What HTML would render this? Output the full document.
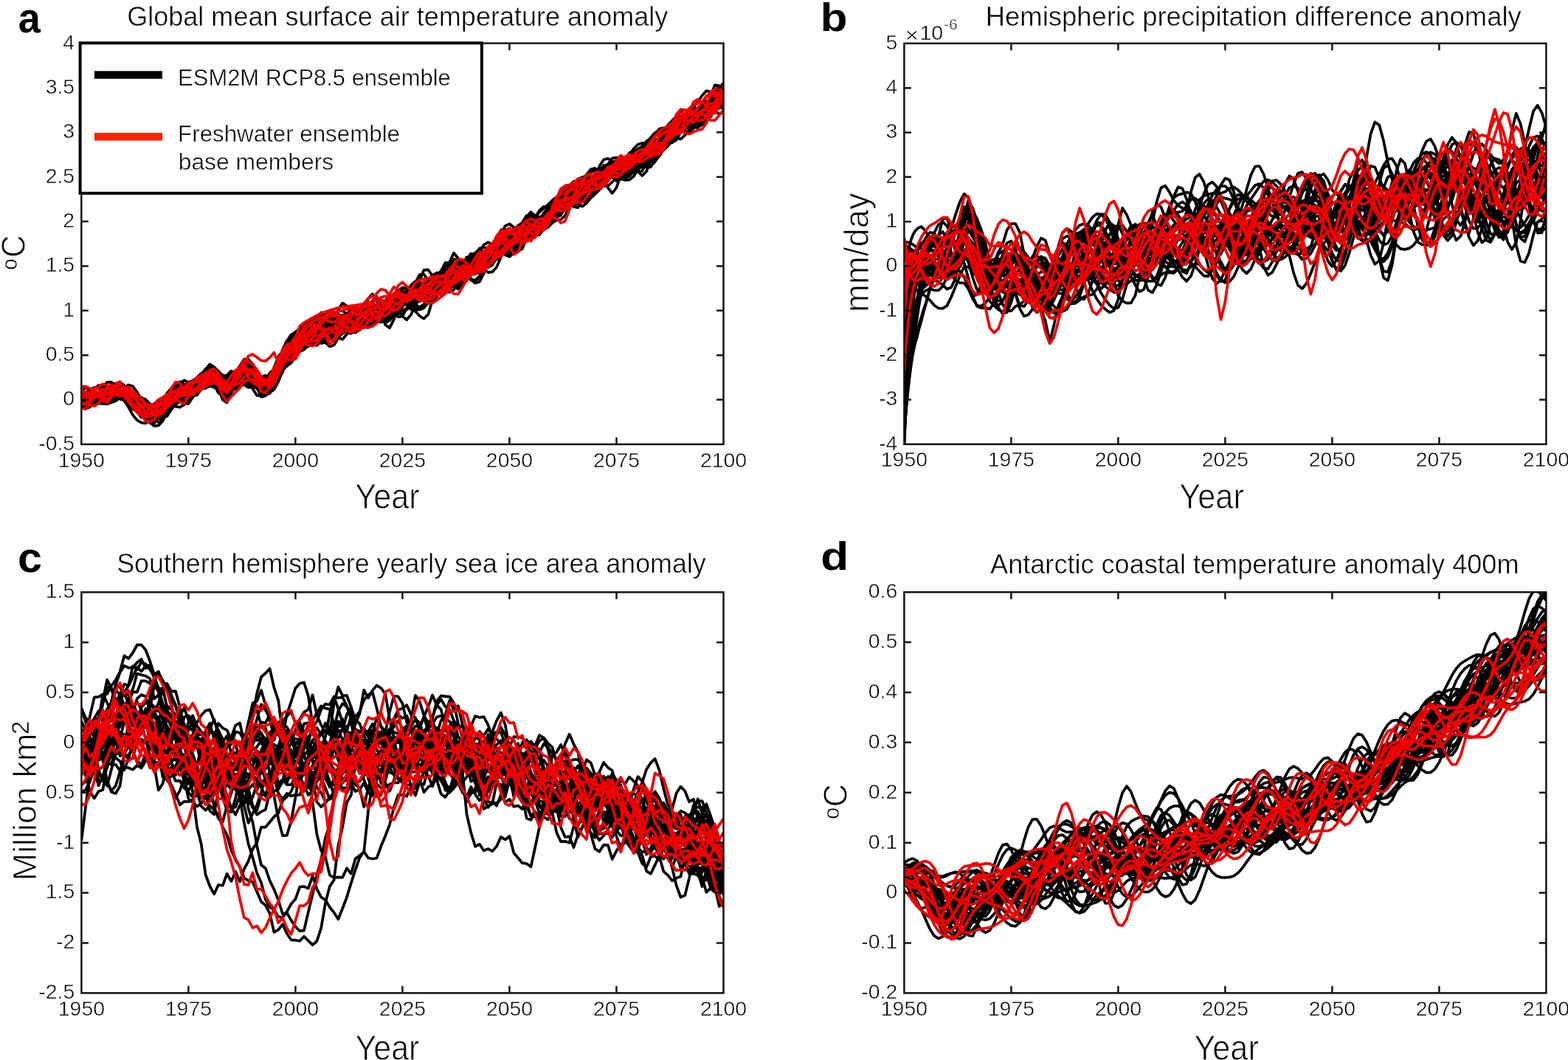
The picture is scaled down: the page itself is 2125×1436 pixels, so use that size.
<!DOCTYPE html>
<html><head><meta charset="utf-8"><title>Figure</title>
<style>html,body{margin:0;padding:0;background:#fff;} svg{display:block;} text{font-family:'Liberation Sans', Arial, Helvetica, sans-serif;fill:#000;stroke:#fff;stroke-width:0.5px;} text[font-weight=bold]{stroke:none;} .big{stroke-width:0.9px;}</style>
</head><body>
<svg width="2125" height="1436" viewBox="0 0 2125 1436">
<rect width="2125" height="1436" fill="#fff"/>
<defs>
<clipPath id="clipa"><rect x="110.3" y="58.6" width="870.20" height="543.30"/></clipPath>
<clipPath id="clipb"><rect x="1225.4" y="58.8" width="870.00" height="543.00"/></clipPath>
<clipPath id="clipc"><rect x="110.4" y="802.3" width="870.10" height="543.00"/></clipPath>
<clipPath id="clipd"><rect x="1225.4" y="802.2" width="870.00" height="543.10"/></clipPath>
</defs>
<g clip-path="url(#clipa)">
<polyline points="110.3,537.9 116.1,533.8 121.9,535.6 127.7,536.6 133.5,534.3 139.3,533.5 145.1,536.5 150.9,537.4 156.7,535.0 162.5,534.5 168.3,542.6 174.1,551.6 179.9,562.1 185.7,569.2 191.5,572.6 197.3,573.5 203.1,569.2 208.9,565.3 214.7,561.4 220.5,564.5 226.3,564.0 232.1,554.9 237.9,544.4 243.7,539.7 249.5,542.4 255.3,542.7 261.1,537.8 266.9,529.8 272.7,520.4 278.5,514.5 284.3,508.4 290.1,510.4 295.9,515.3 301.7,520.7 307.5,525.3 313.3,523.2 319.1,519.7 324.9,509.8 330.8,501.6 336.6,505.3 342.4,507.1 348.2,511.0 354.0,513.2 359.8,511.6 365.6,511.6 371.4,508.9 377.2,499.9 383.0,486.3 388.8,474.0 394.6,465.9 400.4,456.7 406.2,446.8 412.0,445.2 417.8,449.5 423.6,452.6 429.4,452.9 435.2,453.9 441.0,455.8 446.8,451.6 452.6,440.5 458.4,430.9 464.2,432.6 470.0,441.6 475.8,445.2 481.6,445.6 487.4,446.8 493.2,440.6 499.0,425.8 504.8,414.1 510.6,413.2 516.4,418.5 522.2,419.2 528.0,412.4 533.8,406.4 539.6,407.5 545.4,408.9 551.2,407.0 557.0,406.5 562.8,408.7 568.6,408.5 574.4,402.1 580.2,391.0 586.0,380.3 591.8,376.0 597.6,376.1 603.4,375.3 609.2,371.9 615.0,367.7 620.8,366.7 626.6,370.2 632.4,374.9 638.2,378.7 644.0,383.5 649.8,381.8 655.6,370.3 661.4,354.0 667.2,336.7 673.0,327.8 678.8,331.6 684.6,333.6 690.4,327.2 696.2,320.7 702.0,317.8 707.8,313.3 713.6,308.0 719.4,307.8 725.2,310.3 731.0,309.0 736.8,304.6 742.6,300.4 748.4,293.7 754.2,283.9 760.0,273.7 765.9,268.3 771.7,268.3 777.5,272.1 783.3,276.9 789.1,279.7 794.9,275.2 800.7,268.1 806.5,262.9 812.3,257.1 818.1,250.9 823.9,243.6 829.7,236.2 835.5,231.0 841.3,229.6 847.1,225.1 852.9,212.8 858.7,205.2 864.5,208.2 870.3,212.9 876.1,213.2 881.9,208.3 887.7,200.0 893.5,196.2 899.3,195.8 905.1,195.0 910.9,191.1 916.7,180.4 922.5,167.6 928.3,158.8 934.1,155.9 939.9,157.9 945.7,160.6 951.5,159.4 957.3,154.7 963.1,149.5 968.9,146.8 974.7,146.6 980.5,143.7" fill="none" stroke="#000" stroke-width="3.7" stroke-linejoin="round"/>
<polyline points="110.3,539.2 116.1,539.5 121.9,538.7 127.7,539.3 133.5,542.4 139.3,544.2 145.1,541.2 150.9,534.3 156.7,531.1 162.5,530.4 168.3,534.6 174.1,538.5 179.9,543.1 185.7,546.8 191.5,552.6 197.3,557.9 203.1,555.4 208.9,552.8 214.7,549.6 220.5,551.4 226.3,551.3 232.1,545.1 237.9,534.2 243.7,525.4 249.5,524.2 255.3,522.1 261.1,516.8 266.9,513.1 272.7,510.1 278.5,507.7 284.3,504.9 290.1,509.3 295.9,510.1 301.7,509.3 307.5,508.5 313.3,502.6 319.1,505.8 324.9,512.0 330.8,511.4 336.6,511.7 342.4,511.6 348.2,516.3 354.0,525.2 359.8,534.9 365.6,533.1 371.4,517.2 377.2,502.4 383.0,491.9 388.8,485.5 394.6,485.4 400.4,483.0 406.2,476.4 412.0,473.6 417.8,467.7 423.6,456.8 429.4,448.9 435.2,448.3 441.0,453.2 446.8,456.5 452.6,455.7 458.4,451.0 464.2,444.9 470.0,438.8 475.8,430.6 481.6,422.1 487.4,420.4 493.2,424.3 499.0,425.0 504.8,425.4 510.6,429.2 516.4,430.8 522.2,424.4 528.0,415.4 533.8,411.2 539.6,409.2 545.4,405.3 551.2,403.9 557.0,411.0 562.8,421.6 568.6,428.0 574.4,431.7 580.2,426.2 586.0,406.7 591.8,389.1 597.6,386.9 603.4,390.4 609.2,384.8 615.0,373.9 620.8,368.1 626.6,366.9 632.4,364.3 638.2,357.4 644.0,350.1 649.8,347.2 655.6,348.9 661.4,349.2 667.2,344.9 673.0,339.1 678.8,336.1 684.6,335.9 690.4,333.7 696.2,328.4 702.0,318.6 707.8,304.9 713.6,298.3 719.4,299.8 725.2,302.6 731.0,308.4 736.8,310.5 742.6,302.4 748.4,292.2 754.2,287.9 760.0,285.3 765.9,277.8 771.7,265.6 777.5,256.3 783.3,251.7 789.1,248.7 794.9,247.6 800.7,252.1 806.5,256.0 812.3,249.7 818.1,234.5 823.9,223.0 829.7,219.7 835.5,220.6 841.3,222.2 847.1,223.0 852.9,222.0 858.7,217.3 864.5,208.2 870.3,200.1 876.1,199.3 881.9,203.4 887.7,202.2 893.5,192.8 899.3,180.7 905.1,175.5 910.9,176.9 916.7,178.5 922.5,176.6 928.3,168.5 934.1,161.2 939.9,159.0 945.7,158.0 951.5,156.0 957.3,155.4 963.1,154.8 968.9,149.7 974.7,140.8 980.5,132.1" fill="none" stroke="#000" stroke-width="3.7" stroke-linejoin="round"/>
<polyline points="110.3,544.6 116.1,545.3 121.9,545.6 127.7,541.8 133.5,536.0 139.3,531.2 145.1,525.7 150.9,520.7 156.7,519.5 162.5,517.8 168.3,521.9 174.1,532.4 179.9,546.7 185.7,553.2 191.5,551.5 197.3,550.2 203.1,554.0 208.9,564.1 214.7,565.3 220.5,559.7 226.3,549.7 232.1,541.3 237.9,535.4 243.7,530.8 249.5,530.8 255.3,529.5 261.1,525.0 266.9,518.6 272.7,507.9 278.5,499.7 284.3,499.8 290.1,513.2 295.9,524.2 301.7,532.6 307.5,539.1 313.3,530.2 319.1,516.2 324.9,507.1 330.8,507.5 336.6,516.5 342.4,517.8 348.2,515.7 354.0,510.9 359.8,508.6 365.6,512.5 371.4,513.9 377.2,509.5 383.0,498.4 388.8,488.0 394.6,483.0 400.4,475.1 406.2,461.4 412.0,446.9 417.8,436.9 423.6,436.9 429.4,441.0 435.2,442.8 441.0,445.3 446.8,449.3 452.6,454.3 458.4,457.2 464.2,451.6 470.0,440.1 475.8,431.9 481.6,429.0 487.4,432.9 493.2,440.3 499.0,438.5 504.8,428.7 510.6,420.5 516.4,415.4 522.2,412.7 528.0,416.9 533.8,422.7 539.6,419.0 545.4,410.3 551.2,408.0 557.0,405.6 562.8,394.3 568.6,383.7 574.4,383.3 580.2,390.0 586.0,393.0 591.8,384.2 597.6,370.6 603.4,365.0 609.2,367.4 615.0,374.2 620.8,381.3 626.6,382.5 632.4,374.8 638.2,364.6 644.0,357.7 649.8,351.4 655.6,350.5 661.4,353.8 667.2,353.1 673.0,347.6 678.8,342.9 684.6,341.1 690.4,339.8 696.2,338.2 702.0,336.9 707.8,330.8 713.6,320.0 719.4,313.9 725.2,314.4 731.0,313.6 736.8,308.2 742.6,299.4 748.4,287.7 754.2,277.5 760.0,271.5 765.9,269.8 771.7,268.4 777.5,267.6 783.3,264.2 789.1,257.5 794.9,251.6 800.7,249.3 806.5,251.1 812.3,251.8 818.1,245.8 823.9,237.1 829.7,233.4 835.5,236.0 841.3,238.8 847.1,237.4 852.9,234.0 858.7,233.9 864.5,230.7 870.3,219.8 876.1,213.6 881.9,217.3 887.7,217.8 893.5,211.8 899.3,202.2 905.1,193.1 910.9,187.0 916.7,180.1 922.5,173.6 928.3,169.7 934.1,169.4 939.9,172.4 945.7,172.8 951.5,162.4 957.3,147.1 963.1,139.1 968.9,136.5 974.7,132.9 980.5,126.8" fill="none" stroke="#000" stroke-width="3.7" stroke-linejoin="round"/>
<polyline points="110.3,546.5 116.1,545.0 121.9,540.5 127.7,538.4 133.5,541.2 139.3,545.3 145.1,546.1 150.9,538.6 156.7,528.8 162.5,526.4 168.3,536.1 174.1,546.6 179.9,554.6 185.7,556.0 191.5,557.0 197.3,561.5 203.1,564.4 208.9,566.7 214.7,559.7 220.5,548.8 226.3,535.7 232.1,529.5 237.9,532.2 243.7,534.7 249.5,536.4 255.3,536.5 261.1,533.8 266.9,530.0 272.7,523.0 278.5,514.8 284.3,508.2 290.1,512.3 295.9,518.8 301.7,526.9 307.5,532.4 313.3,526.4 319.1,519.4 324.9,512.0 330.8,507.9 336.6,513.6 342.4,517.9 348.2,525.1 354.0,531.6 359.8,535.0 365.6,530.8 371.4,516.3 377.2,502.3 383.0,492.2 388.8,485.0 394.6,481.9 400.4,477.3 406.2,469.6 412.0,464.9 417.8,461.8 423.6,458.2 429.4,451.7 435.2,446.2 441.0,445.3 446.8,445.2 452.6,445.9 458.4,445.4 464.2,439.4 470.0,432.5 475.8,429.9 481.6,431.3 487.4,432.9 493.2,429.6 499.0,422.9 504.8,420.7 510.6,423.9 516.4,423.6 522.2,413.5 528.0,402.6 533.8,401.5 539.6,408.3 545.4,412.5 551.2,411.6 557.0,414.7 562.8,418.9 568.6,417.4 574.4,415.2 580.2,410.0 586.0,397.6 591.8,385.3 597.6,378.0 603.4,369.1 609.2,358.7 615.0,357.6 620.8,366.2 626.6,375.6 632.4,378.4 638.2,370.8 644.0,358.5 649.8,349.0 655.6,343.5 661.4,341.5 667.2,341.1 673.0,335.9 678.8,326.2 684.6,318.0 690.4,314.3 696.2,315.3 702.0,318.2 707.8,321.5 713.6,324.7 719.4,321.6 725.2,311.5 731.0,304.6 736.8,303.9 742.6,305.1 748.4,302.0 754.2,298.4 760.0,297.5 765.9,292.1 771.7,277.0 777.5,263.1 783.3,258.3 789.1,258.3 794.9,257.6 800.7,259.9 806.5,262.0 812.3,252.8 818.1,236.7 823.9,222.8 829.7,214.6 835.5,213.4 841.3,215.8 847.1,216.5 852.9,216.4 858.7,215.6 864.5,209.0 870.3,198.2 876.1,192.8 881.9,195.3 887.7,194.2 893.5,186.7 899.3,178.1 905.1,173.0 910.9,172.1 916.7,173.4 922.5,172.1 928.3,164.5 934.1,156.9 939.9,157.1 945.7,162.1 951.5,161.4 957.3,156.1 963.1,152.4 968.9,145.7 974.7,133.6 980.5,124.5" fill="none" stroke="#000" stroke-width="3.7" stroke-linejoin="round"/>
<polyline points="110.3,540.0 116.1,537.3 121.9,535.7 127.7,535.4 133.5,532.2 139.3,524.0 145.1,517.8 150.9,517.7 156.7,521.7 162.5,523.1 168.3,527.1 174.1,534.0 179.9,543.0 185.7,548.4 191.5,555.5 197.3,566.7 203.1,572.0 208.9,571.2 214.7,562.8 220.5,556.7 226.3,548.8 232.1,540.2 237.9,534.4 243.7,530.8 249.5,532.1 255.3,533.9 261.1,532.0 266.9,526.5 272.7,518.3 278.5,514.3 284.3,512.3 290.1,515.7 295.9,517.5 301.7,523.3 307.5,531.4 313.3,526.0 319.1,512.6 324.9,497.7 330.8,491.0 336.6,496.0 342.4,497.6 348.2,503.5 354.0,513.5 359.8,517.8 365.6,512.1 371.4,501.6 377.2,492.3 383.0,479.4 388.8,462.5 394.6,453.3 400.4,452.9 406.2,457.6 412.0,461.7 417.8,457.1 423.6,449.4 429.4,443.8 435.2,443.1 441.0,448.5 446.8,451.5 452.6,449.0 458.4,446.3 464.2,445.5 470.0,445.8 475.8,446.7 481.6,442.4 487.4,430.7 493.2,418.9 499.0,410.7 504.8,410.8 510.6,421.4 516.4,432.8 522.2,435.4 528.0,431.1 533.8,425.3 539.6,422.6 545.4,421.6 551.2,418.3 557.0,412.9 562.8,406.3 568.6,401.4 574.4,399.1 580.2,398.2 586.0,399.0 591.8,399.9 597.6,394.8 603.4,379.5 609.2,360.9 615.0,351.1 620.8,352.1 626.6,357.5 632.4,359.3 638.2,355.8 644.0,354.2 649.8,354.0 655.6,352.0 661.4,348.8 667.2,346.6 673.0,344.8 678.8,339.9 684.6,328.3 690.4,317.4 696.2,315.1 702.0,315.3 707.8,312.4 713.6,311.4 719.4,311.5 725.2,306.3 731.0,297.9 736.8,290.4 742.6,284.4 748.4,280.4 754.2,280.0 760.0,277.9 765.9,272.6 771.7,269.9 777.5,273.0 783.3,271.3 789.1,261.9 794.9,250.5 800.7,243.1 806.5,242.6 812.3,244.7 818.1,243.3 823.9,240.7 829.7,238.5 835.5,237.7 841.3,240.6 847.1,242.3 852.9,238.7 858.7,232.2 864.5,222.6 870.3,210.8 876.1,200.9 881.9,197.8 887.7,201.1 893.5,205.1 899.3,203.4 905.1,197.5 910.9,189.3 916.7,181.7 922.5,179.5 928.3,175.8 934.1,166.6 939.9,157.8 945.7,151.9 951.5,146.9 957.3,141.6 963.1,135.6 968.9,129.9 974.7,126.8 980.5,126.4" fill="none" stroke="#000" stroke-width="3.7" stroke-linejoin="round"/>
<polyline points="110.3,542.7 116.1,541.0 121.9,539.0 127.7,537.3 133.5,536.3 139.3,531.4 145.1,524.1 150.9,522.4 156.7,529.6 162.5,535.3 168.3,538.3 174.1,539.9 179.9,547.0 185.7,553.5 191.5,560.2 197.3,568.6 203.1,572.6 208.9,577.1 214.7,576.4 220.5,570.4 226.3,557.6 232.1,547.5 237.9,544.7 243.7,541.9 249.5,536.0 255.3,527.7 261.1,523.0 266.9,523.5 272.7,521.3 278.5,517.4 284.3,515.7 290.1,520.4 295.9,518.2 301.7,514.1 307.5,514.5 313.3,511.4 319.1,510.0 324.9,506.1 330.8,500.1 336.6,497.2 342.4,493.8 348.2,502.8 354.0,516.0 359.8,520.3 365.6,514.2 371.4,505.7 377.2,504.1 383.0,500.6 388.8,488.1 394.6,473.7 400.4,458.8 406.2,447.1 412.0,445.2 417.8,447.3 423.6,445.3 429.4,433.9 435.2,423.3 441.0,424.4 446.8,428.7 452.6,428.7 458.4,429.3 464.2,433.9 470.0,434.3 475.8,429.4 481.6,427.0 487.4,428.4 493.2,429.1 499.0,427.9 504.8,427.4 510.6,428.5 516.4,427.5 522.2,421.2 528.0,416.5 533.8,416.4 539.6,414.4 545.4,411.8 551.2,411.7 557.0,409.1 562.8,398.9 568.6,380.6 574.4,365.8 580.2,365.4 586.0,373.5 591.8,378.0 597.6,377.2 603.4,373.9 609.2,371.9 615.0,371.7 620.8,366.9 626.6,359.5 632.4,355.5 638.2,356.5 644.0,356.9 649.8,351.0 655.6,343.9 661.4,341.0 667.2,343.2 673.0,347.9 678.8,345.2 684.6,331.9 690.4,320.3 696.2,315.8 702.0,313.0 707.8,311.7 713.6,314.1 719.4,313.8 725.2,307.3 731.0,301.5 736.8,297.4 742.6,293.6 748.4,291.3 754.2,285.8 760.0,277.7 765.9,275.6 771.7,274.6 777.5,266.3 783.3,253.7 789.1,247.7 794.9,247.6 800.7,246.1 806.5,244.3 812.3,243.7 818.1,242.0 823.9,240.8 829.7,240.2 835.5,236.9 841.3,231.6 847.1,228.1 852.9,225.0 858.7,217.6 864.5,207.7 870.3,199.7 876.1,192.8 881.9,186.4 887.7,179.7 893.5,177.5 899.3,179.1 905.1,176.6 910.9,167.2 916.7,157.7 922.5,161.0 928.3,170.9 934.1,169.5 939.9,156.7 945.7,145.9 951.5,142.0 957.3,140.4 963.1,136.6 968.9,132.5 974.7,131.0 980.5,133.0" fill="none" stroke="#000" stroke-width="3.7" stroke-linejoin="round"/>
<polyline points="110.3,531.7 116.1,530.9 121.9,531.0 127.7,531.7 133.5,531.9 139.3,530.3 145.1,530.6 150.9,532.4 156.7,533.7 162.5,532.8 168.3,535.3 174.1,536.6 179.9,540.0 185.7,545.3 191.5,552.8 197.3,559.4 203.1,559.0 208.9,557.8 214.7,550.5 220.5,542.2 226.3,533.5 232.1,528.1 237.9,528.5 243.7,530.4 249.5,531.6 255.3,529.1 261.1,525.8 266.9,525.6 272.7,526.0 278.5,525.9 284.3,522.9 290.1,524.6 295.9,524.2 301.7,526.4 307.5,529.8 313.3,524.4 319.1,522.3 324.9,522.3 330.8,521.3 336.6,525.0 342.4,524.4 348.2,522.4 354.0,521.2 359.8,522.9 365.6,521.7 371.4,513.5 377.2,503.0 383.0,490.3 388.8,475.5 394.6,462.0 400.4,451.9 406.2,450.5 412.0,455.5 417.8,455.9 423.6,450.9 429.4,444.3 435.2,438.3 441.0,435.7 446.8,438.9 452.6,444.8 458.4,443.4 464.2,438.4 470.0,439.1 475.8,442.4 481.6,443.0 487.4,437.3 493.2,423.0 499.0,410.5 504.8,413.4 510.6,424.7 516.4,428.4 522.2,422.5 528.0,417.1 533.8,416.2 539.6,412.3 545.4,404.3 551.2,402.1 557.0,408.5 562.8,416.4 568.6,419.4 574.4,417.3 580.2,410.0 586.0,398.4 591.8,386.5 597.6,374.4 603.4,365.7 609.2,366.4 615.0,369.5 620.8,366.4 626.6,364.8 632.4,369.7 638.2,372.2 644.0,369.3 649.8,363.7 655.6,360.6 661.4,362.1 667.2,359.0 673.0,348.7 678.8,338.2 684.6,330.3 690.4,324.7 696.2,321.3 702.0,322.5 707.8,325.5 713.6,323.0 719.4,315.9 725.2,309.3 731.0,306.3 736.8,303.4 742.6,296.1 748.4,285.7 754.2,277.5 760.0,267.5 765.9,254.9 771.7,251.2 777.5,255.3 783.3,249.8 789.1,239.9 794.9,239.1 800.7,244.9 806.5,249.3 812.3,249.7 818.1,246.4 823.9,240.7 829.7,235.7 835.5,235.1 841.3,236.5 847.1,235.3 852.9,230.9 858.7,224.3 864.5,214.9 870.3,205.2 876.1,199.7 881.9,197.5 887.7,194.7 893.5,192.4 899.3,189.2 905.1,184.0 910.9,178.1 916.7,171.7 922.5,166.5 928.3,165.6 934.1,167.6 939.9,166.5 945.7,161.7 951.5,155.4 957.3,149.1 963.1,146.2 968.9,150.3 974.7,154.7 980.5,152.0" fill="none" stroke="#000" stroke-width="3.7" stroke-linejoin="round"/>
<polyline points="110.3,529.0 116.1,532.3 121.9,535.1 127.7,539.2 133.5,542.1 139.3,542.0 145.1,540.3 150.9,534.6 156.7,526.8 162.5,523.2 168.3,529.9 174.1,535.9 179.9,540.1 185.7,542.7 191.5,549.4 197.3,561.4 203.1,569.6 208.9,573.3 214.7,565.9 220.5,557.2 226.3,550.6 232.1,546.6 237.9,540.9 243.7,533.2 249.5,531.5 255.3,533.6 261.1,535.7 266.9,535.3 272.7,527.4 278.5,519.6 284.3,516.3 290.1,518.8 295.9,519.4 301.7,523.7 307.5,528.4 313.3,523.0 319.1,518.7 324.9,516.0 330.8,513.4 336.6,515.6 342.4,515.7 348.2,518.0 354.0,518.5 359.8,516.7 365.6,512.5 371.4,502.8 377.2,489.3 383.0,473.7 388.8,461.3 394.6,458.0 400.4,458.4 406.2,457.1 412.0,457.8 417.8,458.8 423.6,457.6 429.4,456.7 435.2,458.6 441.0,460.3 446.8,454.2 452.6,441.7 458.4,430.9 464.2,428.2 470.0,432.3 475.8,436.8 481.6,436.6 487.4,431.9 493.2,425.0 499.0,416.6 504.8,414.1 510.6,422.3 516.4,433.0 522.2,437.2 528.0,433.9 533.8,423.1 539.6,411.7 545.4,409.1 551.2,408.4 557.0,400.8 562.8,395.2 568.6,397.8 574.4,400.1 580.2,395.6 586.0,386.0 591.8,375.6 597.6,366.8 603.4,360.9 609.2,357.7 615.0,359.5 620.8,367.3 626.6,373.9 632.4,371.6 638.2,363.5 644.0,356.6 649.8,352.4 655.6,350.4 661.4,344.5 667.2,334.1 673.0,326.8 678.8,322.6 684.6,318.2 690.4,318.3 696.2,326.6 702.0,335.0 707.8,333.3 713.6,325.6 719.4,316.4 725.2,305.7 731.0,299.3 736.8,297.2 742.6,291.9 748.4,284.2 754.2,283.2 760.0,282.5 765.9,275.5 771.7,267.8 777.5,264.3 783.3,262.0 789.1,261.7 794.9,259.3 800.7,252.3 806.5,246.5 812.3,243.4 818.1,237.4 823.9,227.1 829.7,219.4 835.5,218.5 841.3,219.1 847.1,219.0 852.9,215.9 858.7,208.7 864.5,201.4 870.3,199.2 876.1,202.7 881.9,206.0 887.7,200.9 893.5,189.8 899.3,178.1 905.1,169.5 910.9,163.4 916.7,157.8 922.5,157.8 928.3,165.3 934.1,173.8 939.9,174.0 945.7,164.2 951.5,151.6 957.3,142.2 963.1,133.2 968.9,124.1 974.7,118.3 980.5,118.5" fill="none" stroke="#000" stroke-width="3.7" stroke-linejoin="round"/>
<polyline points="110.3,535.0 116.1,536.8 121.9,537.7 127.7,535.9 133.5,534.8 139.3,536.1 145.1,541.3 150.9,544.6 156.7,540.0 162.5,529.8 168.3,526.7 174.1,530.4 179.9,539.8 185.7,544.9 191.5,545.3 197.3,549.0 203.1,555.3 208.9,562.8 214.7,558.6 220.5,546.2 226.3,532.4 232.1,526.3 237.9,525.9 243.7,526.5 249.5,529.1 255.3,529.8 261.1,528.7 266.9,524.9 272.7,516.1 278.5,508.3 284.3,504.3 290.1,511.7 295.9,520.2 301.7,527.1 307.5,531.3 313.3,528.7 319.1,527.3 324.9,522.4 330.8,517.3 336.6,521.7 342.4,524.2 348.2,525.4 354.0,522.6 359.8,517.7 365.6,514.1 371.4,509.9 377.2,502.1 383.0,489.1 388.8,476.8 394.6,468.1 400.4,460.9 406.2,461.4 412.0,466.8 417.8,464.3 423.6,456.7 429.4,453.6 435.2,454.4 441.0,451.1 446.8,443.0 452.6,438.2 458.4,436.7 464.2,435.5 470.0,438.0 475.8,441.8 481.6,440.0 487.4,437.4 493.2,440.4 499.0,440.5 504.8,430.8 510.6,418.6 516.4,414.4 522.2,413.8 528.0,409.9 533.8,406.0 539.6,400.5 545.4,395.0 551.2,395.6 557.0,400.9 562.8,404.3 568.6,404.5 574.4,404.5 580.2,396.7 586.0,380.0 591.8,369.6 597.6,369.6 603.4,370.0 609.2,363.1 615.0,356.0 620.8,357.7 626.6,366.6 632.4,374.9 638.2,378.9 644.0,379.8 649.8,374.0 655.6,363.5 661.4,354.3 667.2,344.7 673.0,331.6 678.8,319.4 684.6,314.9 690.4,315.8 696.2,317.6 702.0,319.3 707.8,317.6 713.6,315.3 719.4,316.0 725.2,315.6 731.0,309.7 736.8,297.3 742.6,287.9 748.4,286.1 754.2,287.1 760.0,287.7 765.9,284.1 771.7,270.8 777.5,253.5 783.3,243.9 789.1,246.6 794.9,250.7 800.7,249.2 806.5,244.6 812.3,239.5 818.1,235.6 823.9,233.2 829.7,233.1 835.5,235.6 841.3,238.7 847.1,239.3 852.9,236.3 858.7,231.1 864.5,224.9 870.3,218.2 876.1,211.9 881.9,209.7 887.7,209.1 893.5,205.0 899.3,193.4 905.1,177.5 910.9,165.7 916.7,161.9 922.5,162.4 928.3,162.1 934.1,161.0 939.9,159.9 945.7,160.8 951.5,154.9 957.3,140.3 963.1,133.3 968.9,135.9 974.7,136.4 980.5,134.0" fill="none" stroke="#000" stroke-width="3.7" stroke-linejoin="round"/>
<polyline points="110.3,540.3 116.1,537.5 121.9,537.1 127.7,538.6 133.5,541.4 139.3,542.1 145.1,540.5 150.9,535.3 156.7,529.9 162.5,528.9 168.3,535.4 174.1,539.4 179.9,541.7 185.7,540.8 191.5,539.0 197.3,541.1 203.1,547.1 208.9,556.9 214.7,560.5 220.5,561.8 226.3,558.1 232.1,551.4 237.9,543.4 243.7,534.5 249.5,531.0 255.3,531.1 261.1,529.7 266.9,523.7 272.7,511.6 278.5,500.8 284.3,493.4 290.1,497.1 295.9,503.0 301.7,509.1 307.5,511.5 313.3,506.8 319.1,505.2 324.9,498.1 330.8,489.7 336.6,492.9 342.4,497.2 348.2,506.4 354.0,517.5 359.8,524.7 365.6,524.9 371.4,516.9 377.2,506.1 383.0,492.4 388.8,479.2 394.6,472.1 400.4,461.8 406.2,446.3 412.0,439.8 417.8,442.7 423.6,446.9 429.4,445.8 435.2,442.7 441.0,444.1 446.8,442.3 452.6,431.8 458.4,426.0 464.2,430.0 470.0,430.9 475.8,427.9 481.6,425.9 487.4,426.4 493.2,427.7 499.0,422.9 504.8,417.6 510.6,418.9 516.4,421.1 522.2,418.6 528.0,412.8 533.8,408.3 539.6,408.3 545.4,409.5 551.2,409.3 557.0,408.4 562.8,412.3 568.6,416.3 574.4,412.4 580.2,403.7 586.0,393.7 591.8,387.8 597.6,388.5 603.4,384.5 609.2,372.9 615.0,363.4 620.8,360.4 626.6,363.8 632.4,366.2 638.2,358.8 644.0,347.8 649.8,343.0 655.6,344.0 661.4,344.7 667.2,341.9 673.0,334.1 678.8,326.9 684.6,328.5 690.4,331.8 696.2,326.3 702.0,316.5 707.8,311.7 713.6,313.2 719.4,315.7 725.2,317.8 731.0,318.3 736.8,310.0 742.6,296.9 748.4,285.7 754.2,275.1 760.0,265.6 765.9,259.4 771.7,252.6 777.5,247.5 783.3,248.0 789.1,250.4 794.9,249.7 800.7,249.7 806.5,251.0 812.3,250.9 818.1,251.9 823.9,251.9 829.7,246.5 835.5,241.1 841.3,240.0 847.1,238.3 852.9,231.3 858.7,223.4 864.5,219.3 870.3,216.9 876.1,213.9 881.9,210.0 887.7,200.9 893.5,192.5 899.3,188.9 905.1,184.0 910.9,177.0 916.7,172.7 922.5,169.7 928.3,165.3 934.1,166.3 939.9,171.7 945.7,172.7 951.5,168.9 957.3,163.8 963.1,157.3 968.9,149.1 974.7,141.5 980.5,135.3" fill="none" stroke="#000" stroke-width="3.7" stroke-linejoin="round"/>
<polyline points="110.3,537.4 116.1,534.9 121.9,536.1 127.7,539.6 133.5,543.2 139.3,542.2 145.1,535.3 150.9,528.6 156.7,530.2 162.5,534.1 168.3,537.4 174.1,536.0 179.9,535.9 185.7,535.9 191.5,538.4 197.3,544.5 203.1,547.9 208.9,553.5 214.7,556.6 220.5,558.6 226.3,553.4 232.1,547.3 237.9,545.2 243.7,541.0 249.5,536.1 255.3,532.9 261.1,530.5 266.9,527.2 272.7,521.6 278.5,518.6 284.3,517.2 290.1,519.6 295.9,518.4 301.7,521.1 307.5,527.8 313.3,526.1 319.1,520.6 324.9,509.8 330.8,500.0 336.6,500.2 342.4,499.6 348.2,506.0 354.0,516.8 359.8,526.3 365.6,531.8 371.4,527.7 377.2,517.2 383.0,501.8 388.8,487.8 394.6,481.2 400.4,478.4 406.2,474.9 412.0,471.7 417.8,469.0 423.6,466.5 429.4,464.6 435.2,464.9 441.0,464.2 446.8,456.5 452.6,444.4 458.4,436.1 464.2,437.2 470.0,444.0 475.8,447.4 481.6,445.1 487.4,441.8 493.2,438.0 499.0,431.5 504.8,428.3 510.6,425.1 516.4,416.1 522.2,406.9 528.0,402.0 533.8,399.2 539.6,395.8 545.4,391.2 551.2,389.1 557.0,388.8 562.8,388.3 568.6,391.1 574.4,396.5 580.2,398.6 586.0,394.7 591.8,390.3 597.6,387.1 603.4,381.4 609.2,377.9 615.0,382.3 620.8,385.5 626.6,378.7 632.4,370.5 638.2,368.8 644.0,370.9 649.8,368.8 655.6,359.3 661.4,350.0 667.2,346.7 673.0,344.5 678.8,337.4 684.6,329.6 690.4,326.7 696.2,325.1 702.0,317.8 707.8,310.6 713.6,313.0 719.4,317.1 725.2,314.2 731.0,303.7 736.8,288.6 742.6,283.0 748.4,288.2 754.2,286.4 760.0,271.6 765.9,257.3 771.7,251.7 777.5,255.5 783.3,263.1 789.1,269.2 794.9,270.5 800.7,263.3 806.5,250.0 812.3,237.0 818.1,229.1 823.9,229.2 829.7,228.5 835.5,219.9 841.3,213.5 847.1,217.0 852.9,220.2 858.7,214.7 864.5,209.2 870.3,209.9 876.1,208.4 881.9,203.3 887.7,201.1 893.5,201.9 899.3,198.6 905.1,190.0 910.9,178.5 916.7,166.9 922.5,161.0 928.3,162.3 934.1,163.8 939.9,156.7 945.7,146.5 951.5,141.1 957.3,141.4 963.1,144.4 968.9,143.9 974.7,141.7 980.5,142.9" fill="none" stroke="#000" stroke-width="3.7" stroke-linejoin="round"/>
<polyline points="110.3,545.0 116.1,540.6 121.9,539.2 127.7,537.4 133.5,534.3 139.3,533.8 145.1,532.9 150.9,528.0 156.7,524.7 162.5,524.7 168.3,529.1 174.1,532.9 179.9,539.4 185.7,545.7 191.5,548.4 197.3,548.9 203.1,548.3 208.9,548.2 214.7,543.9 220.5,545.5 226.3,546.1 232.1,542.3 237.9,535.5 243.7,526.0 249.5,524.4 255.3,528.9 261.1,529.6 266.9,526.4 272.7,522.2 278.5,519.5 284.3,517.9 290.1,524.2 295.9,526.3 301.7,526.5 307.5,527.8 313.3,523.2 319.1,519.1 324.9,512.0 330.8,507.8 336.6,515.8 342.4,522.0 348.2,526.2 354.0,527.8 359.8,526.1 365.6,515.9 371.4,498.1 377.2,483.2 383.0,475.9 388.8,474.7 394.6,472.4 400.4,460.3 406.2,447.7 412.0,442.7 417.8,438.9 423.6,433.9 429.4,430.4 435.2,429.7 441.0,431.5 446.8,432.8 452.6,432.5 458.4,430.2 464.2,427.6 470.0,424.6 475.8,420.8 481.6,419.9 487.4,421.4 493.2,422.2 499.0,417.9 504.8,415.1 510.6,422.5 516.4,430.9 522.2,427.1 528.0,412.1 533.8,398.3 539.6,396.0 545.4,401.2 551.2,404.1 557.0,397.9 562.8,387.5 568.6,383.7 574.4,386.7 580.2,388.9 586.0,391.0 591.8,393.8 597.6,394.9 603.4,396.7 609.2,393.8 615.0,382.4 620.8,374.3 626.6,373.8 632.4,368.9 638.2,355.4 644.0,343.6 649.8,336.6 655.6,335.0 661.4,336.9 667.2,337.4 673.0,336.8 678.8,334.9 684.6,329.8 690.4,321.6 696.2,315.0 702.0,314.3 707.8,315.7 713.6,314.9 719.4,313.9 725.2,313.8 731.0,311.3 736.8,305.0 742.6,298.9 748.4,290.5 754.2,276.0 760.0,259.5 765.9,251.7 771.7,250.9 777.5,248.3 783.3,243.4 789.1,244.6 794.9,247.4 800.7,244.6 806.5,237.2 812.3,230.0 818.1,225.4 823.9,224.8 829.7,228.1 835.5,229.2 841.3,224.3 847.1,217.7 852.9,214.9 858.7,211.1 864.5,204.9 870.3,205.0 876.1,211.9 881.9,216.2 887.7,211.4 893.5,202.0 899.3,194.3 905.1,190.7 910.9,187.6 916.7,181.8 922.5,173.2 928.3,163.0 934.1,160.5 939.9,164.7 945.7,163.4 951.5,156.6 957.3,151.8 963.1,150.2 968.9,147.4 974.7,140.6 980.5,131.5" fill="none" stroke="#000" stroke-width="3.7" stroke-linejoin="round"/>
<polyline points="110.3,530.7 116.1,530.5 121.9,538.2 127.7,544.5 133.5,546.5 139.3,547.0 145.1,547.2 150.9,545.3 156.7,543.3 162.5,538.7 168.3,536.6 174.1,536.7 179.9,539.7 185.7,541.9 191.5,547.8 197.3,557.0 203.1,560.1 208.9,558.4 214.7,550.7 220.5,549.1 226.3,547.7 232.1,540.7 237.9,530.2 243.7,519.5 249.5,515.2 255.3,517.9 261.1,523.8 266.9,527.7 272.7,523.9 278.5,513.4 284.3,499.9 290.1,500.4 295.9,513.0 301.7,528.4 307.5,534.8 313.3,529.1 319.1,525.6 324.9,518.7 330.8,508.5 336.6,507.8 342.4,510.3 348.2,516.5 354.0,522.0 359.8,527.0 365.6,528.1 371.4,520.6 377.2,509.3 383.0,497.1 388.8,486.7 394.6,476.6 400.4,465.6 406.2,459.5 412.0,458.4 417.8,452.3 423.6,441.8 429.4,438.1 435.2,446.0 441.0,454.7 446.8,448.8 452.6,432.4 458.4,421.4 464.2,420.7 470.0,425.7 475.8,431.9 481.6,434.0 487.4,432.6 493.2,432.2 499.0,429.0 504.8,420.9 510.6,419.1 516.4,426.5 522.2,430.1 528.0,428.0 533.8,428.5 539.6,425.9 545.4,414.9 551.2,404.3 557.0,395.4 562.8,389.1 568.6,391.7 574.4,398.1 580.2,401.1 586.0,401.1 591.8,396.9 597.6,390.5 603.4,384.7 609.2,374.6 615.0,362.0 620.8,355.0 626.6,353.6 632.4,352.3 638.2,347.5 644.0,342.3 649.8,339.3 655.6,340.5 661.4,346.7 667.2,352.1 673.0,350.1 678.8,339.2 684.6,325.5 690.4,319.0 696.2,320.7 702.0,323.3 707.8,324.6 713.6,325.3 719.4,323.7 725.2,320.1 731.0,315.3 736.8,306.3 742.6,299.7 748.4,298.3 754.2,295.6 760.0,285.2 765.9,272.0 771.7,262.2 777.5,255.9 783.3,255.0 789.1,258.4 794.9,255.1 800.7,244.1 806.5,238.8 812.3,241.2 818.1,238.8 823.9,229.3 829.7,220.6 835.5,217.8 841.3,221.0 847.1,223.2 852.9,219.7 858.7,216.5 864.5,221.7 870.3,225.6 876.1,216.8 881.9,201.8 887.7,190.4 893.5,187.0 899.3,182.7 905.1,173.2 910.9,164.9 916.7,160.8 922.5,159.3 928.3,159.2 934.1,160.2 939.9,159.4 945.7,157.2 951.5,153.3 957.3,147.9 963.1,141.6 968.9,132.9 974.7,127.9 980.5,129.6" fill="none" stroke="#000" stroke-width="3.7" stroke-linejoin="round"/>
<polyline points="110.3,534.8 116.1,539.8 121.9,546.3 127.7,545.7 133.5,538.7 139.3,528.8 145.1,524.6 150.9,527.6 156.7,530.9 162.5,529.6 168.3,529.1 174.1,528.7 179.9,534.5 185.7,542.0 191.5,549.4 197.3,556.2 203.1,555.6 208.9,554.6 214.7,554.1 220.5,556.9 226.3,553.9 232.1,545.8 237.9,537.1 243.7,531.0 249.5,530.7 255.3,527.5 261.1,520.8 266.9,515.4 272.7,508.4 278.5,502.0 284.3,497.5 290.1,501.2 295.9,504.9 301.7,512.8 307.5,521.7 313.3,518.7 319.1,516.2 324.9,515.3 330.8,515.0 336.6,519.4 342.4,518.7 348.2,520.3 354.0,523.7 359.8,523.4 365.6,515.9 371.4,506.4 377.2,501.8 383.0,497.6 388.8,491.4 394.6,485.7 400.4,476.3 406.2,466.8 412.0,465.7 417.8,465.8 423.6,462.0 429.4,453.1 435.2,439.6 441.0,430.8 446.8,434.1 452.6,446.3 458.4,457.3 464.2,459.8 470.0,452.8 475.8,442.9 481.6,437.6 487.4,435.4 493.2,431.5 499.0,424.2 504.8,420.3 510.6,423.0 516.4,425.5 522.2,423.1 528.0,420.9 533.8,424.6 539.6,429.4 545.4,428.4 551.2,417.4 557.0,399.4 562.8,388.4 568.6,388.6 574.4,390.6 580.2,393.3 586.0,396.4 591.8,395.1 597.6,389.7 603.4,382.6 609.2,378.2 615.0,378.4 620.8,375.3 626.6,370.4 632.4,366.4 638.2,359.2 644.0,351.5 649.8,346.9 655.6,345.1 661.4,345.3 667.2,340.7 673.0,325.3 678.8,311.7 684.6,310.9 690.4,319.1 696.2,327.0 702.0,328.6 707.8,324.7 713.6,317.4 719.4,311.4 725.2,311.2 731.0,313.7 736.8,311.1 742.6,302.7 748.4,294.1 754.2,287.6 760.0,278.8 765.9,272.1 771.7,273.2 777.5,274.0 783.3,263.3 789.1,246.9 794.9,238.6 800.7,242.6 806.5,248.0 812.3,245.7 818.1,239.2 823.9,231.8 829.7,222.6 835.5,217.0 841.3,216.0 847.1,213.4 852.9,208.9 858.7,207.9 864.5,209.2 870.3,209.1 876.1,209.5 881.9,209.3 887.7,204.9 893.5,202.5 899.3,202.7 905.1,198.1 910.9,182.9 916.7,162.4 922.5,150.6 928.3,149.0 934.1,152.2 939.9,155.7 945.7,156.2 951.5,156.0 957.3,156.4 963.1,152.9 968.9,146.6 974.7,141.7 980.5,136.8" fill="none" stroke="#000" stroke-width="3.7" stroke-linejoin="round"/>
<polyline points="110.3,542.1 116.1,543.6 121.9,540.9 127.7,538.5 133.5,538.2 139.3,536.6 145.1,534.6 150.9,533.3 156.7,531.0 162.5,525.5 168.3,526.8 174.1,531.7 179.9,538.8 185.7,544.3 191.5,550.5 197.3,559.6 203.1,564.8 208.9,567.2 214.7,561.9 220.5,555.3 226.3,548.3 232.1,546.6 237.9,550.8 243.7,551.8 249.5,548.1 255.3,539.9 261.1,528.2 266.9,519.3 272.7,515.3 278.5,514.2 284.3,511.7 290.1,516.1 295.9,520.9 301.7,525.5 307.5,526.2 313.3,516.5 319.1,509.5 324.9,504.2 330.8,500.6 336.6,504.5 342.4,505.9 348.2,509.3 354.0,514.7 359.8,520.7 365.6,520.6 371.4,509.2 377.2,495.5 383.0,484.3 388.8,471.9 394.6,459.5 400.4,450.7 406.2,447.1 412.0,443.4 417.8,437.0 423.6,436.6 429.4,442.4 435.2,450.6 441.0,457.1 446.8,454.2 452.6,444.8 458.4,440.2 464.2,444.2 470.0,450.5 475.8,451.9 481.6,447.4 487.4,437.4 493.2,421.3 499.0,404.5 504.8,398.2 510.6,407.3 516.4,424.6 522.2,439.9 528.0,444.2 533.8,432.8 539.6,414.9 545.4,401.5 551.2,395.6 557.0,393.5 562.8,390.9 568.6,387.5 574.4,388.9 580.2,395.8 586.0,398.6 591.8,390.1 597.6,375.2 603.4,367.7 609.2,371.5 615.0,377.2 620.8,376.3 626.6,371.7 632.4,367.2 638.2,361.6 644.0,356.1 649.8,350.6 655.6,345.2 661.4,342.7 667.2,342.6 673.0,340.4 678.8,334.8 684.6,328.7 690.4,325.4 696.2,325.0 702.0,326.2 707.8,324.0 713.6,317.6 719.4,311.1 725.2,306.3 731.0,307.1 736.8,309.9 742.6,308.1 748.4,302.0 754.2,295.3 760.0,286.2 765.9,275.0 771.7,266.7 777.5,263.7 783.3,262.0 789.1,260.3 794.9,257.5 800.7,252.0 806.5,246.6 812.3,245.8 818.1,247.3 823.9,245.0 829.7,238.0 835.5,232.4 841.3,230.0 847.1,224.0 852.9,211.9 858.7,203.5 864.5,204.6 870.3,209.1 876.1,214.6 881.9,217.5 887.7,209.4 893.5,196.3 899.3,186.6 905.1,184.1 910.9,182.9 916.7,177.8 922.5,173.3 928.3,171.1 934.1,170.1 939.9,166.5 945.7,155.8 951.5,141.0 957.3,130.8 963.1,127.9 968.9,125.7 974.7,119.7 980.5,112.4" fill="none" stroke="#000" stroke-width="3.7" stroke-linejoin="round"/>
<polyline points="110.3,544.9 116.1,542.0 121.9,535.3 127.7,528.3 133.5,524.0 139.3,520.9 145.1,523.3 150.9,527.1 156.7,526.6 162.5,523.6 168.3,526.3 174.1,532.2 179.9,543.8 185.7,554.3 191.5,562.2 197.3,568.2 203.1,570.1 208.9,572.4 214.7,565.8 220.5,556.4 226.3,548.7 232.1,547.1 237.9,548.2 243.7,544.0 249.5,538.9 255.3,533.6 261.1,526.9 266.9,521.1 272.7,516.1 278.5,512.0 284.3,506.5 290.1,508.5 295.9,510.2 301.7,512.4 307.5,516.8 313.3,514.4 319.1,510.0 324.9,500.8 330.8,491.6 336.6,493.6 342.4,497.3 348.2,504.4 354.0,511.2 359.8,516.5 365.6,519.7 371.4,513.4 377.2,501.0 383.0,491.2 388.8,485.7 394.6,479.1 400.4,464.3 406.2,450.0 412.0,451.2 417.8,456.2 423.6,452.2 429.4,443.6 435.2,442.2 441.0,452.8 446.8,459.7 452.6,455.0 458.4,450.4 464.2,451.5 470.0,448.6 475.8,437.1 481.6,430.0 487.4,430.3 493.2,426.1 499.0,415.8 504.8,407.6 510.6,407.4 516.4,409.2 522.2,407.9 528.0,408.5 533.8,410.8 539.6,412.6 545.4,414.9 551.2,411.0 557.0,401.7 562.8,399.6 568.6,402.7 574.4,406.4 580.2,410.7 586.0,410.1 591.8,402.3 597.6,391.5 603.4,380.7 609.2,373.3 615.0,370.6 620.8,368.6 626.6,368.7 632.4,370.5 638.2,367.5 644.0,359.4 649.8,349.5 655.6,345.5 661.4,348.6 667.2,350.7 673.0,346.3 678.8,338.4 684.6,331.4 690.4,327.7 696.2,322.6 702.0,314.5 707.8,309.3 713.6,307.1 719.4,304.8 725.2,304.6 731.0,305.0 736.8,302.6 742.6,299.3 748.4,291.6 754.2,277.2 760.0,262.1 765.9,254.5 771.7,252.2 777.5,251.3 783.3,250.5 789.1,247.7 794.9,241.4 800.7,233.6 806.5,230.1 812.3,235.0 818.1,239.0 823.9,237.3 829.7,239.2 835.5,245.2 841.3,242.8 847.1,227.1 852.9,210.9 858.7,201.5 864.5,195.7 870.3,193.8 876.1,196.1 881.9,199.6 887.7,199.4 893.5,193.3 899.3,185.1 905.1,182.8 910.9,182.5 916.7,178.0 922.5,174.2 928.3,170.8 934.1,167.9 939.9,168.6 945.7,168.5 951.5,160.0 957.3,150.0 963.1,145.1 968.9,138.8 974.7,131.5 980.5,130.3" fill="none" stroke="#000" stroke-width="3.7" stroke-linejoin="round"/>
<polyline points="110.3,537.4 116.1,539.7 121.9,540.2 127.7,540.1 133.5,540.1 139.3,538.3 145.1,537.0 150.9,535.8 156.7,536.0 162.5,535.6 168.3,535.5 174.1,533.5 179.9,537.0 185.7,545.7 191.5,558.1 197.3,565.8 203.1,560.5 208.9,553.0 214.7,545.6 220.5,545.9 226.3,545.8 232.1,543.3 237.9,540.4 243.7,531.7 249.5,522.7 255.3,518.5 261.1,515.9 266.9,511.7 272.7,505.9 278.5,503.6 284.3,505.0 290.1,514.5 295.9,516.7 301.7,512.8 307.5,512.2 313.3,510.1 319.1,510.4 324.9,506.9 330.8,499.3 336.6,497.6 342.4,498.3 348.2,505.3 354.0,511.4 359.8,513.3 365.6,511.2 371.4,505.4 377.2,497.3 383.0,482.2 388.8,468.1 394.6,464.9 400.4,460.0 406.2,450.1 412.0,446.8 417.8,450.9 423.6,456.1 429.4,456.7 435.2,455.0 441.0,450.9 446.8,442.9 452.6,432.8 458.4,419.5 464.2,410.6 470.0,414.5 475.8,426.4 481.6,437.2 487.4,442.9 493.2,443.8 499.0,441.8 504.8,438.9 510.6,435.0 516.4,432.8 522.2,434.1 528.0,434.1 533.8,426.8 539.6,414.3 545.4,402.8 551.2,395.4 557.0,393.5 562.8,395.6 568.6,396.2 574.4,390.1 580.2,379.7 586.0,377.8 591.8,385.5 597.6,391.9 603.4,393.8 609.2,392.8 615.0,385.2 620.8,374.5 626.6,368.5 632.4,365.7 638.2,362.6 644.0,360.9 649.8,358.9 655.6,356.3 661.4,352.0 667.2,345.1 673.0,336.0 678.8,326.6 684.6,320.6 690.4,318.9 696.2,321.1 702.0,324.7 707.8,327.1 713.6,323.7 719.4,314.4 725.2,307.3 731.0,303.5 736.8,297.8 742.6,292.7 748.4,286.6 754.2,280.3 760.0,277.3 765.9,272.6 771.7,263.1 777.5,260.5 783.3,266.2 789.1,273.0 794.9,273.7 800.7,266.1 806.5,256.3 812.3,251.9 818.1,248.9 823.9,240.3 829.7,231.5 835.5,228.4 841.3,224.6 847.1,217.9 852.9,215.4 858.7,219.1 864.5,224.8 870.3,227.5 876.1,223.5 881.9,214.5 887.7,202.3 893.5,191.6 899.3,184.1 905.1,181.0 910.9,182.6 916.7,186.8 922.5,188.4 928.3,183.1 934.1,175.8 939.9,170.1 945.7,166.7 951.5,164.6 957.3,159.1 963.1,150.2 968.9,142.7 974.7,137.3 980.5,132.9" fill="none" stroke="#000" stroke-width="3.7" stroke-linejoin="round"/>
<polyline points="110.3,537.2 116.1,535.0 121.9,533.5 127.7,532.2 133.5,533.2 139.3,537.3 145.1,537.8 150.9,530.6 156.7,524.7 162.5,524.3 168.3,528.8 174.1,528.7 179.9,531.1 185.7,538.9 191.5,551.5 197.3,562.5 203.1,567.7 208.9,571.1 214.7,563.5 220.5,554.9 226.3,548.4 232.1,541.1 237.9,530.6 243.7,522.1 249.5,523.8 255.3,527.5 261.1,525.4 266.9,522.2 272.7,519.8 278.5,514.0 284.3,504.4 290.1,509.8 295.9,526.0 301.7,541.4 307.5,545.4 313.3,533.2 319.1,520.0 324.9,509.4 330.8,504.4 336.6,509.5 342.4,513.3 348.2,519.6 354.0,522.3 359.8,516.1 365.6,505.3 371.4,500.0 377.2,502.2 383.0,501.2 388.8,495.8 394.6,491.8 400.4,482.7 406.2,468.0 412.0,459.8 417.8,460.5 423.6,466.0 429.4,467.9 435.2,461.9 441.0,451.6 446.8,441.3 452.6,435.0 458.4,432.2 464.2,430.2 470.0,433.1 475.8,443.1 481.6,450.6 487.4,443.7 493.2,426.4 499.0,414.0 504.8,412.4 510.6,416.1 516.4,421.0 522.2,422.5 528.0,417.1 533.8,409.1 539.6,406.5 545.4,407.6 551.2,405.8 557.0,400.9 562.8,397.6 568.6,392.6 574.4,385.1 580.2,380.8 586.0,376.9 591.8,370.9 597.6,369.9 603.4,374.5 609.2,380.6 615.0,387.5 620.8,391.4 626.6,387.6 632.4,379.2 638.2,372.3 644.0,367.4 649.8,364.8 655.6,360.7 661.4,350.5 667.2,336.9 673.0,323.7 678.8,315.6 684.6,314.8 690.4,317.4 696.2,318.0 702.0,316.0 707.8,314.8 713.6,314.6 719.4,311.6 725.2,306.1 731.0,300.9 736.8,297.5 742.6,296.5 748.4,293.7 754.2,290.5 760.0,287.9 765.9,281.1 771.7,276.5 777.5,279.2 783.3,274.9 789.1,264.8 794.9,255.9 800.7,250.3 806.5,246.1 812.3,234.8 818.1,224.0 823.9,223.8 829.7,228.7 835.5,231.3 841.3,230.5 847.1,228.4 852.9,226.3 858.7,221.3 864.5,216.8 870.3,216.5 876.1,215.1 881.9,211.0 887.7,202.8 893.5,193.6 899.3,190.8 905.1,192.1 910.9,189.4 916.7,183.7 922.5,178.3 928.3,171.5 934.1,164.2 939.9,157.4 945.7,151.7 951.5,146.0 957.3,141.5 963.1,140.4 968.9,142.5 974.7,143.2 980.5,136.4" fill="none" stroke="#000" stroke-width="3.7" stroke-linejoin="round"/>
<polyline points="110.3,533.9 116.1,532.0 121.9,531.9 127.7,532.1 133.5,535.4 139.3,540.0 145.1,543.9 150.9,542.9 156.7,539.6 162.5,537.9 168.3,540.3 174.1,539.5 179.9,541.4 185.7,547.2 191.5,557.5 197.3,567.6 203.1,569.5 208.9,568.1 214.7,559.4 220.5,550.4 226.3,539.3 232.1,529.7 237.9,525.8 243.7,524.8 249.5,526.5 255.3,525.0 261.1,520.2 266.9,518.4 272.7,515.8 278.5,508.9 284.3,501.1 290.1,505.1 295.9,514.0 301.7,523.8 307.5,526.2 313.3,516.7 319.1,513.8 324.9,512.5 330.8,509.1 336.6,516.4 342.4,526.6 348.2,535.7 354.0,536.2 359.8,529.6 365.6,520.7 371.4,509.1 377.2,499.3 383.0,493.6 388.8,490.5 394.6,487.3 400.4,481.8 406.2,474.5 412.0,468.1 417.8,462.5 423.6,460.8 429.4,457.8 435.2,448.0 441.0,442.5 446.8,447.5 452.6,450.2 458.4,442.4 464.2,434.5 470.0,433.7 475.8,435.1 481.6,435.6 487.4,438.9 493.2,441.1 499.0,435.9 504.8,425.8 510.6,416.7 516.4,412.0 522.2,409.7 528.0,407.3 533.8,407.1 539.6,411.9 545.4,419.1 551.2,419.7 557.0,414.3 562.8,410.6 568.6,406.8 574.4,402.0 580.2,397.7 586.0,393.0 591.8,390.8 597.6,387.9 603.4,375.6 609.2,364.1 615.0,363.4 620.8,363.3 626.6,358.3 632.4,357.0 638.2,360.3 644.0,359.8 649.8,353.4 655.6,346.0 661.4,340.6 667.2,338.5 673.0,338.6 678.8,338.9 684.6,338.1 690.4,334.9 696.2,329.7 702.0,325.0 707.8,318.1 713.6,310.9 719.4,309.7 725.2,309.1 731.0,304.0 736.8,297.2 742.6,291.0 748.4,285.1 754.2,280.6 760.0,277.2 765.9,272.2 771.7,264.1 777.5,262.0 783.3,265.2 789.1,263.8 794.9,260.3 800.7,258.7 806.5,251.0 812.3,237.7 818.1,227.7 823.9,222.4 829.7,222.0 835.5,222.7 841.3,219.4 847.1,213.4 852.9,209.3 858.7,208.6 864.5,207.5 870.3,202.5 876.1,197.6 881.9,199.2 887.7,202.1 893.5,200.0 899.3,194.1 905.1,190.0 910.9,186.8 916.7,181.1 922.5,172.4 928.3,161.6 934.1,152.8 939.9,145.4 945.7,137.7 951.5,129.5 957.3,123.0 963.1,124.6 968.9,134.1 974.7,144.9 980.5,147.3" fill="none" stroke="#000" stroke-width="3.7" stroke-linejoin="round"/>
<polyline points="110.3,538.1 116.1,533.0 121.9,527.9 127.7,525.0 133.5,524.5 139.3,528.1 145.1,536.5 150.9,541.7 156.7,537.8 162.5,528.1 168.3,527.3 174.1,532.8 179.9,541.5 185.7,547.8 191.5,554.2 197.3,559.8 203.1,556.7 208.9,553.5 214.7,553.4 220.5,558.4 226.3,556.6 232.1,546.8 237.9,535.1 243.7,527.7 249.5,528.8 255.3,531.0 261.1,529.9 266.9,524.4 272.7,512.3 278.5,501.2 284.3,496.7 290.1,505.8 295.9,512.7 301.7,518.5 307.5,527.8 313.3,529.0 319.1,523.9 324.9,512.2 330.8,501.2 336.6,499.8 342.4,498.7 348.2,504.1 354.0,513.5 359.8,519.5 365.6,516.0 371.4,503.5 377.2,491.8 383.0,483.2 388.8,478.0 394.6,479.7 400.4,479.4 406.2,468.4 412.0,453.8 417.8,441.1 423.6,434.8 429.4,432.3 435.2,428.2 441.0,426.1 446.8,430.5 452.6,438.1 458.4,441.6 464.2,441.4 470.0,438.1 475.8,430.7 481.6,423.9 487.4,419.8 493.2,418.2 499.0,421.6 504.8,426.4 510.6,427.5 516.4,423.8 522.2,415.7 528.0,405.5 533.8,397.7 539.6,397.0 545.4,402.8 551.2,410.8 557.0,414.7 562.8,410.9 568.6,401.9 574.4,390.9 580.2,380.6 586.0,372.8 591.8,370.0 597.6,371.2 603.4,372.6 609.2,370.4 615.0,366.4 620.8,364.8 626.6,362.1 632.4,352.6 638.2,344.4 644.0,348.6 649.8,357.1 655.6,360.1 661.4,353.4 667.2,340.9 673.0,329.8 678.8,318.1 684.6,306.1 690.4,303.3 696.2,308.0 702.0,308.4 707.8,305.2 713.6,303.1 719.4,300.4 725.2,294.5 731.0,287.6 736.8,282.2 742.6,277.5 748.4,271.4 754.2,267.1 760.0,263.8 765.9,257.7 771.7,251.8 777.5,254.2 783.3,261.1 789.1,265.5 794.9,265.0 800.7,260.5 806.5,254.9 812.3,253.3 818.1,252.2 823.9,243.7 829.7,234.1 835.5,230.5 841.3,228.1 847.1,225.8 852.9,228.6 858.7,231.4 864.5,225.7 870.3,212.1 876.1,199.0 881.9,194.7 887.7,198.0 893.5,202.8 899.3,202.0 905.1,197.1 910.9,192.0 916.7,184.9 922.5,174.4 928.3,164.6 934.1,160.6 939.9,161.9 945.7,165.5 951.5,164.0 957.3,152.4 963.1,137.6 968.9,129.8 974.7,127.1 980.5,123.0" fill="none" stroke="#000" stroke-width="3.7" stroke-linejoin="round"/>
<polyline points="110.3,534.0 116.1,535.2 121.9,533.2 127.7,526.1 133.5,525.1 139.3,534.0 145.1,543.0 150.9,540.4 156.7,531.6 162.5,525.0 168.3,528.2 174.1,534.7 179.9,541.0 185.7,543.3 191.5,545.8 197.3,551.5 203.1,557.3 208.9,567.6 214.7,571.9 220.5,569.8 226.3,559.7 232.1,545.0 237.9,529.6 243.7,521.4 249.5,526.7 255.3,533.2 261.1,531.2 266.9,522.8 272.7,511.6 278.5,506.1 284.3,507.6 290.1,521.1 295.9,532.2 301.7,536.5 307.5,534.7 313.3,524.1 319.1,518.3 324.9,512.6 330.8,503.4 336.6,504.3 342.4,512.0 348.2,523.1 354.0,529.4 359.8,529.5 365.6,520.3 371.4,504.0 377.2,494.8 383.0,492.1 388.8,484.7 394.6,475.8 400.4,468.3 406.2,461.5 412.0,455.8 417.8,450.8 423.6,450.2 429.4,449.4 435.2,445.6 441.0,441.9 446.8,437.0 452.6,432.8 458.4,432.9 464.2,436.4 470.0,442.3 475.8,448.6 481.6,450.5 487.4,446.6 493.2,441.7 499.0,439.3 504.8,435.3 510.6,427.8 516.4,423.5 522.2,419.2 528.0,410.5 533.8,405.2 539.6,402.8 545.4,400.2 551.2,399.3 557.0,395.7 562.8,392.3 568.6,394.9 574.4,395.6 580.2,394.1 586.0,393.5 591.8,386.1 597.6,372.4 603.4,366.3 609.2,370.9 615.0,372.9 620.8,370.5 626.6,371.5 632.4,371.6 638.2,363.6 644.0,352.3 649.8,341.2 655.6,331.8 661.4,328.2 667.2,331.4 673.0,337.5 678.8,340.6 684.6,336.5 690.4,330.1 696.2,326.0 702.0,321.5 707.8,310.3 713.6,294.2 719.4,287.3 725.2,292.3 731.0,295.6 736.8,289.4 742.6,281.0 748.4,277.7 754.2,278.5 760.0,278.5 765.9,276.7 771.7,272.3 777.5,267.0 783.3,261.2 789.1,253.9 794.9,245.8 800.7,240.2 806.5,238.2 812.3,239.0 818.1,239.8 823.9,237.3 829.7,233.2 835.5,228.9 841.3,225.6 847.1,227.5 852.9,231.9 858.7,230.6 864.5,225.1 870.3,222.8 876.1,226.5 881.9,226.4 887.7,213.8 893.5,199.9 899.3,194.3 905.1,193.1 910.9,193.1 916.7,189.6 922.5,178.8 928.3,165.7 934.1,157.4 939.9,153.8 945.7,153.5 951.5,152.2 957.3,145.4 963.1,132.9 968.9,123.0 974.7,123.1 980.5,128.4" fill="none" stroke="#000" stroke-width="3.7" stroke-linejoin="round"/>
<polyline points="110.3,540.9 116.1,534.1 121.9,532.6 127.7,538.1 133.5,539.4 139.3,532.4 145.1,530.1 150.9,535.4 156.7,537.5 162.5,530.6 168.3,527.8 174.1,529.8 179.9,538.6 185.7,546.5 191.5,549.2 197.3,550.6 203.1,556.1 208.9,566.2 214.7,562.1 220.5,553.3 226.3,549.7 232.1,548.2 237.9,542.5 243.7,535.4 249.5,534.2 255.3,534.3 261.1,531.5 266.9,527.6 272.7,522.5 278.5,518.5 284.3,512.0 290.1,509.4 295.9,507.7 301.7,512.1 307.5,518.0 313.3,512.7 319.1,505.4 324.9,496.1 330.8,486.6 336.6,486.9 342.4,493.0 348.2,506.5 354.0,515.9 359.8,517.2 365.6,515.7 371.4,514.5 377.2,514.3 383.0,504.1 388.8,482.9 394.6,466.8 400.4,460.9 406.2,458.7 412.0,455.8 417.8,451.8 423.6,448.7 429.4,449.4 435.2,455.3 441.0,464.1 446.8,469.4 452.6,467.6 458.4,458.0 464.2,443.5 470.0,431.3 475.8,425.9 481.6,427.6 487.4,430.6 493.2,429.9 499.0,425.6 504.8,421.9 510.6,422.6 516.4,424.7 522.2,422.1 528.0,416.2 533.8,407.8 539.6,397.8 545.4,395.2 551.2,404.6 557.0,416.8 562.8,421.6 568.6,417.7 574.4,414.2 580.2,409.7 586.0,398.7 591.8,390.6 597.6,390.9 603.4,391.7 609.2,388.1 615.0,384.0 620.8,379.9 626.6,368.3 632.4,355.3 638.2,351.1 644.0,354.0 649.8,358.1 655.6,358.2 661.4,352.0 667.2,345.7 673.0,339.8 678.8,328.8 684.6,319.4 690.4,322.8 696.2,334.1 702.0,338.3 707.8,328.4 713.6,311.4 719.4,301.2 725.2,302.9 731.0,309.5 736.8,308.4 742.6,300.0 748.4,292.5 754.2,286.4 760.0,277.3 765.9,270.1 771.7,271.6 777.5,280.1 783.3,281.3 789.1,271.5 794.9,260.9 800.7,256.5 806.5,254.4 812.3,248.7 818.1,241.1 823.9,237.6 829.7,238.9 835.5,240.4 841.3,238.1 847.1,235.2 852.9,235.0 858.7,230.8 864.5,218.1 870.3,204.0 876.1,195.4 881.9,193.7 887.7,196.7 893.5,201.5 899.3,199.7 905.1,187.1 910.9,171.2 916.7,161.2 922.5,157.9 928.3,157.3 934.1,158.3 939.9,156.9 945.7,151.0 951.5,143.8 957.3,139.0 963.1,137.6 968.9,139.3 974.7,141.0 980.5,139.1" fill="none" stroke="#000" stroke-width="3.7" stroke-linejoin="round"/>
<polyline points="110.3,529.0 116.1,524.9 121.9,528.8 127.7,535.3 133.5,536.8 139.3,533.8 145.1,530.9 150.9,530.0 156.7,532.7 162.5,534.3 168.3,536.4 174.1,539.4 179.9,548.2 185.7,556.7 191.5,562.5 197.3,566.9 203.1,567.5 208.9,568.3 214.7,562.8 220.5,558.9 226.3,555.2 232.1,550.0 237.9,543.8 243.7,540.2 249.5,543.3 255.3,543.9 261.1,538.3 266.9,529.6 272.7,520.1 278.5,514.8 284.3,509.8 290.1,508.4 295.9,504.8 301.7,507.8 307.5,518.6 313.3,522.6 319.1,519.6 324.9,509.7 330.8,502.5 336.6,506.3 342.4,510.3 348.2,516.2 354.0,519.5 359.8,520.1 365.6,517.4 371.4,509.2 377.2,499.5 383.0,486.3 388.8,469.7 394.6,457.8 400.4,451.3 406.2,451.4 412.0,459.3 417.8,463.4 423.6,457.5 429.4,450.3 435.2,448.5 441.0,451.8 446.8,452.6 452.6,445.2 458.4,434.1 464.2,430.3 470.0,434.2 475.8,434.4 481.6,428.5 487.4,422.5 493.2,419.0 499.0,420.4 504.8,420.3 510.6,413.8 516.4,410.4 522.2,411.1 528.0,408.3 533.8,404.3 539.6,404.8 545.4,410.3 551.2,411.3 557.0,399.8 562.8,383.3 568.6,372.1 574.4,371.5 580.2,379.4 586.0,388.3 591.8,393.0 597.6,393.9 603.4,394.6 609.2,395.9 615.0,392.9 620.8,379.5 626.6,360.7 632.4,348.3 638.2,348.0 644.0,353.6 649.8,357.7 655.6,360.8 661.4,360.1 667.2,351.2 673.0,338.0 678.8,332.6 684.6,332.3 690.4,326.1 696.2,316.6 702.0,312.7 707.8,314.9 713.6,317.7 719.4,314.6 725.2,306.8 731.0,302.6 736.8,301.9 742.6,297.6 748.4,288.6 754.2,279.9 760.0,270.8 765.9,261.1 771.7,251.3 777.5,245.8 783.3,246.6 789.1,252.2 794.9,256.8 800.7,252.6 806.5,239.4 812.3,225.2 818.1,216.2 823.9,214.7 829.7,218.8 835.5,221.1 841.3,220.6 847.1,221.6 852.9,223.3 858.7,221.5 864.5,217.3 870.3,214.7 876.1,212.7 881.9,208.9 887.7,201.8 893.5,196.5 899.3,193.8 905.1,190.9 910.9,182.8 916.7,173.7 922.5,171.4 928.3,172.3 934.1,174.1 939.9,171.9 945.7,162.7 951.5,154.8 957.3,151.2 963.1,148.4 968.9,146.8 974.7,143.6 980.5,135.7" fill="none" stroke="#000" stroke-width="3.7" stroke-linejoin="round"/>
<polyline points="110.3,551.6 116.1,553.8 121.9,548.3 127.7,541.5 133.5,537.9 139.3,536.8 145.1,533.9 150.9,525.7 156.7,521.7 162.5,525.8 168.3,536.4 174.1,542.7 179.9,548.7 185.7,554.1 191.5,558.1 197.3,559.6 203.1,557.6 208.9,558.2 214.7,554.1 220.5,551.4 226.3,552.9 232.1,554.7 237.9,547.8 243.7,534.7 249.5,529.0 255.3,529.4 261.1,529.1 266.9,526.1 272.7,520.4 278.5,517.4 284.3,514.8 290.1,517.2 295.9,519.4 301.7,526.2 307.5,531.7 313.3,524.5 319.1,516.5 324.9,506.2 330.8,495.1 336.6,494.7 342.4,500.2 348.2,513.2 354.0,523.5 359.8,523.0 365.6,511.8 371.4,498.2 377.2,491.7 383.0,490.3 388.8,483.6 394.6,471.2 400.4,460.5 406.2,454.7 412.0,451.4 417.8,448.6 423.6,449.9 429.4,450.7 435.2,446.9 441.0,443.3 446.8,436.5 452.6,428.1 458.4,429.8 464.2,440.7 470.0,446.0 475.8,439.9 481.6,433.9 487.4,436.7 493.2,442.9 499.0,443.6 504.8,436.3 510.6,423.2 516.4,412.2 522.2,409.9 528.0,412.2 533.8,411.3 539.6,409.0 545.4,406.3 551.2,398.0 557.0,388.3 562.8,386.4 568.6,390.3 574.4,396.0 580.2,400.9 586.0,399.5 591.8,386.3 597.6,367.6 603.4,356.0 609.2,355.8 615.0,362.4 620.8,369.4 626.6,371.8 632.4,368.2 638.2,362.5 644.0,358.8 649.8,358.6 655.6,364.0 661.4,369.1 667.2,368.4 673.0,362.0 678.8,348.5 684.6,332.9 690.4,322.4 696.2,313.7 702.0,305.6 707.8,302.2 713.6,301.5 719.4,298.7 725.2,297.4 731.0,299.2 736.8,301.4 742.6,303.2 748.4,298.0 754.2,286.8 760.0,277.3 765.9,271.1 771.7,262.1 777.5,251.1 783.3,242.6 789.1,240.1 794.9,242.8 800.7,247.6 806.5,248.8 812.3,246.1 818.1,242.2 823.9,235.5 829.7,229.3 835.5,229.3 841.3,227.5 847.1,217.3 852.9,207.2 858.7,204.5 864.5,206.7 870.3,211.3 876.1,213.8 881.9,209.5 887.7,197.6 893.5,187.6 899.3,183.1 905.1,180.5 910.9,178.5 916.7,172.3 922.5,164.0 928.3,160.4 934.1,163.5 939.9,165.5 945.7,159.8 951.5,147.7 957.3,137.3 963.1,136.4 968.9,141.3 974.7,144.5 980.5,142.4" fill="none" stroke="#000" stroke-width="3.7" stroke-linejoin="round"/>
<polyline points="110.3,538.2 116.1,536.1 121.9,533.9 127.7,529.4 133.5,524.7 139.3,525.6 145.1,533.0 150.9,537.4 156.7,535.9 162.5,530.5 168.3,531.9 174.1,537.4 179.9,546.6 185.7,557.1 191.5,565.4 197.3,565.0 203.1,556.0 208.9,554.7 214.7,554.9 220.5,554.5 226.3,551.6 232.1,546.9 237.9,535.3 243.7,523.4 249.5,523.7 255.3,526.3 261.1,525.5 266.9,523.8 272.7,516.6 278.5,508.0 284.3,503.0 290.1,508.6 295.9,513.2 301.7,515.7 307.5,515.4 313.3,508.3 319.1,509.0 324.9,514.0 330.8,512.9 336.6,510.1 342.4,510.9 348.2,525.2 354.0,537.6 359.8,536.1 365.6,526.0 371.4,514.8 377.2,502.9 383.0,485.6 388.8,470.6 394.6,466.8 400.4,463.8 406.2,452.9 412.0,441.8 417.8,440.9 423.6,451.7 429.4,460.1 435.2,456.5 441.0,448.0 446.8,440.5 452.6,433.6 458.4,429.1 464.2,427.0 470.0,426.8 475.8,430.3 481.6,432.6 487.4,426.5 493.2,421.5 499.0,425.0 504.8,425.4 510.6,421.1 516.4,423.5 522.2,429.0 528.0,424.8 533.8,409.5 539.6,394.7 545.4,389.5 551.2,392.3 557.0,397.7 562.8,402.9 568.6,403.7 574.4,398.8 580.2,389.4 586.0,380.3 591.8,378.1 597.6,379.5 603.4,380.1 609.2,383.8 615.0,388.1 620.8,388.2 626.6,383.5 632.4,373.8 638.2,363.2 644.0,356.4 649.8,352.8 655.6,352.6 661.4,354.7 667.2,355.2 673.0,351.4 678.8,346.1 684.6,339.8 690.4,334.3 696.2,335.1 702.0,340.2 707.8,337.1 713.6,322.9 719.4,306.8 725.2,294.4 731.0,285.3 736.8,279.9 742.6,282.4 748.4,289.6 754.2,294.7 760.0,291.7 765.9,281.0 771.7,268.9 777.5,262.5 783.3,259.1 789.1,254.7 794.9,249.0 800.7,244.9 806.5,243.5 812.3,245.0 818.1,247.5 823.9,244.6 829.7,235.7 835.5,229.1 841.3,225.3 847.1,217.8 852.9,211.6 858.7,213.7 864.5,216.8 870.3,216.2 876.1,211.4 881.9,198.4 887.7,182.1 893.5,174.5 899.3,173.3 905.1,172.1 910.9,169.0 916.7,166.2 922.5,167.2 928.3,165.8 934.1,158.5 939.9,150.4 945.7,148.0 951.5,150.6 957.3,147.1 963.1,130.2 968.9,115.0 974.7,116.2 980.5,126.4" fill="none" stroke="#000" stroke-width="3.7" stroke-linejoin="round"/>
<polyline points="110.3,540.7 116.1,537.4 121.9,534.5 127.7,527.4 133.5,522.1 139.3,524.0 145.1,529.9 150.9,534.2 156.7,534.5 162.5,529.3 168.3,525.5 174.1,521.4 179.9,523.2 185.7,531.0 191.5,541.7 197.3,554.3 203.1,564.3 208.9,570.4 214.7,565.3 220.5,557.1 226.3,545.9 232.1,534.0 237.9,523.2 243.7,517.1 249.5,520.5 255.3,523.8 261.1,522.1 266.9,520.8 272.7,518.2 278.5,511.6 284.3,502.7 290.1,501.9 295.9,502.8 301.7,510.5 307.5,521.8 313.3,521.9 319.1,518.1 324.9,510.7 330.8,502.3 336.6,500.9 342.4,500.8 348.2,508.7 354.0,519.4 359.8,522.4 365.6,513.8 371.4,500.1 377.2,488.0 383.0,475.9 388.8,462.7 394.6,453.9 400.4,449.8 406.2,451.1 412.0,455.1 417.8,453.7 423.6,450.8 429.4,447.8 435.2,442.0 441.0,436.8 446.8,438.1 452.6,444.7 458.4,445.6 464.2,439.3 470.0,433.0 475.8,430.9 481.6,430.2 487.4,427.1 493.2,422.1 499.0,420.0 504.8,423.6 510.6,427.8 516.4,426.7 522.2,419.0 528.0,412.2 533.8,411.6 539.6,417.6 545.4,428.4 551.2,433.2 557.0,426.3 562.8,414.0 568.6,403.4 574.4,396.5 580.2,391.7 586.0,390.5 591.8,394.6 597.6,397.0 603.4,390.7 609.2,383.8 615.0,382.2 620.8,374.4 626.6,363.3 632.4,361.1 638.2,361.6 644.0,355.2 649.8,345.5 655.6,341.4 661.4,340.7 667.2,335.9 673.0,327.3 678.8,320.0 684.6,320.0 690.4,326.3 696.2,326.4 702.0,314.6 707.8,301.5 713.6,295.8 719.4,292.8 725.2,291.7 731.0,294.7 736.8,295.0 742.6,292.3 748.4,286.0 754.2,277.4 760.0,273.1 765.9,276.2 771.7,278.8 777.5,275.9 783.3,267.6 789.1,261.0 794.9,258.6 800.7,256.7 806.5,250.0 812.3,241.2 818.1,235.6 823.9,232.3 829.7,232.5 835.5,235.5 841.3,233.3 847.1,224.2 852.9,218.0 858.7,221.9 864.5,232.4 870.3,238.0 876.1,232.3 881.9,216.5 887.7,198.2 893.5,188.2 899.3,184.0 905.1,179.3 910.9,174.1 916.7,170.5 922.5,170.1 928.3,172.9 934.1,173.6 939.9,164.6 945.7,153.8 951.5,150.8 957.3,151.0 963.1,148.1 968.9,140.9 974.7,134.9 980.5,137.6" fill="none" stroke="#000" stroke-width="3.7" stroke-linejoin="round"/>
<polyline points="110.3,549.6 116.1,553.1 121.9,551.5 127.7,546.0 133.5,542.9 139.3,545.3 145.1,547.4 150.9,543.1 156.7,536.4 162.5,531.2 168.3,534.1 174.1,541.2 179.9,550.3 185.7,554.6 191.5,558.0 197.3,560.7 203.1,556.2 208.9,554.1 214.7,552.2 220.5,549.7 226.3,544.8 232.1,544.3 237.9,544.6 243.7,538.7 249.5,532.2 255.3,527.5 261.1,523.5 266.9,518.2 272.7,511.3 278.5,510.2 284.3,511.3 290.1,514.6 295.9,514.2 301.7,517.6 307.5,525.4 313.3,526.4 319.1,526.3 324.9,521.3 330.8,512.1 336.6,510.8 342.4,512.7 348.2,521.4 354.0,530.2 359.8,533.3 365.6,526.7 371.4,512.4 377.2,501.1 383.0,493.0 388.8,487.0 394.6,485.3 400.4,482.1 406.2,472.9 412.0,462.7 417.8,453.4 423.6,448.0 429.4,443.7 435.2,438.5 441.0,435.4 446.8,433.4 452.6,433.6 458.4,436.3 464.2,437.8 470.0,436.4 475.8,432.7 481.6,425.7 487.4,420.1 493.2,422.6 499.0,430.6 504.8,434.4 510.6,428.9 516.4,419.8 522.2,414.3 528.0,413.9 533.8,412.8 539.6,410.2 545.4,407.1 551.2,398.7 557.0,386.3 562.8,381.1 568.6,385.4 574.4,392.4 580.2,394.7 586.0,390.8 591.8,386.8 597.6,385.9 603.4,385.5 609.2,382.0 615.0,375.0 620.8,365.8 626.6,361.2 632.4,367.7 638.2,377.6 644.0,381.0 649.8,375.5 655.6,362.6 661.4,348.9 667.2,342.2 673.0,341.1 678.8,341.9 684.6,345.3 690.4,347.8 696.2,342.8 702.0,330.4 707.8,318.3 713.6,309.9 719.4,300.6 725.2,295.5 731.0,298.1 736.8,299.8 742.6,296.5 748.4,288.2 754.2,278.4 760.0,269.1 765.9,260.1 771.7,254.2 777.5,254.7 783.3,256.3 789.1,256.9 794.9,257.3 800.7,255.9 806.5,250.8 812.3,245.1 818.1,238.8 823.9,234.7 829.7,237.5 835.5,241.0 841.3,242.2 847.1,244.0 852.9,243.6 858.7,239.0 864.5,229.7 870.3,216.6 876.1,203.2 881.9,192.7 887.7,184.5 893.5,180.7 899.3,180.3 905.1,179.1 910.9,176.1 916.7,173.1 922.5,167.1 928.3,157.0 934.1,150.9 939.9,148.8 945.7,147.4 951.5,149.6 957.3,153.8 963.1,154.0 968.9,149.4 974.7,141.4 980.5,131.0" fill="none" stroke="#000" stroke-width="3.7" stroke-linejoin="round"/>
<polyline points="110.3,535.7 116.1,538.5 121.9,539.1 127.7,537.5 133.5,535.2 139.3,532.9 145.1,533.7 150.9,535.6 156.7,538.3 162.5,540.5 168.3,542.4 174.1,541.7 179.9,548.1 185.7,556.7 191.5,560.1 197.3,557.4 203.1,550.7 208.9,551.5 214.7,555.0 220.5,558.2 226.3,551.4 232.1,540.6 237.9,533.1 243.7,527.4 249.5,523.3 255.3,517.8 261.1,515.9 266.9,518.8 272.7,515.8 278.5,508.1 284.3,500.7 290.1,501.5 295.9,506.0 301.7,516.1 307.5,524.0 313.3,518.9 319.1,510.9 324.9,499.7 330.8,490.7 336.6,495.1 342.4,500.8 348.2,509.0 354.0,516.7 359.8,517.9 365.6,513.4 371.4,508.5 377.2,504.5 383.0,498.9 388.8,493.8 394.6,487.6 400.4,476.0 406.2,467.8 412.0,467.2 417.8,466.7 423.6,464.8 429.4,456.3 435.2,439.4 441.0,426.3 446.8,426.5 452.6,436.6 458.4,446.0 464.2,447.9 470.0,443.4 475.8,437.0 481.6,433.6 487.4,433.6 493.2,435.9 499.0,438.6 504.8,438.2 510.6,435.9 516.4,436.0 522.2,434.6 528.0,428.4 533.8,419.6 539.6,409.4 545.4,401.9 551.2,399.9 557.0,399.7 562.8,399.3 568.6,401.4 574.4,404.7 580.2,404.8 586.0,404.0 591.8,401.1 597.6,393.5 603.4,384.2 609.2,377.2 615.0,378.0 620.8,379.9 626.6,369.2 632.4,352.6 638.2,343.6 644.0,345.3 649.8,354.2 655.6,360.9 661.4,355.5 667.2,342.9 673.0,336.0 678.8,336.4 684.6,336.7 690.4,336.2 696.2,332.9 702.0,319.7 707.8,301.4 713.6,292.0 719.4,292.2 725.2,296.5 731.0,305.1 736.8,311.3 742.6,306.9 748.4,291.7 754.2,274.7 760.0,263.8 765.9,263.4 771.7,268.1 777.5,268.6 783.3,262.7 789.1,261.1 794.9,264.1 800.7,261.3 806.5,250.0 812.3,241.7 818.1,239.9 823.9,236.3 829.7,229.1 835.5,222.2 841.3,217.2 847.1,215.7 852.9,220.1 858.7,226.9 864.5,232.3 870.3,231.9 876.1,220.7 881.9,207.0 887.7,200.0 893.5,199.2 899.3,199.2 905.1,196.3 910.9,186.1 916.7,173.2 922.5,166.7 928.3,161.6 934.1,153.0 939.9,147.3 945.7,149.4 951.5,155.8 957.3,161.4 963.1,158.1 968.9,146.2 974.7,136.6 980.5,132.8" fill="none" stroke="#000" stroke-width="3.7" stroke-linejoin="round"/>
<polyline points="110.3,540.0 116.1,546.4 121.9,546.9 127.7,542.9 133.5,538.9 139.3,536.3 145.1,534.4 150.9,532.7 156.7,534.4 162.5,535.5 168.3,538.2 174.1,539.3 179.9,540.8 185.7,542.5 191.5,545.7 197.3,550.2 203.1,554.5 208.9,563.0 214.7,567.2 220.5,567.3 226.3,559.1 232.1,549.0 237.9,542.2 243.7,540.5 249.5,546.1 255.3,547.1 261.1,538.4 266.9,528.4 272.7,522.7 278.5,520.3 284.3,514.5 290.1,514.3 295.9,517.5 301.7,524.7 307.5,528.8 313.3,518.8 319.1,509.0 324.9,500.8 330.8,495.9 336.6,501.6 342.4,505.4 348.2,510.4 354.0,517.1 359.8,522.1 365.6,519.9 371.4,508.5 377.2,494.4 383.0,480.4 388.8,469.4 394.6,466.6 400.4,466.4 406.2,459.1 412.0,453.5 417.8,455.2 423.6,454.4 429.4,446.5 435.2,443.2 441.0,446.2 446.8,448.8 452.6,452.5 458.4,453.8 464.2,450.7 470.0,448.6 475.8,448.1 481.6,446.0 487.4,441.4 493.2,434.4 499.0,427.2 504.8,425.7 510.6,431.1 516.4,436.4 522.2,432.2 528.0,418.1 533.8,404.7 539.6,401.8 545.4,404.7 551.2,406.0 557.0,404.2 562.8,399.6 568.6,394.2 574.4,389.5 580.2,387.7 586.0,389.1 591.8,391.0 597.6,388.8 603.4,376.2 609.2,355.1 615.0,342.7 620.8,349.7 626.6,363.2 632.4,369.2 638.2,369.4 644.0,370.0 649.8,366.1 655.6,357.4 661.4,346.1 667.2,334.5 673.0,331.0 678.8,336.9 684.6,343.5 690.4,344.5 696.2,336.6 702.0,322.8 707.8,311.9 713.6,308.0 719.4,308.2 725.2,309.0 731.0,309.1 736.8,304.0 742.6,290.9 748.4,276.3 754.2,271.2 760.0,272.1 765.9,266.6 771.7,256.3 777.5,255.8 783.3,262.5 789.1,262.0 794.9,253.5 800.7,247.4 806.5,245.7 812.3,241.0 818.1,231.6 823.9,223.6 829.7,224.0 835.5,227.4 841.3,225.0 847.1,219.4 852.9,218.9 858.7,222.3 864.5,224.6 870.3,226.0 876.1,226.4 881.9,225.0 887.7,219.0 893.5,209.7 899.3,197.4 905.1,184.2 910.9,176.6 916.7,175.7 922.5,176.7 928.3,177.7 934.1,179.8 939.9,173.8 945.7,158.2 951.5,145.4 957.3,142.3 963.1,146.1 968.9,148.0 974.7,142.9 980.5,136.9" fill="none" stroke="#000" stroke-width="3.7" stroke-linejoin="round"/>
<polyline points="110.3,553.3 116.1,548.5 121.9,540.1 127.7,537.0 133.5,539.9 139.3,540.2 145.1,537.8 150.9,535.9 156.7,533.8 162.5,528.9 168.3,527.4 174.1,528.0 179.9,536.0 185.7,546.5 191.5,556.2 197.3,565.6 203.1,569.4 208.9,569.0 214.7,562.1 220.5,556.2 226.3,547.0 232.1,538.9 237.9,533.6 243.7,527.0 249.5,523.8 255.3,523.8 261.1,524.9 266.9,523.3 272.7,514.1 278.5,504.6 284.3,502.7 290.1,513.6 295.9,521.1 301.7,524.4 307.5,523.8 313.3,513.8 319.1,508.8 324.9,506.4 330.8,501.3 336.6,504.7 342.4,510.4 348.2,518.2 354.0,523.0 359.8,522.7 365.6,518.4 371.4,509.1 377.2,496.6 383.0,481.7 388.8,466.9 394.6,457.6 400.4,449.9 406.2,444.8 412.0,446.3 417.8,450.2 423.6,449.9 429.4,441.5 435.2,432.8 441.0,435.5 446.8,444.1 452.6,445.0 458.4,441.5 464.2,439.1 470.0,430.0 475.8,418.1 481.6,416.1 487.4,418.6 493.2,414.9 499.0,410.0 504.8,410.8 510.6,415.1 516.4,420.4 522.2,423.2 528.0,418.8 533.8,409.2 539.6,401.0 545.4,401.0 551.2,411.7 557.0,419.3 562.8,412.9 568.6,400.9 574.4,394.2 580.2,392.5 586.0,389.1 591.8,383.9 597.6,381.7 603.4,381.9 609.2,382.8 615.0,382.4 620.8,382.7 626.6,385.3 632.4,380.5 638.2,368.1 644.0,358.0 649.8,351.6 655.6,346.9 661.4,339.3 667.2,332.3 673.0,333.8 678.8,339.5 684.6,340.7 690.4,333.4 696.2,322.1 702.0,316.0 707.8,315.8 713.6,316.3 719.4,316.6 725.2,317.2 731.0,314.1 736.8,307.2 742.6,300.8 748.4,294.8 754.2,288.2 760.0,276.3 765.9,261.0 771.7,251.1 777.5,249.4 783.3,248.4 789.1,244.0 794.9,236.6 800.7,229.3 806.5,227.9 812.3,234.1 818.1,243.1 823.9,254.4 829.7,261.9 835.5,254.2 841.3,237.2 847.1,224.5 852.9,216.1 858.7,207.7 864.5,202.2 870.3,198.3 876.1,191.4 881.9,187.8 887.7,189.4 893.5,189.4 899.3,184.6 905.1,181.5 910.9,179.6 916.7,174.5 922.5,167.0 928.3,156.8 934.1,148.6 939.9,145.8 945.7,148.6 951.5,151.0 957.3,146.8 963.1,137.5 968.9,127.1 974.7,120.4 980.5,121.6" fill="none" stroke="#000" stroke-width="3.7" stroke-linejoin="round"/>
<polyline points="110.3,553.2 116.1,553.9 121.9,546.7 127.7,538.2 133.5,531.3 139.3,527.1 145.1,527.4 150.9,527.5 156.7,524.5 162.5,521.5 168.3,525.2 174.1,526.7 179.9,531.9 185.7,544.4 191.5,557.8 197.3,563.5 203.1,560.6 208.9,557.1 214.7,549.6 220.5,545.7 226.3,540.5 232.1,533.7 237.9,529.0 243.7,525.8 249.5,526.2 255.3,527.4 261.1,527.7 266.9,527.1 272.7,524.6 278.5,521.7 284.3,513.8 290.1,510.8 295.9,512.2 301.7,518.1 307.5,523.0 313.3,518.5 319.1,514.4 324.9,509.3 330.8,496.3 336.6,482.2 342.4,479.9 348.2,484.0 354.0,488.4 359.8,489.2 365.6,484.4 371.4,477.7 377.2,491.4 383.0,493.1 388.8,487.5 394.6,487.8 400.4,486.5 406.2,476.0 412.0,462.6 417.8,449.8 423.6,443.2 429.4,440.9 435.2,442.1 441.0,454.4 446.8,466.6 452.6,461.0 458.4,444.6 464.2,438.7 470.0,443.3 475.8,444.9 481.6,437.0 487.4,424.0 493.2,415.2 499.0,415.6 504.8,426.3 510.6,432.9 516.4,426.8 522.2,417.7 528.0,408.9 533.8,401.0 539.6,397.8 545.4,398.4 551.2,402.1 557.0,404.0 562.8,400.1 568.6,391.8 574.4,382.0 580.2,377.1 586.0,376.9 591.8,376.3 597.6,375.4 603.4,374.2 609.2,371.6 615.0,370.4 620.8,371.3 626.6,371.4 632.4,367.9 638.2,364.2 644.0,363.9 649.8,361.2 655.6,353.7 661.4,345.6 667.2,338.3 673.0,328.1 678.8,321.6 684.6,326.0 690.4,330.2 696.2,322.7 702.0,311.9 707.8,304.7 713.6,298.9 719.4,296.3 725.2,298.6 731.0,302.5 736.8,301.2 742.6,294.5 748.4,284.6 754.2,275.9 760.0,271.7 765.9,269.6 771.7,267.4 777.5,270.0 783.3,274.7 789.1,274.0 794.9,267.2 800.7,259.4 806.5,254.0 812.3,250.4 818.1,244.7 823.9,238.3 829.7,238.1 835.5,240.6 841.3,236.8 847.1,226.3 852.9,216.9 858.7,215.2 864.5,215.5 870.3,212.1 876.1,205.8 881.9,196.3 887.7,185.0 893.5,178.0 899.3,173.6 905.1,171.2 910.9,167.0 916.7,158.0 922.5,153.1 928.3,154.6 934.1,155.9 939.9,152.1 945.7,146.4 951.5,138.5 957.3,129.8 963.1,128.4 968.9,130.2 974.7,125.4 980.5,116.0" fill="none" stroke="#f00000" stroke-width="3.7" stroke-linejoin="round"/>
<polyline points="110.3,535.6 116.1,535.6 121.9,536.7 127.7,537.9 133.5,538.2 139.3,534.5 145.1,531.6 150.9,532.4 156.7,535.6 162.5,536.2 168.3,536.5 174.1,535.0 179.9,536.7 185.7,537.4 191.5,539.8 197.3,548.4 203.1,555.6 208.9,557.5 214.7,550.1 220.5,543.3 226.3,535.2 232.1,531.0 237.9,532.2 243.7,532.1 249.5,533.7 255.3,535.1 261.1,532.2 266.9,525.5 272.7,517.6 278.5,513.6 284.3,511.6 290.1,516.6 295.9,519.3 301.7,523.9 307.5,530.9 313.3,526.2 319.1,518.9 324.9,509.9 330.8,499.7 336.6,500.5 342.4,506.2 348.2,515.5 354.0,521.6 359.8,521.1 365.6,514.0 371.4,500.7 377.2,487.0 383.0,474.6 388.8,466.6 394.6,465.4 400.4,457.1 406.2,441.9 412.0,437.1 417.8,433.8 423.6,430.6 429.4,427.5 435.2,424.3 441.0,422.5 446.8,420.6 452.6,418.8 458.4,416.9 464.2,416.1 470.0,415.2 475.8,414.4 481.6,413.6 487.4,412.7 493.2,411.9 499.0,410.3 504.8,408.7 510.6,407.3 516.4,406.6 522.2,408.1 528.0,403.9 533.8,397.6 539.6,396.8 545.4,402.0 551.2,405.0 557.0,403.0 562.8,399.1 568.6,400.3 574.4,407.1 580.2,411.2 586.0,410.5 591.8,407.0 597.6,402.4 603.4,398.0 609.2,390.9 615.0,381.4 620.8,376.4 626.6,376.4 632.4,373.6 638.2,366.8 644.0,360.8 649.8,353.2 655.6,342.5 661.4,334.1 667.2,329.6 673.0,323.1 678.8,314.3 684.6,312.4 690.4,316.6 696.2,317.1 702.0,314.5 707.8,313.2 713.6,311.5 719.4,310.5 725.2,311.4 731.0,312.8 736.8,311.6 742.6,305.6 748.4,290.4 754.2,269.3 760.0,255.6 765.9,252.3 771.7,250.7 777.5,247.1 783.3,242.5 789.1,241.6 794.9,245.2 800.7,249.1 806.5,250.5 812.3,252.0 818.1,252.2 823.9,245.6 829.7,234.6 835.5,227.1 841.3,221.2 847.1,212.5 852.9,208.9 858.7,212.7 864.5,214.1 870.3,209.4 876.1,205.3 881.9,206.2 887.7,205.8 893.5,203.1 899.3,197.0 905.1,184.4 910.9,170.9 916.7,162.5 922.5,158.6 928.3,155.7 934.1,154.8 939.9,156.5 945.7,157.2 951.5,152.3 957.3,141.6 963.1,129.8 968.9,124.6 974.7,127.8 980.5,132.4" fill="none" stroke="#f00000" stroke-width="3.7" stroke-linejoin="round"/>
<polyline points="110.3,523.3 116.1,523.5 121.9,526.4 127.7,529.7 133.5,534.8 139.3,539.3 145.1,540.6 150.9,536.9 156.7,531.3 162.5,526.6 168.3,529.6 174.1,538.7 179.9,552.0 185.7,558.9 191.5,562.5 197.3,565.2 203.1,562.5 208.9,559.7 214.7,555.8 220.5,555.8 226.3,551.9 232.1,547.4 237.9,542.8 243.7,534.6 249.5,531.3 255.3,528.9 261.1,520.2 266.9,513.5 272.7,516.7 278.5,522.6 284.3,520.0 290.1,519.5 295.9,519.8 301.7,523.5 307.5,527.2 313.3,522.7 319.1,521.3 324.9,518.8 330.8,511.1 336.6,507.1 342.4,503.7 348.2,508.9 354.0,516.9 359.8,518.2 365.6,510.0 371.4,498.3 377.2,490.9 383.0,483.1 388.8,475.3 394.6,472.3 400.4,464.6 406.2,452.8 412.0,443.0 417.8,438.9 423.6,435.8 429.4,432.6 435.2,429.5 441.0,427.7 446.8,425.9 452.6,424.1 458.4,422.2 464.2,420.4 470.0,418.6 475.8,417.9 481.6,417.1 487.4,416.3 493.2,415.6 499.0,414.1 504.8,413.2 510.6,415.7 516.4,418.6 522.2,420.3 528.0,415.7 533.8,401.4 539.6,386.9 545.4,382.4 551.2,387.8 557.0,393.5 562.8,394.4 568.6,393.3 574.4,388.7 580.2,384.0 586.0,383.4 591.8,381.9 597.6,381.1 603.4,383.0 609.2,382.1 615.0,376.3 620.8,367.6 626.6,359.9 632.4,360.3 638.2,366.2 644.0,368.3 649.8,366.6 655.6,364.5 661.4,358.7 667.2,351.4 673.0,348.6 678.8,347.2 684.6,340.7 690.4,334.0 696.2,329.9 702.0,320.3 707.8,307.7 713.6,307.1 719.4,316.2 725.2,318.5 731.0,313.1 736.8,306.5 742.6,300.0 748.4,294.2 754.2,295.6 760.0,302.1 765.9,299.7 771.7,283.8 777.5,269.5 783.3,265.5 789.1,263.6 794.9,255.2 800.7,247.7 806.5,245.5 812.3,241.7 818.1,233.5 823.9,226.6 829.7,224.6 835.5,225.4 841.3,227.3 847.1,228.9 852.9,226.8 858.7,221.2 864.5,215.2 870.3,207.9 876.1,199.6 881.9,195.5 887.7,195.6 893.5,196.6 899.3,193.6 905.1,190.2 910.9,185.8 916.7,175.2 922.5,164.0 928.3,161.0 934.1,165.2 939.9,165.9 945.7,159.2 951.5,150.3 957.3,147.6 963.1,152.5 968.9,153.5 974.7,144.2 980.5,131.7" fill="none" stroke="#f00000" stroke-width="3.7" stroke-linejoin="round"/>
<polyline points="110.3,534.4 116.1,542.3 121.9,548.1 127.7,550.2 133.5,546.4 139.3,535.6 145.1,525.1 150.9,521.1 156.7,525.5 162.5,530.8 168.3,533.9 174.1,532.8 179.9,537.0 185.7,543.1 191.5,549.4 197.3,558.3 203.1,562.3 208.9,561.7 214.7,556.4 220.5,552.3 226.3,541.1 232.1,526.3 237.9,517.6 243.7,518.8 249.5,527.9 255.3,531.4 261.1,529.5 266.9,530.4 272.7,528.1 278.5,517.5 284.3,501.6 290.1,499.5 295.9,505.6 301.7,515.4 307.5,523.5 313.3,519.5 319.1,513.7 324.9,506.1 330.8,499.9 336.6,504.5 342.4,506.7 348.2,509.4 354.0,514.8 359.8,521.5 365.6,525.2 371.4,519.7 377.2,508.4 383.0,495.1 388.8,486.1 394.6,486.3 400.4,481.4 406.2,465.6 412.0,455.9 417.8,454.5 423.6,455.0 429.4,454.3 435.2,455.2 441.0,455.6 446.8,451.1 452.6,443.4 458.4,436.9 464.2,433.6 470.0,432.1 475.8,436.5 481.6,445.3 487.4,447.5 493.2,442.0 499.0,435.8 504.8,433.2 510.6,429.4 516.4,420.1 522.2,414.4 528.0,418.0 533.8,421.6 539.6,418.1 545.4,410.7 551.2,403.5 557.0,398.0 562.8,394.7 568.6,393.7 574.4,398.2 580.2,405.6 586.0,404.9 591.8,397.9 597.6,392.6 603.4,388.8 609.2,386.3 615.0,384.3 620.8,381.2 626.6,375.5 632.4,368.3 638.2,360.2 644.0,349.9 649.8,341.5 655.6,341.9 661.4,341.5 667.2,332.1 673.0,320.0 678.8,312.5 684.6,312.3 690.4,314.2 696.2,310.3 702.0,307.2 707.8,312.0 713.6,322.4 719.4,326.9 725.2,316.9 731.0,306.2 736.8,303.4 742.6,297.7 748.4,284.4 754.2,272.8 760.0,270.5 765.9,273.0 771.7,269.4 777.5,265.2 783.3,261.5 789.1,250.7 794.9,237.1 800.7,235.2 806.5,246.5 812.3,255.4 818.1,250.4 823.9,239.7 829.7,230.2 835.5,218.2 841.3,210.4 847.1,215.3 852.9,222.0 858.7,221.0 864.5,217.2 870.3,212.5 876.1,205.7 881.9,200.4 887.7,199.0 893.5,198.2 899.3,191.6 905.1,182.1 910.9,172.7 916.7,164.4 922.5,162.5 928.3,161.0 934.1,151.0 939.9,138.3 945.7,134.5 951.5,138.2 957.3,143.1 963.1,147.3 968.9,145.5 974.7,135.7 980.5,126.1" fill="none" stroke="#f00000" stroke-width="3.7" stroke-linejoin="round"/>
<polyline points="110.3,530.1 116.1,536.8 121.9,538.8 127.7,535.8 133.5,535.1 139.3,536.0 145.1,533.7 150.9,529.9 156.7,530.4 162.5,532.2 168.3,535.6 174.1,535.8 179.9,537.9 185.7,543.3 191.5,549.1 197.3,550.8 203.1,549.6 208.9,551.3 214.7,549.0 220.5,548.3 226.3,544.3 232.1,540.8 237.9,538.9 243.7,532.5 249.5,530.1 255.3,531.3 261.1,530.8 266.9,529.3 272.7,526.9 278.5,523.5 284.3,517.1 290.1,516.0 295.9,516.6 301.7,523.6 307.5,529.7 313.3,522.3 319.1,512.4 324.9,502.0 330.8,496.5 336.6,502.9 342.4,507.0 348.2,510.3 354.0,513.5 359.8,518.6 365.6,520.8 371.4,510.0 377.2,491.0 383.0,475.6 388.8,469.0 394.6,469.7 400.4,471.1 406.2,468.8 412.0,465.5 417.8,462.7 423.6,462.7 429.4,460.3 435.2,451.9 441.0,445.3 446.8,445.5 452.6,450.5 458.4,453.3 464.2,450.1 470.0,448.0 475.8,450.0 481.6,448.0 487.4,440.1 493.2,432.9 499.0,427.2 504.8,423.3 510.6,422.5 516.4,426.0 522.2,428.0 528.0,422.9 533.8,414.9 539.6,409.9 545.4,408.0 551.2,402.6 557.0,392.1 562.8,383.4 568.6,379.4 574.4,378.1 580.2,377.1 586.0,375.0 591.8,373.7 597.6,374.2 603.4,372.3 609.2,364.5 615.0,358.3 620.8,361.7 626.6,367.6 632.4,368.2 638.2,364.7 644.0,364.7 649.8,368.6 655.6,367.9 661.4,360.7 667.2,351.8 673.0,339.9 678.8,325.6 684.6,313.3 690.4,308.8 696.2,314.5 702.0,323.9 707.8,328.1 713.6,325.8 719.4,322.7 725.2,318.9 731.0,309.4 736.8,296.9 742.6,289.2 748.4,286.4 754.2,285.6 760.0,285.6 765.9,284.6 771.7,277.6 777.5,263.9 783.3,251.4 789.1,248.6 794.9,250.3 800.7,248.7 806.5,243.8 812.3,240.1 818.1,237.4 823.9,236.2 829.7,233.4 835.5,227.3 841.3,222.3 847.1,219.2 852.9,216.9 858.7,215.8 864.5,213.8 870.3,210.7 876.1,209.0 881.9,209.5 887.7,209.9 893.5,208.3 899.3,200.9 905.1,189.4 910.9,178.3 916.7,173.4 922.5,176.6 928.3,180.3 934.1,181.5 939.9,178.9 945.7,176.4 951.5,175.0 957.3,166.8 963.1,152.4 968.9,141.3 974.7,134.8 980.5,126.4" fill="none" stroke="#f00000" stroke-width="3.7" stroke-linejoin="round"/>
<polyline points="110.3,537.6 116.1,539.4 121.9,537.9 127.7,534.4 133.5,533.4 139.3,532.8 145.1,533.0 150.9,533.7 156.7,533.0 162.5,527.4 168.3,524.6 174.1,524.1 179.9,529.1 185.7,535.6 191.5,541.9 197.3,547.9 203.1,548.6 208.9,547.2 214.7,541.7 220.5,538.3 226.3,534.4 232.1,532.7 237.9,531.4 243.7,526.5 249.5,524.6 255.3,523.3 261.1,519.2 266.9,515.5 272.7,512.9 278.5,510.6 284.3,505.9 290.1,509.7 295.9,515.8 301.7,522.2 307.5,526.4 313.3,519.6 319.1,509.9 324.9,497.4 330.8,487.4 336.6,489.7 342.4,493.4 348.2,500.8 354.0,509.7 359.8,515.5 365.6,513.7 371.4,505.6 377.2,498.9 383.0,491.7 388.8,483.5 394.6,478.2 400.4,470.7 406.2,460.3 412.0,454.3 417.8,449.6 423.6,445.6 429.4,444.3 435.2,446.6 441.0,452.7 446.8,459.7 452.6,461.5 458.4,453.9 464.2,443.8 470.0,437.5 475.8,430.3 481.6,423.2 487.4,418.1 493.2,411.3 499.0,404.4 504.8,401.1 510.6,401.8 516.4,407.7 522.2,413.8 528.0,416.3 533.8,418.8 539.6,419.0 545.4,411.3 551.2,401.8 557.0,399.6 562.8,401.4 568.6,400.5 574.4,397.7 580.2,396.4 586.0,398.0 591.8,399.9 597.6,397.3 603.4,387.3 609.2,371.7 615.0,358.1 620.8,351.4 626.6,351.3 632.4,356.4 638.2,362.3 644.0,365.4 649.8,364.9 655.6,359.9 661.4,347.4 667.2,333.9 673.0,327.2 678.8,327.5 684.6,331.8 690.4,333.8 696.2,328.3 702.0,317.0 707.8,305.2 713.6,301.1 719.4,304.7 725.2,307.2 731.0,306.0 736.8,302.7 742.6,297.6 748.4,288.7 754.2,280.6 760.0,277.6 765.9,277.2 771.7,275.0 777.5,270.9 783.3,265.2 789.1,261.7 794.9,259.4 800.7,257.4 806.5,256.6 812.3,254.5 818.1,246.3 823.9,234.0 829.7,225.2 835.5,219.2 841.3,214.9 847.1,214.2 852.9,213.5 858.7,209.7 864.5,204.9 870.3,202.6 876.1,202.3 881.9,200.6 887.7,195.5 893.5,193.5 899.3,193.8 905.1,190.1 910.9,184.4 916.7,180.5 922.5,177.1 928.3,170.8 934.1,166.0 939.9,163.9 945.7,163.3 951.5,162.8 957.3,160.6 963.1,156.6 968.9,149.4 974.7,139.9 980.5,131.4" fill="none" stroke="#f00000" stroke-width="3.7" stroke-linejoin="round"/>
<polyline points="110.3,536.7 116.1,536.4 121.9,531.1 127.7,525.3 133.5,526.4 139.3,535.2 145.1,541.9 150.9,533.9 156.7,520.7 162.5,517.0 168.3,528.2 174.1,538.8 179.9,546.6 185.7,555.0 191.5,562.5 197.3,561.6 203.1,551.8 208.9,548.1 214.7,546.8 220.5,545.0 226.3,539.9 232.1,539.6 237.9,540.2 243.7,533.3 249.5,524.7 255.3,518.7 261.1,516.5 266.9,517.3 272.7,517.1 278.5,516.6 284.3,511.8 290.1,508.8 295.9,508.3 301.7,514.3 307.5,518.3 313.3,509.4 319.1,501.8 324.9,499.1 330.8,501.1 336.6,511.8 342.4,518.2 348.2,521.8 354.0,522.7 359.8,521.2 365.6,513.7 371.4,500.6 377.2,489.3 383.0,478.9 388.8,469.1 394.6,464.7 400.4,461.9 406.2,460.5 412.0,460.2 417.8,455.5 423.6,449.8 429.4,442.3 435.2,434.6 441.0,432.8 446.8,436.1 452.6,436.7 458.4,431.7 464.2,428.4 470.0,427.1 475.8,422.9 481.6,417.7 487.4,418.7 493.2,427.8 499.0,434.4 504.8,428.7 510.6,414.0 516.4,402.8 522.2,401.4 528.0,402.3 533.8,401.7 539.6,403.4 545.4,406.4 551.2,408.7 557.0,405.9 562.8,397.7 568.6,393.9 574.4,396.9 580.2,395.9 586.0,386.7 591.8,381.0 597.6,385.2 603.4,389.9 609.2,392.5 615.0,398.0 620.8,398.5 626.6,389.3 632.4,378.5 638.2,369.5 644.0,361.7 649.8,355.3 655.6,352.3 661.4,349.5 667.2,341.1 673.0,328.0 678.8,317.9 684.6,318.4 690.4,331.6 696.2,344.7 702.0,341.4 707.8,328.2 713.6,318.8 719.4,310.8 725.2,300.7 731.0,296.4 736.8,295.9 742.6,294.0 748.4,290.7 754.2,285.8 760.0,280.8 765.9,280.4 771.7,280.3 777.5,276.1 783.3,268.6 789.1,260.1 794.9,251.1 800.7,242.2 806.5,234.1 812.3,233.0 818.1,235.8 823.9,232.2 829.7,227.7 835.5,229.6 841.3,229.2 847.1,219.9 852.9,213.0 858.7,213.6 864.5,212.5 870.3,209.3 876.1,207.8 881.9,204.8 887.7,195.4 893.5,185.3 899.3,180.6 905.1,178.0 910.9,173.9 916.7,169.7 922.5,163.4 928.3,154.2 934.1,146.7 939.9,142.4 945.7,140.1 951.5,137.4 957.3,131.8 963.1,124.6 968.9,120.5 974.7,120.0 980.5,118.0" fill="none" stroke="#f00000" stroke-width="3.7" stroke-linejoin="round"/>
<polyline points="110.3,534.6 116.1,535.8 121.9,535.1 127.7,530.3 133.5,524.0 139.3,520.2 145.1,521.7 150.9,526.6 156.7,532.6 162.5,533.2 168.3,531.0 174.1,529.2 179.9,533.1 185.7,535.9 191.5,540.0 197.3,546.9 203.1,551.4 208.9,559.6 214.7,562.9 220.5,559.8 226.3,550.2 232.1,542.7 237.9,540.0 243.7,537.4 249.5,535.3 255.3,529.7 261.1,520.8 266.9,513.4 272.7,508.1 278.5,505.7 284.3,502.9 290.1,506.1 295.9,509.1 301.7,517.4 307.5,527.8 313.3,522.2 319.1,511.7 324.9,503.8 330.8,499.6 336.6,501.6 342.4,505.0 348.2,517.8 354.0,530.1 359.8,532.4 365.6,524.4 371.4,509.2 377.2,493.9 383.0,479.9 388.8,473.3 394.6,475.4 400.4,473.7 406.2,463.3 412.0,450.5 417.8,440.8 423.6,439.1 429.4,440.6 435.2,439.1 441.0,432.5 446.8,427.7 452.6,428.5 458.4,428.4 464.2,433.9 470.0,446.3 475.8,450.6 481.6,441.9 487.4,431.2 493.2,426.4 499.0,422.5 504.8,417.5 510.6,415.0 516.4,414.0 522.2,411.2 528.0,407.3 533.8,403.6 539.6,401.6 545.4,403.8 551.2,404.7 557.0,401.6 562.8,402.9 568.6,407.3 574.4,407.4 580.2,404.2 586.0,397.3 591.8,389.3 597.6,384.4 603.4,378.8 609.2,369.8 615.0,364.4 620.8,369.8 626.6,378.8 632.4,380.4 638.2,372.0 644.0,359.6 649.8,347.9 655.6,340.0 661.4,336.6 667.2,334.9 673.0,332.3 678.8,328.1 684.6,321.5 690.4,315.7 696.2,316.9 702.0,325.1 707.8,330.2 713.6,327.2 719.4,323.8 725.2,321.7 731.0,313.4 736.8,302.1 742.6,295.0 748.4,284.1 754.2,268.4 760.0,258.9 765.9,255.2 771.7,250.4 777.5,248.8 783.3,247.5 789.1,246.0 794.9,250.5 800.7,256.1 806.5,256.3 812.3,253.0 818.1,247.1 823.9,236.8 829.7,226.9 835.5,222.5 841.3,219.3 847.1,216.0 852.9,214.5 858.7,212.4 864.5,210.1 870.3,207.6 876.1,204.7 881.9,202.9 887.7,201.1 893.5,198.7 899.3,192.3 905.1,185.0 910.9,182.5 916.7,182.2 922.5,179.8 928.3,172.8 934.1,164.2 939.9,157.7 945.7,155.1 951.5,155.3 957.3,158.0 963.1,162.9 968.9,163.1 974.7,156.1 980.5,149.2" fill="none" stroke="#f00000" stroke-width="3.7" stroke-linejoin="round"/>
<polyline points="110.3,527.0 116.1,531.3 121.9,533.9 127.7,535.3 133.5,536.4 139.3,534.8 145.1,533.8 150.9,534.3 156.7,532.3 162.5,528.7 168.3,533.1 174.1,539.2 179.9,546.5 185.7,552.9 191.5,559.1 197.3,563.7 203.1,563.2 208.9,562.8 214.7,558.3 220.5,555.1 226.3,548.7 232.1,541.3 237.9,534.8 243.7,530.0 249.5,532.2 255.3,535.9 261.1,535.0 266.9,528.7 272.7,516.9 278.5,506.2 284.3,501.7 290.1,510.8 295.9,522.5 301.7,535.7 307.5,543.9 313.3,537.5 319.1,531.5 324.9,525.9 330.8,517.2 336.6,514.7 342.4,514.7 348.2,515.5 354.0,513.5 359.8,514.6 365.6,514.2 371.4,506.0 377.2,496.5 383.0,489.4 388.8,487.7 394.6,486.5 400.4,476.5 406.2,463.4 412.0,459.5 417.8,461.5 423.6,458.3 429.4,446.8 435.2,434.7 441.0,427.4 446.8,422.7 452.6,422.4 458.4,427.3 464.2,430.1 470.0,430.5 475.8,433.6 481.6,437.7 487.4,440.6 493.2,443.1 499.0,443.8 504.8,442.3 510.6,437.8 516.4,429.7 522.2,416.0 528.0,398.2 533.8,388.6 539.6,393.0 545.4,401.4 551.2,402.1 557.0,396.0 562.8,392.6 568.6,393.2 574.4,393.0 580.2,392.0 586.0,394.0 591.8,398.3 597.6,399.7 603.4,393.5 609.2,384.3 615.0,378.8 620.8,373.2 626.6,365.7 632.4,361.7 638.2,363.5 644.0,365.5 649.8,360.3 655.6,356.9 661.4,358.8 667.2,355.2 673.0,347.0 678.8,342.2 684.6,336.5 690.4,328.3 696.2,322.7 702.0,320.3 707.8,316.7 713.6,308.9 719.4,303.7 725.2,307.5 731.0,310.7 736.8,303.4 742.6,294.8 748.4,288.5 754.2,282.3 760.0,275.6 765.9,266.4 771.7,258.3 777.5,256.4 783.3,260.3 789.1,263.0 794.9,256.9 800.7,246.8 806.5,239.6 812.3,237.9 818.1,237.9 823.9,234.4 829.7,231.7 835.5,234.7 841.3,236.8 847.1,230.8 852.9,220.4 858.7,216.8 864.5,219.8 870.3,218.9 876.1,214.1 881.9,212.2 887.7,210.0 893.5,208.2 899.3,202.9 905.1,189.8 910.9,172.1 916.7,155.2 922.5,148.2 928.3,148.9 934.1,149.1 939.9,150.4 945.7,153.3 951.5,150.5 957.3,143.4 963.1,140.5 968.9,140.2 974.7,138.3 980.5,134.2" fill="none" stroke="#f00000" stroke-width="3.7" stroke-linejoin="round"/>
<polyline points="110.3,545.5 116.1,547.7 121.9,541.0 127.7,531.9 133.5,534.1 139.3,543.2 145.1,545.1 150.9,537.9 156.7,533.4 162.5,532.7 168.3,537.4 174.1,544.1 179.9,551.0 185.7,554.0 191.5,561.0 197.3,570.6 203.1,571.4 208.9,568.3 214.7,560.2 220.5,552.7 226.3,543.9 232.1,538.6 237.9,540.2 243.7,544.5 249.5,547.0 255.3,537.4 261.1,519.3 266.9,511.4 272.7,516.1 278.5,518.1 284.3,511.0 290.1,512.4 295.9,518.5 301.7,527.1 307.5,532.4 313.3,521.3 319.1,506.7 324.9,497.4 330.8,495.9 336.6,501.1 342.4,500.7 348.2,504.6 354.0,513.9 359.8,520.0 365.6,515.7 371.4,507.3 377.2,503.9 383.0,496.1 388.8,479.2 394.6,464.6 400.4,456.8 406.2,457.4 412.0,463.9 417.8,467.8 423.6,468.8 429.4,465.7 435.2,457.7 441.0,448.8 446.8,444.3 452.6,445.7 458.4,444.1 464.2,435.4 470.0,426.7 475.8,425.4 481.6,426.7 487.4,425.5 493.2,424.2 499.0,418.3 504.8,407.2 510.6,397.2 516.4,391.9 522.2,393.1 528.0,400.5 533.8,409.5 539.6,412.3 545.4,406.7 551.2,400.3 557.0,398.6 562.8,402.3 568.6,405.9 574.4,400.6 580.2,387.4 586.0,378.6 591.8,376.6 597.6,374.2 603.4,374.4 609.2,380.6 615.0,383.9 620.8,377.5 626.6,367.3 632.4,365.8 638.2,371.5 644.0,371.7 649.8,360.4 655.6,348.7 661.4,345.0 667.2,343.8 673.0,342.1 678.8,339.9 684.6,334.1 690.4,329.5 696.2,329.8 702.0,327.6 707.8,320.6 713.6,314.5 719.4,310.0 725.2,306.2 731.0,305.8 736.8,304.9 742.6,296.7 748.4,280.8 754.2,267.0 760.0,262.8 765.9,262.0 771.7,256.5 777.5,252.6 783.3,250.5 789.1,245.0 794.9,237.9 800.7,237.1 806.5,241.7 812.3,242.6 818.1,239.0 823.9,232.1 829.7,224.9 835.5,225.3 841.3,230.2 847.1,230.7 852.9,227.9 858.7,223.0 864.5,214.8 870.3,207.5 876.1,200.8 881.9,191.9 887.7,184.2 893.5,182.7 899.3,180.0 905.1,176.0 910.9,178.1 916.7,180.8 922.5,175.7 928.3,163.5 934.1,154.6 939.9,151.8 945.7,152.5 951.5,155.0 957.3,155.5 963.1,149.3 968.9,137.7 974.7,126.8 980.5,123.0" fill="none" stroke="#f00000" stroke-width="3.7" stroke-linejoin="round"/>
</g>
<rect x="110.3" y="58.6" width="870.20" height="543.30" fill="none" stroke="#141414" stroke-width="2.5"/>
<path d="M255.33 601.90V592.40M255.33 58.60V68.10M400.37 601.90V592.40M400.37 58.60V68.10M545.40 601.90V592.40M545.40 58.60V68.10M690.43 601.90V592.40M690.43 58.60V68.10M835.47 601.90V592.40M835.47 58.60V68.10M110.30 541.53H119.80M980.50 541.53H971.00M110.30 481.17H119.80M980.50 481.17H971.00M110.30 420.80H119.80M980.50 420.80H971.00M110.30 360.43H119.80M980.50 360.43H971.00M110.30 300.07H119.80M980.50 300.07H971.00M110.30 239.70H119.80M980.50 239.70H971.00M110.30 179.33H119.80M980.50 179.33H971.00M110.30 118.97H119.80M980.50 118.97H971.00" stroke="#141414" stroke-width="2.5" fill="none"/>
<text x="110.30" y="632.50" font-size="28.4" text-anchor="middle">1950</text>
<text x="255.33" y="632.50" font-size="28.4" text-anchor="middle">1975</text>
<text x="400.37" y="632.50" font-size="28.4" text-anchor="middle">2000</text>
<text x="545.40" y="632.50" font-size="28.4" text-anchor="middle">2025</text>
<text x="690.43" y="632.50" font-size="28.4" text-anchor="middle">2050</text>
<text x="835.47" y="632.50" font-size="28.4" text-anchor="middle">2075</text>
<text x="980.50" y="632.50" font-size="28.4" text-anchor="middle">2100</text>
<text x="101.10" y="609.80" font-size="28.4" text-anchor="end">-0.5</text>
<text x="101.10" y="549.43" font-size="28.4" text-anchor="end">0</text>
<text x="101.10" y="489.07" font-size="28.4" text-anchor="end">0.5</text>
<text x="101.10" y="428.70" font-size="28.4" text-anchor="end">1</text>
<text x="101.10" y="368.33" font-size="28.4" text-anchor="end">1.5</text>
<text x="101.10" y="307.97" font-size="28.4" text-anchor="end">2</text>
<text x="101.10" y="247.60" font-size="28.4" text-anchor="end">2.5</text>
<text x="101.10" y="187.23" font-size="28.4" text-anchor="end">3</text>
<text x="101.10" y="126.87" font-size="28.4" text-anchor="end">3.5</text>
<text x="101.10" y="66.50" font-size="28.4" text-anchor="end">4</text>
<g clip-path="url(#clipb)">
<polyline points="1225.4,573.6 1226.9,498.4 1228.3,448.5 1229.8,415.3 1231.2,393.0 1232.7,378.2 1234.1,368.2 1235.6,361.3 1237.0,356.4 1238.5,353.7 1239.9,351.9 1241.4,350.6 1242.8,349.8 1244.2,348.9 1245.7,348.1 1247.2,347.5 1248.6,346.9 1250.1,346.1 1251.5,345.4 1253.0,344.6 1254.4,343.9 1260.2,339.9 1266.0,340.2 1271.8,344.3 1277.6,352.7 1283.4,364.2 1289.2,372.8 1295.0,379.9 1300.8,383.2 1306.6,383.5 1312.4,391.4 1318.2,404.8 1324.0,413.7 1329.8,414.7 1335.6,410.2 1341.4,402.9 1347.2,387.9 1353.0,377.9 1358.8,370.8 1364.6,362.2 1370.4,353.0 1376.2,345.4 1382.0,349.0 1387.8,357.2 1393.6,367.7 1399.4,376.6 1405.2,380.3 1411.0,385.6 1416.8,397.5 1422.6,415.4 1428.4,424.2 1434.2,424.3 1440.0,412.2 1445.8,392.3 1451.6,367.9 1457.4,344.2 1463.2,327.8 1469.0,318.8 1474.8,318.5 1480.6,325.5 1486.4,336.1 1492.2,347.1 1498.0,355.9 1503.8,362.1 1509.6,364.4 1515.4,361.7 1521.2,354.1 1527.0,347.5 1532.8,344.3 1538.6,343.4 1544.4,342.9 1550.2,340.2 1556.0,335.0 1561.8,328.5 1567.6,320.2 1573.4,311.3 1579.2,302.3 1585.0,293.6 1590.8,284.7 1596.6,276.8 1602.4,273.5 1608.2,277.5 1614.0,286.3 1619.8,297.2 1625.6,305.8 1631.4,312.4 1637.2,316.1 1643.0,316.3 1648.8,315.1 1654.6,316.6 1660.4,323.8 1666.2,332.4 1672.0,334.1 1677.8,322.4 1683.6,302.1 1689.4,286.5 1695.2,284.2 1701.0,289.5 1706.8,290.4 1712.6,283.9 1718.4,279.1 1724.2,282.6 1730.0,292.8 1735.8,303.2 1741.6,310.1 1747.4,312.7 1753.2,311.7 1759.0,309.4 1764.8,310.3 1770.6,315.6 1776.4,321.9 1782.2,323.0 1788.0,317.2 1793.8,313.9 1799.6,309.4 1805.4,301.6 1811.2,281.4 1817.0,259.5 1822.8,250.3 1828.6,252.7 1834.4,254.2 1840.2,249.4 1846.0,242.2 1851.8,240.8 1857.6,252.1 1863.4,270.1 1869.2,285.1 1875.0,292.2 1880.8,290.2 1886.6,280.4 1892.4,264.5 1898.2,252.4 1904.0,250.3 1909.8,260.7 1915.6,281.1 1921.4,303.5 1927.2,316.4 1933.0,311.8 1938.8,291.0 1944.6,263.2 1950.4,235.4 1956.2,213.4 1962.0,202.0 1967.8,205.4 1973.6,223.8 1979.4,251.4 1985.2,279.2 1991.0,299.9 1996.8,309.6 2002.6,308.9 2008.4,301.7 2014.2,294.6 2020.0,293.0 2025.8,294.5 2031.6,290.1 2037.4,274.5 2043.2,252.2 2049.0,235.3 2054.8,227.2 2060.6,219.4 2066.4,201.6 2072.2,174.7 2078.0,150.8 2083.8,142.7 2089.6,152.9 2095.4,172.3" fill="none" stroke="#000" stroke-width="3.7" stroke-linejoin="round"/>
<polyline points="1225.4,591.0 1226.9,518.7 1228.3,469.2 1229.8,435.2 1231.2,411.8 1232.7,396.1 1234.1,385.4 1235.6,377.9 1237.0,372.8 1238.5,370.0 1239.9,368.4 1241.4,367.5 1242.8,367.0 1244.2,366.8 1245.7,366.8 1247.2,367.0 1248.6,367.3 1250.1,367.9 1251.5,368.5 1253.0,369.2 1254.4,369.9 1260.2,372.2 1266.0,375.5 1271.8,376.3 1277.6,376.3 1283.4,377.2 1289.2,374.6 1295.0,368.8 1300.8,357.3 1306.6,344.7 1312.4,346.8 1318.2,362.0 1324.0,375.4 1329.8,380.9 1335.6,383.6 1341.4,387.3 1347.2,383.2 1353.0,379.2 1358.8,372.0 1364.6,359.3 1370.4,344.8 1376.2,333.4 1382.0,335.0 1387.8,341.5 1393.6,351.4 1399.4,363.0 1405.2,372.7 1411.0,382.0 1416.8,390.4 1422.6,396.8 1428.4,389.8 1434.2,374.7 1440.0,353.9 1445.8,337.8 1451.6,332.0 1457.4,336.8 1463.2,350.0 1469.0,364.6 1474.8,379.7 1480.6,393.9 1486.4,405.2 1492.2,413.2 1498.0,419.1 1503.8,423.2 1509.6,420.8 1515.4,405.7 1521.2,375.9 1527.0,342.7 1532.8,319.7 1538.6,315.1 1544.4,327.0 1550.2,344.0 1556.0,354.4 1561.8,353.4 1567.6,344.5 1573.4,336.8 1579.2,336.2 1585.0,343.4 1590.8,353.0 1596.6,356.7 1602.4,348.5 1608.2,328.9 1614.0,303.9 1619.8,283.4 1625.6,270.7 1631.4,265.5 1637.2,263.4 1643.0,262.1 1648.8,261.8 1654.6,261.8 1660.4,259.8 1666.2,255.2 1672.0,253.4 1677.8,257.3 1683.6,263.6 1689.4,268.0 1695.2,271.0 1701.0,275.9 1706.8,283.6 1712.6,292.6 1718.4,301.5 1724.2,307.6 1730.0,309.4 1735.8,307.6 1741.6,305.9 1747.4,309.0 1753.2,318.4 1759.0,331.7 1764.8,343.2 1770.6,345.4 1776.4,334.6 1782.2,315.1 1788.0,296.5 1793.8,290.6 1799.6,290.4 1805.4,291.9 1811.2,284.7 1817.0,273.6 1822.8,267.7 1828.6,267.4 1834.4,268.3 1840.2,269.0 1846.0,266.4 1851.8,260.1 1857.6,258.1 1863.4,263.4 1869.2,272.9 1875.0,282.6 1880.8,291.1 1886.6,297.9 1892.4,299.8 1898.2,300.5 1904.0,302.9 1909.8,308.0 1915.6,312.0 1921.4,309.3 1927.2,297.8 1933.0,277.9 1938.8,252.0 1944.6,228.4 1950.4,218.5 1956.2,227.9 1962.0,250.9 1967.8,276.9 1973.6,297.5 1979.4,305.3 1985.2,295.7 1991.0,272.6 1996.8,246.2 2002.6,225.5 2008.4,212.8 2014.2,208.8 2020.0,215.9 2025.8,232.6 2031.6,248.8 2037.4,254.7 2043.2,249.1 2049.0,239.8 2054.8,229.6 2060.6,216.5 2066.4,204.4 2072.2,205.6 2078.0,226.7 2083.8,254.9 2089.6,268.6 2095.4,257.2" fill="none" stroke="#000" stroke-width="3.7" stroke-linejoin="round"/>
<polyline points="1225.4,580.9 1226.9,517.4 1228.3,470.7 1229.8,435.9 1231.2,409.5 1232.7,391.1 1234.1,377.1 1235.6,366.0 1237.0,357.0 1238.5,353.0 1239.9,350.1 1241.4,347.9 1242.8,346.2 1244.2,347.4 1245.7,348.8 1247.2,350.4 1248.6,352.1 1250.1,354.9 1251.5,357.8 1253.0,360.7 1254.4,363.6 1260.2,365.2 1266.0,350.0 1271.8,320.8 1277.6,296.6 1283.4,294.9 1289.2,314.0 1295.0,341.4 1300.8,354.5 1306.6,345.7 1312.4,335.7 1318.2,339.3 1324.0,353.5 1329.8,370.8 1335.6,385.2 1341.4,391.5 1347.2,381.3 1353.0,369.8 1358.8,360.7 1364.6,353.5 1370.4,347.5 1376.2,342.7 1382.0,347.7 1387.8,354.9 1393.6,359.8 1399.4,359.0 1405.2,353.0 1411.0,351.5 1416.8,359.8 1422.6,376.1 1428.4,384.6 1434.2,386.4 1440.0,381.5 1445.8,377.9 1451.6,378.2 1457.4,379.7 1463.2,380.2 1469.0,377.7 1474.8,376.8 1480.6,377.7 1486.4,375.7 1492.2,367.6 1498.0,353.5 1503.8,335.8 1509.6,318.2 1515.4,307.0 1521.2,305.1 1527.0,313.3 1532.8,326.1 1538.6,338.1 1544.4,347.7 1550.2,353.4 1556.0,353.7 1561.8,347.5 1567.6,335.3 1573.4,321.1 1579.2,305.0 1585.0,285.7 1590.8,265.8 1596.6,253.4 1602.4,255.3 1608.2,270.2 1614.0,289.0 1619.8,304.8 1625.6,314.0 1631.4,323.0 1637.2,337.3 1643.0,355.1 1648.8,370.1 1654.6,379.1 1660.4,383.0 1666.2,381.5 1672.0,374.7 1677.8,362.3 1683.6,344.2 1689.4,321.1 1695.2,297.1 1701.0,281.0 1706.8,279.1 1712.6,290.2 1718.4,308.0 1724.2,322.7 1730.0,327.3 1735.8,321.8 1741.6,314.8 1747.4,316.8 1753.2,329.5 1759.0,344.1 1764.8,351.5 1770.6,349.8 1776.4,343.3 1782.2,332.3 1788.0,313.6 1793.8,295.7 1799.6,283.6 1805.4,287.2 1811.2,295.3 1817.0,298.8 1822.8,292.5 1828.6,272.8 1834.4,243.7 1840.2,220.9 1846.0,216.7 1851.8,231.2 1857.6,259.0 1863.4,286.7 1869.2,300.2 1875.0,291.8 1880.8,267.7 1886.6,247.1 1892.4,244.7 1898.2,263.4 1904.0,284.8 1909.8,289.5 1915.6,274.6 1921.4,253.9 1927.2,241.8 1933.0,240.1 1938.8,240.8 1944.6,236.5 1950.4,226.3 1956.2,218.7 1962.0,222.5 1967.8,237.1 1973.6,254.1 1979.4,264.7 1985.2,266.8 1991.0,267.0 1996.8,273.1 2002.6,289.0 2008.4,309.9 2014.2,325.7 2020.0,328.1 2025.8,317.7 2031.6,301.1 2037.4,285.1 2043.2,272.5 2049.0,265.2 2054.8,260.0 2060.6,252.4 2066.4,242.6 2072.2,236.4 2078.0,237.6 2083.8,240.8 2089.6,237.6 2095.4,229.5" fill="none" stroke="#000" stroke-width="3.7" stroke-linejoin="round"/>
<polyline points="1225.4,594.3 1226.9,533.4 1228.3,489.0 1229.8,456.5 1231.2,433.0 1232.7,416.0 1234.1,403.8 1235.6,395.2 1237.0,389.1 1238.5,383.9 1239.9,380.1 1241.4,377.4 1242.8,375.4 1244.2,371.1 1245.7,367.2 1247.2,363.6 1248.6,360.2 1250.1,355.4 1251.5,350.8 1253.0,346.2 1254.4,341.6 1260.2,327.1 1266.0,328.8 1271.8,344.3 1277.6,364.3 1283.4,376.8 1289.2,372.6 1295.0,358.5 1300.8,341.0 1306.6,327.8 1312.4,333.2 1318.2,354.5 1324.0,375.9 1329.8,387.2 1335.6,388.0 1341.4,382.0 1347.2,368.0 1353.0,363.5 1358.8,370.0 1364.6,381.0 1370.4,389.5 1376.2,389.7 1382.0,386.4 1387.8,373.4 1393.6,357.3 1399.4,347.2 1405.2,345.9 1411.0,352.8 1416.8,361.2 1422.6,366.9 1428.4,361.7 1434.2,357.1 1440.0,355.5 1445.8,358.1 1451.6,358.1 1457.4,352.6 1463.2,347.6 1469.0,346.8 1474.8,354.6 1480.6,369.2 1486.4,384.8 1492.2,397.1 1498.0,405.9 1503.8,413.3 1509.6,418.2 1515.4,416.8 1521.2,405.0 1527.0,385.2 1532.8,359.8 1538.6,333.6 1544.4,314.2 1550.2,307.0 1556.0,313.5 1561.8,329.2 1567.6,344.3 1573.4,351.9 1579.2,349.0 1585.0,338.9 1590.8,327.4 1596.6,319.8 1602.4,315.9 1608.2,311.6 1614.0,305.2 1619.8,303.8 1625.6,311.2 1631.4,326.8 1637.2,344.9 1643.0,360.8 1648.8,373.2 1654.6,381.4 1660.4,379.9 1666.2,361.7 1672.0,331.3 1677.8,302.3 1683.6,286.2 1689.4,282.6 1695.2,283.3 1701.0,282.5 1706.8,281.1 1712.6,282.8 1718.4,288.7 1724.2,293.1 1730.0,290.5 1735.8,279.3 1741.6,264.5 1747.4,254.3 1753.2,252.1 1759.0,255.2 1764.8,258.0 1770.6,257.0 1776.4,252.1 1782.2,244.9 1788.0,238.5 1793.8,244.9 1799.6,264.4 1805.4,295.9 1811.2,319.7 1817.0,327.4 1822.8,323.6 1828.6,315.3 1834.4,307.8 1840.2,304.8 1846.0,302.7 1851.8,296.0 1857.6,288.8 1863.4,284.5 1869.2,282.8 1875.0,283.2 1880.8,286.0 1886.6,289.1 1892.4,285.8 1898.2,277.9 1904.0,269.7 1909.8,265.6 1915.6,265.9 1921.4,267.6 1927.2,268.5 1933.0,268.6 1938.8,266.3 1944.6,258.7 1950.4,243.4 1956.2,226.0 1962.0,216.8 1967.8,223.0 1973.6,245.2 1979.4,277.4 1985.2,306.6 1991.0,315.8 1996.8,295.7 2002.6,256.9 2008.4,224.1 2014.2,218.7 2020.0,244.6 2025.8,286.1 2031.6,318.2 2037.4,324.8 2043.2,308.8 2049.0,287.2 2054.8,269.8 2060.6,255.7 2066.4,241.9 2072.2,232.0 2078.0,232.1 2083.8,241.6 2089.6,252.0 2095.4,256.2" fill="none" stroke="#000" stroke-width="3.7" stroke-linejoin="round"/>
<polyline points="1225.4,550.1 1226.9,505.3 1228.3,471.9 1229.8,447.1 1231.2,429.0 1232.7,414.4 1234.1,403.6 1235.6,395.8 1237.0,390.1 1238.5,383.8 1239.9,378.8 1241.4,374.7 1242.8,371.4 1244.2,366.2 1245.7,361.5 1247.2,357.1 1248.6,352.9 1250.1,348.9 1251.5,345.1 1253.0,341.3 1254.4,337.7 1260.2,328.5 1266.0,327.7 1271.8,328.3 1277.6,327.3 1283.4,325.0 1289.2,318.3 1295.0,309.9 1300.8,297.6 1306.6,284.4 1312.4,285.1 1318.2,301.3 1324.0,323.2 1329.8,346.1 1335.6,369.0 1341.4,388.1 1347.2,391.8 1353.0,391.5 1358.8,390.2 1364.6,388.9 1370.4,387.2 1376.2,382.1 1382.0,380.4 1387.8,376.3 1393.6,371.1 1399.4,364.2 1405.2,354.4 1411.0,348.2 1416.8,349.9 1422.6,360.7 1428.4,367.0 1434.2,367.8 1440.0,358.1 1445.8,343.1 1451.6,327.8 1457.4,316.9 1463.2,314.8 1469.0,318.0 1474.8,324.4 1480.6,331.2 1486.4,335.6 1492.2,336.2 1498.0,333.5 1503.8,333.4 1509.6,341.0 1515.4,353.6 1521.2,363.1 1527.0,368.4 1532.8,371.1 1538.6,372.3 1544.4,372.1 1550.2,370.3 1556.0,368.1 1561.8,365.2 1567.6,358.3 1573.4,348.8 1579.2,341.0 1585.0,338.7 1590.8,339.7 1596.6,337.5 1602.4,328.7 1608.2,317.5 1614.0,310.8 1619.8,313.4 1625.6,320.6 1631.4,327.6 1637.2,331.1 1643.0,329.7 1648.8,324.3 1654.6,316.9 1660.4,309.7 1666.2,305.5 1672.0,309.1 1677.8,319.3 1683.6,328.5 1689.4,328.7 1695.2,319.8 1701.0,309.4 1706.8,305.1 1712.6,308.0 1718.4,313.1 1724.2,314.5 1730.0,312.4 1735.8,313.7 1741.6,325.1 1747.4,346.3 1753.2,369.9 1759.0,386.5 1764.8,391.0 1770.6,384.0 1776.4,370.5 1782.2,354.9 1788.0,339.2 1793.8,330.1 1799.6,323.3 1805.4,320.3 1811.2,312.0 1817.0,303.2 1822.8,302.8 1828.6,307.9 1834.4,308.6 1840.2,303.3 1846.0,295.9 1851.8,289.0 1857.6,285.9 1863.4,286.5 1869.2,290.1 1875.0,292.2 1880.8,283.8 1886.6,261.4 1892.4,231.9 1898.2,215.4 1904.0,221.6 1909.8,246.5 1915.6,278.2 1921.4,306.2 1927.2,324.8 1933.0,332.0 1938.8,326.3 1944.6,309.3 1950.4,285.2 1956.2,263.5 1962.0,251.6 1967.8,249.3 1973.6,251.0 1979.4,253.8 1985.2,261.3 1991.0,276.9 1996.8,292.4 2002.6,293.0 2008.4,273.0 2014.2,244.2 2020.0,222.8 2025.8,214.7 2031.6,216.2 2037.4,223.6 2043.2,233.7 2049.0,245.5 2054.8,256.8 2060.6,265.4 2066.4,267.5 2072.2,258.2 2078.0,237.5 2083.8,211.5 2089.6,187.0 2095.4,166.0" fill="none" stroke="#000" stroke-width="3.7" stroke-linejoin="round"/>
<polyline points="1225.4,592.7 1226.9,548.0 1228.3,512.5 1229.8,484.2 1231.2,461.7 1232.7,443.4 1234.1,428.6 1235.6,416.6 1237.0,406.6 1238.5,398.6 1239.9,391.8 1241.4,386.1 1242.8,381.1 1244.2,375.9 1245.7,371.1 1247.2,366.8 1248.6,362.7 1250.1,358.3 1251.5,354.1 1253.0,350.0 1254.4,346.0 1260.2,330.2 1266.0,322.0 1271.8,321.1 1277.6,325.9 1283.4,331.9 1289.2,332.7 1295.0,331.9 1300.8,328.4 1306.6,321.7 1312.4,322.1 1318.2,329.3 1324.0,336.0 1329.8,342.0 1335.6,350.5 1341.4,359.6 1347.2,357.1 1353.0,354.0 1358.8,353.1 1364.6,356.2 1370.4,364.2 1376.2,374.1 1382.0,389.3 1387.8,400.0 1393.6,405.9 1399.4,406.3 1405.2,397.8 1411.0,384.4 1416.8,372.1 1422.6,367.8 1428.4,366.7 1434.2,375.2 1440.0,385.8 1445.8,390.0 1451.6,379.1 1457.4,356.2 1463.2,333.5 1469.0,315.3 1474.8,302.8 1480.6,294.2 1486.4,289.6 1492.2,290.5 1498.0,296.4 1503.8,307.9 1509.6,324.3 1515.4,341.8 1521.2,352.8 1527.0,355.3 1532.8,350.8 1538.6,343.7 1544.4,338.7 1550.2,336.5 1556.0,336.1 1561.8,337.1 1567.6,338.9 1573.4,342.3 1579.2,345.8 1585.0,348.8 1590.8,352.4 1596.6,358.5 1602.4,364.8 1608.2,366.5 1614.0,361.5 1619.8,357.2 1625.6,358.2 1631.4,364.8 1637.2,369.6 1643.0,366.5 1648.8,355.3 1654.6,339.4 1660.4,322.0 1666.2,306.3 1672.0,298.5 1677.8,300.9 1683.6,309.7 1689.4,318.4 1695.2,321.8 1701.0,318.2 1706.8,308.8 1712.6,295.9 1718.4,282.2 1724.2,269.3 1730.0,260.8 1735.8,260.2 1741.6,268.8 1747.4,283.3 1753.2,296.7 1759.0,303.4 1764.8,302.5 1770.6,295.0 1776.4,282.3 1782.2,266.7 1788.0,253.6 1793.8,254.1 1799.6,262.5 1805.4,274.4 1811.2,276.2 1817.0,269.4 1822.8,261.2 1828.6,253.8 1834.4,248.3 1840.2,249.6 1846.0,257.8 1851.8,269.1 1857.6,283.8 1863.4,299.7 1869.2,312.6 1875.0,318.5 1880.8,314.1 1886.6,299.5 1892.4,277.7 1898.2,259.8 1904.0,250.8 1909.8,251.1 1915.6,258.3 1921.4,268.1 1927.2,275.3 1933.0,277.2 1938.8,277.2 1944.6,282.3 1950.4,294.0 1956.2,306.2 1962.0,308.8 1967.8,299.2 1973.6,287.1 1979.4,286.2 1985.2,301.1 1991.0,321.8 1996.8,332.4 2002.6,326.3 2008.4,309.6 2014.2,293.7 2020.0,285.9 2025.8,285.5 2031.6,285.8 2037.4,279.8 2043.2,264.0 2049.0,243.9 2054.8,227.4 2060.6,221.7 2066.4,228.3 2072.2,240.5 2078.0,248.1 2083.8,246.2 2089.6,238.5 2095.4,233.7" fill="none" stroke="#000" stroke-width="3.7" stroke-linejoin="round"/>
<polyline points="1225.4,571.2 1226.9,529.0 1228.3,495.3 1229.8,468.6 1231.2,447.3 1232.7,428.2 1234.1,412.7 1235.6,400.1 1237.0,389.7 1238.5,380.4 1239.9,372.5 1241.4,365.9 1242.8,360.1 1244.2,355.5 1245.7,351.5 1247.2,348.0 1248.6,344.9 1250.1,343.5 1251.5,342.3 1253.0,341.4 1254.4,340.6 1260.2,337.2 1266.0,330.3 1271.8,318.8 1277.6,313.8 1283.4,324.0 1289.2,342.3 1295.0,359.1 1300.8,361.9 1306.6,350.9 1312.4,345.9 1318.2,353.6 1324.0,364.2 1329.8,371.2 1335.6,375.8 1341.4,379.6 1347.2,373.8 1353.0,368.7 1358.8,365.3 1364.6,364.1 1370.4,366.6 1376.2,371.7 1382.0,385.2 1387.8,396.6 1393.6,401.5 1399.4,398.4 1405.2,389.3 1411.0,383.1 1416.8,383.3 1422.6,389.0 1428.4,390.0 1434.2,392.3 1440.0,392.7 1445.8,390.6 1451.6,384.0 1457.4,373.5 1463.2,361.4 1469.0,345.5 1474.8,328.1 1480.6,311.9 1486.4,298.5 1492.2,290.3 1498.0,290.3 1503.8,300.9 1509.6,319.6 1515.4,337.9 1521.2,346.2 1527.0,344.5 1532.8,337.9 1538.6,332.6 1544.4,329.2 1550.2,321.0 1556.0,305.2 1561.8,287.2 1567.6,276.7 1573.4,280.3 1579.2,295.2 1585.0,313.9 1590.8,330.3 1596.6,341.4 1602.4,345.3 1608.2,341.0 1614.0,329.1 1619.8,313.8 1625.6,296.2 1631.4,283.2 1637.2,282.6 1643.0,295.7 1648.8,314.9 1654.6,329.2 1660.4,332.9 1666.2,327.0 1672.0,317.7 1677.8,310.4 1683.6,309.5 1689.4,316.4 1695.2,327.5 1701.0,336.4 1706.8,339.5 1712.6,336.9 1718.4,330.8 1724.2,323.5 1730.0,319.1 1735.8,319.4 1741.6,320.2 1747.4,315.7 1753.2,305.6 1759.0,296.0 1764.8,292.3 1770.6,291.9 1776.4,289.6 1782.2,284.4 1788.0,281.7 1793.8,292.3 1799.6,307.7 1805.4,320.7 1811.2,319.1 1817.0,310.8 1822.8,309.6 1828.6,313.7 1834.4,309.3 1840.2,289.1 1846.0,254.6 1851.8,214.1 1857.6,181.4 1863.4,165.4 1869.2,169.5 1875.0,190.6 1880.8,219.1 1886.6,243.3 1892.4,254.5 1898.2,257.6 1904.0,258.3 1909.8,260.2 1915.6,264.6 1921.4,270.2 1927.2,274.5 1933.0,276.7 1938.8,280.0 1944.6,289.1 1950.4,303.8 1956.2,318.8 1962.0,325.8 1967.8,319.3 1973.6,301.2 1979.4,278.9 1985.2,259.6 1991.0,246.7 1996.8,240.7 2002.6,243.7 2008.4,255.7 2014.2,272.0 2020.0,284.9 2025.8,289.2 2031.6,285.2 2037.4,277.7 2043.2,271.7 2049.0,273.2 2054.8,282.7 2060.6,295.8 2066.4,305.7 2072.2,305.1 2078.0,290.5 2083.8,265.1 2089.6,236.7 2095.4,211.1" fill="none" stroke="#000" stroke-width="3.7" stroke-linejoin="round"/>
<polyline points="1225.4,610.9 1226.9,570.3 1228.3,537.2 1229.8,510.2 1231.2,488.3 1232.7,470.4 1234.1,455.9 1235.6,444.2 1237.0,434.8 1238.5,427.1 1239.9,421.0 1241.4,416.1 1242.8,412.2 1244.2,408.2 1245.7,404.9 1247.2,402.2 1248.6,400.0 1250.1,398.0 1251.5,396.4 1253.0,395.0 1254.4,393.9 1260.2,391.2 1266.0,393.1 1271.8,393.3 1277.6,387.8 1283.4,375.4 1289.2,357.6 1295.0,346.8 1300.8,347.0 1306.6,356.0 1312.4,376.9 1318.2,401.0 1324.0,414.8 1329.8,417.2 1335.6,417.2 1341.4,418.6 1347.2,410.4 1353.0,399.3 1358.8,384.8 1364.6,369.6 1370.4,358.9 1376.2,353.7 1382.0,358.9 1387.8,364.2 1393.6,369.2 1399.4,376.1 1405.2,384.9 1411.0,397.5 1416.8,410.9 1422.6,422.5 1428.4,422.3 1434.2,417.1 1440.0,407.1 1445.8,396.3 1451.6,382.5 1457.4,362.0 1463.2,338.2 1469.0,317.9 1474.8,310.7 1480.6,315.6 1486.4,324.0 1492.2,331.0 1498.0,337.1 1503.8,343.7 1509.6,349.7 1515.4,354.6 1521.2,357.5 1527.0,358.5 1532.8,354.2 1538.6,343.3 1544.4,330.3 1550.2,320.2 1556.0,317.3 1561.8,320.9 1567.6,323.0 1573.4,315.9 1579.2,298.6 1585.0,279.4 1590.8,267.6 1596.6,264.0 1602.4,262.4 1608.2,260.5 1614.0,262.1 1619.8,273.3 1625.6,289.9 1631.4,307.1 1637.2,321.4 1643.0,332.7 1648.8,343.3 1654.6,355.0 1660.4,365.3 1666.2,367.5 1672.0,358.9 1677.8,342.3 1683.6,324.2 1689.4,308.3 1695.2,297.0 1701.0,292.8 1706.8,297.9 1712.6,310.4 1718.4,326.7 1724.2,341.4 1730.0,349.6 1735.8,346.8 1741.6,331.9 1747.4,311.2 1753.2,294.5 1759.0,287.4 1764.8,287.5 1770.6,290.2 1776.4,295.8 1782.2,304.7 1788.0,313.2 1793.8,322.1 1799.6,324.3 1805.4,323.9 1811.2,315.7 1817.0,302.9 1822.8,291.4 1828.6,285.4 1834.4,289.7 1840.2,306.6 1846.0,324.9 1851.8,329.5 1857.6,321.7 1863.4,311.8 1869.2,306.2 1875.0,300.5 1880.8,288.1 1886.6,271.0 1892.4,256.3 1898.2,253.8 1904.0,261.4 1909.8,269.2 1915.6,267.4 1921.4,254.6 1927.2,238.7 1933.0,231.2 1938.8,239.2 1944.6,262.1 1950.4,290.3 1956.2,312.3 1962.0,319.9 1967.8,312.6 1973.6,296.6 1979.4,279.8 1985.2,268.4 1991.0,266.6 1996.8,273.3 2002.6,280.7 2008.4,280.3 2014.2,271.9 2020.0,264.2 2025.8,264.6 2031.6,272.8 2037.4,284.8 2043.2,296.3 2049.0,305.7 2054.8,310.1 2060.6,308.2 2066.4,301.5 2072.2,291.9 2078.0,280.0 2083.8,264.7 2089.6,244.3 2095.4,221.6" fill="none" stroke="#000" stroke-width="3.7" stroke-linejoin="round"/>
<polyline points="1225.4,581.0 1226.9,542.0 1228.3,509.4 1229.8,482.1 1231.2,459.2 1232.7,439.6 1234.1,423.1 1235.6,409.2 1237.0,397.3 1238.5,387.9 1239.9,380.0 1241.4,373.4 1242.8,367.7 1244.2,363.5 1245.7,360.0 1247.2,357.2 1248.6,354.8 1250.1,353.9 1251.5,353.4 1253.0,353.2 1254.4,353.2 1260.2,355.9 1266.0,362.6 1271.8,369.8 1277.6,374.9 1283.4,373.2 1289.2,358.8 1295.0,338.1 1300.8,313.2 1306.6,287.3 1312.4,275.3 1318.2,281.7 1324.0,299.3 1329.8,321.7 1335.6,345.5 1341.4,367.5 1347.2,380.4 1353.0,396.3 1358.8,412.2 1364.6,421.0 1370.4,421.2 1376.2,415.0 1382.0,412.8 1387.8,407.7 1393.6,399.9 1399.4,391.3 1405.2,382.0 1411.0,376.3 1416.8,375.7 1422.6,380.5 1428.4,380.1 1434.2,379.1 1440.0,376.1 1445.8,375.1 1451.6,376.7 1457.4,379.0 1463.2,379.9 1469.0,373.1 1474.8,361.1 1480.6,350.7 1486.4,346.9 1492.2,349.7 1498.0,354.5 1503.8,359.2 1509.6,363.4 1515.4,366.4 1521.2,366.1 1527.0,367.2 1532.8,374.5 1538.6,386.4 1544.4,395.2 1550.2,392.0 1556.0,375.2 1561.8,349.5 1567.6,322.1 1573.4,301.1 1579.2,290.4 1585.0,290.7 1590.8,299.1 1596.6,307.6 1602.4,304.9 1608.2,286.6 1614.0,259.8 1619.8,240.5 1625.6,235.8 1631.4,246.5 1637.2,265.7 1643.0,283.9 1648.8,294.6 1654.6,299.5 1660.4,306.0 1666.2,316.0 1672.0,324.9 1677.8,326.0 1683.6,319.7 1689.4,310.9 1695.2,303.3 1701.0,297.7 1706.8,294.1 1712.6,291.0 1718.4,287.3 1724.2,282.4 1730.0,278.4 1735.8,275.8 1741.6,272.7 1747.4,268.6 1753.2,266.8 1759.0,271.9 1764.8,285.2 1770.6,301.5 1776.4,312.8 1782.2,312.1 1788.0,299.7 1793.8,290.2 1799.6,287.0 1805.4,291.6 1811.2,288.7 1817.0,276.5 1822.8,263.4 1828.6,255.6 1834.4,254.4 1840.2,260.5 1846.0,270.3 1851.8,277.9 1857.6,283.0 1863.4,282.1 1869.2,272.0 1875.0,254.8 1880.8,239.6 1886.6,238.1 1892.4,251.7 1898.2,273.9 1904.0,288.5 1909.8,286.8 1915.6,272.8 1921.4,255.7 1927.2,240.9 1933.0,228.2 1938.8,217.7 1944.6,214.6 1950.4,224.4 1956.2,249.4 1962.0,282.8 1967.8,312.0 1973.6,325.5 1979.4,320.0 1985.2,301.1 1991.0,280.5 1996.8,268.1 2002.6,266.8 2008.4,270.9 2014.2,272.5 2020.0,267.8 2025.8,257.6 2031.6,244.9 2037.4,233.0 2043.2,222.7 2049.0,215.1 2054.8,208.2 2060.6,201.7 2066.4,199.0 2072.2,203.9 2078.0,217.4 2083.8,236.3 2089.6,254.8 2095.4,267.4" fill="none" stroke="#000" stroke-width="3.7" stroke-linejoin="round"/>
<polyline points="1225.4,577.9 1226.9,544.9 1228.3,516.9 1229.8,493.0 1231.2,472.8 1232.7,456.8 1234.1,443.5 1235.6,432.3 1237.0,422.9 1238.5,416.4 1239.9,411.3 1241.4,407.3 1242.8,404.2 1244.2,401.9 1245.7,400.3 1247.2,399.3 1248.6,398.9 1250.1,399.0 1251.5,399.5 1253.0,400.4 1254.4,401.5 1260.2,406.6 1266.0,413.5 1271.8,417.5 1277.6,417.9 1283.4,414.1 1289.2,402.2 1295.0,388.1 1300.8,373.6 1306.6,361.3 1312.4,361.5 1318.2,369.8 1324.0,374.0 1329.8,372.7 1335.6,372.1 1341.4,373.4 1347.2,364.9 1353.0,355.8 1358.8,347.8 1364.6,343.2 1370.4,344.2 1376.2,349.6 1382.0,364.0 1387.8,376.1 1393.6,382.8 1399.4,384.7 1405.2,383.9 1411.0,387.3 1416.8,396.0 1422.6,408.7 1428.4,414.8 1434.2,420.1 1440.0,421.9 1445.8,419.0 1451.6,408.2 1457.4,392.2 1463.2,379.2 1469.0,370.5 1474.8,366.5 1480.6,364.4 1486.4,361.0 1492.2,353.7 1498.0,342.4 1503.8,333.2 1509.6,333.2 1515.4,343.4 1521.2,355.7 1527.0,364.2 1532.8,365.0 1538.6,358.8 1544.4,349.5 1550.2,340.6 1556.0,335.4 1561.8,334.9 1567.6,336.2 1573.4,335.2 1579.2,330.0 1585.0,327.1 1590.8,334.7 1596.6,352.1 1602.4,367.7 1608.2,370.2 1614.0,356.4 1619.8,335.3 1625.6,316.2 1631.4,307.1 1637.2,306.0 1643.0,306.7 1648.8,306.2 1654.6,306.6 1660.4,309.5 1666.2,312.2 1672.0,311.3 1677.8,303.6 1683.6,290.9 1689.4,278.8 1695.2,269.7 1701.0,261.5 1706.8,252.8 1712.6,245.6 1718.4,243.6 1724.2,246.5 1730.0,252.2 1735.8,259.2 1741.6,268.7 1747.4,282.8 1753.2,299.8 1759.0,311.9 1764.8,312.7 1770.6,304.2 1776.4,294.7 1782.2,288.5 1788.0,284.9 1793.8,289.5 1799.6,296.7 1805.4,306.1 1811.2,307.0 1817.0,301.1 1822.8,295.6 1828.6,292.5 1834.4,292.5 1840.2,299.3 1846.0,310.7 1851.8,317.9 1857.6,316.8 1863.4,307.7 1869.2,295.7 1875.0,284.8 1880.8,275.6 1886.6,270.3 1892.4,271.6 1898.2,283.9 1904.0,297.3 1909.8,298.5 1915.6,284.0 1921.4,262.9 1927.2,246.0 1933.0,237.1 1938.8,234.7 1944.6,239.3 1950.4,248.5 1956.2,257.2 1962.0,259.8 1967.8,256.6 1973.6,253.1 1979.4,255.2 1985.2,265.1 1991.0,279.8 1996.8,290.4 2002.6,291.3 2008.4,285.8 2014.2,284.9 2020.0,295.5 2025.8,312.0 2031.6,321.7 2037.4,318.8 2043.2,309.8 2049.0,307.0 2054.8,311.6 2060.6,315.4 2066.4,311.8 2072.2,302.0 2078.0,292.1 2083.8,285.1 2089.6,278.6 2095.4,267.6" fill="none" stroke="#000" stroke-width="3.7" stroke-linejoin="round"/>
<polyline points="1225.4,578.2 1226.9,547.1 1228.3,520.2 1229.8,496.9 1231.2,476.7 1232.7,457.8 1234.1,441.3 1235.6,426.7 1237.0,413.8 1238.5,402.3 1239.9,392.0 1241.4,382.9 1242.8,374.6 1244.2,367.7 1245.7,361.6 1247.2,356.0 1248.6,350.8 1250.1,347.2 1251.5,343.9 1253.0,340.9 1254.4,338.2 1260.2,326.9 1266.0,315.5 1271.8,304.3 1277.6,300.2 1283.4,306.3 1289.2,316.9 1295.0,331.1 1300.8,342.5 1306.6,347.4 1312.4,354.3 1318.2,363.7 1324.0,369.9 1329.8,373.9 1335.6,379.8 1341.4,385.9 1347.2,378.2 1353.0,363.9 1358.8,345.1 1364.6,329.3 1370.4,326.6 1376.2,338.0 1382.0,362.9 1387.8,384.5 1393.6,398.4 1399.4,405.2 1405.2,405.6 1411.0,405.7 1416.8,407.9 1422.6,410.8 1428.4,403.6 1434.2,393.4 1440.0,381.3 1445.8,371.3 1451.6,363.1 1457.4,358.7 1463.2,361.3 1469.0,367.0 1474.8,373.8 1480.6,379.7 1486.4,382.6 1492.2,382.2 1498.0,380.2 1503.8,379.0 1509.6,377.3 1515.4,371.9 1521.2,361.9 1527.0,354.4 1532.8,353.5 1538.6,357.2 1544.4,361.3 1550.2,363.0 1556.0,366.2 1561.8,374.8 1567.6,384.6 1573.4,386.8 1579.2,375.9 1585.0,357.3 1590.8,342.4 1596.6,337.3 1602.4,339.9 1608.2,342.8 1614.0,338.0 1619.8,324.5 1625.6,306.0 1631.4,292.0 1637.2,286.0 1643.0,285.7 1648.8,290.8 1654.6,303.1 1660.4,319.4 1666.2,331.0 1672.0,334.6 1677.8,330.5 1683.6,322.2 1689.4,314.0 1695.2,310.0 1701.0,310.2 1706.8,311.7 1712.6,312.6 1718.4,314.1 1724.2,315.1 1730.0,311.7 1735.8,300.1 1741.6,284.6 1747.4,274.6 1753.2,274.8 1759.0,279.3 1764.8,281.7 1770.6,282.6 1776.4,287.9 1782.2,297.8 1788.0,307.2 1793.8,317.6 1799.6,321.8 1805.4,322.2 1811.2,316.3 1817.0,313.2 1822.8,317.2 1828.6,317.8 1834.4,306.0 1840.2,288.2 1846.0,274.6 1851.8,270.7 1857.6,283.5 1863.4,312.9 1869.2,349.4 1875.0,376.2 1880.8,379.9 1886.6,359.1 1892.4,321.9 1898.2,286.5 1904.0,262.8 1909.8,250.5 1915.6,244.4 1921.4,243.7 1927.2,251.6 1933.0,265.9 1938.8,275.7 1944.6,271.0 1950.4,249.3 1956.2,220.0 1962.0,195.8 1967.8,186.2 1973.6,193.7 1979.4,215.4 1985.2,244.0 1991.0,271.5 1996.8,290.1 2002.6,296.5 2008.4,293.0 2014.2,286.5 2020.0,284.5 2025.8,287.8 2031.6,291.6 2037.4,293.7 2043.2,296.6 2049.0,304.0 2054.8,312.3 2060.6,316.3 2066.4,314.7 2072.2,308.4 2078.0,298.8 2083.8,287.5 2089.6,276.2 2095.4,265.7" fill="none" stroke="#000" stroke-width="3.7" stroke-linejoin="round"/>
<polyline points="1225.4,545.2 1226.9,517.6 1228.3,493.8 1229.8,473.4 1231.2,455.9 1232.7,441.1 1234.1,428.5 1235.6,417.8 1237.0,408.8 1238.5,401.0 1239.9,394.4 1241.4,389.0 1242.8,384.5 1244.2,380.0 1245.7,376.2 1247.2,373.0 1248.6,370.4 1250.1,368.2 1251.5,366.5 1253.0,365.1 1254.4,364.0 1260.2,360.4 1266.0,359.0 1271.8,357.2 1277.6,357.5 1283.4,360.8 1289.2,359.3 1295.0,350.9 1300.8,331.5 1306.6,304.3 1312.4,287.1 1318.2,286.5 1324.0,296.2 1329.8,311.1 1335.6,330.4 1341.4,352.6 1347.2,365.4 1353.0,373.0 1358.8,370.9 1364.6,360.8 1370.4,350.8 1376.2,344.0 1382.0,346.9 1387.8,350.5 1393.6,354.4 1399.4,357.7 1405.2,357.3 1411.0,357.2 1416.8,360.7 1422.6,370.1 1428.4,375.3 1434.2,380.2 1440.0,380.4 1445.8,377.6 1451.6,373.9 1457.4,372.9 1463.2,374.0 1469.0,365.7 1474.8,344.4 1480.6,318.3 1486.4,301.0 1492.2,302.3 1498.0,321.7 1503.8,351.6 1509.6,380.8 1515.4,400.4 1521.2,407.9 1527.0,410.6 1532.8,410.3 1538.6,400.2 1544.4,373.9 1550.2,335.2 1556.0,301.4 1561.8,290.9 1567.6,306.5 1573.4,334.1 1579.2,353.9 1585.0,358.7 1590.8,355.5 1596.6,351.7 1602.4,346.6 1608.2,336.3 1614.0,320.4 1619.8,303.8 1625.6,288.0 1631.4,275.7 1637.2,269.6 1643.0,271.4 1648.8,280.7 1654.6,290.9 1660.4,292.6 1666.2,282.6 1672.0,269.8 1677.8,263.6 1683.6,266.2 1689.4,273.0 1695.2,278.3 1701.0,278.5 1706.8,272.8 1712.6,263.3 1718.4,255.3 1724.2,253.6 1730.0,260.2 1735.8,270.6 1741.6,275.1 1747.4,266.8 1753.2,249.2 1759.0,234.8 1764.8,233.1 1770.6,242.6 1776.4,255.9 1782.2,267.4 1788.0,276.6 1793.8,290.6 1799.6,304.0 1805.4,315.7 1811.2,315.4 1817.0,304.5 1822.8,289.7 1828.6,274.8 1834.4,263.1 1840.2,258.4 1846.0,258.1 1851.8,259.8 1857.6,269.7 1863.4,289.5 1869.2,310.5 1875.0,319.0 1880.8,309.8 1886.6,291.8 1892.4,275.7 1898.2,269.2 1904.0,268.4 1909.8,268.6 1915.6,267.8 1921.4,265.7 1927.2,262.0 1933.0,257.8 1938.8,256.0 1944.6,258.4 1950.4,260.8 1956.2,256.6 1962.0,242.0 1967.8,220.5 1973.6,201.8 1979.4,195.9 1985.2,205.1 1991.0,223.4 1996.8,240.7 2002.6,250.6 2008.4,253.1 2014.2,254.5 2020.0,260.1 2025.8,267.8 2031.6,273.7 2037.4,279.3 2043.2,285.5 2049.0,287.8 2054.8,276.5 2060.6,250.8 2066.4,221.0 2072.2,198.1 2078.0,186.5 2083.8,184.2 2089.6,188.7 2095.4,198.5" fill="none" stroke="#000" stroke-width="3.7" stroke-linejoin="round"/>
<polyline points="1225.4,570.8 1226.9,541.4 1228.3,514.8 1229.8,490.9 1231.2,469.2 1232.7,452.1 1234.1,436.7 1235.6,422.8 1237.0,410.2 1238.5,400.6 1239.9,392.1 1241.4,384.4 1242.8,377.6 1244.2,372.1 1245.7,367.3 1247.2,363.0 1248.6,359.2 1250.1,357.5 1251.5,356.2 1253.0,355.2 1254.4,354.5 1260.2,358.2 1266.0,365.8 1271.8,368.8 1277.6,367.1 1283.4,362.7 1289.2,354.4 1295.0,348.1 1300.8,343.7 1306.6,341.2 1312.4,348.4 1318.2,360.9 1324.0,368.2 1329.8,372.0 1335.6,380.2 1341.4,394.4 1347.2,401.7 1353.0,407.5 1358.8,407.4 1364.6,398.5 1370.4,382.3 1376.2,361.0 1382.0,347.2 1387.8,341.3 1393.6,348.5 1399.4,364.4 1405.2,376.2 1411.0,381.6 1416.8,385.2 1422.6,391.9 1428.4,391.6 1434.2,388.4 1440.0,381.5 1445.8,375.2 1451.6,369.9 1457.4,366.1 1463.2,365.2 1469.0,364.7 1474.8,367.4 1480.6,375.0 1486.4,385.0 1492.2,391.2 1498.0,386.1 1503.8,368.2 1509.6,346.3 1515.4,333.9 1521.2,335.7 1527.0,348.7 1532.8,363.1 1538.6,372.5 1544.4,376.2 1550.2,375.6 1556.0,372.0 1561.8,364.0 1567.6,348.9 1573.4,331.8 1579.2,320.8 1585.0,319.1 1590.8,320.8 1596.6,318.9 1602.4,313.3 1608.2,309.6 1614.0,311.0 1619.8,318.2 1625.6,326.9 1631.4,335.8 1637.2,344.2 1643.0,349.8 1648.8,350.1 1654.6,343.8 1660.4,332.7 1666.2,320.4 1672.0,309.7 1677.8,296.9 1683.6,278.7 1689.4,256.9 1695.2,237.3 1701.0,225.5 1706.8,225.0 1712.6,236.0 1718.4,255.1 1724.2,272.0 1730.0,276.7 1735.8,266.3 1741.6,249.2 1747.4,238.4 1753.2,242.3 1759.0,259.4 1764.8,281.3 1770.6,298.6 1776.4,306.9 1782.2,307.9 1788.0,307.0 1793.8,315.1 1799.6,327.6 1805.4,343.7 1811.2,352.8 1817.0,353.0 1822.8,343.8 1828.6,323.8 1834.4,298.7 1840.2,280.0 1846.0,268.7 1851.8,258.1 1857.6,252.0 1863.4,256.2 1869.2,268.1 1875.0,277.0 1880.8,275.7 1886.6,266.3 1892.4,253.0 1898.2,243.7 1904.0,239.9 1909.8,238.4 1915.6,233.1 1921.4,220.7 1927.2,204.5 1933.0,191.4 1938.8,188.4 1944.6,198.4 1950.4,215.6 1956.2,231.9 1962.0,242.7 1967.8,249.1 1973.6,252.2 1979.4,250.5 1985.2,241.2 1991.0,225.4 1996.8,208.4 2002.6,196.9 2008.4,194.9 2014.2,202.6 2020.0,216.0 2025.8,229.8 2031.6,239.0 2037.4,239.3 2043.2,227.8 2049.0,210.9 2054.8,201.0 2060.6,204.4 2066.4,212.3 2072.2,210.9 2078.0,199.4 2083.8,193.7 2089.6,209.4 2095.4,242.5" fill="none" stroke="#000" stroke-width="3.7" stroke-linejoin="round"/>
<polyline points="1225.4,595.3 1226.9,568.7 1228.3,544.9 1229.8,523.7 1231.2,504.8 1232.7,487.3 1234.1,471.7 1235.6,457.6 1237.0,444.9 1238.5,433.6 1239.9,423.4 1241.4,414.2 1242.8,405.9 1244.2,398.4 1245.7,391.6 1247.2,385.4 1248.6,379.8 1250.1,375.5 1251.5,371.6 1253.0,368.1 1254.4,364.9 1260.2,355.9 1266.0,352.4 1271.8,350.7 1277.6,350.7 1283.4,352.7 1289.2,354.1 1295.0,360.0 1300.8,367.9 1306.6,375.3 1312.4,388.8 1318.2,401.1 1324.0,399.2 1329.8,385.0 1335.6,372.5 1341.4,369.6 1347.2,365.0 1353.0,362.6 1358.8,358.5 1364.6,353.2 1370.4,350.2 1376.2,350.1 1382.0,359.1 1387.8,368.3 1393.6,376.8 1399.4,383.8 1405.2,387.4 1411.0,390.2 1416.8,391.0 1422.6,388.0 1428.4,373.6 1434.2,359.4 1440.0,350.5 1445.8,353.9 1451.6,368.2 1457.4,387.0 1463.2,402.5 1469.0,405.5 1474.8,397.1 1480.6,380.6 1486.4,357.6 1492.2,332.0 1498.0,311.0 1503.8,303.7 1509.6,312.1 1515.4,329.4 1521.2,343.2 1527.0,348.8 1532.8,347.9 1538.6,345.4 1544.4,344.1 1550.2,339.4 1556.0,325.5 1561.8,301.5 1567.6,273.5 1573.4,254.5 1579.2,251.6 1585.0,260.6 1590.8,271.6 1596.6,278.3 1602.4,281.8 1608.2,285.5 1614.0,289.9 1619.8,295.6 1625.6,300.6 1631.4,306.2 1637.2,312.1 1643.0,315.6 1648.8,315.7 1654.6,313.5 1660.4,309.7 1666.2,303.0 1672.0,297.9 1677.8,300.8 1683.6,314.4 1689.4,332.7 1695.2,346.0 1701.0,348.4 1706.8,341.1 1712.6,332.1 1718.4,330.3 1724.2,335.6 1730.0,340.2 1735.8,336.0 1741.6,321.4 1747.4,301.1 1753.2,283.0 1759.0,271.1 1764.8,261.7 1770.6,249.9 1776.4,238.8 1782.2,236.7 1788.0,246.5 1793.8,269.0 1799.6,291.5 1805.4,309.6 1811.2,314.5 1817.0,312.4 1822.8,313.0 1828.6,314.5 1834.4,311.9 1840.2,308.6 1846.0,307.4 1851.8,304.3 1857.6,296.7 1863.4,283.6 1869.2,270.9 1875.0,265.5 1880.8,268.1 1886.6,275.4 1892.4,282.2 1898.2,289.3 1904.0,292.4 1909.8,289.1 1915.6,282.0 1921.4,276.7 1927.2,276.0 1933.0,278.3 1938.8,279.5 1944.6,276.8 1950.4,268.2 1956.2,255.7 1962.0,241.1 1967.8,225.2 1973.6,212.0 1979.4,209.5 1985.2,224.2 1991.0,253.3 1996.8,283.4 2002.6,300.7 2008.4,301.5 2014.2,294.5 2020.0,291.6 2025.8,298.7 2031.6,311.6 2037.4,320.2 2043.2,314.7 2049.0,295.2 2054.8,268.8 2060.6,246.2 2066.4,233.5 2072.2,227.6 2078.0,223.2 2083.8,222.8 2089.6,234.2 2095.4,256.8" fill="none" stroke="#000" stroke-width="3.7" stroke-linejoin="round"/>
<polyline points="1225.4,537.1 1226.9,517.1 1228.3,499.4 1229.8,483.6 1231.2,469.6 1232.7,458.0 1234.1,447.8 1235.6,438.9 1237.0,431.1 1238.5,424.2 1239.9,418.2 1241.4,412.9 1242.8,408.4 1244.2,403.3 1245.7,398.7 1247.2,394.6 1248.6,391.0 1250.1,387.6 1251.5,384.6 1253.0,381.9 1254.4,379.5 1260.2,371.7 1266.0,368.0 1271.8,363.4 1277.6,357.1 1283.4,348.2 1289.2,332.3 1295.0,315.1 1300.8,300.2 1306.6,290.4 1312.4,293.4 1318.2,304.2 1324.0,314.2 1329.8,325.2 1335.6,341.5 1341.4,358.1 1347.2,360.5 1353.0,358.9 1358.8,356.2 1364.6,353.4 1370.4,351.8 1376.2,350.9 1382.0,357.1 1387.8,362.3 1393.6,368.4 1399.4,378.3 1405.2,390.3 1411.0,404.7 1416.8,418.6 1422.6,430.3 1428.4,430.6 1434.2,425.4 1440.0,410.8 1445.8,388.7 1451.6,363.1 1457.4,341.8 1463.2,331.0 1469.0,326.8 1474.8,329.4 1480.6,340.2 1486.4,356.6 1492.2,372.0 1498.0,381.0 1503.8,385.2 1509.6,387.4 1515.4,386.7 1521.2,379.7 1527.0,368.0 1532.8,353.4 1538.6,337.7 1544.4,324.0 1550.2,313.9 1556.0,308.6 1561.8,308.2 1567.6,313.1 1573.4,324.9 1579.2,338.9 1585.0,345.6 1590.8,338.7 1596.6,320.8 1602.4,301.2 1608.2,289.0 1614.0,288.1 1619.8,299.6 1625.6,317.4 1631.4,338.2 1637.2,359.6 1643.0,377.1 1648.8,384.4 1654.6,379.0 1660.4,366.3 1666.2,354.8 1672.0,348.5 1677.8,342.6 1683.6,331.9 1689.4,317.4 1695.2,303.6 1701.0,293.8 1706.8,289.8 1712.6,292.0 1718.4,300.5 1724.2,312.6 1730.0,325.4 1735.8,336.2 1741.6,342.0 1747.4,340.4 1753.2,330.7 1759.0,314.8 1764.8,295.9 1770.6,275.3 1776.4,255.4 1782.2,240.5 1788.0,236.9 1793.8,253.2 1799.6,278.8 1805.4,303.9 1811.2,311.3 1817.0,303.0 1822.8,289.7 1828.6,276.2 1834.4,264.3 1840.2,260.4 1846.0,266.3 1851.8,278.4 1857.6,297.9 1863.4,323.5 1869.2,349.6 1875.0,367.2 1880.8,368.7 1886.6,352.1 1892.4,320.3 1898.2,285.3 1904.0,255.7 1909.8,237.6 1915.6,234.2 1921.4,242.6 1927.2,253.5 1933.0,258.0 1938.8,254.6 1944.6,250.2 1950.4,249.6 1956.2,252.8 1962.0,255.3 1967.8,254.0 1973.6,248.0 1979.4,238.5 1985.2,229.4 1991.0,227.4 1996.8,234.6 2002.6,245.4 2008.4,250.7 2014.2,247.4 2020.0,238.9 2025.8,230.8 2031.6,227.0 2037.4,229.3 2043.2,236.9 2049.0,250.6 2054.8,267.6 2060.6,279.6 2066.4,277.3 2072.2,259.6 2078.0,237.1 2083.8,223.5 2089.6,223.8 2095.4,232.2" fill="none" stroke="#000" stroke-width="3.7" stroke-linejoin="round"/>
<polyline points="1225.4,585.4 1226.9,563.6 1228.3,543.7 1229.8,525.5 1231.2,508.9 1232.7,493.0 1234.1,478.3 1235.6,464.8 1237.0,452.3 1238.5,440.6 1239.9,429.7 1241.4,419.6 1242.8,410.2 1244.2,400.7 1245.7,391.7 1247.2,383.2 1248.6,375.2 1250.1,368.0 1251.5,361.1 1253.0,354.6 1254.4,348.3 1260.2,331.2 1266.0,328.3 1271.8,334.3 1277.6,344.0 1283.4,353.7 1289.2,358.3 1295.0,360.0 1300.8,354.7 1306.6,341.3 1312.4,334.4 1318.2,340.2 1324.0,353.9 1329.8,370.6 1335.6,386.5 1341.4,395.1 1347.2,385.1 1353.0,370.9 1358.8,358.6 1364.6,350.5 1370.4,347.6 1376.2,347.4 1382.0,355.0 1387.8,360.8 1393.6,364.6 1399.4,368.8 1405.2,373.7 1411.0,380.5 1416.8,383.9 1422.6,381.5 1428.4,370.8 1434.2,370.0 1440.0,382.0 1445.8,400.2 1451.6,411.3 1457.4,410.9 1463.2,406.5 1469.0,402.0 1474.8,400.5 1480.6,398.7 1486.4,391.6 1492.2,377.7 1498.0,360.6 1503.8,347.9 1509.6,344.1 1515.4,347.3 1521.2,350.5 1527.0,351.4 1532.8,348.9 1538.6,342.2 1544.4,332.5 1550.2,323.9 1556.0,321.5 1561.8,325.2 1567.6,328.2 1573.4,326.2 1579.2,318.8 1585.0,310.2 1590.8,305.8 1596.6,308.1 1602.4,315.7 1608.2,323.9 1614.0,328.4 1619.8,331.0 1625.6,331.1 1631.4,328.8 1637.2,324.1 1643.0,319.0 1648.8,317.1 1654.6,319.9 1660.4,327.3 1666.2,337.2 1672.0,347.2 1677.8,350.6 1683.6,341.1 1689.4,320.4 1695.2,297.3 1701.0,280.1 1706.8,271.5 1712.6,270.6 1718.4,276.3 1724.2,284.7 1730.0,290.6 1735.8,290.4 1741.6,285.1 1747.4,277.9 1753.2,272.0 1759.0,270.8 1764.8,275.0 1770.6,278.8 1776.4,273.6 1782.2,257.3 1788.0,238.9 1793.8,235.5 1799.6,243.6 1805.4,257.3 1811.2,263.2 1817.0,265.9 1822.8,275.5 1828.6,292.1 1834.4,309.2 1840.2,321.9 1846.0,326.1 1851.8,324.0 1857.6,327.2 1863.4,338.1 1869.2,349.0 1875.0,351.1 1880.8,342.5 1886.6,328.4 1892.4,311.7 1898.2,295.7 1904.0,277.2 1909.8,257.8 1915.6,243.2 1921.4,236.7 1927.2,235.6 1933.0,236.2 1938.8,238.9 1944.6,245.7 1950.4,252.6 1956.2,252.7 1962.0,243.3 1967.8,230.3 1973.6,223.4 1979.4,226.3 1985.2,234.6 1991.0,240.8 1996.8,240.0 2002.6,231.9 2008.4,219.4 2014.2,209.6 2020.0,209.2 2025.8,216.6 2031.6,221.6 2037.4,216.8 2043.2,204.4 2049.0,196.4 2054.8,199.6 2060.6,210.6 2066.4,218.7 2072.2,216.8 2078.0,205.8 2083.8,191.7 2089.6,180.2 2095.4,177.1" fill="none" stroke="#000" stroke-width="3.7" stroke-linejoin="round"/>
<polyline points="1225.4,539.7 1226.9,522.6 1228.3,507.5 1229.8,494.2 1231.2,482.5 1232.7,471.8 1234.1,462.5 1235.6,454.3 1237.0,447.2 1238.5,439.5 1239.9,432.6 1241.4,426.5 1242.8,421.1 1244.2,414.3 1245.7,408.0 1247.2,402.3 1248.6,397.1 1250.1,392.0 1251.5,387.3 1253.0,382.9 1254.4,378.9 1260.2,366.5 1266.0,361.3 1271.8,359.4 1277.6,360.3 1283.4,362.1 1289.2,358.5 1295.0,351.9 1300.8,341.7 1306.6,330.5 1312.4,331.0 1318.2,342.8 1324.0,354.9 1329.8,362.0 1335.6,366.3 1341.4,370.2 1347.2,366.7 1353.0,366.2 1358.8,365.6 1364.6,361.4 1370.4,355.2 1376.2,349.1 1382.0,351.7 1387.8,354.8 1393.6,356.7 1399.4,357.6 1405.2,357.2 1411.0,358.5 1416.8,359.8 1422.6,360.2 1428.4,353.6 1434.2,350.9 1440.0,350.2 1445.8,347.9 1451.6,339.2 1457.4,327.5 1463.2,321.7 1469.0,323.1 1474.8,331.5 1480.6,344.1 1486.4,356.2 1492.2,363.0 1498.0,361.1 1503.8,352.7 1509.6,342.2 1515.4,333.3 1521.2,326.0 1527.0,320.6 1532.8,314.8 1538.6,308.3 1544.4,304.0 1550.2,302.4 1556.0,303.0 1561.8,306.2 1567.6,312.5 1573.4,323.4 1579.2,337.3 1585.0,349.9 1590.8,356.0 1596.6,352.0 1602.4,339.5 1608.2,325.8 1614.0,317.7 1619.8,319.0 1625.6,323.6 1631.4,327.1 1637.2,327.1 1643.0,323.2 1648.8,315.0 1654.6,302.8 1660.4,291.6 1666.2,288.7 1672.0,299.1 1677.8,317.4 1683.6,333.7 1689.4,342.4 1695.2,345.3 1701.0,348.6 1706.8,355.7 1712.6,363.3 1718.4,364.4 1724.2,354.9 1730.0,340.3 1735.8,330.1 1741.6,329.8 1747.4,336.2 1753.2,342.7 1759.0,344.8 1764.8,342.2 1770.6,337.1 1776.4,333.3 1782.2,331.2 1788.0,329.0 1793.8,332.5 1799.6,339.4 1805.4,353.5 1811.2,364.5 1817.0,367.1 1822.8,359.8 1828.6,342.7 1834.4,321.7 1840.2,308.0 1846.0,303.2 1851.8,300.3 1857.6,297.1 1863.4,292.7 1869.2,287.1 1875.0,281.4 1880.8,276.8 1886.6,274.7 1892.4,272.1 1898.2,269.0 1904.0,261.6 1909.8,248.5 1915.6,232.6 1921.4,218.2 1927.2,208.6 1933.0,205.6 1938.8,210.5 1944.6,221.6 1950.4,228.8 1956.2,223.5 1962.0,208.7 1967.8,195.8 1973.6,192.7 1979.4,198.5 1985.2,209.7 1991.0,222.9 1996.8,234.2 2002.6,242.0 2008.4,249.2 2014.2,258.9 2020.0,270.0 2025.8,277.3 2031.6,275.3 2037.4,262.9 2043.2,244.6 2049.0,229.5 2054.8,223.1 2060.6,226.9 2066.4,242.0 2072.2,267.2 2078.0,295.8 2083.8,315.6 2089.6,315.1 2095.4,291.9" fill="none" stroke="#000" stroke-width="3.7" stroke-linejoin="round"/>
<polyline points="1225.4,588.7 1226.9,569.5 1228.3,552.0 1229.8,536.2 1231.2,521.7 1232.7,507.7 1234.1,494.9 1235.6,483.2 1237.0,472.4 1238.5,461.1 1239.9,450.7 1241.4,441.0 1242.8,431.9 1244.2,422.1 1245.7,412.9 1247.2,404.1 1248.6,395.8 1250.1,388.7 1251.5,382.0 1253.0,375.7 1254.4,369.7 1260.2,353.5 1266.0,345.0 1271.8,335.4 1277.6,324.1 1283.4,315.0 1289.2,307.8 1295.0,305.1 1300.8,300.1 1306.6,288.7 1312.4,283.2 1318.2,288.9 1324.0,301.0 1329.8,317.4 1335.6,337.8 1341.4,358.8 1347.2,367.7 1353.0,372.0 1358.8,370.2 1364.6,362.3 1370.4,353.3 1376.2,347.1 1382.0,353.0 1387.8,363.7 1393.6,378.1 1399.4,392.8 1405.2,400.6 1411.0,401.4 1416.8,396.0 1422.6,385.0 1428.4,360.3 1434.2,334.1 1440.0,314.8 1445.8,309.6 1451.6,313.5 1457.4,320.9 1463.2,332.9 1469.0,348.3 1474.8,366.3 1480.6,380.3 1486.4,383.3 1492.2,375.2 1498.0,362.1 1503.8,351.5 1509.6,346.1 1515.4,344.8 1521.2,345.3 1527.0,348.3 1532.8,351.0 1538.6,351.2 1544.4,351.1 1550.2,353.3 1556.0,356.9 1561.8,357.4 1567.6,351.5 1573.4,343.1 1579.2,336.2 1585.0,332.1 1590.8,328.8 1596.6,325.5 1602.4,322.8 1608.2,321.6 1614.0,321.6 1619.8,324.6 1625.6,327.2 1631.4,328.1 1637.2,326.0 1643.0,320.7 1648.8,313.5 1654.6,307.4 1660.4,304.2 1666.2,300.2 1672.0,291.7 1677.8,278.4 1683.6,266.2 1689.4,263.2 1695.2,275.4 1701.0,302.4 1706.8,335.5 1712.6,361.6 1718.4,372.7 1724.2,369.0 1730.0,357.8 1735.8,346.4 1741.6,339.0 1747.4,335.5 1753.2,332.2 1759.0,326.9 1764.8,319.8 1770.6,310.5 1776.4,299.0 1782.2,286.6 1788.0,276.0 1793.8,275.8 1799.6,281.3 1805.4,291.8 1811.2,295.1 1817.0,289.8 1822.8,280.1 1828.6,267.2 1834.4,254.3 1840.2,249.4 1846.0,253.0 1851.8,256.5 1857.6,255.4 1863.4,247.9 1869.2,236.2 1875.0,224.2 1880.8,215.6 1886.6,214.9 1892.4,224.2 1898.2,245.9 1904.0,269.9 1909.8,283.9 1915.6,282.7 1921.4,270.9 1927.2,255.1 1933.0,241.3 1938.8,235.2 1944.6,241.0 1950.4,255.1 1956.2,269.5 1962.0,276.4 1967.8,271.2 1973.6,252.9 1979.4,225.1 1985.2,196.3 1991.0,178.8 1996.8,181.0 2002.6,201.0 2008.4,226.1 2014.2,243.9 2020.0,250.9 2025.8,250.4 2031.6,245.1 2037.4,235.1 2043.2,222.6 2049.0,216.8 2054.8,222.5 2060.6,237.6 2066.4,257.7 2072.2,279.8 2078.0,299.6 2083.8,311.1 2089.6,312.7 2095.4,309.2" fill="none" stroke="#000" stroke-width="3.7" stroke-linejoin="round"/>
<polyline points="1225.4,582.6 1226.9,565.5 1228.3,549.9 1229.8,535.7 1231.2,522.8 1232.7,510.6 1234.1,499.4 1235.6,489.2 1237.0,479.9 1238.5,471.6 1239.9,464.1 1241.4,457.2 1242.8,451.0 1244.2,444.9 1245.7,439.3 1247.2,434.2 1248.6,429.5 1250.1,424.5 1251.5,419.9 1253.0,415.7 1254.4,411.8 1260.2,392.9 1266.0,377.1 1271.8,366.8 1277.6,364.3 1283.4,367.3 1289.2,367.8 1295.0,366.8 1300.8,360.9 1306.6,350.2 1312.4,348.3 1318.2,358.5 1324.0,371.9 1329.8,381.2 1335.6,383.8 1341.4,378.1 1347.2,358.9 1353.0,344.3 1358.8,340.2 1364.6,346.3 1370.4,359.1 1376.2,371.4 1382.0,384.6 1387.8,389.7 1393.6,390.3 1399.4,391.5 1405.2,394.1 1411.0,399.6 1416.8,404.0 1422.6,404.0 1428.4,391.7 1434.2,378.1 1440.0,365.0 1445.8,353.7 1451.6,342.7 1457.4,335.5 1463.2,338.9 1469.0,347.8 1474.8,353.7 1480.6,349.1 1486.4,335.2 1492.2,321.9 1498.0,317.8 1503.8,325.3 1509.6,338.9 1515.4,351.4 1521.2,357.0 1527.0,355.7 1532.8,347.4 1538.6,335.4 1544.4,326.0 1550.2,323.2 1556.0,328.0 1561.8,338.7 1567.6,350.4 1573.4,359.0 1579.2,361.5 1585.0,360.7 1590.8,361.3 1596.6,363.1 1602.4,359.6 1608.2,346.3 1614.0,325.2 1619.8,305.8 1625.6,292.4 1631.4,286.7 1637.2,284.0 1643.0,277.6 1648.8,265.1 1654.6,250.5 1660.4,241.6 1666.2,243.7 1672.0,259.5 1677.8,283.6 1683.6,304.7 1689.4,313.4 1695.2,308.7 1701.0,296.5 1706.8,282.2 1712.6,267.3 1718.4,253.9 1724.2,245.2 1730.0,244.1 1735.8,249.6 1741.6,259.1 1747.4,270.7 1753.2,283.6 1759.0,296.1 1764.8,306.7 1770.6,313.4 1776.4,315.0 1782.2,311.3 1788.0,304.7 1793.8,304.2 1799.6,304.8 1805.4,306.5 1811.2,300.3 1817.0,288.5 1822.8,277.7 1828.6,271.1 1834.4,270.7 1840.2,278.0 1846.0,285.2 1851.8,282.7 1857.6,274.8 1863.4,270.4 1869.2,275.0 1875.0,287.5 1880.8,304.1 1886.6,321.1 1892.4,331.9 1898.2,337.1 1904.0,337.9 1909.8,336.4 1915.6,332.2 1921.4,324.9 1927.2,317.0 1933.0,312.1 1938.8,310.0 1944.6,308.2 1950.4,303.4 1956.2,297.0 1962.0,291.4 1967.8,286.6 1973.6,282.2 1979.4,278.5 1985.2,275.4 1991.0,272.0 1996.8,266.4 2002.6,258.8 2008.4,251.1 2014.2,246.8 2020.0,249.5 2025.8,261.3 2031.6,281.5 2037.4,306.4 2043.2,328.0 2049.0,338.0 2054.8,328.3 2060.6,298.8 2066.4,259.9 2072.2,226.2 2078.0,206.8 2083.8,200.8 2089.6,200.6 2095.4,200.8" fill="none" stroke="#000" stroke-width="3.7" stroke-linejoin="round"/>
<polyline points="1225.4,562.8 1226.9,548.1 1228.3,534.7 1229.8,522.5 1231.2,511.5 1232.7,502.0 1234.1,493.5 1235.6,485.9 1237.0,479.0 1238.5,472.5 1239.9,466.6 1241.4,461.3 1242.8,456.6 1244.2,450.5 1245.7,444.8 1247.2,439.6 1248.6,434.8 1250.1,428.9 1251.5,423.3 1253.0,418.0 1254.4,413.1 1260.2,390.5 1266.0,371.9 1271.8,358.5 1277.6,354.5 1283.4,359.4 1289.2,364.1 1295.0,364.7 1300.8,355.6 1306.6,339.3 1312.4,333.3 1318.2,342.2 1324.0,357.1 1329.8,373.4 1335.6,391.2 1341.4,408.2 1347.2,413.9 1353.0,419.5 1358.8,422.7 1364.6,415.9 1370.4,396.9 1376.2,372.8 1382.0,362.9 1387.8,364.3 1393.6,372.7 1399.4,381.9 1405.2,387.3 1411.0,390.3 1416.8,388.7 1422.6,380.5 1428.4,359.0 1434.2,338.0 1440.0,323.5 1445.8,319.8 1451.6,322.2 1457.4,325.5 1463.2,327.6 1469.0,324.6 1474.8,319.7 1480.6,317.6 1486.4,320.3 1492.2,326.8 1498.0,334.7 1503.8,342.8 1509.6,348.7 1515.4,347.8 1521.2,337.2 1527.0,324.8 1532.8,320.8 1538.6,330.8 1544.4,352.5 1550.2,376.5 1556.0,393.1 1561.8,396.3 1567.6,385.9 1573.4,368.2 1579.2,349.8 1585.0,336.6 1590.8,332.7 1596.6,337.8 1602.4,346.3 1608.2,352.6 1614.0,353.6 1619.8,348.8 1625.6,334.5 1631.4,313.6 1637.2,293.3 1643.0,278.4 1648.8,270.0 1654.6,267.4 1660.4,268.6 1666.2,270.0 1672.0,272.6 1677.8,279.7 1683.6,293.6 1689.4,312.9 1695.2,331.3 1701.0,341.8 1706.8,341.0 1712.6,331.5 1718.4,320.0 1724.2,310.1 1730.0,303.7 1735.8,300.6 1741.6,299.7 1747.4,300.4 1753.2,302.4 1759.0,306.3 1764.8,311.5 1770.6,315.8 1776.4,317.8 1782.2,317.2 1788.0,314.4 1793.8,317.9 1799.6,326.8 1805.4,343.4 1811.2,352.2 1817.0,343.6 1822.8,317.8 1828.6,281.9 1834.4,249.8 1840.2,237.0 1846.0,244.4 1851.8,258.6 1857.6,269.7 1863.4,272.7 1869.2,270.2 1875.0,268.4 1880.8,270.4 1886.6,273.6 1892.4,270.4 1898.2,261.6 1904.0,248.1 1909.8,233.1 1915.6,220.9 1921.4,214.9 1927.2,215.3 1933.0,220.1 1938.8,226.0 1944.6,229.5 1950.4,226.8 1956.2,220.4 1962.0,217.9 1967.8,224.9 1973.6,239.5 1979.4,254.0 1985.2,262.0 1991.0,263.5 1996.8,264.2 2002.6,272.5 2008.4,292.2 2014.2,315.2 2020.0,325.8 2025.8,315.4 2031.6,292.1 2037.4,273.2 2043.2,268.9 2049.0,281.1 2054.8,302.9 2060.6,322.7 2066.4,327.6 2072.2,312.1 2078.0,284.0 2083.8,258.6 2089.6,246.2 2095.4,245.1" fill="none" stroke="#000" stroke-width="3.7" stroke-linejoin="round"/>
<polyline points="1225.4,492.3 1226.9,465.2 1228.3,443.3 1229.8,425.4 1231.2,410.7 1232.7,398.5 1234.1,388.2 1235.6,379.4 1237.0,371.8 1238.5,366.7 1239.9,362.2 1241.4,358.4 1242.8,354.9 1244.2,353.0 1245.7,351.4 1247.2,349.9 1248.6,348.6 1250.1,348.4 1251.5,348.3 1253.0,348.3 1254.4,348.4 1260.2,347.0 1266.0,343.9 1271.8,337.7 1277.6,331.4 1283.4,326.1 1289.2,317.6 1295.0,309.6 1300.8,301.2 1306.6,293.3 1312.4,297.3 1318.2,312.8 1324.0,329.4 1329.8,342.9 1335.6,357.5 1341.4,374.6 1347.2,382.6 1353.0,387.2 1358.8,386.4 1364.6,383.2 1370.4,386.3 1376.2,398.0 1382.0,418.0 1387.8,428.3 1393.6,426.4 1399.4,418.8 1405.2,409.2 1411.0,400.3 1416.8,391.5 1422.6,385.4 1428.4,376.7 1434.2,375.1 1440.0,381.3 1445.8,395.5 1451.6,408.0 1457.4,409.8 1463.2,401.1 1469.0,384.9 1474.8,368.2 1480.6,353.8 1486.4,342.2 1492.2,337.1 1498.0,340.9 1503.8,350.5 1509.6,357.7 1515.4,356.5 1521.2,346.8 1527.0,336.5 1532.8,331.1 1538.6,332.5 1544.4,341.2 1550.2,354.5 1556.0,368.4 1561.8,377.3 1567.6,377.3 1573.4,372.5 1579.2,369.0 1585.0,369.5 1590.8,370.0 1596.6,364.4 1602.4,350.6 1608.2,332.7 1614.0,314.6 1619.8,298.4 1625.6,280.5 1631.4,262.8 1637.2,250.2 1643.0,246.6 1648.8,252.8 1654.6,266.8 1660.4,285.3 1666.2,304.4 1672.0,323.6 1677.8,341.4 1683.6,353.7 1689.4,353.7 1695.2,338.1 1701.0,314.7 1706.8,299.0 1712.6,302.2 1718.4,321.0 1724.2,340.9 1730.0,351.1 1735.8,351.6 1741.6,348.1 1747.4,342.7 1753.2,333.4 1759.0,320.1 1764.8,307.2 1770.6,299.4 1776.4,295.9 1782.2,293.4 1788.0,292.7 1793.8,305.1 1799.6,326.8 1805.4,352.9 1811.2,366.1 1817.0,362.6 1822.8,347.4 1828.6,325.2 1834.4,301.6 1840.2,281.5 1846.0,261.6 1851.8,239.2 1857.6,224.8 1863.4,226.6 1869.2,241.0 1875.0,255.4 1880.8,260.9 1886.6,260.1 1892.4,259.7 1898.2,265.8 1904.0,271.7 1909.8,268.3 1915.6,254.4 1921.4,238.1 1927.2,228.7 1933.0,230.1 1938.8,241.4 1944.6,260.6 1950.4,280.4 1956.2,290.5 1962.0,283.3 1967.8,261.9 1973.6,238.3 1979.4,222.6 1985.2,218.2 1991.0,224.1 1996.8,237.9 2002.6,256.8 2008.4,276.3 2014.2,290.2 2020.0,294.2 2025.8,289.8 2031.6,283.6 2037.4,279.8 2043.2,273.8 2049.0,260.2 2054.8,239.6 2060.6,222.6 2066.4,220.2 2072.2,232.7 2078.0,249.2 2083.8,256.7 2089.6,250.6 2095.4,238.0" fill="none" stroke="#000" stroke-width="3.7" stroke-linejoin="round"/>
<polyline points="1225.4,436.2 1226.9,419.2 1228.3,407.4 1229.8,399.4 1231.2,394.1 1232.7,391.3 1234.1,389.9 1235.6,389.6 1237.0,390.0 1238.5,390.4 1239.9,391.2 1241.4,392.3 1242.8,393.6 1244.2,393.1 1245.7,392.7 1247.2,392.4 1248.6,392.2 1250.1,391.0 1251.5,389.8 1253.0,388.6 1254.4,387.4 1260.2,381.5 1266.0,380.1 1271.8,381.5 1277.6,386.1 1283.4,391.7 1289.2,389.3 1295.0,376.8 1300.8,351.1 1306.6,318.4 1312.4,300.6 1318.2,305.7 1324.0,323.8 1329.8,343.9 1335.6,362.1 1341.4,377.6 1347.2,383.0 1353.0,389.3 1358.8,395.4 1364.6,398.9 1370.4,399.6 1376.2,396.8 1382.0,398.0 1387.8,395.4 1393.6,388.7 1399.4,380.2 1405.2,371.9 1411.0,368.5 1416.8,367.3 1422.6,363.6 1428.4,348.7 1434.2,335.4 1440.0,328.9 1445.8,332.1 1451.6,338.6 1457.4,342.4 1463.2,342.1 1469.0,334.5 1474.8,323.0 1480.6,311.8 1486.4,305.1 1492.2,305.9 1498.0,313.5 1503.8,324.1 1509.6,332.7 1515.4,335.5 1521.2,329.6 1527.0,318.5 1532.8,307.7 1538.6,303.7 1544.4,310.5 1550.2,324.2 1556.0,338.0 1561.8,346.6 1567.6,347.1 1573.4,340.7 1579.2,329.1 1585.0,316.3 1590.8,307.8 1596.6,306.7 1602.4,309.8 1608.2,311.3 1614.0,309.7 1619.8,310.7 1625.6,314.9 1631.4,321.4 1637.2,327.3 1643.0,331.5 1648.8,334.1 1654.6,334.7 1660.4,333.2 1666.2,332.4 1672.0,338.6 1677.8,351.8 1683.6,365.1 1689.4,370.4 1695.2,364.4 1701.0,350.7 1706.8,336.6 1712.6,327.6 1718.4,326.4 1724.2,330.5 1730.0,335.9 1735.8,339.8 1741.6,342.3 1747.4,343.6 1753.2,339.6 1759.0,323.8 1764.8,295.9 1770.6,264.3 1776.4,241.5 1782.2,234.6 1788.0,242.9 1793.8,266.4 1799.6,292.0 1805.4,314.0 1811.2,320.2 1817.0,312.6 1822.8,297.1 1828.6,274.7 1834.4,249.0 1840.2,230.8 1846.0,225.3 1851.8,230.3 1857.6,245.8 1863.4,267.3 1869.2,285.5 1875.0,293.4 1880.8,291.3 1886.6,283.6 1892.4,269.2 1898.2,252.0 1904.0,236.6 1909.8,230.3 1915.6,236.9 1921.4,253.0 1927.2,270.3 1933.0,280.5 1938.8,278.9 1944.6,268.4 1950.4,255.2 1956.2,246.4 1962.0,243.7 1967.8,243.6 1973.6,242.2 1979.4,238.6 1985.2,235.0 1991.0,235.5 1996.8,242.2 2002.6,254.7 2008.4,269.9 2014.2,284.1 2020.0,294.0 2025.8,297.8 2031.6,297.8 2037.4,299.3 2043.2,302.3 2049.0,302.2 2054.8,293.1 2060.6,277.0 2066.4,260.7 2072.2,247.6 2078.0,236.3 2083.8,225.4 2089.6,215.6 2095.4,207.0" fill="none" stroke="#000" stroke-width="3.7" stroke-linejoin="round"/>
<polyline points="1225.4,462.5 1226.9,442.4 1228.3,425.9 1229.8,412.3 1231.2,401.1 1232.7,390.1 1234.1,380.6 1235.6,372.3 1237.0,365.0 1238.5,358.4 1239.9,352.5 1241.4,347.1 1242.8,342.1 1244.2,338.5 1245.7,335.3 1247.2,332.2 1248.6,329.4 1250.1,328.7 1251.5,328.1 1253.0,327.6 1254.4,327.2 1260.2,328.1 1266.0,329.5 1271.8,329.6 1277.6,331.5 1283.4,335.0 1289.2,333.0 1295.0,328.5 1300.8,323.3 1306.6,320.7 1312.4,329.9 1318.2,345.0 1324.0,353.1 1329.8,353.0 1335.6,352.0 1341.4,354.2 1347.2,351.1 1353.0,351.0 1358.8,350.7 1364.6,347.9 1370.4,345.1 1376.2,344.2 1382.0,352.4 1387.8,360.0 1393.6,367.2 1399.4,376.7 1405.2,388.0 1411.0,401.5 1416.8,412.5 1422.6,416.9 1428.4,406.2 1434.2,393.6 1440.0,383.9 1445.8,380.5 1451.6,379.6 1457.4,378.1 1463.2,375.2 1469.0,367.4 1474.8,358.9 1480.6,354.9 1486.4,356.8 1492.2,362.6 1498.0,368.8 1503.8,372.9 1509.6,370.9 1515.4,359.5 1521.2,338.4 1527.0,317.3 1532.8,305.7 1538.6,307.0 1544.4,315.7 1550.2,321.6 1556.0,321.0 1561.8,316.4 1567.6,310.1 1573.4,303.4 1579.2,296.0 1585.0,289.6 1590.8,287.1 1596.6,287.7 1602.4,286.0 1608.2,279.0 1614.0,270.4 1619.8,268.7 1625.6,273.2 1631.4,279.5 1637.2,281.1 1643.0,276.2 1648.8,270.3 1654.6,272.2 1660.4,285.8 1666.2,306.2 1672.0,326.6 1677.8,340.6 1683.6,345.8 1689.4,345.2 1695.2,344.4 1701.0,347.3 1706.8,352.1 1712.6,354.2 1718.4,351.5 1724.2,343.2 1730.0,331.7 1735.8,320.9 1741.6,315.4 1747.4,317.0 1753.2,322.9 1759.0,326.3 1764.8,322.1 1770.6,311.7 1776.4,303.7 1782.2,305.2 1788.0,316.4 1793.8,337.1 1799.6,353.5 1805.4,361.0 1811.2,352.5 1817.0,337.1 1822.8,325.9 1828.6,319.5 1834.4,315.2 1840.2,316.1 1846.0,320.3 1851.8,318.2 1857.6,304.1 1863.4,278.1 1869.2,248.7 1875.0,228.0 1880.8,223.8 1886.6,235.5 1892.4,251.6 1898.2,262.8 1904.0,261.6 1909.8,250.2 1915.6,237.1 1921.4,229.2 1927.2,227.6 1933.0,229.8 1938.8,234.0 1944.6,241.6 1950.4,251.9 1956.2,261.4 1962.0,263.6 1967.8,256.9 1973.6,247.0 1979.4,242.4 1985.2,247.8 1991.0,264.5 1996.8,289.5 2002.6,314.6 2008.4,328.5 2014.2,323.8 2020.0,301.5 2025.8,271.1 2031.6,246.2 2037.4,238.6 2043.2,250.7 2049.0,276.9 2054.8,304.4 2060.6,320.6 2066.4,320.4 2072.2,308.9 2078.0,295.7 2083.8,285.6 2089.6,277.8 2095.4,271.8" fill="none" stroke="#000" stroke-width="3.7" stroke-linejoin="round"/>
<polyline points="1225.4,413.7 1226.9,386.3 1228.3,366.2 1229.8,351.6 1231.2,340.9 1232.7,332.7 1234.1,326.7 1235.6,322.2 1237.0,318.9 1238.5,315.9 1239.9,313.5 1241.4,311.7 1242.8,310.1 1244.2,309.1 1245.7,308.3 1247.2,307.6 1248.6,307.0 1250.1,308.4 1251.5,309.9 1253.0,311.4 1254.4,313.0 1260.2,323.5 1266.0,334.0 1271.8,337.7 1277.6,335.1 1283.4,326.9 1289.2,309.8 1295.0,290.6 1300.8,273.7 1306.6,262.7 1312.4,267.5 1318.2,285.0 1324.0,305.5 1329.8,327.8 1335.6,353.3 1341.4,376.1 1347.2,381.4 1353.0,380.7 1358.8,379.5 1364.6,381.0 1370.4,386.4 1376.2,392.0 1382.0,399.3 1387.8,396.5 1393.6,385.1 1399.4,371.8 1405.2,361.4 1411.0,359.9 1416.8,366.2 1422.6,375.6 1428.4,373.7 1434.2,364.1 1440.0,346.9 1445.8,330.4 1451.6,320.9 1457.4,321.0 1463.2,329.4 1469.0,337.9 1474.8,346.8 1480.6,358.8 1486.4,372.4 1492.2,383.0 1498.0,388.2 1503.8,391.9 1509.6,396.1 1515.4,394.8 1521.2,378.2 1527.0,349.4 1532.8,322.2 1538.6,310.6 1544.4,317.8 1550.2,332.8 1556.0,342.5 1561.8,340.5 1567.6,329.6 1573.4,319.0 1579.2,312.6 1585.0,308.8 1590.8,306.0 1596.6,305.6 1602.4,308.2 1608.2,312.7 1614.0,316.8 1619.8,320.6 1625.6,320.6 1631.4,316.3 1637.2,306.6 1643.0,291.4 1648.8,275.7 1654.6,269.2 1660.4,277.3 1666.2,294.9 1672.0,312.9 1677.8,322.7 1683.6,322.5 1689.4,317.3 1695.2,314.2 1701.0,317.4 1706.8,326.1 1712.6,336.7 1718.4,346.3 1724.2,352.2 1730.0,353.6 1735.8,349.5 1741.6,339.3 1747.4,324.9 1753.2,309.4 1759.0,295.3 1764.8,284.2 1770.6,276.7 1776.4,274.7 1782.2,277.9 1788.0,284.0 1793.8,296.0 1799.6,307.6 1805.4,322.8 1811.2,334.9 1817.0,342.4 1822.8,341.5 1828.6,327.8 1834.4,306.5 1840.2,293.2 1846.0,294.5 1851.8,303.4 1857.6,311.3 1863.4,309.2 1869.2,295.2 1875.0,276.9 1880.8,265.1 1886.6,265.1 1892.4,271.7 1898.2,281.9 1904.0,292.0 1909.8,300.7 1915.6,307.2 1921.4,308.0 1927.2,299.4 1933.0,282.3 1938.8,263.2 1944.6,249.4 1950.4,241.5 1956.2,238.2 1962.0,239.1 1967.8,244.9 1973.6,254.3 1979.4,263.0 1985.2,267.5 1991.0,268.9 1996.8,269.6 2002.6,270.4 2008.4,269.9 2014.2,266.2 2020.0,258.0 2025.8,247.1 2031.6,239.2 2037.4,240.7 2043.2,251.0 2049.0,263.8 2054.8,269.2 2060.6,261.7 2066.4,244.3 2072.2,226.6 2078.0,217.5 2083.8,221.1 2089.6,237.7 2095.4,262.4" fill="none" stroke="#000" stroke-width="3.7" stroke-linejoin="round"/>
<polyline points="1225.4,383.1 1226.9,382.6 1228.3,382.1 1229.8,381.6 1231.2,381.1 1232.7,379.3 1234.1,377.6 1235.6,375.9 1237.0,374.2 1238.5,372.6 1239.9,371.0 1241.4,369.4 1242.8,367.8 1244.2,366.4 1245.7,365.0 1247.2,363.5 1248.6,362.1 1250.1,361.2 1251.5,360.2 1253.0,359.3 1254.4,358.4 1260.2,353.0 1266.0,347.8 1271.8,342.8 1277.6,342.0 1283.4,345.8 1289.2,348.0 1295.0,349.1 1300.8,347.1 1306.6,344.6 1312.4,355.0 1318.2,376.0 1324.0,392.4 1329.8,396.4 1335.6,391.6 1341.4,384.4 1347.2,371.3 1353.0,363.6 1358.8,360.8 1364.6,364.5 1370.4,378.5 1376.2,396.7 1382.0,413.8 1387.8,415.1 1393.6,406.6 1399.4,399.6 1405.2,397.6 1411.0,401.2 1416.8,406.4 1422.6,409.2 1428.4,398.7 1434.2,384.3 1440.0,369.1 1445.8,356.0 1451.6,341.4 1457.4,325.8 1463.2,315.4 1469.0,310.7 1474.8,312.6 1480.6,320.9 1486.4,333.8 1492.2,349.2 1498.0,364.3 1503.8,376.8 1509.6,382.5 1515.4,377.8 1521.2,363.7 1527.0,350.0 1532.8,343.2 1538.6,343.9 1544.4,348.9 1550.2,352.7 1556.0,352.5 1561.8,350.2 1567.6,349.3 1573.4,353.6 1579.2,361.4 1585.0,367.9 1590.8,368.4 1596.6,361.1 1602.4,349.0 1608.2,337.2 1614.0,327.5 1619.8,319.0 1625.6,306.6 1631.4,291.4 1637.2,276.7 1643.0,264.7 1648.8,256.4 1654.6,252.1 1660.4,252.2 1666.2,257.5 1672.0,270.1 1677.8,288.4 1683.6,308.0 1689.4,323.5 1695.2,331.2 1701.0,331.2 1706.8,325.3 1712.6,316.5 1718.4,310.2 1724.2,310.3 1730.0,317.5 1735.8,326.6 1741.6,330.4 1747.4,323.8 1753.2,306.6 1759.0,283.0 1764.8,259.7 1770.6,242.5 1776.4,234.9 1782.2,238.0 1788.0,251.5 1793.8,278.2 1799.6,303.5 1805.4,318.0 1811.2,309.4 1817.0,286.6 1822.8,266.6 1828.6,255.3 1834.4,249.6 1840.2,247.9 1846.0,248.6 1851.8,249.5 1857.6,251.4 1863.4,252.3 1869.2,251.5 1875.0,252.4 1880.8,257.9 1886.6,265.9 1892.4,269.0 1898.2,267.1 1904.0,262.0 1909.8,255.3 1915.6,245.6 1921.4,231.7 1927.2,217.4 1933.0,208.5 1938.8,206.3 1944.6,209.0 1950.4,215.2 1956.2,225.9 1962.0,236.5 1967.8,239.0 1973.6,231.9 1979.4,222.8 1985.2,219.7 1991.0,223.1 1996.8,227.6 2002.6,230.6 2008.4,235.8 2014.2,249.1 2020.0,272.9 2025.8,301.1 2031.6,320.1 2037.4,313.5 2043.2,291.5 2049.0,295.8 2054.8,332.6 2060.6,353.5 2066.4,355.4 2072.2,342.4 2078.0,318.5 2083.8,300.6 2089.6,297.0 2095.4,285.1" fill="none" stroke="#000" stroke-width="3.7" stroke-linejoin="round"/>
<polyline points="1225.4,340.4 1226.9,339.8 1228.3,339.2 1229.8,338.5 1231.2,337.9 1232.7,338.7 1234.1,339.6 1235.6,340.5 1237.0,341.3 1238.5,343.1 1239.9,344.8 1241.4,346.6 1242.8,348.4 1244.2,349.3 1245.7,350.2 1247.2,351.2 1248.6,352.1 1250.1,352.5 1251.5,352.9 1253.0,353.3 1254.4,353.8 1260.2,355.0 1266.0,360.3 1271.8,364.0 1277.6,361.7 1283.4,351.9 1289.2,333.3 1295.0,313.4 1300.8,294.7 1306.6,280.5 1312.4,282.3 1318.2,297.9 1324.0,316.8 1329.8,337.4 1335.6,364.0 1341.4,393.8 1347.2,409.3 1353.0,414.2 1358.8,407.9 1364.6,396.1 1370.4,387.8 1376.2,386.2 1382.0,395.0 1387.8,400.5 1393.6,401.3 1399.4,402.4 1405.2,406.1 1411.0,412.8 1416.8,416.8 1422.6,414.0 1428.4,397.3 1434.2,379.7 1440.0,365.0 1445.8,355.1 1451.6,345.0 1457.4,332.6 1463.2,322.3 1469.0,315.4 1474.8,314.6 1480.6,319.7 1486.4,327.0 1492.2,331.5 1498.0,328.4 1503.8,318.2 1509.6,307.5 1515.4,305.6 1521.2,316.3 1527.0,338.0 1532.8,360.8 1538.6,374.4 1544.4,374.8 1550.2,363.5 1556.0,347.9 1561.8,334.1 1567.6,321.4 1573.4,307.8 1579.2,294.1 1585.0,285.6 1590.8,285.5 1596.6,291.7 1602.4,299.6 1608.2,307.0 1614.0,313.9 1619.8,321.4 1625.6,324.9 1631.4,323.5 1637.2,318.8 1643.0,312.4 1648.8,307.0 1654.6,305.7 1660.4,311.2 1666.2,322.3 1672.0,337.2 1677.8,350.9 1683.6,358.1 1689.4,357.1 1695.2,350.4 1701.0,341.5 1706.8,332.6 1712.6,324.5 1718.4,318.5 1724.2,313.5 1730.0,308.1 1735.8,301.7 1741.6,295.3 1747.4,291.5 1753.2,293.0 1759.0,300.5 1764.8,311.0 1770.6,318.9 1776.4,321.1 1782.2,317.9 1788.0,312.5 1793.8,314.2 1799.6,320.2 1805.4,332.3 1811.2,339.3 1817.0,337.0 1822.8,326.3 1828.6,309.8 1834.4,295.0 1840.2,290.8 1846.0,295.8 1851.8,304.3 1857.6,317.8 1863.4,335.0 1869.2,349.4 1875.0,354.6 1880.8,348.2 1886.6,333.7 1892.4,315.4 1898.2,300.8 1904.0,288.6 1909.8,274.3 1915.6,256.7 1921.4,239.6 1927.2,228.1 1933.0,224.2 1938.8,225.9 1944.6,230.3 1950.4,233.0 1956.2,231.3 1962.0,224.7 1967.8,216.6 1973.6,214.2 1979.4,223.1 1985.2,240.9 1991.0,261.2 1996.8,278.1 2002.6,289.8 2008.4,294.8 2014.2,291.1 2020.0,277.6 2025.8,257.2 2031.6,240.4 2037.4,229.8 2043.2,207.5 2049.0,176.2 2054.8,153.6 2060.6,167.6 2066.4,193.4 2072.2,244.5 2078.0,270.3 2083.8,279.2 2089.6,285.6 2095.4,286.7" fill="none" stroke="#000" stroke-width="3.7" stroke-linejoin="round"/>
<polyline points="1225.4,330.6 1226.9,331.7 1228.3,332.8 1229.8,333.9 1231.2,335.0 1232.7,336.1 1234.1,337.1 1235.6,338.2 1237.0,339.3 1238.5,339.4 1239.9,339.4 1241.4,339.5 1242.8,339.5 1244.2,337.6 1245.7,335.8 1247.2,333.9 1248.6,332.0 1250.1,329.6 1251.5,327.2 1253.0,324.9 1254.4,322.5 1260.2,314.8 1266.0,315.8 1271.8,324.1 1277.6,338.5 1283.4,354.7 1289.2,362.6 1295.0,351.3 1300.8,320.7 1306.6,290.9 1312.4,271.5 1318.2,296.2 1324.0,336.2 1329.8,378.8 1335.6,397.8 1341.4,395.7 1347.2,385.9 1353.0,384.3 1358.8,387.3 1364.6,387.0 1370.4,378.8 1376.2,363.0 1382.0,354.3 1387.8,353.3 1393.6,363.1 1399.4,378.2 1405.2,387.8 1411.0,389.4 1416.8,383.7 1422.6,374.7 1428.4,358.8 1434.2,346.6 1440.0,337.3 1445.8,330.4 1451.6,321.9 1457.4,311.6 1463.2,305.3 1469.0,303.0 1474.8,305.3 1480.6,311.6 1486.4,321.4 1492.2,334.3 1498.0,347.5 1503.8,359.5 1509.6,370.4 1515.4,379.9 1521.2,384.7 1527.0,384.5 1532.8,380.3 1538.6,375.5 1544.4,372.8 1550.2,370.4 1556.0,365.7 1561.8,357.3 1567.6,344.9 1573.4,332.1 1579.2,321.8 1585.0,314.8 1590.8,309.7 1596.6,305.1 1602.4,300.7 1608.2,297.0 1614.0,293.2 1619.8,290.5 1625.6,288.4 1631.4,291.1 1637.2,302.5 1643.0,322.2 1648.8,344.8 1654.6,362.4 1660.4,369.1 1666.2,362.9 1672.0,349.9 1677.8,338.7 1683.6,336.0 1689.4,341.5 1695.2,349.1 1701.0,351.2 1706.8,343.3 1712.6,327.0 1718.4,309.8 1724.2,297.5 1730.0,291.3 1735.8,290.3 1741.6,295.3 1747.4,306.2 1753.2,316.5 1759.0,316.3 1764.8,302.2 1770.6,282.6 1776.4,271.2 1782.2,271.2 1788.0,273.4 1793.8,275.5 1799.6,273.8 1805.4,275.6 1811.2,275.0 1817.0,272.4 1822.8,270.0 1828.6,266.2 1834.4,261.3 1840.2,261.9 1846.0,269.8 1851.8,281.5 1857.6,297.0 1863.4,313.0 1869.2,325.6 1875.0,331.7 1880.8,329.6 1886.6,319.4 1892.4,301.3 1898.2,282.8 1904.0,268.4 1909.8,262.5 1915.6,266.8 1921.4,277.0 1927.2,284.5 1933.0,283.9 1938.8,277.1 1944.6,269.9 1950.4,263.5 1956.2,257.2 1962.0,249.4 1967.8,240.1 1973.6,229.5 1979.4,217.0 1985.2,203.9 1991.0,195.6 1996.8,195.8 2002.6,203.1 2008.4,212.3 2014.2,221.2 2020.0,231.4 2025.8,244.2 2031.6,258.1 2037.4,269.8 2043.2,275.3 2049.0,275.9 2054.8,273.4 2060.6,267.4 2066.4,256.1 2072.2,241.8 2078.0,233.1 2083.8,236.3 2089.6,245.7 2095.4,250.2" fill="none" stroke="#000" stroke-width="3.7" stroke-linejoin="round"/>
<polyline points="1225.4,339.3 1226.9,339.2 1228.3,339.2 1229.8,339.1 1231.2,339.1 1232.7,339.4 1234.1,339.8 1235.6,340.1 1237.0,340.5 1238.5,341.2 1239.9,341.9 1241.4,342.6 1242.8,343.3 1244.2,343.8 1245.7,344.4 1247.2,344.9 1248.6,345.5 1250.1,347.1 1251.5,348.7 1253.0,350.3 1254.4,351.9 1260.2,361.4 1266.0,371.3 1271.8,372.6 1277.6,365.8 1283.4,357.8 1289.2,350.4 1295.0,346.2 1300.8,338.1 1306.6,322.9 1312.4,313.8 1318.2,317.2 1324.0,329.8 1329.8,347.4 1335.6,363.9 1341.4,370.4 1347.2,356.1 1353.0,341.6 1358.8,331.3 1364.6,311.8 1370.4,303.0 1376.2,303.0 1382.0,314.7 1387.8,344.0 1393.6,357.3 1399.4,349.6 1405.2,333.7 1411.0,322.7 1416.8,325.7 1422.6,344.1 1428.4,362.2 1434.2,376.6 1440.0,380.0 1445.8,376.3 1451.6,371.0 1457.4,368.2 1463.2,368.5 1469.0,365.5 1474.8,360.8 1480.6,360.1 1486.4,365.3 1492.2,372.2 1498.0,375.1 1503.8,375.2 1509.6,375.5 1515.4,374.8 1521.2,367.8 1527.0,357.4 1532.8,348.9 1538.6,346.6 1544.4,351.3 1550.2,358.5 1556.0,362.4 1561.8,360.1 1567.6,352.8 1573.4,347.4 1579.2,347.6 1585.0,351.8 1590.8,357.5 1596.6,365.5 1602.4,375.5 1608.2,380.9 1614.0,374.0 1619.8,357.3 1625.6,338.0 1631.4,324.8 1637.2,319.3 1643.0,317.1 1648.8,313.8 1654.6,308.8 1660.4,306.7 1666.2,311.0 1672.0,322.3 1677.8,335.3 1683.6,343.9 1689.4,343.3 1695.2,331.5 1701.0,310.7 1706.8,287.8 1712.6,271.5 1718.4,267.8 1724.2,273.9 1730.0,281.6 1735.8,283.4 1741.6,279.8 1747.4,278.6 1753.2,285.0 1759.0,295.5 1764.8,302.5 1770.6,302.0 1776.4,296.5 1782.2,289.7 1788.0,284.2 1793.8,287.3 1799.6,290.3 1805.4,289.5 1811.2,276.0 1817.0,258.6 1822.8,249.7 1828.6,251.2 1834.4,260.0 1840.2,277.4 1846.0,301.1 1851.8,324.8 1857.6,345.8 1863.4,357.9 1869.2,353.1 1875.0,329.1 1880.8,294.9 1886.6,265.8 1892.4,250.1 1898.2,251.5 1904.0,262.1 1909.8,269.5 1915.6,265.0 1921.4,251.6 1927.2,241.7 1933.0,245.0 1938.8,257.7 1944.6,266.9 1950.4,262.2 1956.2,247.4 1962.0,234.8 1967.8,232.5 1973.6,238.2 1979.4,243.7 1985.2,244.1 1991.0,242.1 1996.8,243.8 2002.6,255.0 2008.4,276.4 2014.2,300.9 2020.0,317.0 2025.8,317.1 2031.6,301.9 2037.4,278.8 2043.2,258.7 2049.0,255.2 2054.8,269.1 2060.6,284.1 2066.4,281.2 2072.2,259.0 2078.0,234.6 2083.8,223.2 2089.6,224.8 2095.4,228.6" fill="none" stroke="#000" stroke-width="3.7" stroke-linejoin="round"/>
<polyline points="1225.4,342.9 1226.9,345.7 1228.3,348.5 1229.8,351.3 1231.2,354.1 1232.7,358.5 1234.1,363.0 1235.6,367.4 1237.0,371.9 1238.5,375.2 1239.9,378.5 1241.4,381.8 1242.8,385.1 1244.2,384.6 1245.7,384.2 1247.2,383.7 1248.6,383.3 1250.1,380.7 1251.5,378.1 1253.0,375.6 1254.4,373.0 1260.2,363.3 1266.0,360.0 1271.8,355.6 1277.6,346.6 1283.4,335.0 1289.2,322.2 1295.0,314.6 1300.8,309.6 1306.6,305.2 1312.4,309.9 1318.2,321.2 1324.0,330.7 1329.8,341.4 1335.6,361.0 1341.4,387.2 1347.2,403.6 1353.0,416.7 1358.8,424.9 1364.6,423.3 1370.4,409.8 1376.2,388.8 1382.0,378.7 1387.8,380.9 1393.6,396.5 1399.4,417.1 1405.2,423.2 1411.0,419.0 1416.8,435.2 1422.6,463.2 1428.4,440.1 1434.2,414.3 1440.0,400.9 1445.8,405.3 1451.6,408.1 1457.4,402.1 1463.2,394.2 1469.0,383.2 1474.8,371.0 1480.6,358.8 1486.4,345.3 1492.2,329.1 1498.0,311.9 1503.8,301.7 1509.6,305.7 1515.4,323.5 1521.2,345.4 1527.0,364.3 1532.8,375.9 1538.6,379.8 1544.4,379.8 1550.2,379.4 1556.0,380.7 1561.8,381.0 1567.6,374.3 1573.4,358.5 1579.2,336.0 1585.0,315.1 1590.8,304.5 1596.6,305.0 1602.4,308.1 1608.2,305.6 1614.0,298.3 1619.8,296.2 1625.6,302.1 1631.4,312.0 1637.2,318.7 1643.0,320.0 1648.8,319.8 1654.6,322.2 1660.4,327.4 1666.2,333.5 1672.0,341.5 1677.8,349.9 1683.6,355.1 1689.4,353.4 1695.2,343.0 1701.0,324.9 1706.8,304.2 1712.6,286.7 1718.4,276.2 1724.2,275.1 1730.0,286.7 1735.8,307.5 1741.6,323.4 1747.4,321.4 1753.2,303.4 1759.0,283.3 1764.8,272.6 1770.6,270.6 1776.4,269.6 1782.2,266.2 1788.0,266.7 1793.8,283.6 1799.6,307.3 1805.4,326.1 1811.2,322.2 1817.0,298.6 1822.8,268.7 1828.6,243.2 1834.4,231.9 1840.2,244.3 1846.0,272.7 1851.8,295.8 1857.6,303.6 1863.4,299.6 1869.2,294.0 1875.0,292.4 1880.8,291.8 1886.6,283.8 1892.4,265.3 1898.2,252.4 1904.0,260.4 1909.8,286.8 1915.6,313.8 1921.4,327.8 1927.2,331.3 1933.0,332.4 1938.8,331.0 1944.6,320.5 1950.4,297.0 1956.2,269.2 1962.0,249.3 1967.8,241.9 1973.6,243.0 1979.4,245.4 1985.2,241.0 1991.0,225.7 1996.8,206.2 2002.6,199.4 2008.4,214.7 2014.2,243.7 2020.0,270.9 2025.8,290.7 2031.6,304.0 2037.4,307.6 2043.2,294.2 2049.0,269.2 2054.8,247.9 2060.6,243.3 2066.4,256.3 2072.2,278.5 2078.0,299.4 2083.8,310.9 2089.6,309.8 2095.4,298.2" fill="none" stroke="#000" stroke-width="3.7" stroke-linejoin="round"/>
<polyline points="1225.4,328.0 1226.9,328.1 1228.3,328.2 1229.8,328.3 1231.2,328.4 1232.7,329.1 1234.1,329.8 1235.6,330.4 1237.0,331.1 1238.5,332.2 1239.9,333.4 1241.4,334.5 1242.8,335.6 1244.2,336.0 1245.7,336.4 1247.2,336.8 1248.6,337.2 1250.1,337.3 1251.5,337.4 1253.0,337.5 1254.4,337.6 1260.2,336.8 1266.0,340.1 1271.8,347.2 1277.6,357.0 1283.4,363.5 1289.2,357.1 1295.0,340.1 1300.8,315.0 1306.6,289.7 1312.4,283.3 1318.2,299.6 1324.0,325.8 1329.8,349.7 1335.6,366.7 1341.4,377.0 1347.2,376.7 1353.0,381.3 1358.8,390.4 1364.6,397.8 1370.4,399.0 1376.2,392.4 1382.0,389.2 1387.8,385.4 1393.6,379.6 1399.4,369.6 1405.2,355.5 1411.0,347.5 1416.8,352.1 1422.6,369.7 1428.4,385.2 1434.2,397.2 1440.0,397.8 1445.8,386.3 1451.6,364.4 1457.4,340.8 1463.2,327.0 1469.0,324.4 1474.8,332.3 1480.6,347.1 1486.4,363.7 1492.2,377.6 1498.0,384.3 1503.8,373.7 1509.6,343.3 1515.4,304.3 1521.2,281.7 1527.0,291.1 1532.8,305.0 1538.6,322.4 1544.4,332.4 1550.2,340.8 1556.0,349.1 1561.8,352.9 1567.6,350.1 1573.4,345.4 1579.2,341.3 1585.0,337.6 1590.8,335.9 1596.6,339.1 1602.4,346.4 1608.2,353.0 1614.0,356.4 1619.8,361.0 1625.6,367.5 1631.4,373.6 1637.2,374.4 1643.0,366.2 1648.8,348.9 1654.6,325.4 1660.4,301.8 1666.2,283.1 1672.0,273.0 1677.8,269.6 1683.6,268.8 1689.4,265.6 1695.2,258.4 1701.0,251.0 1706.8,249.1 1712.6,254.4 1718.4,263.7 1724.2,271.4 1730.0,275.5 1735.8,277.3 1741.6,280.6 1747.4,288.0 1753.2,297.4 1759.0,301.5 1764.8,295.0 1770.6,280.7 1776.4,268.1 1782.2,264.1 1788.0,267.3 1793.8,278.0 1799.6,286.6 1805.4,294.0 1811.2,293.1 1817.0,288.2 1822.8,286.0 1828.6,287.7 1834.4,292.4 1840.2,301.9 1846.0,310.8 1851.8,310.4 1857.6,301.5 1863.4,288.8 1869.2,279.5 1875.0,276.9 1880.8,277.1 1886.6,272.2 1892.4,257.7 1898.2,243.5 1904.0,238.1 1909.8,242.4 1915.6,250.4 1921.4,255.9 1927.2,259.1 1933.0,265.3 1938.8,278.2 1944.6,296.0 1950.4,310.3 1956.2,315.9 1962.0,313.5 1967.8,307.0 1973.6,298.4 1979.4,286.2 1985.2,269.0 1991.0,250.1 1996.8,235.3 2002.6,230.3 2008.4,235.4 2014.2,246.0 2020.0,256.8 2025.8,265.7 2031.6,272.6 2037.4,275.1 2043.2,270.8 2049.0,264.9 2054.8,263.8 2060.6,265.9 2066.4,261.4 2072.2,243.2 2078.0,216.7 2083.8,195.4 2089.6,190.5 2095.4,203.5" fill="none" stroke="#000" stroke-width="3.7" stroke-linejoin="round"/>
<polyline points="1225.4,503.8 1226.9,481.9 1228.3,462.9 1229.8,446.6 1231.2,432.4 1232.7,420.5 1234.1,410.2 1235.6,401.3 1237.0,393.5 1238.5,387.2 1239.9,381.9 1241.4,377.2 1242.8,373.2 1244.2,369.5 1245.7,366.3 1247.2,363.4 1248.6,361.0 1250.1,359.0 1251.5,357.2 1253.0,355.7 1254.4,354.3 1260.2,348.4 1266.0,342.4 1271.8,332.5 1277.6,322.9 1283.4,319.5 1289.2,322.2 1295.0,332.1 1300.8,341.2 1306.6,343.7 1312.4,348.1 1318.2,354.5 1324.0,356.2 1329.8,354.1 1335.6,352.9 1341.4,350.8 1347.2,337.4 1353.0,328.3 1358.8,330.2 1364.6,342.2 1370.4,357.7 1376.2,369.7 1382.0,385.0 1387.8,397.8 1393.6,407.0 1399.4,410.2 1405.2,404.0 1411.0,392.3 1416.8,378.3 1422.6,365.3 1428.4,347.3 1434.2,334.7 1440.0,332.1 1445.8,344.4 1451.6,364.4 1457.4,379.8 1463.2,385.1 1469.0,379.9 1474.8,371.0 1480.6,361.0 1486.4,350.9 1492.2,345.2 1498.0,346.4 1503.8,350.2 1509.6,347.7 1515.4,336.3 1521.2,322.0 1527.0,316.4 1532.8,321.9 1538.6,335.2 1544.4,352.4 1550.2,366.0 1556.0,366.7 1561.8,350.9 1567.6,327.4 1573.4,313.5 1579.2,317.0 1585.0,331.8 1590.8,345.2 1596.6,349.4 1602.4,343.3 1608.2,330.9 1614.0,316.9 1619.8,307.5 1625.6,302.6 1631.4,302.2 1637.2,303.6 1643.0,303.3 1648.8,300.6 1654.6,298.7 1660.4,300.2 1666.2,302.8 1672.0,302.8 1677.8,297.2 1683.6,287.7 1689.4,281.1 1695.2,282.8 1701.0,290.2 1706.8,293.4 1712.6,286.5 1718.4,274.0 1724.2,263.2 1730.0,257.3 1735.8,253.2 1741.6,247.9 1747.4,243.1 1753.2,240.9 1759.0,239.2 1764.8,236.6 1770.6,236.1 1776.4,241.7 1782.2,251.5 1788.0,261.0 1793.8,276.3 1799.6,294.7 1805.4,316.0 1811.2,326.1 1817.0,323.7 1822.8,314.5 1828.6,301.6 1834.4,286.5 1840.2,274.3 1846.0,267.0 1851.8,265.6 1857.6,273.7 1863.4,286.4 1869.2,295.3 1875.0,296.9 1880.8,292.3 1886.6,284.0 1892.4,271.5 1898.2,258.9 1904.0,246.5 1909.8,238.9 1915.6,245.1 1921.4,269.0 1927.2,301.2 1933.0,325.9 1938.8,334.3 1944.6,329.8 1950.4,321.0 1956.2,314.5 1962.0,308.3 1967.8,296.4 1973.6,276.3 1979.4,249.9 1985.2,219.8 1991.0,191.6 1996.8,175.4 2002.6,182.7 2008.4,213.7 2014.2,252.2 2020.0,276.5 2025.8,275.8 2031.6,255.5 2037.4,228.4 2043.2,202.0 2049.0,181.5 2054.8,171.7 2060.6,178.7 2066.4,203.9 2072.2,239.1 2078.0,271.1 2083.8,290.1 2089.6,293.8 2095.4,285.0" fill="none" stroke="#f00000" stroke-width="3.7" stroke-linejoin="round"/>
<polyline points="1225.4,431.2 1226.9,413.2 1228.3,398.8 1229.8,387.2 1231.2,377.7 1232.7,369.3 1234.1,362.2 1235.6,356.1 1237.0,350.7 1238.5,346.1 1239.9,341.9 1241.4,338.1 1242.8,334.6 1244.2,331.1 1245.7,327.7 1247.2,324.5 1248.6,321.4 1250.1,319.0 1251.5,316.8 1253.0,314.5 1254.4,312.4 1260.2,305.8 1266.0,302.7 1271.8,298.8 1277.6,294.8 1283.4,294.6 1289.2,302.1 1295.0,309.6 1300.8,293.0 1306.6,266.9 1312.4,266.1 1318.2,289.3 1324.0,330.2 1329.8,353.4 1335.6,350.7 1341.4,338.8 1347.2,318.2 1353.0,303.7 1358.8,297.7 1364.6,299.5 1370.4,308.1 1376.2,320.3 1382.0,338.8 1387.8,351.3 1393.6,357.5 1399.4,362.1 1405.2,368.7 1411.0,380.8 1416.8,394.8 1422.6,405.2 1428.4,399.6 1434.2,386.3 1440.0,370.7 1445.8,361.9 1451.6,359.2 1457.4,358.1 1463.2,358.2 1469.0,358.3 1474.8,360.6 1480.6,363.4 1486.4,364.6 1492.2,365.4 1498.0,367.1 1503.8,370.0 1509.6,372.5 1515.4,372.6 1521.2,367.3 1527.0,358.2 1532.8,345.4 1538.6,328.7 1544.4,310.6 1550.2,295.0 1556.0,286.1 1561.8,283.1 1567.6,279.9 1573.4,274.7 1579.2,271.6 1585.0,276.2 1590.8,287.7 1596.6,300.3 1602.4,308.7 1608.2,311.3 1614.0,308.0 1619.8,300.8 1625.6,289.8 1631.4,281.9 1637.2,284.4 1643.0,298.4 1648.8,316.9 1654.6,328.5 1660.4,325.8 1666.2,310.6 1672.0,294.8 1677.8,288.7 1683.6,294.4 1689.4,304.7 1695.2,311.5 1701.0,314.7 1706.8,319.8 1712.6,330.2 1718.4,343.2 1724.2,351.9 1730.0,352.5 1735.8,344.5 1741.6,330.1 1747.4,314.9 1753.2,304.8 1759.0,301.7 1764.8,302.5 1770.6,302.9 1776.4,303.2 1782.2,303.5 1788.0,300.3 1793.8,295.0 1799.6,283.9 1805.4,276.5 1811.2,272.1 1817.0,274.2 1822.8,282.0 1828.6,285.9 1834.4,280.3 1840.2,271.4 1846.0,264.3 1851.8,258.1 1857.6,256.4 1863.4,262.3 1869.2,275.5 1875.0,290.4 1880.8,298.7 1886.6,295.8 1892.4,281.3 1898.2,267.0 1904.0,262.2 1909.8,268.0 1915.6,275.1 1921.4,272.0 1927.2,256.5 1933.0,237.4 1938.8,227.3 1944.6,233.8 1950.4,252.5 1956.2,274.5 1962.0,292.9 1967.8,305.1 1973.6,311.7 1979.4,314.7 1985.2,314.8 1991.0,310.5 1996.8,298.8 2002.6,281.9 2008.4,265.5 2014.2,254.1 2020.0,248.0 2025.8,244.1 2031.6,237.1 2037.4,223.6 2043.2,206.5 2049.0,196.7 2054.8,201.8 2060.6,220.7 2066.4,244.8 2072.2,264.1 2078.0,272.5 2083.8,269.6 2089.6,260.9 2095.4,254.6" fill="none" stroke="#f00000" stroke-width="3.7" stroke-linejoin="round"/>
<polyline points="1225.4,404.5 1226.9,389.9 1228.3,378.0 1229.8,368.1 1231.2,359.8 1232.7,355.0 1234.1,351.2 1235.6,348.2 1237.0,345.7 1238.5,345.9 1239.9,346.4 1241.4,347.2 1242.8,348.2 1244.2,349.4 1245.7,350.8 1247.2,352.4 1248.6,354.0 1250.1,355.0 1251.5,356.1 1253.0,357.3 1254.4,358.4 1260.2,356.4 1266.0,350.1 1271.8,340.8 1277.6,334.5 1283.4,334.0 1289.2,333.5 1295.0,331.5 1300.8,323.1 1306.6,309.2 1312.4,304.1 1318.2,309.0 1324.0,313.8 1329.8,316.7 1335.6,322.7 1341.4,332.3 1347.2,333.3 1353.0,333.2 1358.8,332.9 1364.6,334.2 1370.4,338.7 1376.2,344.0 1382.0,357.0 1387.8,373.1 1393.6,394.0 1399.4,413.9 1405.2,422.1 1411.0,418.3 1416.8,407.6 1422.6,397.6 1428.4,384.8 1434.2,378.8 1440.0,377.2 1445.8,368.4 1451.6,340.9 1457.4,301.9 1463.2,282.0 1469.0,298.0 1474.8,323.5 1480.6,350.1 1486.4,370.8 1492.2,382.0 1498.0,381.0 1503.8,369.6 1509.6,355.3 1515.4,344.4 1521.2,337.0 1527.0,334.7 1532.8,338.8 1538.6,350.0 1544.4,365.1 1550.2,375.6 1556.0,374.8 1561.8,361.5 1567.6,339.3 1573.4,316.9 1579.2,300.5 1585.0,292.7 1590.8,292.6 1596.6,297.1 1602.4,302.9 1608.2,308.8 1614.0,316.3 1619.8,328.2 1625.6,336.7 1631.4,333.6 1637.2,316.0 1643.0,290.5 1648.8,269.8 1654.6,265.6 1660.4,281.5 1666.2,309.6 1672.0,337.3 1677.8,355.1 1683.6,361.0 1689.4,357.3 1695.2,346.9 1701.0,333.7 1706.8,320.4 1712.6,306.1 1718.4,291.4 1724.2,280.9 1730.0,280.5 1735.8,288.2 1741.6,294.1 1747.4,290.9 1753.2,279.4 1759.0,264.8 1764.8,250.9 1770.6,240.1 1776.4,236.0 1782.2,240.2 1788.0,248.3 1793.8,257.9 1799.6,258.0 1805.4,252.0 1811.2,237.3 1817.0,220.3 1822.8,208.0 1828.6,201.8 1834.4,203.0 1840.2,213.5 1846.0,228.7 1851.8,242.8 1857.6,259.1 1863.4,277.3 1869.2,291.1 1875.0,294.0 1880.8,285.9 1886.6,274.0 1892.4,264.7 1898.2,264.3 1904.0,267.5 1909.8,266.5 1915.6,260.3 1921.4,255.9 1927.2,260.3 1933.0,272.3 1938.8,284.3 1944.6,290.4 1950.4,289.9 1956.2,287.7 1962.0,287.3 1967.8,287.0 1973.6,282.0 1979.4,270.6 1985.2,256.1 1991.0,244.8 1996.8,239.9 2002.6,241.2 2008.4,245.4 2014.2,249.7 2020.0,253.8 2025.8,260.0 2031.6,271.0 2037.4,285.1 2043.2,294.4 2049.0,293.4 2054.8,281.2 2060.6,263.4 2066.4,246.4 2072.2,233.7 2078.0,225.4 2083.8,219.7 2089.6,216.8 2095.4,218.0" fill="none" stroke="#f00000" stroke-width="3.7" stroke-linejoin="round"/>
<polyline points="1225.4,376.8 1226.9,369.0 1228.3,362.9 1229.8,358.2 1231.2,354.6 1232.7,352.3 1234.1,350.8 1235.6,349.7 1237.0,349.1 1238.5,348.9 1239.9,349.0 1241.4,349.3 1242.8,349.7 1244.2,349.4 1245.7,349.1 1247.2,349.0 1248.6,348.8 1250.1,348.5 1251.5,348.1 1253.0,347.8 1254.4,347.4 1260.2,346.5 1266.0,352.6 1271.8,363.3 1277.6,373.8 1283.4,378.9 1289.2,375.2 1295.0,372.3 1300.8,372.1 1306.6,373.3 1312.4,381.9 1318.2,393.8 1324.0,399.1 1329.8,397.6 1335.6,395.2 1341.4,393.2 1347.2,381.2 1353.0,367.8 1358.8,352.7 1364.6,338.1 1370.4,330.3 1376.2,330.5 1382.0,340.8 1387.8,347.6 1393.6,350.3 1399.4,353.3 1405.2,357.3 1411.0,364.0 1416.8,372.3 1422.6,381.8 1428.4,382.6 1434.2,380.2 1440.0,371.4 1445.8,357.0 1451.6,339.2 1457.4,326.4 1463.2,327.4 1469.0,337.2 1474.8,348.4 1480.6,354.9 1486.4,354.7 1492.2,349.8 1498.0,343.2 1503.8,337.5 1509.6,333.0 1515.4,328.8 1521.2,322.9 1527.0,317.9 1532.8,314.4 1538.6,311.7 1544.4,309.1 1550.2,305.6 1556.0,302.4 1561.8,301.5 1567.6,303.9 1573.4,310.1 1579.2,316.3 1585.0,318.0 1590.8,314.6 1596.6,309.9 1602.4,308.4 1608.2,312.0 1614.0,317.9 1619.8,322.2 1625.6,316.2 1631.4,301.5 1637.2,303.7 1643.0,342.0 1648.8,399.5 1654.6,433.0 1660.4,408.7 1666.2,366.4 1672.0,332.4 1677.8,328.4 1683.6,330.6 1689.4,319.8 1695.2,303.1 1701.0,287.9 1706.8,277.0 1712.6,270.7 1718.4,269.6 1724.2,270.3 1730.0,268.6 1735.8,263.7 1741.6,260.3 1747.4,264.3 1753.2,275.4 1759.0,286.3 1764.8,289.9 1770.6,286.0 1776.4,281.9 1782.2,283.5 1788.0,290.1 1793.8,303.9 1799.6,316.8 1805.4,327.3 1811.2,323.6 1817.0,308.4 1822.8,292.8 1828.6,283.4 1834.4,281.7 1840.2,288.8 1846.0,299.8 1851.8,307.0 1857.6,309.8 1863.4,307.1 1869.2,297.6 1875.0,282.6 1880.8,266.9 1886.6,256.5 1892.4,253.1 1898.2,259.7 1904.0,271.9 1909.8,283.9 1915.6,292.4 1921.4,299.1 1927.2,307.5 1933.0,318.0 1938.8,326.3 1944.6,328.5 1950.4,322.2 1956.2,311.3 1962.0,301.2 1967.8,295.3 1973.6,292.1 1979.4,286.0 1985.2,272.9 1991.0,256.1 1996.8,241.4 2002.6,230.1 2008.4,216.7 2014.2,196.8 2020.0,174.8 2025.8,161.2 2031.6,163.1 2037.4,178.7 2043.2,199.2 2049.0,217.6 2054.8,229.8 2060.6,236.6 2066.4,240.1 2072.2,239.8 2078.0,232.8 2083.8,220.0 2089.6,206.3 2095.4,196.0" fill="none" stroke="#f00000" stroke-width="3.7" stroke-linejoin="round"/>
<polyline points="1225.4,323.8 1226.9,337.9 1228.3,349.0 1229.8,357.8 1231.2,364.8 1232.7,369.6 1234.1,373.3 1235.6,376.1 1237.0,378.3 1238.5,379.3 1239.9,379.9 1241.4,380.2 1242.8,380.2 1244.2,379.5 1245.7,378.7 1247.2,377.8 1248.6,376.7 1250.1,376.6 1251.5,376.4 1253.0,376.2 1254.4,375.9 1260.2,377.5 1266.0,380.2 1271.8,375.7 1277.6,362.5 1283.4,344.8 1289.2,326.8 1295.0,317.1 1300.8,313.5 1306.6,312.6 1312.4,322.1 1318.2,341.1 1324.0,363.0 1329.8,388.1 1335.6,417.3 1341.4,444.0 1347.2,450.9 1353.0,445.4 1358.8,428.9 1364.6,404.5 1370.4,379.6 1376.2,361.6 1382.0,362.4 1387.8,372.5 1393.6,386.5 1399.4,400.6 1405.2,411.4 1411.0,419.3 1416.8,422.7 1422.6,424.2 1428.4,420.4 1434.2,420.5 1440.0,419.3 1445.8,414.7 1451.6,405.7 1457.4,393.9 1463.2,380.4 1469.0,360.1 1474.8,337.1 1480.6,319.6 1486.4,313.3 1492.2,316.8 1498.0,323.8 1503.8,331.0 1509.6,339.9 1515.4,351.7 1521.2,361.6 1527.0,366.0 1532.8,363.0 1538.6,355.3 1544.4,345.8 1550.2,334.8 1556.0,325.0 1561.8,319.9 1567.6,318.6 1573.4,318.9 1579.2,319.4 1585.0,321.4 1590.8,324.1 1596.6,322.4 1602.4,313.3 1608.2,302.5 1614.0,301.4 1619.8,316.8 1625.6,336.9 1631.4,345.8 1637.2,335.7 1643.0,313.7 1648.8,294.7 1654.6,289.5 1660.4,298.8 1666.2,314.0 1672.0,326.8 1677.8,332.4 1683.6,330.9 1689.4,324.1 1695.2,314.2 1701.0,305.1 1706.8,301.2 1712.6,303.3 1718.4,308.2 1724.2,312.2 1730.0,316.7 1735.8,324.3 1741.6,334.4 1747.4,342.4 1753.2,343.7 1759.0,337.4 1764.8,326.7 1770.6,316.6 1776.4,312.2 1782.2,316.2 1788.0,328.4 1793.8,350.7 1799.6,369.4 1805.4,379.3 1811.2,371.2 1817.0,350.4 1822.8,326.9 1828.6,304.1 1834.4,282.3 1840.2,265.0 1846.0,252.8 1851.8,245.7 1857.6,248.2 1863.4,257.4 1869.2,265.4 1875.0,266.4 1880.8,260.4 1886.6,251.5 1892.4,241.4 1898.2,237.4 1904.0,241.5 1909.8,251.9 1915.6,264.7 1921.4,276.8 1927.2,286.8 1933.0,293.9 1938.8,297.7 1944.6,298.5 1950.4,293.9 1956.2,282.4 1962.0,262.2 1967.8,234.2 1973.6,206.6 1979.4,192.7 1985.2,199.5 1991.0,219.4 1996.8,234.6 2002.6,234.2 2008.4,218.2 2014.2,195.6 2020.0,169.1 2025.8,148.1 2031.6,168.0 2037.4,205.2 2043.2,253.6 2049.0,283.5 2054.8,286.3 2060.6,280.6 2066.4,274.2 2072.2,268.5 2078.0,265.5 2083.8,269.7 2089.6,279.8 2095.4,285.8" fill="none" stroke="#f00000" stroke-width="3.7" stroke-linejoin="round"/>
<polyline points="1225.4,369.7 1226.9,369.4 1228.3,369.2 1229.8,368.9 1231.2,368.7 1232.7,367.1 1234.1,365.5 1235.6,363.9 1237.0,362.3 1238.5,360.2 1239.9,358.1 1241.4,356.1 1242.8,354.0 1244.2,351.9 1245.7,349.8 1247.2,347.7 1248.6,345.5 1250.1,344.8 1251.5,344.0 1253.0,343.2 1254.4,342.5 1260.2,344.9 1266.0,354.6 1271.8,364.4 1277.6,369.3 1283.4,368.7 1289.2,362.5 1295.0,357.6 1300.8,351.5 1306.6,342.9 1312.4,345.3 1318.2,360.9 1324.0,378.1 1329.8,389.5 1335.6,397.1 1341.4,403.7 1347.2,400.4 1353.0,395.1 1358.8,386.5 1364.6,377.3 1370.4,375.1 1376.2,381.1 1382.0,396.7 1387.8,406.8 1393.6,409.9 1399.4,409.1 1405.2,404.6 1411.0,400.1 1416.8,395.9 1422.6,389.8 1428.4,368.6 1434.2,340.5 1440.0,315.8 1445.8,309.6 1451.6,322.5 1457.4,342.6 1463.2,356.9 1469.0,354.9 1474.8,340.8 1480.6,325.7 1486.4,321.2 1492.2,334.0 1498.0,358.7 1503.8,382.0 1509.6,394.1 1515.4,395.9 1521.2,390.0 1527.0,376.5 1532.8,353.2 1538.6,325.9 1544.4,307.1 1550.2,304.3 1556.0,317.3 1561.8,336.5 1567.6,346.4 1573.4,339.2 1579.2,322.5 1585.0,314.3 1590.8,323.9 1596.6,344.0 1602.4,358.6 1608.2,357.6 1614.0,340.9 1619.8,318.2 1625.6,297.0 1631.4,284.8 1637.2,282.7 1643.0,286.4 1648.8,290.5 1654.6,292.0 1660.4,292.5 1666.2,293.6 1672.0,296.6 1677.8,300.2 1683.6,306.8 1689.4,320.2 1695.2,338.1 1701.0,352.3 1706.8,357.4 1712.6,353.6 1718.4,344.6 1724.2,332.7 1730.0,321.5 1735.8,313.4 1741.6,307.1 1747.4,299.7 1753.2,290.6 1759.0,281.9 1764.8,277.3 1770.6,278.3 1776.4,283.3 1782.2,287.1 1788.0,284.9 1793.8,282.1 1799.6,275.5 1805.4,268.8 1811.2,255.0 1817.0,238.3 1822.8,231.8 1828.6,237.1 1834.4,234.9 1840.2,211.6 1846.0,200.0 1851.8,216.6 1857.6,238.8 1863.4,251.4 1869.2,253.8 1875.0,267.8 1880.8,291.4 1886.6,309.7 1892.4,314.0 1898.2,310.4 1904.0,306.8 1909.8,307.4 1915.6,309.3 1921.4,307.6 1927.2,300.8 1933.0,289.1 1938.8,272.6 1944.6,256.1 1950.4,246.8 1956.2,248.7 1962.0,255.0 1967.8,254.0 1973.6,239.3 1979.4,216.2 1985.2,197.0 1991.0,190.1 1996.8,193.1 2002.6,199.6 2008.4,208.6 2014.2,224.2 2020.0,247.3 2025.8,270.5 2031.6,283.1 2037.4,279.7 2043.2,263.2 2049.0,243.1 2054.8,224.5 2060.6,208.0 2066.4,194.5 2072.2,186.7 2078.0,186.2 2083.8,192.1 2089.6,203.5 2095.4,218.6" fill="none" stroke="#f00000" stroke-width="3.7" stroke-linejoin="round"/>
<polyline points="1225.4,353.2 1226.9,351.9 1228.3,350.5 1229.8,349.1 1231.2,347.8 1232.7,347.5 1234.1,347.2 1235.6,346.9 1237.0,346.6 1238.5,348.5 1239.9,350.4 1241.4,352.4 1242.8,354.3 1244.2,357.3 1245.7,360.4 1247.2,363.4 1248.6,366.5 1250.1,369.7 1251.5,372.9 1253.0,376.1 1254.4,379.3 1260.2,386.1 1266.0,387.9 1271.8,383.9 1277.6,376.3 1283.4,365.9 1289.2,350.8 1295.0,338.5 1300.8,329.8 1306.6,323.5 1312.4,327.7 1318.2,341.8 1324.0,358.7 1329.8,375.3 1335.6,391.3 1341.4,403.2 1347.2,399.9 1353.0,392.2 1358.8,383.0 1364.6,374.6 1370.4,369.9 1376.2,367.7 1382.0,372.7 1387.8,376.0 1393.6,379.6 1399.4,387.7 1405.2,401.9 1411.0,424.8 1416.8,449.6 1422.6,465.4 1428.4,456.7 1434.2,435.5 1440.0,412.7 1445.8,398.6 1451.6,391.0 1457.4,385.5 1463.2,381.2 1469.0,373.7 1474.8,362.2 1480.6,346.7 1486.4,328.4 1492.2,309.6 1498.0,291.0 1503.8,276.3 1509.6,272.4 1515.4,284.4 1521.2,308.5 1527.0,336.9 1532.8,358.6 1538.6,367.2 1544.4,364.6 1550.2,355.2 1556.0,341.9 1561.8,323.9 1567.6,303.9 1573.4,292.3 1579.2,295.1 1585.0,307.3 1590.8,317.7 1596.6,319.1 1602.4,312.5 1608.2,305.6 1614.0,306.5 1619.8,319.0 1625.6,334.7 1631.4,345.8 1637.2,348.2 1643.0,342.3 1648.8,331.1 1654.6,318.6 1660.4,307.6 1666.2,298.2 1672.0,292.9 1677.8,294.5 1683.6,303.6 1689.4,313.5 1695.2,313.2 1701.0,298.5 1706.8,275.6 1712.6,255.9 1718.4,248.0 1724.2,253.0 1730.0,267.5 1735.8,285.5 1741.6,301.2 1747.4,310.9 1753.2,312.3 1759.0,306.1 1764.8,296.0 1770.6,286.2 1776.4,280.5 1782.2,279.7 1788.0,282.1 1793.8,290.6 1799.6,299.5 1805.4,312.7 1811.2,323.7 1817.0,330.0 1822.8,326.2 1828.6,306.0 1834.4,274.4 1840.2,247.8 1846.0,233.7 1851.8,229.9 1857.6,237.9 1863.4,254.5 1869.2,273.1 1875.0,289.5 1880.8,304.7 1886.6,318.6 1892.4,322.7 1898.2,315.1 1904.0,300.4 1909.8,289.9 1915.6,288.4 1921.4,295.6 1927.2,312.8 1933.0,342.6 1938.8,361.2 1944.6,344.1 1950.4,312.5 1956.2,281.1 1962.0,262.1 1967.8,245.4 1973.6,228.3 1979.4,217.6 1985.2,212.9 1991.0,209.6 1996.8,206.1 2002.6,206.7 2008.4,214.7 2014.2,227.9 2020.0,243.3 2025.8,259.6 2031.6,275.2 2037.4,285.3 2043.2,284.3 2049.0,275.4 2054.8,267.2 2060.6,268.1 2066.4,278.7 2072.2,290.0 2078.0,290.8 2083.8,276.6 2089.6,253.0 2095.4,231.9" fill="none" stroke="#f00000" stroke-width="3.7" stroke-linejoin="round"/>
<polyline points="1225.4,355.4 1226.9,350.9 1228.3,347.5 1229.8,345.0 1231.2,343.2 1232.7,342.8 1234.1,342.8 1235.6,343.2 1237.0,343.8 1238.5,345.9 1239.9,348.1 1241.4,350.5 1242.8,353.0 1244.2,355.8 1245.7,358.8 1247.2,361.7 1248.6,364.8 1250.1,367.6 1251.5,370.5 1253.0,373.5 1254.4,376.4 1260.2,381.0 1266.0,376.4 1271.8,359.4 1277.6,336.0 1283.4,316.3 1289.2,304.8 1295.0,306.5 1300.8,315.4 1306.6,324.7 1312.4,339.2 1318.2,354.5 1324.0,360.7 1329.8,358.9 1335.6,358.8 1341.4,366.1 1347.2,372.1 1353.0,382.8 1358.8,392.0 1364.6,395.2 1370.4,394.3 1376.2,391.8 1382.0,396.6 1387.8,401.9 1393.6,408.1 1399.4,413.9 1405.2,415.9 1411.0,417.4 1416.8,421.7 1422.6,430.2 1428.4,431.4 1434.2,427.8 1440.0,415.2 1445.8,396.0 1451.6,372.9 1457.4,351.7 1463.2,338.6 1469.0,332.4 1474.8,334.2 1480.6,342.7 1486.4,354.2 1492.2,366.0 1498.0,375.2 1503.8,378.5 1509.6,374.2 1515.4,366.5 1521.2,361.0 1527.0,361.4 1532.8,361.4 1538.6,353.5 1544.4,338.2 1550.2,322.1 1556.0,313.3 1561.8,314.0 1567.6,319.1 1573.4,323.9 1579.2,325.8 1585.0,326.9 1590.8,330.2 1596.6,337.1 1602.4,345.1 1608.2,349.2 1614.0,345.0 1619.8,337.0 1625.6,331.6 1631.4,336.2 1637.2,348.2 1643.0,356.5 1648.8,353.1 1654.6,339.6 1660.4,324.4 1666.2,314.9 1672.0,313.3 1677.8,313.3 1683.6,308.3 1689.4,299.8 1695.2,295.7 1701.0,299.3 1706.8,306.0 1712.6,309.7 1718.4,309.6 1724.2,306.4 1730.0,301.5 1735.8,298.1 1741.6,299.3 1747.4,303.3 1753.2,304.2 1759.0,309.4 1764.8,333.7 1770.6,374.4 1776.4,398.6 1782.2,378.2 1788.0,337.6 1793.8,293.2 1799.6,269.4 1805.4,265.8 1811.2,261.2 1817.0,261.5 1822.8,275.1 1828.6,296.4 1834.4,314.0 1840.2,323.2 1846.0,321.0 1851.8,306.3 1857.6,286.0 1863.4,266.9 1869.2,257.5 1875.0,265.3 1880.8,288.6 1886.6,312.2 1892.4,316.1 1898.2,299.8 1904.0,276.6 1909.8,263.5 1915.6,265.4 1921.4,273.9 1927.2,277.0 1933.0,269.1 1938.8,252.2 1944.6,232.8 1950.4,215.9 1956.2,205.5 1962.0,203.0 1967.8,208.5 1973.6,223.0 1979.4,246.7 1985.2,273.1 1991.0,289.7 1996.8,286.8 2002.6,266.8 2008.4,240.6 2014.2,217.6 2020.0,199.7 2025.8,183.0 2031.6,165.4 2037.4,152.7 2043.2,154.5 2049.0,176.5 2054.8,211.1 2060.6,244.2 2066.4,265.7 2072.2,272.0 2078.0,264.8 2083.8,248.8 2089.6,231.4 2095.4,219.3" fill="none" stroke="#f00000" stroke-width="3.7" stroke-linejoin="round"/>
<polyline points="1225.4,322.3 1226.9,329.8 1228.3,335.7 1229.8,340.5 1231.2,344.4 1232.7,346.9 1234.1,348.9 1235.6,350.5 1237.0,351.8 1238.5,351.6 1239.9,351.2 1241.4,350.7 1242.8,350.0 1244.2,347.6 1245.7,345.2 1247.2,342.7 1248.6,340.1 1250.1,337.4 1251.5,334.7 1253.0,331.9 1254.4,329.1 1260.2,320.6 1266.0,319.0 1271.8,320.3 1277.6,322.3 1283.4,322.5 1289.2,317.6 1295.0,314.4 1300.8,315.4 1306.6,321.4 1312.4,339.1 1318.2,360.0 1324.0,369.0 1329.8,365.3 1335.6,360.5 1341.4,362.5 1347.2,361.2 1353.0,361.3 1358.8,359.7 1364.6,358.7 1370.4,364.1 1376.2,374.3 1382.0,389.2 1387.8,393.1 1393.6,383.6 1399.4,365.1 1405.2,344.1 1411.0,331.8 1416.8,333.2 1422.6,346.7 1428.4,358.0 1434.2,370.6 1440.0,381.6 1445.8,390.1 1451.6,390.3 1457.4,383.0 1463.2,376.5 1469.0,372.4 1474.8,369.4 1480.6,364.0 1486.4,355.3 1492.2,346.0 1498.0,338.0 1503.8,333.5 1509.6,334.1 1515.4,339.2 1521.2,344.3 1527.0,347.3 1532.8,347.0 1538.6,346.0 1544.4,348.7 1550.2,355.3 1556.0,362.2 1561.8,364.3 1567.6,358.4 1573.4,346.6 1579.2,332.5 1585.0,319.9 1590.8,310.3 1596.6,302.8 1602.4,296.0 1608.2,291.5 1614.0,292.2 1619.8,300.5 1625.6,309.8 1631.4,314.8 1637.2,313.6 1643.0,309.6 1648.8,310.4 1654.6,320.8 1660.4,337.3 1666.2,350.7 1672.0,357.2 1677.8,357.1 1683.6,350.6 1689.4,337.5 1695.2,319.5 1701.0,300.6 1706.8,285.8 1712.6,277.7 1718.4,275.8 1724.2,275.2 1730.0,273.3 1735.8,271.1 1741.6,271.7 1747.4,276.5 1753.2,285.2 1759.0,299.4 1764.8,321.0 1770.6,344.1 1776.4,357.2 1782.2,352.7 1788.0,334.6 1793.8,320.1 1799.6,312.1 1805.4,313.8 1811.2,315.9 1817.0,320.4 1822.8,329.7 1828.6,336.8 1834.4,335.6 1840.2,331.7 1846.0,330.0 1851.8,327.5 1857.6,323.2 1863.4,317.5 1869.2,311.7 1875.0,303.5 1880.8,288.9 1886.6,269.0 1892.4,248.2 1898.2,236.7 1904.0,236.0 1909.8,239.4 1915.6,239.2 1921.4,234.9 1927.2,234.4 1933.0,244.0 1938.8,251.0 1944.6,238.0 1950.4,209.9 1956.2,192.6 1962.0,208.3 1967.8,236.3 1973.6,259.5 1979.4,253.0 1985.2,228.5 1991.0,207.5 1996.8,193.2 2002.6,185.5 2008.4,182.9 2014.2,184.4 2020.0,188.6 2025.8,192.3 2031.6,193.8 2037.4,195.3 2043.2,197.7 2049.0,200.7 2054.8,203.0 2060.6,207.5 2066.4,217.7 2072.2,233.2 2078.0,252.0 2083.8,270.8 2089.6,283.3 2095.4,283.0" fill="none" stroke="#f00000" stroke-width="3.7" stroke-linejoin="round"/>
<polyline points="1225.4,403.3 1226.9,393.6 1228.3,386.2 1229.8,380.6 1231.2,376.5 1232.7,373.9 1234.1,372.1 1235.6,371.0 1237.0,370.4 1238.5,368.7 1239.9,367.2 1241.4,366.0 1242.8,365.1 1244.2,361.3 1245.7,357.7 1247.2,354.2 1248.6,350.7 1250.1,346.5 1251.5,342.4 1253.0,338.3 1254.4,334.2 1260.2,323.4 1266.0,325.6 1271.8,336.0 1277.6,349.2 1283.4,360.5 1289.2,364.4 1295.0,364.5 1300.8,357.9 1306.6,343.1 1312.4,332.5 1318.2,333.1 1324.0,343.1 1329.8,360.3 1335.6,379.2 1341.4,390.8 1347.2,383.3 1353.0,372.1 1358.8,362.6 1364.6,353.5 1370.4,342.0 1376.2,326.7 1382.0,318.1 1387.8,314.0 1393.6,317.9 1399.4,327.7 1405.2,335.0 1411.0,337.9 1416.8,338.5 1422.6,343.2 1428.4,347.2 1434.2,355.0 1440.0,357.9 1445.8,353.6 1451.6,346.0 1457.4,344.6 1463.2,357.2 1469.0,379.2 1474.8,403.8 1480.6,421.5 1486.4,426.0 1492.2,418.6 1498.0,404.5 1503.8,389.9 1509.6,379.7 1515.4,376.8 1521.2,376.2 1527.0,371.5 1532.8,357.6 1538.6,338.0 1544.4,322.2 1550.2,315.3 1556.0,317.5 1561.8,325.3 1567.6,334.3 1573.4,341.6 1579.2,343.1 1585.0,337.8 1590.8,329.6 1596.6,323.7 1602.4,321.9 1608.2,324.2 1614.0,330.8 1619.8,343.8 1625.6,357.4 1631.4,365.5 1637.2,365.4 1643.0,361.3 1648.8,360.6 1654.6,365.8 1660.4,371.2 1666.2,366.7 1672.0,349.5 1677.8,325.0 1683.6,303.3 1689.4,292.2 1695.2,292.5 1701.0,300.2 1706.8,310.3 1712.6,320.9 1718.4,331.5 1724.2,338.4 1730.0,338.6 1735.8,334.5 1741.6,331.5 1747.4,329.8 1753.2,323.9 1759.0,311.9 1764.8,300.3 1770.6,296.6 1776.4,303.9 1782.2,318.6 1788.0,333.7 1793.8,346.9 1799.6,345.7 1805.4,331.8 1811.2,306.7 1817.0,284.9 1822.8,275.6 1828.6,273.6 1834.4,272.5 1840.2,273.9 1846.0,276.5 1851.8,275.2 1857.6,270.3 1863.4,263.6 1869.2,258.8 1875.0,258.3 1880.8,261.6 1886.6,267.5 1892.4,274.1 1898.2,284.6 1904.0,294.0 1909.8,292.3 1915.6,273.7 1921.4,244.4 1927.2,219.5 1933.0,210.4 1938.8,216.8 1944.6,231.2 1950.4,244.5 1956.2,252.7 1962.0,253.8 1967.8,247.1 1973.6,236.3 1979.4,229.5 1985.2,232.2 1991.0,243.3 1996.8,256.8 2002.6,270.0 2008.4,282.3 2014.2,292.3 2020.0,297.8 2025.8,300.0 2031.6,303.6 2037.4,309.2 2043.2,309.5 2049.0,299.1 2054.8,278.9 2060.6,258.4 2066.4,248.8 2072.2,253.4 2078.0,265.0 2083.8,273.3 2089.6,275.2 2095.4,272.8" fill="none" stroke="#f00000" stroke-width="3.7" stroke-linejoin="round"/>
</g>
<rect x="1225.4" y="58.8" width="870.00" height="543.00" fill="none" stroke="#141414" stroke-width="2.5"/>
<path d="M1370.40 601.80V592.30M1370.40 58.80V68.30M1515.40 601.80V592.30M1515.40 58.80V68.30M1660.40 601.80V592.30M1660.40 58.80V68.30M1805.40 601.80V592.30M1805.40 58.80V68.30M1950.40 601.80V592.30M1950.40 58.80V68.30M1225.40 541.47H1234.90M2095.40 541.47H2085.90M1225.40 481.13H1234.90M2095.40 481.13H2085.90M1225.40 420.80H1234.90M2095.40 420.80H2085.90M1225.40 360.47H1234.90M2095.40 360.47H2085.90M1225.40 300.13H1234.90M2095.40 300.13H2085.90M1225.40 239.80H1234.90M2095.40 239.80H2085.90M1225.40 179.47H1234.90M2095.40 179.47H2085.90M1225.40 119.13H1234.90M2095.40 119.13H2085.90" stroke="#141414" stroke-width="2.5" fill="none"/>
<text x="1225.40" y="632.40" font-size="28.4" text-anchor="middle">1950</text>
<text x="1370.40" y="632.40" font-size="28.4" text-anchor="middle">1975</text>
<text x="1515.40" y="632.40" font-size="28.4" text-anchor="middle">2000</text>
<text x="1660.40" y="632.40" font-size="28.4" text-anchor="middle">2025</text>
<text x="1805.40" y="632.40" font-size="28.4" text-anchor="middle">2050</text>
<text x="1950.40" y="632.40" font-size="28.4" text-anchor="middle">2075</text>
<text x="2095.40" y="632.40" font-size="28.4" text-anchor="middle">2100</text>
<text x="1216.20" y="609.70" font-size="28.4" text-anchor="end">-4</text>
<text x="1216.20" y="549.37" font-size="28.4" text-anchor="end">-3</text>
<text x="1216.20" y="489.03" font-size="28.4" text-anchor="end">-2</text>
<text x="1216.20" y="428.70" font-size="28.4" text-anchor="end">-1</text>
<text x="1216.20" y="368.37" font-size="28.4" text-anchor="end">0</text>
<text x="1216.20" y="308.03" font-size="28.4" text-anchor="end">1</text>
<text x="1216.20" y="247.70" font-size="28.4" text-anchor="end">2</text>
<text x="1216.20" y="187.37" font-size="28.4" text-anchor="end">3</text>
<text x="1216.20" y="127.03" font-size="28.4" text-anchor="end">4</text>
<text x="1216.20" y="66.70" font-size="28.4" text-anchor="end">5</text>
<g clip-path="url(#clipc)">
<polyline points="110.4,1019.1 116.2,1014.4 122.0,1018.2 127.8,1021.1 133.6,978.6 139.4,948.4 145.2,921.0 151.0,932.1 156.8,952.5 162.6,960.0 168.4,974.2 174.2,974.9 180.0,980.5 185.8,976.6 191.6,970.0 197.4,970.2 203.2,964.8 209.0,965.5 214.8,977.6 220.6,991.3 226.4,995.3 232.2,1021.0 238.0,1021.6 243.8,1019.6 249.6,1023.3 255.4,1042.2 261.2,1074.0 267.0,1120.5 272.8,1143.8 278.6,1185.0 284.4,1200.5 290.2,1211.1 296.0,1198.7 301.8,1199.7 307.6,1183.7 313.4,1193.9 319.2,1180.6 325.0,1194.3 330.8,1177.5 336.6,1166.7 342.4,1150.1 348.2,1141.7 354.0,1120.6 359.8,1120.6 365.6,1113.7 371.4,1106.5 377.2,1101.7 383.0,1084.9 388.8,1079.5 394.6,1072.1 400.4,1058.3 406.2,1055.2 412.0,1047.6 417.8,1027.6 423.6,1013.7 429.4,1005.7 435.2,1006.2 441.0,1024.4 446.8,1032.1 452.6,1042.8 458.4,1043.3 464.2,1045.0 470.0,1027.7 475.8,1011.4 481.6,1003.3 487.4,1002.2 493.2,992.7 499.0,990.4 504.8,990.0 510.6,1008.8 516.4,1006.2 522.2,1000.2 528.0,990.6 533.8,974.8 539.6,968.6 545.5,973.0 551.3,969.7 557.1,986.4 562.9,1001.4 568.7,1011.9 574.5,1019.1 580.3,1031.0 586.1,1022.1 591.9,1021.5 597.7,1028.0 603.5,1023.5 609.3,1032.4 615.1,1036.5 620.9,1040.4 626.7,1059.9 632.5,1052.6 638.3,1041.7 644.1,1061.7 649.9,1065.4 655.7,1096.0 661.5,1092.0 667.3,1089.1 673.1,1059.5 678.9,1036.5 684.7,1014.7 690.5,1018.3 696.3,1022.4 702.1,1033.9 707.9,1036.2 713.7,1047.3 719.5,1049.7 725.3,1071.5 731.1,1067.7 736.9,1082.5 742.7,1083.9 748.5,1085.1 754.3,1074.5 760.1,1077.1 765.9,1056.1 771.7,1048.2 777.5,1040.1 783.3,1050.3 789.1,1079.5 794.9,1109.8 800.7,1130.1 806.5,1149.9 812.3,1153.7 818.1,1144.7 823.9,1144.9 829.7,1164.0 835.5,1152.6 841.3,1144.4 847.1,1138.7 852.9,1121.7 858.7,1105.3 864.5,1107.8 870.3,1102.9 876.1,1103.9 881.9,1108.9 887.7,1109.5 893.5,1125.4 899.3,1152.3 905.1,1150.1 910.9,1175.0 916.7,1160.3 922.5,1157.4 928.3,1151.5 934.1,1142.9 939.9,1127.5 945.7,1131.5 951.5,1139.4 957.3,1146.6 963.1,1156.2 968.9,1171.1 974.7,1166.6 980.5,1191.3" fill="none" stroke="#000" stroke-width="3.7" stroke-linejoin="round"/>
<polyline points="110.4,1011.6 116.2,1005.5 122.0,1010.9 127.8,1016.1 133.6,1017.6 139.4,1023.0 145.2,1036.7 151.0,1033.7 156.8,1018.9 162.6,1020.6 168.4,1002.9 174.2,993.3 180.0,995.4 185.8,984.1 191.6,990.8 197.4,978.1 203.2,992.6 209.0,1012.3 214.8,1021.0 220.6,1052.9 226.4,1054.3 232.2,1051.9 238.0,1037.0 243.8,1027.6 249.6,1022.2 255.4,1031.2 261.2,1053.2 267.0,1073.0 272.8,1092.1 278.6,1097.7 284.4,1091.2 290.2,1097.3 296.0,1104.3 301.8,1120.6 307.6,1130.9 313.4,1152.1 319.2,1163.9 325.0,1174.3 330.8,1189.4 336.6,1193.0 342.4,1194.7 348.2,1208.0 354.0,1221.6 359.8,1226.4 365.6,1237.3 371.4,1262.9 377.2,1259.6 383.0,1252.1 388.8,1264.7 394.6,1273.3 400.4,1273.7 406.2,1274.8 412.0,1268.6 417.8,1274.4 423.6,1280.2 429.4,1275.0 435.2,1257.3 441.0,1223.3 446.8,1200.9 452.6,1192.2 458.4,1145.3 464.2,1120.2 470.0,1087.1 475.8,1077.2 481.6,1032.3 487.4,1033.8 493.2,1033.9 499.0,1047.4 504.8,1051.5 510.6,1039.5 516.4,1015.3 522.2,1010.2 528.0,999.3 533.8,1002.5 539.6,1004.8 545.5,1007.3 551.3,1030.4 557.1,1030.9 562.9,1033.5 568.7,1017.6 574.5,1012.9 580.3,1017.1 586.1,997.1 591.9,1000.0 597.7,992.3 603.5,1006.6 609.3,1020.2 615.1,1030.7 620.9,1023.4 626.7,1026.9 632.5,1014.1 638.3,1021.9 644.1,1027.2 649.9,1035.2 655.7,1036.4 661.5,1045.4 667.3,1037.5 673.1,1053.1 678.9,1072.7 684.7,1086.7 690.5,1082.9 696.3,1092.7 702.1,1091.4 707.9,1096.0 713.7,1079.6 719.5,1088.5 725.3,1076.8 731.1,1076.6 736.9,1074.1 742.7,1074.8 748.5,1073.2 754.3,1083.1 760.1,1074.2 765.9,1063.9 771.7,1067.5 777.5,1057.5 783.3,1054.9 789.1,1051.2 794.9,1043.6 800.7,1052.1 806.5,1048.6 812.3,1065.0 818.1,1063.4 823.9,1079.0 829.7,1078.0 835.5,1078.8 841.3,1083.2 847.1,1078.7 852.9,1079.0 858.7,1085.0 864.5,1097.4 870.3,1111.2 876.1,1105.5 881.9,1096.7 887.7,1104.9 893.5,1117.9 899.3,1123.8 905.1,1133.2 910.9,1148.9 916.7,1151.4 922.5,1151.1 928.3,1150.3 934.1,1135.2 939.9,1108.5 945.7,1111.3 951.5,1102.1 957.3,1104.9 963.1,1107.2 968.9,1129.9 974.7,1150.9 980.5,1160.0" fill="none" stroke="#000" stroke-width="3.7" stroke-linejoin="round"/>
<polyline points="110.4,1016.5 116.2,998.1 122.0,969.6 127.8,944.7 133.6,944.2 139.4,940.7 145.2,952.0 151.0,964.5 156.8,974.6 162.6,972.8 168.4,973.2 174.2,960.7 180.0,959.7 185.8,950.9 191.6,960.9 197.4,976.3 203.2,1004.4 209.0,1019.6 214.8,1023.0 220.6,1024.7 226.4,1025.5 232.2,1022.2 238.0,1020.7 243.8,998.8 249.6,1003.3 255.4,984.7 261.2,989.8 267.0,992.8 272.8,995.3 278.6,996.9 284.4,1026.6 290.2,1025.1 296.0,1024.5 301.8,1040.1 307.6,1043.0 313.4,1056.1 319.2,1062.1 325.0,1080.6 330.8,1114.7 336.6,1143.2 342.4,1161.5 348.2,1182.8 354.0,1195.7 359.8,1218.3 365.6,1229.2 371.4,1232.3 377.2,1241.9 383.0,1243.3 388.8,1235.1 394.6,1224.5 400.4,1218.1 406.2,1201.6 412.0,1200.9 417.8,1203.6 423.6,1186.5 429.4,1204.4 435.2,1215.4 441.0,1219.1 446.8,1229.0 452.6,1236.2 458.4,1245.2 464.2,1230.7 470.0,1215.4 475.8,1196.4 481.6,1178.4 487.4,1161.9 493.2,1153.6 499.0,1162.3 504.8,1163.5 510.6,1162.4 516.4,1146.3 522.2,1132.5 528.0,1117.3 533.8,1093.9 539.6,1076.8 545.5,1076.6 551.3,1078.8 557.1,1065.3 562.9,1077.7 568.7,1060.0 574.5,1045.4 580.3,1039.1 586.1,1042.2 591.9,1049.0 597.7,1055.1 603.5,1063.3 609.3,1066.9 615.1,1066.6 620.9,1044.4 626.7,1047.7 632.5,1005.4 638.3,1006.5 644.1,1000.3 649.9,1001.3 655.7,1022.4 661.5,1016.6 667.3,1030.3 673.1,1034.0 678.9,1032.9 684.7,1020.5 690.5,1025.9 696.3,1017.1 702.1,1029.7 707.9,1029.9 713.7,1029.0 719.5,1025.6 725.3,1040.6 731.1,1042.2 736.9,1050.0 742.7,1063.3 748.5,1078.5 754.3,1068.5 760.1,1068.4 765.9,1084.3 771.7,1070.8 777.5,1076.0 783.3,1080.3 789.1,1071.7 794.9,1086.8 800.7,1086.9 806.5,1095.0 812.3,1084.8 818.1,1077.3 823.9,1082.7 829.7,1086.7 835.5,1084.6 841.3,1093.7 847.1,1103.1 852.9,1106.6 858.7,1102.6 864.5,1114.1 870.3,1103.4 876.1,1110.6 881.9,1116.8 887.7,1106.0 893.5,1104.3 899.3,1103.6 905.1,1096.8 910.9,1105.7 916.7,1111.8 922.5,1120.6 928.3,1134.5 934.1,1141.8 939.9,1142.9 945.7,1150.4 951.5,1145.8 957.3,1136.3 963.1,1146.5 968.9,1149.9 974.7,1165.4 980.5,1164.8" fill="none" stroke="#000" stroke-width="3.7" stroke-linejoin="round"/>
<polyline points="110.4,1012.5 116.2,1005.2 122.0,1003.4 127.8,1002.2 133.6,1004.3 139.4,994.2 145.2,978.3 151.0,949.2 156.8,927.2 162.6,931.1 168.4,940.0 174.2,952.3 180.0,965.9 185.8,946.4 191.6,941.2 197.4,943.5 203.2,963.9 209.0,995.3 214.8,1027.4 220.6,1041.3 226.4,1042.7 232.2,1044.9 238.0,1049.7 243.8,1038.7 249.6,1050.3 255.4,1021.9 261.2,1013.4 267.0,1011.7 272.8,1004.4 278.6,999.0 284.4,1012.9 290.2,1015.4 296.0,989.1 301.8,1005.7 307.6,996.7 313.4,1021.6 319.2,1019.6 325.0,1021.1 330.8,1028.9 336.6,1031.4 342.4,1053.6 348.2,1056.9 354.0,1043.4 359.8,1023.6 365.6,1046.3 371.4,1078.3 377.2,1109.3 383.0,1132.1 388.8,1131.6 394.6,1112.2 400.4,1080.2 406.2,1045.5 412.0,1011.0 417.8,1005.2 423.6,1029.7 429.4,1047.4 435.2,1050.5 441.0,1033.3 446.8,1020.1 452.6,987.9 458.4,962.9 464.2,953.3 470.0,957.4 475.8,968.2 481.6,996.8 487.4,1001.4 493.2,1003.2 499.0,1002.7 504.8,990.9 510.6,989.9 516.4,994.2 522.2,1007.6 528.0,1022.7 533.8,1040.1 539.6,1055.7 545.5,1060.7 551.3,1063.7 557.1,1062.3 562.9,1067.6 568.7,1041.2 574.5,1028.8 580.3,999.5 586.1,993.7 591.9,1012.8 597.7,1015.3 603.5,999.9 609.3,994.1 615.1,986.3 620.9,1012.1 626.7,1013.0 632.5,1029.5 638.3,1041.4 644.1,1028.2 649.9,1042.0 655.7,1054.0 661.5,1038.6 667.3,1045.9 673.1,1037.9 678.9,1050.1 684.7,1048.7 690.5,1057.2 696.3,1050.8 702.1,1057.3 707.9,1054.6 713.7,1049.2 719.5,1057.2 725.3,1050.6 731.1,1035.3 736.9,1029.7 742.7,1037.9 748.5,1042.8 754.3,1045.3 760.1,1054.1 765.9,1052.1 771.7,1041.9 777.5,1048.6 783.3,1055.4 789.1,1063.6 794.9,1054.2 800.7,1075.0 806.5,1070.6 812.3,1094.3 818.1,1111.7 823.9,1113.5 829.7,1119.8 835.5,1126.9 841.3,1117.7 847.1,1119.2 852.9,1138.9 858.7,1146.7 864.5,1148.6 870.3,1154.4 876.1,1153.2 881.9,1152.9 887.7,1147.4 893.5,1158.6 899.3,1163.6 905.1,1156.3 910.9,1151.2 916.7,1144.1 922.5,1141.0 928.3,1135.7 934.1,1126.0 939.9,1100.2 945.7,1082.4 951.5,1101.8 957.3,1120.1 963.1,1159.7 968.9,1187.8 974.7,1196.6 980.5,1187.0" fill="none" stroke="#000" stroke-width="3.7" stroke-linejoin="round"/>
<polyline points="110.4,1015.5 116.2,1014.2 122.0,1026.6 127.8,1025.9 133.6,1003.8 139.4,996.2 145.2,985.7 151.0,965.4 156.8,954.9 162.6,939.1 168.4,956.6 174.2,962.6 180.0,966.2 185.8,976.6 191.6,969.8 197.4,968.6 203.2,951.7 209.0,957.6 214.8,958.7 220.6,976.8 226.4,987.6 232.2,988.5 238.0,985.4 243.8,970.2 249.6,958.6 255.4,975.7 261.2,983.0 267.0,1001.3 272.8,1004.2 278.6,1017.5 284.4,1013.6 290.2,997.8 296.0,980.0 301.8,986.3 307.6,989.1 313.4,1002.3 319.2,1007.2 325.0,1031.4 330.8,1055.7 336.6,1095.6 342.4,1113.5 348.2,1145.8 354.0,1171.8 359.8,1176.2 365.6,1193.0 371.4,1204.9 377.2,1219.2 383.0,1238.3 388.8,1236.7 394.6,1246.8 400.4,1255.4 406.2,1261.2 412.0,1260.7 417.8,1235.5 423.6,1211.9 429.4,1185.5 435.2,1164.6 441.0,1134.5 446.8,1117.5 452.6,1079.8 458.4,1039.5 464.2,1011.4 470.0,994.4 475.8,1001.6 481.6,988.2 487.4,990.8 493.2,989.6 499.0,991.5 504.8,980.7 510.6,990.5 516.4,1005.0 522.2,1019.8 528.0,1039.3 533.8,1049.8 539.6,1048.3 545.5,1024.9 551.3,999.4 557.1,975.3 562.9,942.0 568.7,950.4 574.5,969.1 580.3,979.1 586.1,975.6 591.9,995.6 597.7,976.0 603.5,968.4 609.3,949.0 615.1,962.1 620.9,956.3 626.7,982.0 632.5,1004.3 638.3,1024.4 644.1,1033.8 649.9,1011.3 655.7,1003.9 661.5,1000.6 667.3,1024.2 673.1,1044.0 678.9,1047.6 684.7,1050.0 690.5,1048.9 696.3,1042.1 702.1,1060.8 707.9,1064.7 713.7,1050.3 719.5,1055.8 725.3,1057.7 731.1,1062.6 736.9,1059.0 742.7,1058.2 748.5,1050.2 754.3,1036.6 760.1,1033.6 765.9,1040.8 771.7,1054.2 777.5,1066.5 783.3,1070.2 789.1,1078.8 794.9,1100.7 800.7,1112.5 806.5,1129.3 812.3,1138.3 818.1,1132.3 823.9,1123.5 829.7,1113.7 835.5,1102.4 841.3,1114.3 847.1,1110.6 852.9,1108.6 858.7,1095.1 864.5,1090.1 870.3,1082.8 876.1,1079.8 881.9,1090.5 887.7,1081.2 893.5,1095.6 899.3,1087.6 905.1,1098.1 910.9,1114.0 916.7,1122.0 922.5,1123.5 928.3,1114.4 934.1,1110.2 939.9,1091.8 945.7,1085.1 951.5,1085.0 957.3,1100.4 963.1,1116.8 968.9,1148.8 974.7,1164.4 980.5,1179.1" fill="none" stroke="#000" stroke-width="3.7" stroke-linejoin="round"/>
<polyline points="110.4,1027.0 116.2,1026.0 122.0,1033.6 127.8,1025.0 133.6,1029.9 139.4,1026.0 145.2,1013.0 151.0,1019.5 156.8,1022.3 162.6,1017.3 168.4,1004.1 174.2,998.9 180.0,1000.0 185.8,997.4 191.6,986.8 197.4,960.0 203.2,961.5 209.0,928.8 214.8,936.3 220.6,932.1 226.4,927.9 232.2,941.4 238.0,957.3 243.8,971.5 249.6,1004.2 255.4,1025.0 261.2,1026.0 267.0,1037.4 272.8,1028.5 278.6,1007.6 284.4,987.0 290.2,974.4 296.0,995.4 301.8,1008.7 307.6,1024.3 313.4,1050.8 319.2,1062.7 325.0,1079.5 330.8,1069.7 336.6,1058.7 342.4,1037.8 348.2,1025.0 354.0,1021.5 359.8,1016.4 365.6,1021.6 371.4,1039.0 377.2,1030.6 383.0,1038.4 388.8,1029.9 394.6,1019.0 400.4,1022.5 406.2,1008.1 412.0,1023.9 417.8,1038.9 423.6,1087.1 429.4,1130.0 435.2,1152.5 441.0,1161.0 446.8,1185.4 452.6,1189.2 458.4,1188.3 464.2,1188.6 470.0,1176.2 475.8,1183.6 481.6,1163.5 487.4,1158.9 493.2,1154.4 499.0,1098.7 504.8,1059.7 510.6,1033.1 516.4,1029.3 522.2,1032.1 528.0,1037.1 533.8,1036.9 539.6,1053.9 545.5,1057.5 551.3,1048.1 557.1,1046.2 562.9,1045.3 568.7,1035.9 574.5,1034.9 580.3,1027.2 586.1,1012.6 591.9,1000.8 597.7,1009.3 603.5,1024.0 609.3,1038.4 615.1,1024.3 620.9,1021.0 626.7,1011.4 632.5,1010.5 638.3,1003.3 644.1,1012.0 649.9,1015.5 655.7,1020.0 661.5,1035.8 667.3,1042.4 673.1,1042.6 678.9,1053.3 684.7,1039.0 690.5,1026.5 696.3,1022.5 702.1,1021.3 707.9,1023.8 713.7,1018.2 719.5,1028.6 725.3,1034.2 731.1,1041.2 736.9,1049.0 742.7,1058.6 748.5,1078.1 754.3,1093.3 760.1,1121.1 765.9,1134.0 771.7,1133.2 777.5,1148.0 783.3,1130.8 789.1,1121.0 794.9,1103.6 800.7,1096.4 806.5,1086.3 812.3,1072.8 818.1,1064.5 823.9,1052.0 829.7,1052.9 835.5,1058.8 841.3,1075.6 847.1,1093.9 852.9,1103.3 858.7,1104.3 864.5,1096.3 870.3,1092.9 876.1,1099.8 881.9,1101.8 887.7,1092.0 893.5,1097.9 899.3,1112.6 905.1,1109.6 910.9,1128.8 916.7,1136.6 922.5,1136.2 928.3,1147.8 934.1,1158.3 939.9,1177.1 945.7,1180.9 951.5,1201.1 957.3,1179.0 963.1,1179.9 968.9,1187.5 974.7,1197.0 980.5,1196.9" fill="none" stroke="#000" stroke-width="3.7" stroke-linejoin="round"/>
<polyline points="110.4,1043.1 116.2,1050.0 122.0,1037.2 127.8,1035.4 133.6,1020.3 139.4,986.2 145.2,966.8 151.0,977.0 156.8,967.0 162.6,957.2 168.4,955.0 174.2,954.3 180.0,958.0 185.8,970.9 191.6,977.0 197.4,968.1 203.2,990.7 209.0,995.7 214.8,1014.2 220.6,1020.5 226.4,1043.5 232.2,1066.9 238.0,1081.2 243.8,1071.0 249.6,1054.1 255.4,1029.7 261.2,1015.5 267.0,1000.5 272.8,1002.8 278.6,1012.6 284.4,1035.7 290.2,1041.0 296.0,1049.9 301.8,1051.5 307.6,1052.5 313.4,1037.2 319.2,1032.7 325.0,1019.1 330.8,995.3 336.6,993.1 342.4,998.8 348.2,1003.1 354.0,999.8 359.8,1024.5 365.6,1032.3 371.4,1034.9 377.2,1061.0 383.0,1056.1 388.8,1063.0 394.6,1063.2 400.4,1052.6 406.2,1063.7 412.0,1035.1 417.8,1042.7 423.6,1046.0 429.4,1067.1 435.2,1073.9 441.0,1086.2 446.8,1081.5 452.6,1073.0 458.4,1066.3 464.2,1053.7 470.0,1057.7 475.8,1057.2 481.6,1057.7 487.4,1058.6 493.2,1050.7 499.0,1044.3 504.8,1042.8 510.6,1038.6 516.4,1022.3 522.2,1008.2 528.0,992.5 533.8,984.7 539.6,976.2 545.5,987.3 551.3,983.9 557.1,986.8 562.9,999.6 568.7,1012.8 574.5,1042.7 580.3,1040.0 586.1,1046.3 591.9,1017.7 597.7,990.6 603.5,989.8 609.3,984.9 615.1,999.1 620.9,1022.0 626.7,1044.7 632.5,1102.8 638.3,1128.1 644.1,1146.8 649.9,1143.6 655.7,1152.4 661.5,1149.9 667.3,1153.1 673.1,1146.4 678.9,1133.7 684.7,1137.5 690.5,1132.7 696.3,1155.5 702.1,1162.2 707.9,1169.2 713.7,1170.0 719.5,1174.3 725.3,1147.5 731.1,1120.1 736.9,1081.1 742.7,1077.8 748.5,1072.0 754.3,1083.2 760.1,1079.6 765.9,1078.1 771.7,1079.6 777.5,1073.4 783.3,1063.8 789.1,1045.7 794.9,1029.2 800.7,1033.4 806.5,1050.1 812.3,1052.2 818.1,1077.2 823.9,1097.1 829.7,1119.4 835.5,1132.8 841.3,1149.8 847.1,1140.0 852.9,1129.5 858.7,1118.6 864.5,1095.4 870.3,1081.3 876.1,1102.5 881.9,1118.5 887.7,1131.6 893.5,1135.7 899.3,1136.0 905.1,1148.1 910.9,1145.3 916.7,1152.1 922.5,1162.1 928.3,1157.1 934.1,1153.3 939.9,1155.0 945.7,1140.1 951.5,1143.7 957.3,1157.7 963.1,1179.7 968.9,1206.1 974.7,1214.4 980.5,1226.1" fill="none" stroke="#000" stroke-width="3.7" stroke-linejoin="round"/>
<polyline points="110.4,1039.2 116.2,1030.5 122.0,1014.7 127.8,998.1 133.6,974.5 139.4,941.3 145.2,940.1 151.0,929.0 156.8,921.0 162.6,910.0 168.4,888.4 174.2,892.1 180.0,884.4 185.8,873.7 191.6,873.6 197.4,880.5 203.2,895.7 209.0,913.8 214.8,936.8 220.6,973.3 226.4,988.8 232.2,1013.7 238.0,1020.2 243.8,1000.2 249.6,971.2 255.4,969.4 261.2,977.6 267.0,1011.2 272.8,1034.1 278.6,1061.4 284.4,1078.5 290.2,1061.1 296.0,1069.8 301.8,1072.1 307.6,1062.8 313.4,1069.0 319.2,1065.4 325.0,1075.5 330.8,1091.3 336.6,1114.9 342.4,1102.1 348.2,1090.7 354.0,1073.3 359.8,1052.6 365.6,1046.4 371.4,1053.4 377.2,1074.7 383.0,1082.6 388.8,1074.9 394.6,1078.3 400.4,1076.7 406.2,1076.8 412.0,1061.8 417.8,1060.8 423.6,1057.6 429.4,1050.8 435.2,1043.5 441.0,1025.7 446.8,1022.3 452.6,994.1 458.4,989.5 464.2,1001.9 470.0,1011.7 475.8,1010.9 481.6,1009.2 487.4,1006.4 493.2,1012.4 499.0,1018.0 504.8,1020.7 510.6,1022.3 516.4,1037.3 522.2,1044.0 528.0,1046.6 533.8,1048.5 539.6,1043.2 545.5,1046.7 551.3,1022.7 557.1,1016.6 562.9,1022.9 568.7,1012.2 574.5,1000.6 580.3,999.9 586.1,996.7 591.9,989.7 597.7,989.6 603.5,1004.8 609.3,1005.6 615.1,1013.4 620.9,1008.9 626.7,1020.2 632.5,1034.8 638.3,1058.7 644.1,1055.8 649.9,1066.9 655.7,1064.7 661.5,1058.9 667.3,1059.3 673.1,1056.9 678.9,1043.2 684.7,1048.0 690.5,1039.6 696.3,1027.1 702.1,1021.2 707.9,1022.9 713.7,1037.5 719.5,1053.6 725.3,1066.8 731.1,1084.6 736.9,1086.8 742.7,1099.4 748.5,1099.9 754.3,1096.3 760.1,1079.1 765.9,1075.6 771.7,1069.4 777.5,1064.6 783.3,1054.9 789.1,1082.9 794.9,1087.7 800.7,1112.3 806.5,1113.6 812.3,1123.0 818.1,1122.7 823.9,1114.7 829.7,1105.7 835.5,1104.9 841.3,1111.3 847.1,1113.4 852.9,1144.4 858.7,1144.4 864.5,1127.5 870.3,1127.5 876.1,1102.6 881.9,1082.5 887.7,1072.2 893.5,1081.2 899.3,1094.4 905.1,1111.1 910.9,1135.7 916.7,1130.3 922.5,1137.8 928.3,1121.8 934.1,1126.7 939.9,1130.0 945.7,1126.7 951.5,1129.1 957.3,1127.2 963.1,1156.2 968.9,1162.3 974.7,1176.9 980.5,1204.6" fill="none" stroke="#000" stroke-width="3.7" stroke-linejoin="round"/>
<polyline points="110.4,1007.9 116.2,1011.8 122.0,1002.5 127.8,1013.6 133.6,1018.9 139.4,1013.6 145.2,1003.3 151.0,989.0 156.8,976.9 162.6,942.4 168.4,926.8 174.2,928.7 180.0,902.3 185.8,907.2 191.6,896.9 197.4,899.7 203.2,907.0 209.0,916.6 214.8,933.0 220.6,953.2 226.4,989.6 232.2,1032.5 238.0,1046.9 243.8,1048.8 249.6,1050.8 255.4,1046.9 261.2,1064.2 267.0,1064.5 272.8,1081.1 278.6,1077.4 284.4,1065.2 290.2,1031.6 296.0,1024.7 301.8,1013.9 307.6,1035.8 313.4,1044.2 319.2,1061.8 325.0,1062.3 330.8,1048.6 336.6,1026.5 342.4,1008.7 348.2,996.9 354.0,978.4 359.8,979.5 365.6,967.9 371.4,982.7 377.2,991.9 383.0,1011.3 388.8,1022.4 394.6,1020.2 400.4,1039.6 406.2,1043.9 412.0,1046.6 417.8,1023.1 423.6,1012.0 429.4,1016.9 435.2,1010.9 441.0,1007.0 446.8,1008.4 452.6,982.0 458.4,984.4 464.2,983.3 470.0,1000.0 475.8,1026.7 481.6,1026.7 487.4,1038.5 493.2,1031.6 499.0,1005.4 504.8,1015.1 510.6,1035.5 516.4,1061.4 522.2,1060.9 528.0,1071.8 533.8,1057.7 539.6,1030.7 545.5,999.9 551.3,1008.6 557.1,1007.5 562.9,1028.8 568.7,1055.5 574.5,1073.3 580.3,1066.1 586.1,1063.0 591.9,1042.6 597.7,1026.5 603.5,1022.7 609.3,1002.4 615.1,1006.2 620.9,1008.2 626.7,1012.1 632.5,1020.2 638.3,1014.1 644.1,1008.9 649.9,1034.8 655.7,1060.8 661.5,1086.3 667.3,1087.4 673.1,1088.2 678.9,1082.9 684.7,1065.9 690.5,1060.0 696.3,1053.2 702.1,1040.8 707.9,1037.8 713.7,1031.0 719.5,1051.8 725.3,1049.9 731.1,1045.5 736.9,1064.4 742.7,1080.8 748.5,1087.9 754.3,1082.7 760.1,1074.5 765.9,1073.6 771.7,1086.1 777.5,1107.1 783.3,1115.9 789.1,1112.3 794.9,1090.5 800.7,1085.3 806.5,1072.8 812.3,1078.6 818.1,1071.3 823.9,1075.3 829.7,1077.3 835.5,1077.0 841.3,1063.4 847.1,1083.9 852.9,1078.5 858.7,1102.9 864.5,1114.5 870.3,1133.6 876.1,1148.2 881.9,1154.5 887.7,1145.7 893.5,1141.2 899.3,1138.5 905.1,1150.0 910.9,1175.5 916.7,1199.6 922.5,1215.5 928.3,1212.9 934.1,1189.4 939.9,1162.1 945.7,1169.9 951.5,1170.4 957.3,1182.3 963.1,1204.1 968.9,1208.7 974.7,1203.1 980.5,1202.0" fill="none" stroke="#000" stroke-width="3.7" stroke-linejoin="round"/>
<polyline points="110.4,1062.9 116.2,1058.8 122.0,1036.6 127.8,1020.7 133.6,999.5 139.4,976.7 145.2,960.7 151.0,952.0 156.8,934.5 162.6,940.9 168.4,938.1 174.2,929.1 180.0,916.8 185.8,904.0 191.6,909.5 197.4,902.4 203.2,901.0 209.0,913.6 214.8,909.7 220.6,925.7 226.4,926.4 232.2,936.7 238.0,936.3 243.8,958.5 249.6,986.4 255.4,1011.6 261.2,1021.2 267.0,1039.0 272.8,1062.9 278.6,1076.1 284.4,1098.5 290.2,1103.3 296.0,1068.8 301.8,1059.2 307.6,1053.2 313.4,1041.5 319.2,1030.0 325.0,1028.7 330.8,1008.2 336.6,1006.9 342.4,985.2 348.2,988.9 354.0,1007.5 359.8,1005.7 365.6,1011.1 371.4,1017.2 377.2,1013.9 383.0,1007.7 388.8,989.7 394.6,999.0 400.4,1000.7 406.2,1002.3 412.0,980.3 417.8,979.4 423.6,985.7 429.4,977.3 435.2,961.2 441.0,953.7 446.8,954.7 452.6,943.6 458.4,960.4 464.2,978.7 470.0,1006.2 475.8,1026.7 481.6,1034.8 487.4,1018.9 493.2,1020.7 499.0,1035.6 504.8,1036.6 510.6,1047.3 516.4,1043.7 522.2,1038.4 528.0,1021.2 533.8,1004.7 539.6,1003.0 545.5,994.3 551.3,999.0 557.1,1008.0 562.9,1015.9 568.7,1026.7 574.5,1022.9 580.3,1038.0 586.1,1030.5 591.9,1022.6 597.7,1009.0 603.5,1005.4 609.3,1006.6 615.1,1003.2 620.9,1005.3 626.7,1004.3 632.5,1018.3 638.3,1026.7 644.1,1034.0 649.9,1037.3 655.7,1011.1 661.5,1008.1 667.3,992.8 673.1,992.1 678.9,985.1 684.7,995.8 690.5,1019.5 696.3,1019.6 702.1,1035.7 707.9,1036.9 713.7,1020.6 719.5,1024.7 725.3,1030.7 731.1,1043.0 736.9,1061.0 742.7,1074.5 748.5,1074.1 754.3,1076.5 760.1,1074.8 765.9,1086.7 771.7,1066.2 777.5,1052.6 783.3,1063.2 789.1,1045.1 794.9,1059.9 800.7,1079.1 806.5,1088.9 812.3,1090.6 818.1,1070.3 823.9,1061.1 829.7,1047.9 835.5,1057.0 841.3,1079.9 847.1,1078.5 852.9,1080.9 858.7,1088.9 864.5,1089.7 870.3,1095.7 876.1,1078.7 881.9,1081.1 887.7,1084.4 893.5,1099.0 899.3,1105.9 905.1,1117.0 910.9,1103.4 916.7,1118.7 922.5,1123.1 928.3,1141.5 934.1,1146.8 939.9,1167.9 945.7,1182.1 951.5,1182.2 957.3,1164.7 963.1,1145.6 968.9,1132.0 974.7,1150.4 980.5,1162.3" fill="none" stroke="#000" stroke-width="3.7" stroke-linejoin="round"/>
<polyline points="110.4,1034.0 116.2,1015.5 122.0,999.8 127.8,1020.9 133.6,1016.6 139.4,1010.0 145.2,985.0 151.0,963.0 156.8,928.0 162.6,910.9 168.4,901.9 174.2,904.7 180.0,904.7 185.8,897.5 191.6,892.9 197.4,905.2 203.2,902.8 209.0,918.5 214.8,931.8 220.6,959.0 226.4,990.9 232.2,1006.5 238.0,1030.2 243.8,1011.9 249.6,1001.0 255.4,977.9 261.2,969.4 267.0,983.1 272.8,991.3 278.6,997.4 284.4,1024.9 290.2,1028.2 296.0,1038.0 301.8,1031.4 307.6,1037.3 313.4,1036.2 319.2,1039.1 325.0,1047.3 330.8,1041.2 336.6,1028.0 342.4,1006.5 348.2,993.3 354.0,992.5 359.8,1005.3 365.6,1012.1 371.4,994.1 377.2,979.0 383.0,976.3 388.8,970.3 394.6,964.3 400.4,979.7 406.2,986.5 412.0,1004.1 417.8,1017.4 423.6,1017.3 429.4,1021.9 435.2,1019.6 441.0,1016.7 446.8,1018.6 452.6,1025.8 458.4,1024.4 464.2,1022.5 470.0,1010.6 475.8,1009.0 481.6,997.7 487.4,999.4 493.2,996.5 499.0,1010.1 504.8,1024.3 510.6,998.2 516.4,993.5 522.2,1001.9 528.0,1011.3 533.8,1015.6 539.6,1026.9 545.5,1036.5 551.3,1026.0 557.1,1015.3 562.9,998.2 568.7,1007.0 574.5,991.0 580.3,982.7 586.1,972.5 591.9,949.9 597.7,942.7 603.5,943.3 609.3,943.9 615.1,952.3 620.9,980.1 626.7,998.6 632.5,1014.3 638.3,1011.5 644.1,1000.1 649.9,991.0 655.7,997.7 661.5,1012.9 667.3,1033.1 673.1,1064.6 678.9,1062.4 684.7,1079.9 690.5,1056.2 696.3,1047.1 702.1,1026.2 707.9,1005.5 713.7,1002.1 719.5,1009.6 725.3,1013.8 731.1,1003.8 736.9,999.4 742.7,1007.2 748.5,1012.3 754.3,1033.0 760.1,1055.9 765.9,1071.1 771.7,1070.0 777.5,1052.6 783.3,1047.6 789.1,1040.7 794.9,1040.4 800.7,1047.2 806.5,1061.8 812.3,1064.0 818.1,1067.1 823.9,1070.6 829.7,1087.1 835.5,1094.2 841.3,1103.4 847.1,1104.0 852.9,1121.3 858.7,1134.0 864.5,1154.9 870.3,1169.7 876.1,1175.0 881.9,1160.6 887.7,1159.5 893.5,1165.3 899.3,1143.0 905.1,1153.8 910.9,1150.3 916.7,1143.5 922.5,1137.3 928.3,1125.8 934.1,1140.7 939.9,1126.7 945.7,1141.6 951.5,1160.2 957.3,1167.0 963.1,1177.6 968.9,1195.6 974.7,1212.2 980.5,1200.0" fill="none" stroke="#000" stroke-width="3.7" stroke-linejoin="round"/>
<polyline points="110.4,1008.5 116.2,1008.9 122.0,982.7 127.8,973.1 133.6,963.3 139.4,979.1 145.2,975.5 151.0,993.1 156.8,990.4 162.6,977.3 168.4,958.3 174.2,945.8 180.0,933.4 185.8,912.6 191.6,914.3 197.4,915.7 203.2,919.3 209.0,946.5 214.8,941.6 220.6,953.7 226.4,962.4 232.2,977.1 238.0,996.8 243.8,1012.3 249.6,1004.3 255.4,1014.9 261.2,1000.5 267.0,996.7 272.8,994.0 278.6,1003.1 284.4,1017.6 290.2,1031.8 296.0,1049.0 301.8,1057.0 307.6,1059.6 313.4,1052.5 319.2,1035.6 325.0,1031.7 330.8,1046.5 336.6,1048.6 342.4,1050.5 348.2,1056.1 354.0,1046.8 359.8,1041.5 365.6,1034.9 371.4,1034.6 377.2,1017.9 383.0,1035.4 388.8,1019.6 394.6,1027.2 400.4,1031.2 406.2,1028.8 412.0,1048.2 417.8,1031.7 423.6,1027.1 429.4,1024.5 435.2,1009.7 441.0,1011.5 446.8,1004.9 452.6,1010.2 458.4,1010.5 464.2,1010.2 470.0,990.0 475.8,970.3 481.6,970.7 487.4,964.2 493.2,948.4 499.0,941.6 504.8,937.7 510.6,959.5 516.4,985.1 522.2,993.2 528.0,997.0 533.8,974.2 539.6,961.6 545.5,959.7 551.3,955.2 557.1,968.3 562.9,972.0 568.7,990.8 574.5,1014.0 580.3,1026.4 586.1,1033.6 591.9,1038.6 597.7,1035.0 603.5,1025.0 609.3,1025.3 615.1,1016.5 620.9,1040.0 626.7,1028.8 632.5,1031.5 638.3,1023.4 644.1,1014.7 649.9,1016.4 655.7,1020.5 661.5,1017.9 667.3,1018.5 673.1,1028.0 678.9,1027.4 684.7,1031.9 690.5,1043.6 696.3,1050.7 702.1,1067.1 707.9,1061.1 713.7,1045.9 719.5,1062.5 725.3,1066.6 731.1,1065.7 736.9,1072.1 742.7,1055.6 748.5,1065.1 754.3,1063.3 760.1,1074.6 765.9,1079.6 771.7,1084.4 777.5,1108.2 783.3,1101.7 789.1,1096.7 794.9,1085.5 800.7,1066.8 806.5,1054.0 812.3,1046.1 818.1,1033.0 823.9,1039.9 829.7,1043.8 835.5,1067.0 841.3,1074.3 847.1,1083.0 852.9,1100.0 858.7,1086.8 864.5,1073.5 870.3,1060.1 876.1,1042.3 881.9,1033.4 887.7,1027.9 893.5,1043.3 899.3,1068.5 905.1,1089.9 910.9,1098.9 916.7,1106.0 922.5,1098.6 928.3,1101.1 934.1,1106.4 939.9,1125.0 945.7,1149.6 951.5,1151.7 957.3,1155.0 963.1,1155.9 968.9,1175.1 974.7,1180.3 980.5,1176.9" fill="none" stroke="#000" stroke-width="3.7" stroke-linejoin="round"/>
<polyline points="110.4,1049.9 116.2,1036.0 122.0,1014.5 127.8,999.0 133.6,992.8 139.4,987.2 145.2,982.1 151.0,972.5 156.8,973.0 162.6,961.4 168.4,961.3 174.2,950.1 180.0,937.4 185.8,937.7 191.6,922.3 197.4,922.5 203.2,925.9 209.0,921.2 214.8,933.3 220.6,932.6 226.4,958.2 232.2,960.9 238.0,978.3 243.8,1005.3 249.6,1010.3 255.4,1030.9 261.2,1033.7 267.0,1043.9 272.8,1049.4 278.6,1047.0 284.4,1054.2 290.2,1044.5 296.0,1020.1 301.8,1022.3 307.6,1022.9 313.4,1034.3 319.2,1042.7 325.0,1028.4 330.8,1010.1 336.6,1002.6 342.4,994.7 348.2,983.6 354.0,995.0 359.8,1000.7 365.6,1008.0 371.4,1013.7 377.2,1029.7 383.0,1045.2 388.8,1060.7 394.6,1045.5 400.4,1055.6 406.2,1055.8 412.0,1072.0 417.8,1061.0 423.6,1051.4 429.4,1041.8 435.2,1025.0 441.0,1008.1 446.8,1007.8 452.6,1011.1 458.4,1030.3 464.2,1034.4 470.0,1028.4 475.8,995.3 481.6,980.7 487.4,967.1 493.2,934.8 499.0,945.7 504.8,935.4 510.6,928.5 516.4,932.2 522.2,939.8 528.0,974.4 533.8,999.0 539.6,1029.6 545.5,1028.0 551.3,1034.8 557.1,1010.5 562.9,1002.7 568.7,1005.4 574.5,991.1 580.3,988.0 586.1,980.9 591.9,971.2 597.7,969.9 603.5,973.8 609.3,977.3 615.1,985.0 620.9,1017.3 626.7,1026.3 632.5,1034.1 638.3,1044.2 644.1,1051.0 649.9,1077.3 655.7,1063.2 661.5,1052.2 667.3,1060.3 673.1,1043.1 678.9,1050.2 684.7,1042.1 690.5,1035.9 696.3,1028.7 702.1,1015.2 707.9,1008.4 713.7,1013.8 719.5,1009.8 725.3,1017.3 731.1,1028.4 736.9,1043.7 742.7,1052.8 748.5,1067.1 754.3,1082.1 760.1,1082.8 765.9,1084.8 771.7,1085.5 777.5,1082.3 783.3,1091.9 789.1,1109.5 794.9,1103.9 800.7,1088.3 806.5,1087.0 812.3,1063.4 818.1,1059.1 823.9,1057.3 829.7,1057.4 835.5,1061.8 841.3,1064.4 847.1,1079.8 852.9,1090.8 858.7,1086.1 864.5,1081.2 870.3,1062.7 876.1,1085.4 881.9,1098.9 887.7,1110.7 893.5,1113.7 899.3,1119.4 905.1,1122.6 910.9,1130.6 916.7,1133.5 922.5,1125.8 928.3,1126.2 934.1,1112.9 939.9,1124.8 945.7,1102.8 951.5,1109.6 957.3,1113.4 963.1,1122.7 968.9,1159.9 974.7,1162.3 980.5,1171.4" fill="none" stroke="#000" stroke-width="3.7" stroke-linejoin="round"/>
<polyline points="110.4,959.4 116.2,974.3 122.0,980.3 127.8,976.9 133.6,972.6 139.4,971.5 145.2,977.6 151.0,985.5 156.8,989.4 162.6,991.8 168.4,995.6 174.2,994.2 180.0,991.5 185.8,1004.5 191.6,1001.4 197.4,1005.2 203.2,1012.6 209.0,1021.0 214.8,994.7 220.6,987.8 226.4,972.4 232.2,984.6 238.0,994.6 243.8,1022.7 249.6,1052.8 255.4,1082.1 261.2,1086.8 267.0,1092.4 272.8,1088.5 278.6,1079.3 284.4,1066.5 290.2,1060.0 296.0,1054.0 301.8,1042.0 307.6,1033.9 313.4,1045.1 319.2,1041.5 325.0,1028.6 330.8,1017.0 336.6,1011.3 342.4,971.4 348.2,939.2 354.0,917.2 359.8,912.0 365.6,905.8 371.4,931.5 377.2,948.8 383.0,995.1 388.8,1019.8 394.6,1050.2 400.4,1056.7 406.2,1058.9 412.0,1046.6 417.8,1044.1 423.6,1053.8 429.4,1086.4 435.2,1093.0 441.0,1088.0 446.8,1080.1 452.6,1073.5 458.4,1055.0 464.2,1048.3 470.0,1037.9 475.8,1030.7 481.6,1034.7 487.4,1047.8 493.2,1043.4 499.0,1041.7 504.8,1030.8 510.6,1031.3 516.4,1036.7 522.2,1032.6 528.0,1039.9 533.8,1036.8 539.6,1047.1 545.5,1038.7 551.3,1038.7 557.1,1038.0 562.9,1025.1 568.7,1009.8 574.5,1004.1 580.3,1010.3 586.1,1016.8 591.9,1016.7 597.7,1025.3 603.5,1037.0 609.3,1047.7 615.1,1055.5 620.9,1058.1 626.7,1068.4 632.5,1082.5 638.3,1075.6 644.1,1068.9 649.9,1044.6 655.7,1029.6 661.5,1009.3 667.3,991.2 673.1,976.2 678.9,965.5 684.7,981.9 690.5,1015.3 696.3,1036.6 702.1,1057.6 707.9,1046.3 713.7,1038.6 719.5,1049.6 725.3,1067.0 731.1,1057.0 736.9,1072.4 742.7,1085.3 748.5,1071.1 754.3,1037.8 760.1,1035.1 765.9,1030.8 771.7,1031.4 777.5,1029.0 783.3,1028.7 789.1,1038.8 794.9,1066.1 800.7,1084.9 806.5,1085.8 812.3,1080.8 818.1,1079.1 823.9,1077.0 829.7,1086.5 835.5,1081.2 841.3,1111.3 847.1,1120.0 852.9,1139.5 858.7,1139.7 864.5,1145.9 870.3,1138.3 876.1,1128.3 881.9,1131.8 887.7,1118.0 893.5,1128.5 899.3,1141.2 905.1,1137.2 910.9,1130.0 916.7,1129.0 922.5,1124.1 928.3,1105.9 934.1,1105.9 939.9,1118.8 945.7,1107.7 951.5,1120.2 957.3,1137.1 963.1,1160.9 968.9,1179.0 974.7,1192.1 980.5,1192.2" fill="none" stroke="#000" stroke-width="3.7" stroke-linejoin="round"/>
<polyline points="110.4,1008.9 116.2,1010.5 122.0,1011.0 127.8,1009.6 133.6,1016.5 139.4,1024.1 145.2,1010.3 151.0,993.1 156.8,979.4 162.6,968.5 168.4,964.5 174.2,975.6 180.0,968.8 185.8,978.9 191.6,983.2 197.4,982.8 203.2,990.6 209.0,997.7 214.8,1017.5 220.6,1023.8 226.4,1016.9 232.2,1009.1 238.0,1017.0 243.8,1035.9 249.6,1054.1 255.4,1055.4 261.2,1059.0 267.0,1054.6 272.8,1047.4 278.6,1030.1 284.4,1025.9 290.2,1015.9 296.0,1021.7 301.8,1043.7 307.6,1060.1 313.4,1063.1 319.2,1055.5 325.0,1061.4 330.8,1058.7 336.6,1078.6 342.4,1094.5 348.2,1098.1 354.0,1077.7 359.8,1075.9 365.6,1061.7 371.4,1028.7 377.2,1028.6 383.0,1026.5 388.8,1018.1 394.6,1007.2 400.4,989.4 406.2,974.5 412.0,964.9 417.8,961.1 423.6,941.4 429.4,968.6 435.2,982.2 441.0,992.4 446.8,994.2 452.6,953.4 458.4,930.7 464.2,942.3 470.0,942.2 475.8,957.9 481.6,991.0 487.4,999.5 493.2,1024.7 499.0,1045.9 504.8,1037.5 510.6,1043.2 516.4,1025.9 522.2,992.7 528.0,964.6 533.8,943.0 539.6,943.7 545.5,952.9 551.3,979.0 557.1,986.9 562.9,1004.9 568.7,994.6 574.5,1007.0 580.3,1024.2 586.1,1037.0 591.9,1056.1 597.7,1075.6 603.5,1080.1 609.3,1071.1 615.1,1050.1 620.9,1049.2 626.7,1027.4 632.5,1013.9 638.3,1012.6 644.1,1018.4 649.9,1017.9 655.7,1026.2 661.5,1039.4 667.3,1038.1 673.1,1040.3 678.9,1045.7 684.7,1031.6 690.5,1041.0 696.3,1045.2 702.1,1055.5 707.9,1080.0 713.7,1092.2 719.5,1106.0 725.3,1106.4 731.1,1115.3 736.9,1091.2 742.7,1062.5 748.5,1021.9 754.3,1019.2 760.1,1008.9 765.9,1021.5 771.7,1044.4 777.5,1074.8 783.3,1089.0 789.1,1086.3 794.9,1091.2 800.7,1085.0 806.5,1080.3 812.3,1071.6 818.1,1086.6 823.9,1096.7 829.7,1101.7 835.5,1108.6 841.3,1083.0 847.1,1088.6 852.9,1095.9 858.7,1112.9 864.5,1118.0 870.3,1133.8 876.1,1152.1 881.9,1150.3 887.7,1129.0 893.5,1109.1 899.3,1107.9 905.1,1103.5 910.9,1103.3 916.7,1113.9 922.5,1121.1 928.3,1117.9 934.1,1125.3 939.9,1135.8 945.7,1142.5 951.5,1158.9 957.3,1187.5 963.1,1196.1 968.9,1202.8 974.7,1206.3 980.5,1210.3" fill="none" stroke="#000" stroke-width="3.7" stroke-linejoin="round"/>
<polyline points="110.4,1138.3 116.2,1091.9 122.0,1046.6 127.8,1014.4 133.6,1022.9 139.4,1028.5 145.2,1015.5 151.0,1024.8 156.8,998.7 162.6,979.4 168.4,966.4 174.2,971.6 180.0,976.1 185.8,981.0 191.6,984.8 197.4,984.7 203.2,974.7 209.0,964.5 214.8,952.6 220.6,935.3 226.4,926.0 232.2,943.0 238.0,954.9 243.8,984.7 249.6,1007.8 255.4,1028.7 261.2,1045.2 267.0,1052.1 272.8,1068.1 278.6,1074.3 284.4,1085.9 290.2,1072.8 296.0,1061.6 301.8,1059.7 307.6,1077.6 313.4,1094.4 319.2,1103.7 325.0,1090.9 330.8,1090.0 336.6,1059.6 342.4,1049.6 348.2,1042.6 354.0,1066.8 359.8,1078.8 365.6,1057.9 371.4,1050.4 377.2,1026.9 383.0,1000.9 388.8,993.9 394.6,1001.8 400.4,1011.8 406.2,1036.0 412.0,1036.5 417.8,1035.4 423.6,1018.7 429.4,1004.4 435.2,993.9 441.0,979.5 446.8,995.6 452.6,994.2 458.4,1012.8 464.2,1025.5 470.0,1049.0 475.8,1061.2 481.6,1072.2 487.4,1069.4 493.2,1060.9 499.0,1073.5 504.8,1078.2 510.6,1055.8 516.4,1043.7 522.2,1032.0 528.0,1037.8 533.8,1024.7 539.6,1034.6 545.5,1011.9 551.3,1003.8 557.1,1007.3 562.9,1006.4 568.7,1005.9 574.5,1015.1 580.3,1026.9 586.1,1048.0 591.9,1034.9 597.7,1043.1 603.5,1034.9 609.3,1033.2 615.1,1022.2 620.9,1031.6 626.7,1035.8 632.5,1041.1 638.3,1043.9 644.1,1055.0 649.9,1054.9 655.7,1043.4 661.5,1029.0 667.3,1009.3 673.1,1015.6 678.9,1019.7 684.7,1019.9 690.5,1043.1 696.3,1056.2 702.1,1051.8 707.9,1038.3 713.7,1038.8 719.5,1028.9 725.3,1015.0 731.1,1019.3 736.9,1007.7 742.7,1012.4 748.5,1020.6 754.3,1028.7 760.1,1025.6 765.9,1036.8 771.7,1042.1 777.5,1053.8 783.3,1057.5 789.1,1062.8 794.9,1051.7 800.7,1063.2 806.5,1058.2 812.3,1068.4 818.1,1076.2 823.9,1087.1 829.7,1088.5 835.5,1109.8 841.3,1121.9 847.1,1121.1 852.9,1141.2 858.7,1134.8 864.5,1137.2 870.3,1115.2 876.1,1099.4 881.9,1081.7 887.7,1073.7 893.5,1098.3 899.3,1097.1 905.1,1133.6 910.9,1140.7 916.7,1160.0 922.5,1158.6 928.3,1152.9 934.1,1144.3 939.9,1141.5 945.7,1154.7 951.5,1165.5 957.3,1181.0 963.1,1186.2 968.9,1186.7 974.7,1192.8 980.5,1192.0" fill="none" stroke="#000" stroke-width="3.7" stroke-linejoin="round"/>
<polyline points="110.4,1023.8 116.2,1017.5 122.0,1018.4 127.8,1025.2 133.6,1043.6 139.4,1055.1 145.2,1060.3 151.0,1071.2 156.8,1064.5 162.6,1045.2 168.4,1022.1 174.2,1028.3 180.0,1003.4 185.8,972.7 191.6,957.9 197.4,952.4 203.2,950.4 209.0,961.1 214.8,989.0 220.6,1014.8 226.4,1038.4 232.2,1045.1 238.0,1057.9 243.8,1057.7 249.6,1067.7 255.4,1071.4 261.2,1059.7 267.0,1054.5 272.8,1051.9 278.6,1061.8 284.4,1055.2 290.2,1049.1 296.0,1050.7 301.8,1053.1 307.6,1056.9 313.4,1050.1 319.2,1035.5 325.0,1024.5 330.8,1004.8 336.6,979.2 342.4,952.7 348.2,949.9 354.0,935.1 359.8,955.3 365.6,976.7 371.4,996.8 377.2,994.4 383.0,996.8 388.8,1011.6 394.6,990.6 400.4,1021.8 406.2,1014.2 412.0,1023.5 417.8,1016.6 423.6,1002.1 429.4,999.7 435.2,991.9 441.0,1003.5 446.8,1013.6 452.6,1013.2 458.4,1018.0 464.2,1029.8 470.0,1028.8 475.8,1023.3 481.6,1020.0 487.4,1016.0 493.2,1004.2 499.0,1003.6 504.8,992.8 510.6,972.1 516.4,983.7 522.2,991.0 528.0,996.5 533.8,1007.4 539.6,1005.8 545.5,988.4 551.3,983.6 557.1,991.6 562.9,983.5 568.7,984.9 574.5,971.3 580.3,957.3 586.1,941.7 591.9,955.2 597.7,947.5 603.5,957.2 609.3,961.0 615.1,976.7 620.9,997.1 626.7,1007.3 632.5,1027.8 638.3,1038.4 644.1,1049.8 649.9,1060.7 655.7,1073.1 661.5,1066.9 667.3,1047.3 673.1,1050.1 678.9,1050.0 684.7,1066.1 690.5,1059.7 696.3,1071.9 702.1,1072.9 707.9,1078.7 713.7,1084.0 719.5,1089.4 725.3,1086.8 731.1,1071.9 736.9,1062.1 742.7,1059.6 748.5,1076.3 754.3,1076.8 760.1,1105.9 765.9,1106.1 771.7,1099.1 777.5,1100.0 783.3,1097.1 789.1,1096.7 794.9,1106.7 800.7,1117.3 806.5,1124.5 812.3,1129.9 818.1,1128.9 823.9,1129.0 829.7,1134.3 835.5,1122.8 841.3,1110.9 847.1,1104.3 852.9,1101.4 858.7,1119.5 864.5,1107.1 870.3,1116.3 876.1,1114.9 881.9,1106.0 887.7,1117.6 893.5,1124.8 899.3,1125.6 905.1,1141.8 910.9,1119.5 916.7,1122.7 922.5,1107.7 928.3,1110.2 934.1,1103.6 939.9,1102.0 945.7,1099.2 951.5,1111.3 957.3,1119.4 963.1,1128.0 968.9,1135.1 974.7,1142.3 980.5,1148.2" fill="none" stroke="#000" stroke-width="3.7" stroke-linejoin="round"/>
<polyline points="110.4,959.1 116.2,978.5 122.0,998.8 127.8,1015.5 133.6,1017.2 139.4,1012.9 145.2,1000.8 151.0,1002.4 156.8,1004.0 162.6,1024.2 168.4,1019.5 174.2,1012.6 180.0,1011.5 185.8,1002.3 191.6,973.2 197.4,966.5 203.2,962.6 209.0,972.9 214.8,971.4 220.6,993.1 226.4,995.3 232.2,1015.9 238.0,1017.7 243.8,1013.2 249.6,1001.8 255.4,1016.1 261.2,1015.1 267.0,1001.2 272.8,1016.4 278.6,1023.9 284.4,1019.5 290.2,1025.9 296.0,1028.4 301.8,1026.6 307.6,1027.4 313.4,1050.5 319.2,1058.7 325.0,1063.2 330.8,1055.5 336.6,1069.9 342.4,1062.6 348.2,1070.2 354.0,1057.5 359.8,1059.1 365.6,1055.8 371.4,1033.9 377.2,1010.5 383.0,993.3 388.8,996.8 394.6,997.6 400.4,1013.6 406.2,1024.9 412.0,1037.2 417.8,1066.8 423.6,1057.9 429.4,1046.8 435.2,1019.3 441.0,1023.1 446.8,1006.9 452.6,1002.1 458.4,1008.1 464.2,1017.0 470.0,1017.6 475.8,1035.7 481.6,1035.3 487.4,1030.9 493.2,1029.8 499.0,1019.8 504.8,1039.5 510.6,1037.6 516.4,1036.0 522.2,1041.3 528.0,1030.1 533.8,1023.9 539.6,1033.7 545.5,1041.0 551.3,1029.0 557.1,1028.7 562.9,1037.0 568.7,1045.2 574.5,1045.3 580.3,1050.8 586.1,1065.3 591.9,1050.9 597.7,1029.9 603.5,1037.3 609.3,1026.3 615.1,1018.9 620.9,1026.8 626.7,1025.5 632.5,1034.6 638.3,1046.9 644.1,1059.0 649.9,1066.4 655.7,1083.0 661.5,1093.8 667.3,1085.9 673.1,1091.7 678.9,1076.3 684.7,1057.0 690.5,1041.2 696.3,1028.2 702.1,1032.7 707.9,1020.5 713.7,1036.0 719.5,1064.6 725.3,1076.1 731.1,1089.6 736.9,1098.6 742.7,1094.4 748.5,1100.6 754.3,1127.7 760.1,1140.2 765.9,1139.8 771.7,1141.8 777.5,1119.1 783.3,1119.0 789.1,1102.6 794.9,1094.6 800.7,1089.1 806.5,1084.6 812.3,1088.0 818.1,1088.4 823.9,1091.3 829.7,1100.8 835.5,1096.4 841.3,1094.7 847.1,1086.8 852.9,1076.9 858.7,1075.6 864.5,1076.4 870.3,1082.6 876.1,1082.2 881.9,1089.2 887.7,1093.5 893.5,1114.9 899.3,1118.1 905.1,1126.5 910.9,1138.6 916.7,1157.9 922.5,1158.0 928.3,1171.6 934.1,1160.4 939.9,1144.5 945.7,1118.4 951.5,1107.3 957.3,1089.1 963.1,1105.3 968.9,1122.8 974.7,1144.0 980.5,1162.6" fill="none" stroke="#000" stroke-width="3.7" stroke-linejoin="round"/>
<polyline points="110.4,1011.0 116.2,1005.7 122.0,1021.5 127.8,1013.8 133.6,1042.8 139.4,1038.5 145.2,1034.2 151.0,1023.8 156.8,1016.4 162.6,1005.5 168.4,1005.4 174.2,983.1 180.0,983.5 185.8,978.8 191.6,971.0 197.4,974.0 203.2,974.9 209.0,962.2 214.8,963.5 220.6,963.1 226.4,962.0 232.2,970.4 238.0,978.4 243.8,987.3 249.6,999.5 255.4,999.6 261.2,996.7 267.0,999.2 272.8,1001.4 278.6,1023.4 284.4,1035.0 290.2,1049.2 296.0,1058.5 301.8,1067.0 307.6,1048.0 313.4,1037.2 319.2,1039.9 325.0,1039.8 330.8,1028.5 336.6,1029.2 342.4,1041.8 348.2,1041.0 354.0,1061.4 359.8,1057.8 365.6,1054.4 371.4,1059.3 377.2,1043.9 383.0,1039.2 388.8,1023.3 394.6,1015.5 400.4,1038.2 406.2,1020.8 412.0,995.4 417.8,998.9 423.6,990.0 429.4,986.1 435.2,995.2 441.0,990.0 446.8,984.5 452.6,983.8 458.4,977.1 464.2,986.1 470.0,991.0 475.8,993.6 481.6,996.2 487.4,992.5 493.2,988.1 499.0,998.5 504.8,996.5 510.6,1004.7 516.4,995.3 522.2,994.9 528.0,987.4 533.8,991.8 539.6,994.0 545.5,1024.0 551.3,1041.1 557.1,1066.1 562.9,1068.3 568.7,1061.7 574.5,1062.7 580.3,1039.0 586.1,1039.3 591.9,1042.7 597.7,1026.2 603.5,1027.4 609.3,1015.8 615.1,1006.1 620.9,1007.1 626.7,1008.0 632.5,1034.5 638.3,1039.2 644.1,1045.5 649.9,1024.6 655.7,1016.2 661.5,995.1 667.3,1010.7 673.1,1030.3 678.9,1033.5 684.7,1042.5 690.5,1050.6 696.3,1036.0 702.1,1030.0 707.9,1021.7 713.7,1023.4 719.5,1007.6 725.3,1009.9 731.1,996.0 736.9,999.7 742.7,1015.8 748.5,1037.7 754.3,1063.2 760.1,1074.8 765.9,1096.0 771.7,1108.9 777.5,1111.3 783.3,1133.9 789.1,1120.3 794.9,1115.2 800.7,1121.0 806.5,1111.6 812.3,1098.6 818.1,1104.1 823.9,1103.0 829.7,1101.5 835.5,1116.1 841.3,1112.9 847.1,1133.6 852.9,1117.5 858.7,1116.5 864.5,1112.6 870.3,1134.1 876.1,1121.6 881.9,1105.2 887.7,1105.8 893.5,1116.0 899.3,1104.5 905.1,1125.3 910.9,1145.2 916.7,1160.2 922.5,1175.0 928.3,1178.6 934.1,1177.7 939.9,1181.1 945.7,1177.5 951.5,1177.1 957.3,1176.6 963.1,1194.3 968.9,1206.9 974.7,1201.9 980.5,1193.7" fill="none" stroke="#000" stroke-width="3.7" stroke-linejoin="round"/>
<polyline points="110.4,1010.4 116.2,1002.7 122.0,977.1 127.8,990.2 133.6,987.7 139.4,1010.6 145.2,1003.0 151.0,1007.3 156.8,1026.7 162.6,1031.4 168.4,1043.2 174.2,1027.3 180.0,1027.5 185.8,1003.4 191.6,975.1 197.4,980.7 203.2,945.0 209.0,921.0 214.8,911.9 220.6,921.7 226.4,935.0 232.2,952.6 238.0,985.1 243.8,1011.4 249.6,1042.3 255.4,1062.4 261.2,1050.4 267.0,1036.9 272.8,1013.6 278.6,1004.6 284.4,992.3 290.2,992.2 296.0,1004.3 301.8,1014.7 307.6,1030.5 313.4,1046.9 319.2,1050.1 325.0,1056.7 330.8,1055.8 336.6,1050.2 342.4,1044.9 348.2,1040.0 354.0,1037.7 359.8,1038.3 365.6,1030.2 371.4,1015.7 377.2,1020.8 383.0,1027.8 388.8,1024.1 394.6,1027.7 400.4,1039.7 406.2,1052.1 412.0,1063.3 417.8,1077.1 423.6,1071.2 429.4,1053.7 435.2,1033.0 441.0,1022.9 446.8,1012.2 452.6,991.9 458.4,990.9 464.2,989.0 470.0,967.9 475.8,958.0 481.6,975.3 487.4,980.1 493.2,995.8 499.0,991.7 504.8,1008.0 510.6,993.7 516.4,991.4 522.2,1000.8 528.0,1013.4 533.8,1016.9 539.6,1028.9 545.5,1040.2 551.3,1035.0 557.1,1041.0 562.9,1038.9 568.7,1029.1 574.5,1028.1 580.3,1033.8 586.1,1023.4 591.9,1010.6 597.7,997.9 603.5,1022.0 609.3,1023.2 615.1,1031.1 620.9,1029.5 626.7,1016.5 632.5,1013.5 638.3,1023.9 644.1,1031.2 649.9,1052.8 655.7,1051.2 661.5,1061.9 667.3,1048.1 673.1,1030.1 678.9,1028.0 684.7,1028.5 690.5,1032.5 696.3,1041.0 702.1,1060.3 707.9,1079.7 713.7,1108.4 719.5,1110.8 725.3,1101.6 731.1,1105.1 736.9,1094.6 742.7,1097.4 748.5,1090.4 754.3,1096.9 760.1,1079.5 765.9,1081.7 771.7,1078.0 777.5,1087.9 783.3,1102.9 789.1,1099.7 794.9,1123.5 800.7,1127.8 806.5,1134.9 812.3,1124.0 818.1,1119.7 823.9,1109.0 829.7,1105.6 835.5,1089.2 841.3,1104.5 847.1,1107.3 852.9,1124.0 858.7,1119.9 864.5,1111.4 870.3,1118.8 876.1,1127.9 881.9,1115.1 887.7,1125.2 893.5,1115.7 899.3,1110.5 905.1,1108.7 910.9,1115.6 916.7,1109.9 922.5,1103.5 928.3,1120.5 934.1,1126.8 939.9,1151.6 945.7,1173.8 951.5,1188.1 957.3,1208.7 963.1,1203.1 968.9,1206.6 974.7,1196.2 980.5,1195.1" fill="none" stroke="#000" stroke-width="3.7" stroke-linejoin="round"/>
<polyline points="110.4,1035.4 116.2,1040.8 122.0,1028.7 127.8,1045.3 133.6,1064.2 139.4,1050.9 145.2,1040.1 151.0,1011.3 156.8,984.9 162.6,952.4 168.4,936.7 174.2,942.0 180.0,962.3 185.8,971.8 191.6,978.6 197.4,1002.4 203.2,1023.4 209.0,1037.6 214.8,1070.5 220.6,1061.6 226.4,1036.0 232.2,1007.3 238.0,981.3 243.8,985.3 249.6,980.3 255.4,1012.3 261.2,1045.8 267.0,1055.8 272.8,1066.3 278.6,1052.9 284.4,1062.0 290.2,1061.3 296.0,1060.3 301.8,1080.8 307.6,1097.5 313.4,1100.1 319.2,1081.1 325.0,1052.0 330.8,1020.9 336.6,978.7 342.4,962.3 348.2,962.8 354.0,982.4 359.8,986.2 365.6,1009.2 371.4,1019.7 377.2,1010.7 383.0,1023.3 388.8,1023.0 394.6,1030.0 400.4,1041.3 406.2,1046.6 412.0,1047.5 417.8,1051.4 423.6,1066.2 429.4,1059.3 435.2,1049.6 441.0,1036.4 446.8,1027.6 452.6,1016.6 458.4,1009.0 464.2,1003.1 470.0,999.3 475.8,1003.1 481.6,1005.3 487.4,1006.0 493.2,1019.0 499.0,1024.4 504.8,1018.8 510.6,1008.9 516.4,996.3 522.2,996.1 528.0,1000.7 533.8,1022.6 539.6,1028.0 545.5,1040.6 551.3,1046.0 557.1,1025.6 562.9,1014.7 568.7,998.6 574.5,998.5 580.3,980.9 586.1,971.2 591.9,955.1 597.7,961.1 603.5,984.3 609.3,993.9 615.1,1023.0 620.9,1048.1 626.7,1068.6 632.5,1085.9 638.3,1072.7 644.1,1073.5 649.9,1060.5 655.7,1067.3 661.5,1072.8 667.3,1060.8 673.1,1050.8 678.9,1052.3 684.7,1040.4 690.5,1048.6 696.3,1037.7 702.1,1031.3 707.9,1036.8 713.7,1028.8 719.5,1046.1 725.3,1061.5 731.1,1050.7 736.9,1057.1 742.7,1036.1 748.5,1039.9 754.3,1037.1 760.1,1050.9 765.9,1068.3 771.7,1074.5 777.5,1085.8 783.3,1100.1 789.1,1088.1 794.9,1074.2 800.7,1078.8 806.5,1085.5 812.3,1077.7 818.1,1083.6 823.9,1096.4 829.7,1097.4 835.5,1092.5 841.3,1095.5 847.1,1088.8 852.9,1091.0 858.7,1069.2 864.5,1052.1 870.3,1058.1 876.1,1069.9 881.9,1080.6 887.7,1110.8 893.5,1139.3 899.3,1140.9 905.1,1157.4 910.9,1142.1 916.7,1144.4 922.5,1160.9 928.3,1172.8 934.1,1173.0 939.9,1176.9 945.7,1177.1 951.5,1175.1 957.3,1175.2 963.1,1177.9 968.9,1186.2 974.7,1186.9 980.5,1183.8" fill="none" stroke="#000" stroke-width="3.7" stroke-linejoin="round"/>
<polyline points="110.4,1021.0 116.2,1032.6 122.0,1032.7 127.8,1034.7 133.6,1048.9 139.4,1055.1 145.2,1022.9 151.0,1006.3 156.8,989.1 162.6,970.2 168.4,958.4 174.2,953.5 180.0,968.3 185.8,975.7 191.6,971.4 197.4,977.6 203.2,969.9 209.0,964.7 214.8,974.2 220.6,961.8 226.4,956.3 232.2,960.7 238.0,969.5 243.8,970.8 249.6,988.4 255.4,996.8 261.2,1003.5 267.0,1009.8 272.8,1017.0 278.6,1027.3 284.4,1043.8 290.2,1045.0 296.0,1043.0 301.8,1052.0 307.6,1057.5 313.4,1062.0 319.2,1070.2 325.0,1065.6 330.8,1066.3 336.6,1055.9 342.4,1049.3 348.2,1035.6 354.0,1031.5 359.8,1015.3 365.6,992.1 371.4,1002.7 377.2,978.4 383.0,992.3 388.8,990.2 394.6,998.6 400.4,1019.6 406.2,1033.9 412.0,1033.6 417.8,1051.1 423.6,1036.8 429.4,1028.7 435.2,1024.4 441.0,1028.8 446.8,1017.7 452.6,1006.5 458.4,1001.0 464.2,987.3 470.0,983.9 475.8,979.3 481.6,1004.0 487.4,1020.3 493.2,1038.1 499.0,1050.8 504.8,1055.8 510.6,1062.2 516.4,1067.4 522.2,1066.2 528.0,1062.5 533.8,1060.3 539.6,1060.3 545.5,1050.0 551.3,1051.3 557.1,1039.7 562.9,1032.8 568.7,1019.0 574.5,1005.6 580.3,1006.2 586.1,995.2 591.9,1028.0 597.7,1041.8 603.5,1070.6 609.3,1071.4 615.1,1063.4 620.9,1045.4 626.7,1027.9 632.5,1026.5 638.3,1005.5 644.1,1008.1 649.9,1007.9 655.7,1005.6 661.5,996.8 667.3,1002.5 673.1,1015.5 678.9,1033.7 684.7,1039.3 690.5,1050.9 696.3,1072.1 702.1,1071.3 707.9,1064.9 713.7,1071.0 719.5,1075.7 725.3,1084.4 731.1,1102.4 736.9,1106.8 742.7,1110.3 748.5,1097.7 754.3,1100.1 760.1,1091.2 765.9,1072.5 771.7,1062.4 777.5,1050.5 783.3,1053.4 789.1,1062.0 794.9,1078.0 800.7,1105.8 806.5,1114.3 812.3,1122.8 818.1,1114.2 823.9,1097.7 829.7,1107.4 835.5,1090.8 841.3,1104.1 847.1,1107.6 852.9,1095.8 858.7,1087.1 864.5,1090.8 870.3,1110.7 876.1,1116.8 881.9,1131.8 887.7,1145.6 893.5,1160.0 899.3,1180.6 905.1,1185.6 910.9,1193.1 916.7,1189.4 922.5,1187.4 928.3,1159.5 934.1,1162.6 939.9,1156.1 945.7,1159.2 951.5,1158.2 957.3,1152.1 963.1,1161.6 968.9,1171.7 974.7,1182.9 980.5,1201.6" fill="none" stroke="#000" stroke-width="3.7" stroke-linejoin="round"/>
<polyline points="110.4,1037.6 116.2,1024.3 122.0,1016.4 127.8,1001.0 133.6,1013.4 139.4,1029.7 145.2,1057.2 151.0,1073.1 156.8,1075.0 162.6,1064.7 168.4,1023.8 174.2,1003.2 180.0,969.7 185.8,972.7 191.6,971.8 197.4,961.9 203.2,977.3 209.0,982.2 214.8,985.6 220.6,994.3 226.4,1009.1 232.2,1021.5 238.0,1019.8 243.8,1028.6 249.6,1043.7 255.4,1045.5 261.2,1048.6 267.0,1053.5 272.8,1059.1 278.6,1050.3 284.4,1059.0 290.2,1057.3 296.0,1051.6 301.8,1062.9 307.6,1045.4 313.4,1040.0 319.2,1041.1 325.0,1028.5 330.8,1035.4 336.6,1023.6 342.4,1031.5 348.2,1028.8 354.0,1041.6 359.8,1054.8 365.6,1053.3 371.4,1051.9 377.2,1040.7 383.0,1041.7 388.8,1039.8 394.6,1033.8 400.4,1024.4 406.2,1004.7 412.0,1003.2 417.8,980.4 423.6,976.4 429.4,965.7 435.2,956.4 441.0,959.6 446.8,960.6 452.6,981.0 458.4,1003.8 464.2,1011.9 470.0,1034.8 475.8,1048.7 481.6,1063.1 487.4,1067.6 493.2,1093.0 499.0,1067.2 504.8,1050.6 510.6,1035.4 516.4,1018.2 522.2,1020.3 528.0,1029.3 533.8,1004.4 539.6,1004.0 545.5,996.7 551.3,987.1 557.1,984.0 562.9,974.5 568.7,979.0 574.5,996.6 580.3,1008.6 586.1,1032.5 591.9,1051.0 597.7,1057.8 603.5,1067.9 609.3,1071.9 615.1,1053.4 620.9,1040.0 626.7,1033.2 632.5,1026.6 638.3,1030.5 644.1,1042.4 649.9,1047.0 655.7,1068.1 661.5,1052.9 667.3,1055.0 673.1,1043.6 678.9,1028.7 684.7,1015.7 690.5,1012.1 696.3,998.1 702.1,998.6 707.9,999.3 713.7,1012.3 719.5,1016.8 725.3,1029.8 731.1,1044.7 736.9,1050.2 742.7,1042.0 748.5,1041.6 754.3,1042.8 760.1,1044.9 765.9,1056.2 771.7,1052.4 777.5,1064.7 783.3,1067.2 789.1,1063.8 794.9,1065.2 800.7,1064.1 806.5,1069.2 812.3,1056.5 818.1,1068.3 823.9,1070.7 829.7,1097.9 835.5,1125.0 841.3,1132.2 847.1,1131.2 852.9,1112.3 858.7,1122.0 864.5,1111.0 870.3,1132.2 876.1,1126.0 881.9,1120.4 887.7,1133.2 893.5,1145.2 899.3,1163.3 905.1,1156.9 910.9,1163.2 916.7,1144.2 922.5,1138.9 928.3,1127.2 934.1,1119.8 939.9,1091.2 945.7,1093.9 951.5,1093.5 957.3,1127.0 963.1,1140.8 968.9,1174.9 974.7,1186.0 980.5,1212.4" fill="none" stroke="#000" stroke-width="3.7" stroke-linejoin="round"/>
<polyline points="110.4,1032.8 116.2,1035.8 122.0,1027.1 127.8,1036.5 133.6,1057.1 139.4,1057.5 145.2,1064.7 151.0,1042.3 156.8,1019.8 162.6,1000.2 168.4,978.3 174.2,979.8 180.0,980.5 185.8,980.9 191.6,991.2 197.4,982.9 203.2,982.2 209.0,1011.6 214.8,1001.7 220.6,1010.5 226.4,1020.9 232.2,1007.0 238.0,1013.9 243.8,1005.8 249.6,1007.9 255.4,1000.5 261.2,995.4 267.0,979.1 272.8,968.9 278.6,962.7 284.4,961.4 290.2,976.9 296.0,989.6 301.8,1001.2 307.6,1027.3 313.4,1032.7 319.2,1039.0 325.0,1030.8 330.8,1031.7 336.6,1024.1 342.4,1021.6 348.2,1026.9 354.0,1036.6 359.8,1057.3 365.6,1080.3 371.4,1071.7 377.2,1069.0 383.0,1058.9 388.8,1032.1 394.6,1028.6 400.4,1015.0 406.2,1030.9 412.0,1047.7 417.8,1049.2 423.6,1065.4 429.4,1053.6 435.2,1056.0 441.0,1043.8 446.8,1044.8 452.6,1046.1 458.4,1062.5 464.2,1067.1 470.0,1067.5 475.8,1055.6 481.6,1034.7 487.4,1011.2 493.2,986.1 499.0,997.4 504.8,989.6 510.6,990.7 516.4,996.5 522.2,1003.9 528.0,997.0 533.8,1016.1 539.6,1027.3 545.5,1033.5 551.3,1044.5 557.1,1039.6 562.9,1017.8 568.7,1009.8 574.5,1016.3 580.3,1031.9 586.1,1019.3 591.9,1015.3 597.7,1012.4 603.5,1002.5 609.3,983.2 615.1,976.7 620.9,982.9 626.7,984.9 632.5,986.4 638.3,1001.8 644.1,1008.9 649.9,1012.3 655.7,1017.7 661.5,1024.5 667.3,1018.3 673.1,1032.2 678.9,1028.7 684.7,1044.3 690.5,1051.4 696.3,1079.4 702.1,1067.9 707.9,1077.5 713.7,1077.9 719.5,1073.2 725.3,1068.4 731.1,1049.3 736.9,1040.7 742.7,1058.2 748.5,1069.3 754.3,1085.4 760.1,1096.5 765.9,1098.3 771.7,1100.3 777.5,1093.6 783.3,1063.3 789.1,1068.4 794.9,1056.5 800.7,1048.9 806.5,1049.7 812.3,1047.2 818.1,1060.0 823.9,1052.8 829.7,1068.6 835.5,1070.2 841.3,1057.1 847.1,1061.7 852.9,1052.6 858.7,1058.0 864.5,1064.3 870.3,1086.9 876.1,1097.4 881.9,1135.8 887.7,1146.9 893.5,1155.9 899.3,1148.3 905.1,1161.4 910.9,1157.2 916.7,1139.6 922.5,1141.7 928.3,1144.0 934.1,1144.9 939.9,1148.6 945.7,1153.1 951.5,1162.1 957.3,1171.2 963.1,1184.0 968.9,1196.4 974.7,1204.5 980.5,1209.2" fill="none" stroke="#000" stroke-width="3.7" stroke-linejoin="round"/>
<polyline points="110.4,977.4 116.2,989.7 122.0,989.0 127.8,999.3 133.6,1007.4 139.4,1020.7 145.2,1033.7 151.0,1035.8 156.8,1035.8 162.6,1044.1 168.4,1039.5 174.2,1040.2 180.0,1042.6 185.8,1036.9 191.6,1040.5 197.4,1030.9 203.2,1023.5 209.0,1030.6 214.8,1016.5 220.6,1009.9 226.4,985.5 232.2,996.3 238.0,1002.2 243.8,1009.4 249.6,999.6 255.4,989.5 261.2,977.5 267.0,995.4 272.8,1019.8 278.6,1050.7 284.4,1063.5 290.2,1057.1 296.0,1048.6 301.8,1031.0 307.6,1012.0 313.4,998.8 319.2,982.6 325.0,979.5 330.8,1005.0 336.6,1016.8 342.4,1015.8 348.2,1011.9 354.0,1002.4 359.8,1013.2 365.6,1014.3 371.4,1021.5 377.2,1017.3 383.0,997.9 388.8,967.4 394.6,950.6 400.4,932.2 406.2,925.9 412.0,924.5 417.8,942.8 423.6,980.7 429.4,1008.8 435.2,1021.8 441.0,1051.9 446.8,1066.3 452.6,1056.1 458.4,1047.9 464.2,1040.9 470.0,1036.0 475.8,1015.3 481.6,1005.4 487.4,1000.1 493.2,1007.4 499.0,1009.8 504.8,1010.4 510.6,1015.1 516.4,1025.9 522.2,1018.6 528.0,1005.3 533.8,998.2 539.6,1002.2 545.5,989.8 551.3,998.9 557.1,989.0 562.9,1006.1 568.7,1005.3 574.5,1011.0 580.3,1011.0 586.1,1020.6 591.9,1026.2 597.7,1014.6 603.5,1018.8 609.3,1028.6 615.1,1043.8 620.9,1032.4 626.7,1009.6 632.5,993.1 638.3,983.7 644.1,970.1 649.9,972.1 655.7,971.0 661.5,982.0 667.3,999.4 673.1,1001.1 678.9,1007.8 684.7,1011.5 690.5,1015.5 696.3,1031.3 702.1,1046.0 707.9,1067.6 713.7,1074.2 719.5,1063.4 725.3,1058.9 731.1,1059.9 736.9,1056.2 742.7,1060.2 748.5,1050.6 754.3,1059.8 760.1,1059.6 765.9,1052.0 771.7,1038.3 777.5,1044.9 783.3,1037.3 789.1,1051.4 794.9,1062.4 800.7,1081.4 806.5,1088.5 812.3,1093.3 818.1,1113.6 823.9,1113.8 829.7,1110.0 835.5,1104.3 841.3,1079.6 847.1,1083.2 852.9,1081.6 858.7,1095.9 864.5,1108.5 870.3,1120.8 876.1,1113.0 881.9,1125.1 887.7,1129.1 893.5,1141.6 899.3,1150.4 905.1,1144.1 910.9,1160.7 916.7,1153.8 922.5,1152.6 928.3,1157.3 934.1,1152.5 939.9,1152.6 945.7,1163.4 951.5,1160.2 957.3,1171.1 963.1,1172.1 968.9,1169.3 974.7,1168.2 980.5,1164.4" fill="none" stroke="#000" stroke-width="3.7" stroke-linejoin="round"/>
<polyline points="110.4,1011.7 116.2,1011.1 122.0,1013.0 127.8,998.7 133.6,979.4 139.4,953.5 145.2,929.9 151.0,934.9 156.8,946.8 162.6,947.6 168.4,967.3 174.2,994.2 180.0,1018.8 185.8,1030.0 191.6,1036.5 197.4,1021.1 203.2,1040.0 209.0,1032.4 214.8,1033.4 220.6,1045.0 226.4,1057.2 232.2,1063.4 238.0,1076.0 243.8,1090.3 249.6,1085.8 255.4,1086.0 261.2,1083.7 267.0,1061.8 272.8,1050.0 278.6,1051.6 284.4,1045.8 290.2,1020.4 296.0,1026.9 301.8,1025.1 307.6,1025.4 313.4,1019.7 319.2,1030.1 325.0,1035.0 330.8,1028.3 336.6,1023.2 342.4,1022.5 348.2,1016.7 354.0,1027.0 359.8,1020.8 365.6,1019.9 371.4,1026.2 377.2,1025.4 383.0,1035.4 388.8,1042.1 394.6,1045.2 400.4,1039.9 406.2,1040.3 412.0,1013.9 417.8,1006.2 423.6,984.9 429.4,996.7 435.2,1020.1 441.0,1042.7 446.8,1058.6 452.6,1077.1 458.4,1067.3 464.2,1069.7 470.0,1074.6 475.8,1061.7 481.6,1039.2 487.4,1040.3 493.2,1046.1 499.0,1042.8 504.8,1049.8 510.6,1050.4 516.4,1055.9 522.2,1064.5 528.0,1064.8 533.8,1059.1 539.6,1046.1 545.5,1020.6 551.3,1014.4 557.1,1000.0 562.9,990.1 568.7,996.3 574.5,995.0 580.3,1004.8 586.1,999.1 591.9,985.6 597.7,992.9 603.5,996.9 609.3,1010.4 615.1,1008.0 620.9,1019.9 626.7,1012.0 632.5,1014.5 638.3,1035.1 644.1,1041.7 649.9,1047.8 655.7,1049.4 661.5,1042.9 667.3,1043.8 673.1,1030.4 678.9,1023.9 684.7,1022.6 690.5,1007.5 696.3,1026.6 702.1,1007.1 707.9,1029.3 713.7,1037.7 719.5,1057.8 725.3,1080.4 731.1,1092.6 736.9,1097.9 742.7,1103.3 748.5,1089.0 754.3,1092.0 760.1,1100.1 765.9,1085.4 771.7,1092.3 777.5,1062.7 783.3,1077.4 789.1,1077.0 794.9,1096.6 800.7,1114.3 806.5,1125.0 812.3,1107.7 818.1,1099.8 823.9,1100.3 829.7,1087.8 835.5,1110.3 841.3,1115.3 847.1,1121.8 852.9,1113.7 858.7,1121.2 864.5,1136.1 870.3,1138.7 876.1,1157.5 881.9,1148.9 887.7,1142.9 893.5,1137.0 899.3,1128.5 905.1,1117.7 910.9,1103.6 916.7,1107.8 922.5,1122.1 928.3,1131.4 934.1,1136.3 939.9,1148.3 945.7,1143.9 951.5,1140.4 957.3,1162.0 963.1,1180.5 968.9,1201.7 974.7,1227.8 980.5,1223.3" fill="none" stroke="#000" stroke-width="3.7" stroke-linejoin="round"/>
<polyline points="110.4,962.0 116.2,972.7 122.0,976.8 127.8,990.0 133.6,1018.6 139.4,1019.6 145.2,1018.3 151.0,1018.0 156.8,989.7 162.6,983.7 168.4,969.1 174.2,971.5 180.0,953.4 185.8,965.8 191.6,966.2 197.4,982.8 203.2,983.0 209.0,986.4 214.8,992.3 220.6,976.8 226.4,961.6 232.2,982.6 238.0,1001.0 243.8,1039.0 249.6,1058.1 255.4,1073.8 261.2,1079.8 267.0,1078.1 272.8,1072.8 278.6,1065.8 284.4,1050.4 290.2,1039.2 296.0,1048.1 301.8,1073.8 307.6,1090.1 313.4,1095.0 319.2,1093.2 325.0,1077.7 330.8,1055.4 336.6,1021.9 342.4,993.3 348.2,974.0 354.0,954.3 359.8,962.0 365.6,972.7 371.4,991.3 377.2,987.2 383.0,995.5 388.8,1004.0 394.6,998.1 400.4,1007.4 406.2,1003.7 412.0,1002.3 417.8,1012.7 423.6,1003.9 429.4,1015.5 435.2,1030.5 441.0,1055.6 446.8,1064.4 452.6,1063.1 458.4,1066.2 464.2,1060.8 470.0,1053.4 475.8,1043.1 481.6,1041.2 487.4,1022.6 493.2,1024.0 499.0,1006.0 504.8,1001.6 510.6,1015.6 516.4,1022.8 522.2,1024.6 528.0,1036.6 533.8,1027.0 539.6,1023.6 545.5,1019.4 551.3,1017.6 557.1,1023.6 562.9,1018.3 568.7,1005.8 574.5,1012.6 580.3,1004.8 586.1,1004.8 591.9,1021.9 597.7,1015.9 603.5,1033.0 609.3,1035.1 615.1,1045.7 620.9,1042.0 626.7,1043.0 632.5,1043.9 638.3,1034.0 644.1,1040.8 649.9,1043.9 655.7,1037.8 661.5,1027.7 667.3,1014.5 673.1,1009.2 678.9,1003.1 684.7,1011.3 690.5,1031.6 696.3,1034.4 702.1,1043.9 707.9,1042.7 713.7,1023.0 719.5,1004.3 725.3,1011.8 731.1,1015.2 736.9,1039.2 742.7,1064.0 748.5,1076.6 754.3,1074.6 760.1,1054.8 765.9,1043.8 771.7,1041.0 777.5,1050.6 783.3,1047.7 789.1,1070.8 794.9,1091.9 800.7,1100.6 806.5,1116.6 812.3,1126.3 818.1,1119.3 823.9,1104.7 829.7,1102.1 835.5,1110.0 841.3,1096.5 847.1,1097.4 852.9,1100.8 858.7,1106.0 864.5,1105.8 870.3,1099.4 876.1,1099.4 881.9,1096.1 887.7,1104.5 893.5,1104.9 899.3,1109.0 905.1,1102.3 910.9,1095.8 916.7,1074.4 922.5,1065.6 928.3,1071.7 934.1,1086.2 939.9,1082.8 945.7,1110.6 951.5,1119.0 957.3,1111.8 963.1,1122.4 968.9,1148.3 974.7,1160.1 980.5,1182.3" fill="none" stroke="#000" stroke-width="3.7" stroke-linejoin="round"/>
<polyline points="110.4,991.3 116.2,986.0 122.0,999.3 127.8,1011.5 133.6,1027.8 139.4,1028.7 145.2,1018.5 151.0,1013.0 156.8,1006.0 162.6,1016.0 168.4,1023.1 174.2,1022.9 180.0,1013.9 185.8,994.5 191.6,969.2 197.4,967.2 203.2,967.9 209.0,987.8 214.8,1004.0 220.6,1026.5 226.4,1049.2 232.2,1039.2 238.0,1049.6 243.8,1040.5 249.6,1030.4 255.4,1009.6 261.2,1007.8 267.0,996.5 272.8,1014.5 278.6,1032.6 284.4,1060.7 290.2,1093.1 296.0,1108.8 301.8,1113.6 307.6,1091.3 313.4,1074.5 319.2,1053.2 325.0,1044.4 330.8,1055.3 336.6,1068.7 342.4,1090.9 348.2,1103.7 354.0,1099.5 359.8,1096.9 365.6,1073.2 371.4,1051.7 377.2,1064.8 383.0,1056.7 388.8,1055.0 394.6,1052.6 400.4,1047.4 406.2,1052.2 412.0,1066.0 417.8,1066.3 423.6,1071.3 429.4,1048.9 435.2,1011.0 441.0,998.5 446.8,966.5 452.6,944.8 458.4,945.4 464.2,944.7 470.0,956.3 475.8,975.0 481.6,1010.1 487.4,1031.9 493.2,1056.3 499.0,1070.8 504.8,1056.5 510.6,1051.2 516.4,1047.3 522.2,1032.3 528.0,1020.2 533.8,1007.4 539.6,999.6 545.5,997.7 551.3,983.3 557.1,992.3 562.9,995.4 568.7,1019.3 574.5,1033.8 580.3,1039.1 586.1,1046.9 591.9,1040.7 597.7,1044.0 603.5,1059.3 609.3,1073.8 615.1,1067.5 620.9,1060.2 626.7,1073.7 632.5,1079.0 638.3,1065.9 644.1,1076.2 649.9,1084.6 655.7,1078.1 661.5,1065.9 667.3,1058.8 673.1,1029.5 678.9,1031.4 684.7,1035.8 690.5,1044.1 696.3,1067.3 702.1,1071.6 707.9,1079.6 713.7,1087.3 719.5,1105.2 725.3,1099.4 731.1,1112.0 736.9,1104.1 742.7,1099.4 748.5,1077.3 754.3,1070.0 760.1,1067.5 765.9,1053.9 771.7,1055.1 777.5,1060.4 783.3,1055.8 789.1,1062.5 794.9,1072.1 800.7,1086.7 806.5,1093.4 812.3,1094.7 818.1,1090.9 823.9,1089.5 829.7,1083.8 835.5,1086.2 841.3,1095.5 847.1,1101.7 852.9,1107.7 858.7,1117.5 864.5,1119.9 870.3,1126.1 876.1,1119.1 881.9,1113.6 887.7,1114.5 893.5,1108.2 899.3,1109.1 905.1,1134.8 910.9,1134.6 916.7,1135.2 922.5,1129.4 928.3,1129.9 934.1,1131.4 939.9,1148.3 945.7,1139.6 951.5,1162.6 957.3,1146.4 963.1,1152.0 968.9,1153.5 974.7,1163.4 980.5,1171.1" fill="none" stroke="#000" stroke-width="3.7" stroke-linejoin="round"/>
<polyline points="110.4,1073.5 116.2,1069.9 122.0,1058.3 127.8,1040.3 133.6,1022.4 139.4,1020.0 145.2,1016.2 151.0,1005.0 156.8,992.2 162.6,984.6 168.4,967.6 174.2,967.5 180.0,976.7 185.8,981.7 191.6,975.7 197.4,984.7 203.2,979.4 209.0,981.5 214.8,990.9 220.6,1001.8 226.4,983.3 232.2,993.9 238.0,999.3 243.8,1020.8 249.6,1032.6 255.4,1048.3 261.2,1038.6 267.0,1043.0 272.8,1005.9 278.6,990.3 284.4,979.7 290.2,1001.6 296.0,1008.6 301.8,1022.2 307.6,1006.5 313.4,1008.6 319.2,991.2 325.0,992.7 330.8,1003.2 336.6,1026.4 342.4,1027.1 348.2,1033.1 354.0,1016.3 359.8,1005.6 365.6,1017.1 371.4,1008.5 377.2,1012.4 383.0,1021.1 388.8,1002.8 394.6,1003.0 400.4,988.4 406.2,978.5 412.0,992.3 417.8,1007.4 423.6,1031.6 429.4,1049.6 435.2,1040.7 441.0,1044.4 446.8,1020.9 452.6,997.7 458.4,982.9 464.2,974.0 470.0,997.7 475.8,1011.7 481.6,1022.8 487.4,1038.2 493.2,1032.7 499.0,1031.6 504.8,1037.7 510.6,1046.8 516.4,1041.7 522.2,1050.6 528.0,1036.3 533.8,1034.9 539.6,1018.3 545.5,1019.4 551.3,1018.0 557.1,1017.7 562.9,1002.7 568.7,999.1 574.5,993.8 580.3,983.1 586.1,1010.7 591.9,1028.6 597.7,1033.8 603.5,1047.7 609.3,1040.4 615.1,1043.5 620.9,1028.8 626.7,1009.5 632.5,993.2 638.3,1002.2 644.1,1000.2 649.9,999.4 655.7,996.2 661.5,987.5 667.3,996.9 673.1,993.4 678.9,991.7 684.7,1010.0 690.5,1008.7 696.3,1016.6 702.1,1027.1 707.9,1034.0 713.7,1043.9 719.5,1073.3 725.3,1067.6 731.1,1075.6 736.9,1056.6 742.7,1061.0 748.5,1042.5 754.3,1042.9 760.1,1027.3 765.9,1007.8 771.7,994.6 777.5,1008.2 783.3,1019.0 789.1,1048.4 794.9,1050.1 800.7,1060.6 806.5,1072.2 812.3,1057.4 818.1,1051.6 823.9,1057.5 829.7,1063.6 835.5,1075.7 841.3,1095.1 847.1,1111.9 852.9,1128.3 858.7,1142.4 864.5,1155.0 870.3,1158.5 876.1,1180.1 881.9,1183.8 887.7,1171.6 893.5,1159.9 899.3,1150.1 905.1,1144.2 910.9,1144.6 916.7,1157.3 922.5,1167.7 928.3,1155.3 934.1,1147.3 939.9,1132.4 945.7,1125.8 951.5,1109.3 957.3,1103.9 963.1,1123.1 968.9,1142.1 974.7,1146.3 980.5,1171.3" fill="none" stroke="#000" stroke-width="3.7" stroke-linejoin="round"/>
<polyline points="110.4,1028.6 116.2,1050.5 122.0,1072.5 127.8,1081.4 133.6,1072.1 139.4,1070.1 145.2,1034.0 151.0,1008.8 156.8,987.0 162.6,998.3 168.4,999.2 174.2,1006.3 180.0,1007.6 185.8,999.4 191.6,1005.3 197.4,1005.6 203.2,1004.7 209.0,1005.1 214.8,1009.9 220.6,1031.5 226.4,1038.2 232.2,1032.6 238.0,1024.2 243.8,1015.2 249.6,1007.8 255.4,1030.4 261.2,1049.0 267.0,1072.5 272.8,1068.2 278.6,1068.1 284.4,1049.1 290.2,1038.7 296.0,1032.2 301.8,1022.0 307.6,1026.3 313.4,1048.1 319.2,1048.5 325.0,1067.4 330.8,1080.9 336.6,1089.9 342.4,1080.1 348.2,1061.9 354.0,1029.2 359.8,1012.3 365.6,991.8 371.4,988.3 377.2,980.2 383.0,979.4 388.8,985.3 394.6,994.4 400.4,1008.8 406.2,1000.7 412.0,1003.8 417.8,1011.1 423.6,1012.0 429.4,1030.9 435.2,1052.4 441.0,1067.5 446.8,1082.9 452.6,1079.5 458.4,1052.4 464.2,1047.5 470.0,1042.9 475.8,1027.3 481.6,1029.0 487.4,1032.6 493.2,1029.0 499.0,1055.2 504.8,1067.3 510.6,1079.1 516.4,1077.3 522.2,1057.9 528.0,1035.3 533.8,1025.3 539.6,1025.2 545.5,1015.0 551.3,1016.5 557.1,1013.2 562.9,998.7 568.7,986.9 574.5,970.9 580.3,990.2 586.1,992.0 591.9,993.9 597.7,992.7 603.5,990.1 609.3,987.0 615.1,990.3 620.9,1019.3 626.7,1022.1 632.5,1034.7 638.3,1033.6 644.1,1024.4 649.9,1005.1 655.7,1015.7 661.5,1019.1 667.3,1031.6 673.1,1042.2 678.9,1053.8 684.7,1057.6 690.5,1057.9 696.3,1059.9 702.1,1073.9 707.9,1065.9 713.7,1067.0 719.5,1050.7 725.3,1053.7 731.1,1063.2 736.9,1063.4 742.7,1050.0 748.5,1040.1 754.3,1045.4 760.1,1027.6 765.9,1016.9 771.7,1031.3 777.5,1045.1 783.3,1055.0 789.1,1056.7 794.9,1067.8 800.7,1074.4 806.5,1057.2 812.3,1049.9 818.1,1056.8 823.9,1054.6 829.7,1079.4 835.5,1101.8 841.3,1113.5 847.1,1138.8 852.9,1146.1 858.7,1154.6 864.5,1154.0 870.3,1129.8 876.1,1116.1 881.9,1112.6 887.7,1109.5 893.5,1102.9 899.3,1107.8 905.1,1132.2 910.9,1142.5 916.7,1151.6 922.5,1175.4 928.3,1169.8 934.1,1183.9 939.9,1183.3 945.7,1185.8 951.5,1194.0 957.3,1191.9 963.1,1194.6 968.9,1181.7 974.7,1179.0 980.5,1182.8" fill="none" stroke="#000" stroke-width="3.7" stroke-linejoin="round"/>
<polyline points="110.4,1026.0 116.2,1013.2 122.0,1025.4 127.8,1019.8 133.6,1013.1 139.4,1006.6 145.2,995.3 151.0,987.4 156.8,987.3 162.6,1006.4 168.4,1029.4 174.2,1031.4 180.0,1025.7 185.8,993.7 191.6,981.3 197.4,973.1 203.2,973.2 209.0,978.9 214.8,1011.4 220.6,992.9 226.4,1007.8 232.2,1009.7 238.0,1009.1 243.8,1007.6 249.6,1014.1 255.4,1011.3 261.2,998.2 267.0,989.3 272.8,994.0 278.6,1000.0 284.4,1012.7 290.2,1053.8 296.0,1091.7 301.8,1123.0 307.6,1150.8 313.4,1167.7 319.2,1188.2 325.0,1217.7 330.8,1243.2 336.6,1246.0 342.4,1257.0 348.2,1254.4 354.0,1263.6 359.8,1256.9 365.6,1243.8 371.4,1231.5 377.2,1221.7 383.0,1205.3 388.8,1193.7 394.6,1183.1 400.4,1176.6 406.2,1168.4 412.0,1179.8 417.8,1186.2 423.6,1183.3 429.4,1183.5 435.2,1181.3 441.0,1150.5 446.8,1108.0 452.6,1083.6 458.4,1045.7 464.2,1017.1 470.0,993.4 475.8,1012.5 481.6,990.0 487.4,998.7 493.2,1015.1 499.0,1022.2 504.8,1022.8 510.6,1035.3 516.4,1020.7 522.2,1023.4 528.0,1031.1 533.8,1032.8 539.6,1026.0 545.5,1022.8 551.3,997.1 557.1,977.1 562.9,961.6 568.7,945.0 574.5,945.6 580.3,957.8 586.1,981.8 591.9,1008.9 597.7,1014.9 603.5,1019.0 609.3,1016.5 615.1,1017.0 620.9,1023.1 626.7,1036.5 632.5,1048.4 638.3,1042.8 644.1,1038.6 649.9,1056.8 655.7,1066.9 661.5,1061.2 667.3,1053.2 673.1,1046.5 678.9,1035.7 684.7,1010.8 690.5,1033.0 696.3,1037.9 702.1,1058.0 707.9,1068.7 713.7,1079.6 719.5,1074.6 725.3,1060.9 731.1,1059.4 736.9,1045.1 742.7,1044.5 748.5,1051.0 754.3,1047.1 760.1,1055.7 765.9,1049.0 771.7,1080.0 777.5,1095.3 783.3,1121.8 789.1,1131.0 794.9,1137.2 800.7,1095.1 806.5,1077.0 812.3,1064.3 818.1,1068.5 823.9,1076.3 829.7,1091.7 835.5,1113.3 841.3,1117.3 847.1,1125.9 852.9,1113.6 858.7,1106.4 864.5,1092.3 870.3,1063.4 876.1,1075.6 881.9,1093.7 887.7,1114.0 893.5,1123.3 899.3,1140.9 905.1,1164.4 910.9,1171.3 916.7,1179.3 922.5,1178.1 928.3,1178.8 934.1,1166.9 939.9,1170.4 945.7,1167.9 951.5,1152.1 957.3,1159.1 963.1,1158.9 968.9,1144.4 974.7,1161.3 980.5,1167.0" fill="none" stroke="#f00000" stroke-width="3.7" stroke-linejoin="round"/>
<polyline points="110.4,1064.5 116.2,1055.4 122.0,1039.7 127.8,1023.8 133.6,1009.8 139.4,1001.7 145.2,981.0 151.0,974.0 156.8,949.2 162.6,962.5 168.4,970.1 174.2,991.2 180.0,991.6 185.8,998.2 191.6,994.9 197.4,979.2 203.2,965.8 209.0,960.4 214.8,960.0 220.6,967.7 226.4,970.7 232.2,976.1 238.0,981.2 243.8,985.1 249.6,986.6 255.4,995.0 261.2,1017.5 267.0,1010.1 272.8,1013.8 278.6,1009.6 284.4,1003.4 290.2,1006.5 296.0,1030.0 301.8,1051.2 307.6,1084.1 313.4,1140.9 319.2,1165.9 325.0,1174.1 330.8,1198.1 336.6,1198.9 342.4,1182.2 348.2,1205.2 354.0,1204.0 359.8,1213.7 365.6,1223.8 371.4,1230.9 377.2,1250.0 383.0,1243.7 388.8,1257.6 394.6,1265.7 400.4,1247.3 406.2,1227.1 412.0,1227.2 417.8,1222.2 423.6,1202.0 429.4,1195.2 435.2,1163.2 441.0,1157.9 446.8,1127.1 452.6,1086.3 458.4,1066.1 464.2,1033.6 470.0,1037.4 475.8,1044.8 481.6,1058.9 487.4,1057.3 493.2,1046.2 499.0,1050.2 504.8,1031.0 510.6,1004.2 516.4,1000.9 522.2,998.4 528.0,1009.3 533.8,1022.6 539.6,1015.4 545.5,1033.9 551.3,1032.0 557.1,1016.9 562.9,1012.7 568.7,1011.9 574.5,1014.4 580.3,1018.5 586.1,1029.9 591.9,1032.4 597.7,1026.5 603.5,1002.3 609.3,983.7 615.1,990.9 620.9,984.9 626.7,993.9 632.5,991.4 638.3,1012.8 644.1,1034.1 649.9,1058.8 655.7,1075.9 661.5,1083.4 667.3,1067.0 673.1,1057.6 678.9,1032.6 684.7,1016.6 690.5,1007.9 696.3,1015.9 702.1,1038.5 707.9,1049.6 713.7,1072.5 719.5,1087.6 725.3,1103.1 731.1,1120.5 736.9,1104.7 742.7,1087.6 748.5,1063.3 754.3,1049.8 760.1,1027.5 765.9,1041.0 771.7,1047.9 777.5,1044.5 783.3,1058.1 789.1,1085.5 794.9,1093.0 800.7,1090.8 806.5,1099.1 812.3,1094.9 818.1,1071.9 823.9,1056.0 829.7,1062.2 835.5,1067.1 841.3,1093.5 847.1,1124.2 852.9,1136.7 858.7,1156.3 864.5,1139.8 870.3,1128.4 876.1,1112.6 881.9,1076.3 887.7,1047.4 893.5,1050.6 899.3,1055.1 905.1,1074.1 910.9,1097.1 916.7,1120.4 922.5,1121.9 928.3,1119.9 934.1,1135.6 939.9,1135.3 945.7,1134.2 951.5,1117.1 957.3,1129.5 963.1,1125.4 968.9,1132.5 974.7,1139.5 980.5,1145.9" fill="none" stroke="#f00000" stroke-width="3.7" stroke-linejoin="round"/>
<polyline points="110.4,1002.3 116.2,993.4 122.0,993.2 127.8,985.2 133.6,976.6 139.4,970.0 145.2,964.2 151.0,960.5 156.8,955.5 162.6,963.8 168.4,954.5 174.2,956.1 180.0,976.6 185.8,991.7 191.6,1008.7 197.4,1015.7 203.2,1031.6 209.0,1046.0 214.8,1038.8 220.6,1039.5 226.4,1046.4 232.2,1047.7 238.0,1042.5 243.8,1034.6 249.6,1025.6 255.4,1018.2 261.2,1004.6 267.0,1004.8 272.8,1007.2 278.6,1038.1 284.4,1046.0 290.2,1064.6 296.0,1081.3 301.8,1083.1 307.6,1091.1 313.4,1067.9 319.2,1059.1 325.0,1047.3 330.8,1037.6 336.6,1038.5 342.4,1050.0 348.2,1073.8 354.0,1081.4 359.8,1084.1 365.6,1077.1 371.4,1050.7 377.2,1037.1 383.0,1026.0 388.8,1004.5 394.6,990.1 400.4,978.1 406.2,975.7 412.0,967.5 417.8,969.4 423.6,988.5 429.4,999.7 435.2,1041.4 441.0,1093.6 446.8,1139.7 452.6,1164.6 458.4,1160.4 464.2,1101.8 470.0,1069.0 475.8,1028.5 481.6,1015.3 487.4,1006.4 493.2,985.7 499.0,971.9 504.8,974.3 510.6,972.2 516.4,965.7 522.2,979.4 528.0,979.0 533.8,973.0 539.6,989.8 545.5,992.9 551.3,1024.0 557.1,1018.0 562.9,1032.4 568.7,1024.1 574.5,1028.3 580.3,1016.4 586.1,1016.3 591.9,1042.8 597.7,1048.6 603.5,1051.7 609.3,1036.0 615.1,1032.9 620.9,1024.0 626.7,997.9 632.5,989.4 638.3,979.4 644.1,996.4 649.9,998.3 655.7,996.3 661.5,1025.4 667.3,1016.5 673.1,1014.6 678.9,1011.5 684.7,1006.2 690.5,998.9 696.3,1002.4 702.1,1016.2 707.9,1033.7 713.7,1046.5 719.5,1057.3 725.3,1060.2 731.1,1065.9 736.9,1071.7 742.7,1063.2 748.5,1067.4 754.3,1075.6 760.1,1083.7 765.9,1073.7 771.7,1089.0 777.5,1091.2 783.3,1077.8 789.1,1088.6 794.9,1087.8 800.7,1083.1 806.5,1078.4 812.3,1075.4 818.1,1084.0 823.9,1077.0 829.7,1074.3 835.5,1087.1 841.3,1087.5 847.1,1101.8 852.9,1109.4 858.7,1122.9 864.5,1129.9 870.3,1136.5 876.1,1145.0 881.9,1139.8 887.7,1139.4 893.5,1157.5 899.3,1147.0 905.1,1138.3 910.9,1134.5 916.7,1160.7 922.5,1167.8 928.3,1165.7 934.1,1162.8 939.9,1153.3 945.7,1162.7 951.5,1170.7 957.3,1172.4 963.1,1165.2 968.9,1164.2 974.7,1167.2 980.5,1166.8" fill="none" stroke="#f00000" stroke-width="3.7" stroke-linejoin="round"/>
<polyline points="110.4,1012.9 116.2,988.9 122.0,984.6 127.8,977.6 133.6,986.3 139.4,989.8 145.2,994.3 151.0,991.5 156.8,966.2 162.6,958.7 168.4,960.7 174.2,977.2 180.0,992.1 185.8,1010.5 191.6,1023.7 197.4,1022.7 203.2,1039.7 209.0,1040.9 214.8,1032.5 220.6,1026.8 226.4,1033.4 232.2,1022.2 238.0,1025.1 243.8,1026.0 249.6,1026.0 255.4,1044.6 261.2,1030.8 267.0,1037.4 272.8,1031.5 278.6,1008.2 284.4,1007.4 290.2,1000.8 296.0,1015.4 301.8,1036.0 307.6,1038.2 313.4,1024.9 319.2,1032.6 325.0,1019.0 330.8,1024.1 336.6,1029.6 342.4,1020.2 348.2,1023.1 354.0,1021.8 359.8,1022.3 365.6,1009.9 371.4,998.3 377.2,988.3 383.0,995.3 388.8,1011.3 394.6,1038.5 400.4,1054.2 406.2,1064.8 412.0,1083.9 417.8,1101.5 423.6,1083.4 429.4,1083.3 435.2,1059.1 441.0,1040.1 446.8,1010.4 452.6,1001.4 458.4,1002.3 464.2,1014.0 470.0,1026.5 475.8,1025.1 481.6,1035.3 487.4,1047.9 493.2,1039.8 499.0,1028.5 504.8,1014.1 510.6,991.3 516.4,962.4 522.2,937.4 528.0,934.4 533.8,944.7 539.6,964.3 545.5,995.7 551.3,1014.4 557.1,1029.3 562.9,1041.4 568.7,1055.1 574.5,1052.6 580.3,1053.1 586.1,1050.2 591.9,1024.1 597.7,1015.9 603.5,999.6 609.3,1002.5 615.1,1014.7 620.9,1009.1 626.7,1016.5 632.5,1023.4 638.3,1025.7 644.1,1027.3 649.9,1042.1 655.7,1030.7 661.5,1021.2 667.3,1013.8 673.1,995.4 678.9,976.8 684.7,971.7 690.5,979.5 696.3,978.8 702.1,1000.2 707.9,996.4 713.7,1013.5 719.5,1025.7 725.3,1049.4 731.1,1058.7 736.9,1057.5 742.7,1055.5 748.5,1036.1 754.3,1041.7 760.1,1037.4 765.9,1058.8 771.7,1051.3 777.5,1054.7 783.3,1047.4 789.1,1048.8 794.9,1056.2 800.7,1068.2 806.5,1068.3 812.3,1072.6 818.1,1068.1 823.9,1063.4 829.7,1075.1 835.5,1088.8 841.3,1089.9 847.1,1091.0 852.9,1074.8 858.7,1072.5 864.5,1064.7 870.3,1065.2 876.1,1068.2 881.9,1078.3 887.7,1079.3 893.5,1090.3 899.3,1098.7 905.1,1103.9 910.9,1123.7 916.7,1139.2 922.5,1154.2 928.3,1164.2 934.1,1156.9 939.9,1160.2 945.7,1156.0 951.5,1158.6 957.3,1158.0 963.1,1174.6 968.9,1198.8 974.7,1216.9 980.5,1229.1" fill="none" stroke="#f00000" stroke-width="3.7" stroke-linejoin="round"/>
<polyline points="110.4,1007.4 116.2,984.5 122.0,975.0 127.8,985.4 133.6,978.8 139.4,988.9 145.2,974.1 151.0,958.5 156.8,935.6 162.6,925.2 168.4,940.1 174.2,935.1 180.0,955.1 185.8,953.1 191.6,954.8 197.4,947.8 203.2,932.5 209.0,917.5 214.8,916.6 220.6,928.0 226.4,937.6 232.2,956.9 238.0,988.2 243.8,997.3 249.6,1000.0 255.4,1021.2 261.2,1030.8 267.0,1051.0 272.8,1073.2 278.6,1075.6 284.4,1062.9 290.2,1047.7 296.0,1036.1 301.8,1024.9 307.6,1005.2 313.4,1006.2 319.2,1002.7 325.0,1011.2 330.8,1026.2 336.6,1019.2 342.4,1011.5 348.2,1018.6 354.0,1030.5 359.8,1050.1 365.6,1065.5 371.4,1058.4 377.2,1048.5 383.0,1046.6 388.8,1035.9 394.6,1039.8 400.4,1047.7 406.2,1047.6 412.0,1047.9 417.8,1029.4 423.6,1024.0 429.4,1019.6 435.2,1012.6 441.0,1010.8 446.8,1031.9 452.6,1025.1 458.4,1023.8 464.2,1023.4 470.0,1035.3 475.8,1049.6 481.6,1050.8 487.4,1072.9 493.2,1083.1 499.0,1094.6 504.8,1088.7 510.6,1070.9 516.4,1075.5 522.2,1041.8 528.0,1011.4 533.8,1004.1 539.6,996.7 545.5,1000.1 551.3,1001.1 557.1,1024.7 562.9,1019.1 568.7,1020.9 574.5,1004.8 580.3,1001.2 586.1,1001.1 591.9,1010.2 597.7,1019.0 603.5,1029.6 609.3,1039.3 615.1,1048.5 620.9,1057.6 626.7,1069.7 632.5,1078.0 638.3,1093.0 644.1,1090.0 649.9,1102.5 655.7,1079.5 661.5,1059.3 667.3,1049.6 673.1,1025.6 678.9,1010.7 684.7,1015.9 690.5,1028.8 696.3,1048.3 702.1,1078.2 707.9,1087.5 713.7,1090.8 719.5,1092.5 725.3,1085.5 731.1,1076.3 736.9,1083.2 742.7,1081.2 748.5,1094.8 754.3,1088.3 760.1,1088.6 765.9,1083.3 771.7,1090.8 777.5,1102.9 783.3,1104.7 789.1,1107.2 794.9,1127.1 800.7,1112.7 806.5,1108.1 812.3,1110.3 818.1,1085.2 823.9,1088.0 829.7,1076.9 835.5,1060.8 841.3,1052.9 847.1,1064.1 852.9,1079.1 858.7,1086.6 864.5,1115.1 870.3,1131.6 876.1,1151.3 881.9,1158.3 887.7,1155.9 893.5,1155.2 899.3,1160.4 905.1,1157.6 910.9,1157.2 916.7,1161.6 922.5,1155.5 928.3,1152.8 934.1,1152.9 939.9,1159.3 945.7,1150.6 951.5,1153.0 957.3,1147.8 963.1,1128.9 968.9,1116.3 974.7,1137.0 980.5,1127.6" fill="none" stroke="#f00000" stroke-width="3.7" stroke-linejoin="round"/>
<polyline points="110.4,1051.0 116.2,1034.6 122.0,1051.1 127.8,1039.3 133.6,1041.3 139.4,1038.4 145.2,1024.9 151.0,1011.0 156.8,1019.2 162.6,1014.5 168.4,1021.3 174.2,999.4 180.0,995.8 185.8,973.0 191.6,969.7 197.4,969.8 203.2,989.5 209.0,1002.1 214.8,1000.0 220.6,1014.7 226.4,1005.4 232.2,1011.4 238.0,1014.5 243.8,1026.9 249.6,1029.5 255.4,1040.4 261.2,1043.0 267.0,1061.2 272.8,1078.1 278.6,1090.6 284.4,1085.4 290.2,1077.2 296.0,1073.2 301.8,1055.3 307.6,1038.4 313.4,1023.6 319.2,1005.1 325.0,1004.7 330.8,1020.6 336.6,1034.7 342.4,1041.9 348.2,1050.0 354.0,1059.0 359.8,1063.6 365.6,1074.0 371.4,1078.0 377.2,1077.4 383.0,1095.3 388.8,1102.1 394.6,1115.2 400.4,1104.1 406.2,1093.9 412.0,1091.7 417.8,1091.5 423.6,1075.9 429.4,1053.0 435.2,1031.1 441.0,1017.6 446.8,1004.9 452.6,1010.7 458.4,1020.6 464.2,1030.7 470.0,1041.3 475.8,1032.4 481.6,1028.1 487.4,1018.1 493.2,1034.0 499.0,1041.4 504.8,1022.1 510.6,1047.3 516.4,1049.8 522.2,1075.2 528.0,1108.7 533.8,1110.7 539.6,1099.4 545.5,1085.7 551.3,1055.9 557.1,1046.5 562.9,1024.3 568.7,1012.5 574.5,1004.1 580.3,995.2 586.1,988.0 591.9,1001.7 597.7,1013.5 603.5,1041.9 609.3,1049.5 615.1,1050.6 620.9,1053.1 626.7,1025.3 632.5,1015.3 638.3,1022.4 644.1,1024.6 649.9,1025.5 655.7,1039.9 661.5,1039.4 667.3,1033.2 673.1,1039.3 678.9,1037.8 684.7,1032.8 690.5,1028.4 696.3,1013.6 702.1,1017.6 707.9,1011.7 713.7,1008.2 719.5,1011.5 725.3,1011.9 731.1,1018.0 736.9,1023.6 742.7,1025.7 748.5,1048.1 754.3,1055.9 760.1,1073.0 765.9,1078.7 771.7,1107.1 777.5,1117.3 783.3,1119.2 789.1,1100.8 794.9,1085.6 800.7,1072.3 806.5,1050.2 812.3,1048.6 818.1,1065.2 823.9,1072.3 829.7,1068.8 835.5,1078.4 841.3,1075.8 847.1,1078.1 852.9,1080.3 858.7,1090.3 864.5,1098.6 870.3,1125.3 876.1,1130.1 881.9,1138.3 887.7,1133.5 893.5,1155.8 899.3,1147.2 905.1,1142.9 910.9,1134.2 916.7,1151.4 922.5,1130.7 928.3,1106.8 934.1,1112.5 939.9,1119.3 945.7,1121.7 951.5,1136.3 957.3,1130.4 963.1,1133.6 968.9,1133.7 974.7,1149.3 980.5,1175.0" fill="none" stroke="#f00000" stroke-width="3.7" stroke-linejoin="round"/>
<polyline points="110.4,1090.5 116.2,1089.0 122.0,1076.2 127.8,1058.1 133.6,1014.5 139.4,988.9 145.2,972.3 151.0,992.6 156.8,997.8 162.6,1010.2 168.4,996.7 174.2,999.4 180.0,1009.5 185.8,1004.4 191.6,1011.2 197.4,1020.4 203.2,1023.8 209.0,1021.6 214.8,1025.9 220.6,1010.5 226.4,1011.3 232.2,989.0 238.0,972.5 243.8,955.6 249.6,954.4 255.4,962.0 261.2,952.8 267.0,963.6 272.8,981.5 278.6,986.0 284.4,1007.5 290.2,1023.5 296.0,1025.1 301.8,1040.7 307.6,1060.1 313.4,1062.7 319.2,1053.1 325.0,1043.7 330.8,1019.4 336.6,1021.2 342.4,997.4 348.2,987.9 354.0,985.5 359.8,983.1 365.6,981.1 371.4,971.5 377.2,986.3 383.0,986.5 388.8,1014.4 394.6,1048.8 400.4,1065.7 406.2,1057.9 412.0,1071.6 417.8,1039.6 423.6,1041.3 429.4,1031.1 435.2,1025.3 441.0,1031.9 446.8,1040.0 452.6,1057.0 458.4,1067.1 464.2,1071.8 470.0,1071.4 475.8,1043.2 481.6,1039.5 487.4,1018.0 493.2,1021.1 499.0,1019.6 504.8,1009.0 510.6,1007.7 516.4,1014.5 522.2,1015.3 528.0,1027.8 533.8,1029.8 539.6,1047.9 545.5,1043.1 551.3,1058.8 557.1,1051.4 562.9,1061.4 568.7,1039.5 574.5,1043.9 580.3,1036.0 586.1,1035.1 591.9,1023.0 597.7,1020.0 603.5,1027.4 609.3,1035.0 615.1,1018.8 620.9,1017.5 626.7,1014.6 632.5,1009.1 638.3,1013.0 644.1,1008.9 649.9,1011.7 655.7,1019.6 661.5,1023.1 667.3,1036.3 673.1,1022.0 678.9,1033.4 684.7,1033.7 690.5,1050.1 696.3,1050.3 702.1,1052.7 707.9,1047.6 713.7,1045.6 719.5,1037.9 725.3,1037.0 731.1,1049.3 736.9,1057.6 742.7,1057.2 748.5,1057.2 754.3,1045.8 760.1,1024.9 765.9,1026.3 771.7,1029.3 777.5,1044.6 783.3,1053.3 789.1,1060.6 794.9,1078.8 800.7,1098.3 806.5,1106.3 812.3,1128.9 818.1,1128.2 823.9,1127.3 829.7,1127.9 835.5,1109.6 841.3,1111.6 847.1,1092.3 852.9,1106.6 858.7,1112.8 864.5,1115.2 870.3,1105.5 876.1,1102.4 881.9,1092.9 887.7,1101.3 893.5,1097.2 899.3,1103.4 905.1,1115.8 910.9,1134.0 916.7,1143.8 922.5,1147.5 928.3,1139.9 934.1,1136.9 939.9,1145.1 945.7,1152.6 951.5,1142.3 957.3,1137.6 963.1,1137.3 968.9,1126.0 974.7,1117.6 980.5,1109.1" fill="none" stroke="#f00000" stroke-width="3.7" stroke-linejoin="round"/>
<polyline points="110.4,1018.2 116.2,1001.7 122.0,989.4 127.8,977.1 133.6,975.5 139.4,961.4 145.2,978.9 151.0,986.5 156.8,974.0 162.6,975.1 168.4,974.4 174.2,965.4 180.0,960.7 185.8,964.6 191.6,974.1 197.4,982.5 203.2,997.5 209.0,1006.0 214.8,1009.0 220.6,1021.2 226.4,1027.3 232.2,1018.1 238.0,1017.3 243.8,1011.1 249.6,1002.8 255.4,1018.2 261.2,1034.4 267.0,1061.8 272.8,1057.8 278.6,1039.7 284.4,1026.8 290.2,1017.9 296.0,1028.2 301.8,1040.1 307.6,1027.4 313.4,1042.9 319.2,1036.5 325.0,1017.8 330.8,1001.4 336.6,988.2 342.4,973.3 348.2,955.6 354.0,962.5 359.8,951.7 365.6,965.5 371.4,979.1 377.2,990.8 383.0,1004.7 388.8,999.4 394.6,992.3 400.4,993.5 406.2,997.5 412.0,994.1 417.8,988.1 423.6,995.3 429.4,1000.1 435.2,1008.2 441.0,1012.7 446.8,1013.3 452.6,1012.8 458.4,1006.2 464.2,1012.5 470.0,1006.5 475.8,1005.5 481.6,1009.9 487.4,1008.4 493.2,1023.8 499.0,1036.3 504.8,1062.2 510.6,1076.7 516.4,1086.7 522.2,1079.3 528.0,1066.2 533.8,1060.5 539.6,1042.5 545.5,1052.1 551.3,1065.9 557.1,1077.2 562.9,1051.0 568.7,1046.0 574.5,1038.4 580.3,1026.2 586.1,1016.0 591.9,1016.9 597.7,997.7 603.5,978.5 609.3,998.6 615.1,1019.2 620.9,1013.9 626.7,1018.0 632.5,1000.9 638.3,992.6 644.1,993.4 649.9,992.5 655.7,1018.2 661.5,1040.3 667.3,1055.0 673.1,1054.2 678.9,1073.4 684.7,1088.5 690.5,1091.3 696.3,1082.5 702.1,1062.4 707.9,1036.1 713.7,1028.5 719.5,1021.4 725.3,1021.1 731.1,1047.4 736.9,1046.8 742.7,1040.1 748.5,1047.2 754.3,1029.7 760.1,1021.8 765.9,1013.2 771.7,1023.5 777.5,1013.7 783.3,1018.6 789.1,1030.3 794.9,1050.4 800.7,1059.5 806.5,1054.1 812.3,1071.9 818.1,1058.4 823.9,1066.3 829.7,1056.2 835.5,1077.2 841.3,1076.6 847.1,1095.0 852.9,1103.2 858.7,1117.3 864.5,1124.7 870.3,1142.7 876.1,1137.9 881.9,1142.2 887.7,1139.5 893.5,1135.8 899.3,1130.7 905.1,1133.6 910.9,1146.4 916.7,1136.0 922.5,1132.1 928.3,1147.5 934.1,1131.0 939.9,1133.4 945.7,1134.0 951.5,1119.6 957.3,1116.6 963.1,1129.3 968.9,1148.8 974.7,1143.6 980.5,1170.2" fill="none" stroke="#f00000" stroke-width="3.7" stroke-linejoin="round"/>
<polyline points="110.4,1025.1 116.2,1040.7 122.0,1048.1 127.8,1025.3 133.6,997.4 139.4,978.6 145.2,973.5 151.0,989.2 156.8,994.0 162.6,1000.4 168.4,1011.3 174.2,1002.1 180.0,999.4 185.8,999.3 191.6,989.2 197.4,997.5 203.2,1003.4 209.0,1027.8 214.8,1023.8 220.6,1026.8 226.4,1044.2 232.2,1042.4 238.0,1046.1 243.8,1050.4 249.6,1040.8 255.4,1043.7 261.2,1052.7 267.0,1059.9 272.8,1074.2 278.6,1069.9 284.4,1075.2 290.2,1063.7 296.0,1052.0 301.8,1037.3 307.6,1034.0 313.4,1044.5 319.2,1064.5 325.0,1067.1 330.8,1066.5 336.6,1063.0 342.4,1049.6 348.2,1047.2 354.0,1037.5 359.8,1038.5 365.6,1017.6 371.4,995.1 377.2,988.9 383.0,966.1 388.8,963.3 394.6,962.3 400.4,981.0 406.2,998.2 412.0,996.0 417.8,980.5 423.6,986.4 429.4,996.6 435.2,1013.3 441.0,1031.0 446.8,1030.4 452.6,1034.4 458.4,1038.2 464.2,1047.9 470.0,1033.1 475.8,1024.6 481.6,1028.3 487.4,1022.0 493.2,1016.4 499.0,1037.3 504.8,1046.3 510.6,1067.3 516.4,1092.3 522.2,1091.1 528.0,1092.8 533.8,1097.0 539.6,1082.8 545.5,1064.3 551.3,1033.8 557.1,1001.7 562.9,988.9 568.7,990.0 574.5,994.8 580.3,1001.8 586.1,1001.4 591.9,993.2 597.7,992.2 603.5,976.0 609.3,953.2 615.1,953.1 620.9,961.7 626.7,963.7 632.5,967.6 638.3,988.9 644.1,1016.4 649.9,1018.7 655.7,1022.0 661.5,1020.6 667.3,1026.0 673.1,1023.2 678.9,1023.8 684.7,1034.9 690.5,1052.5 696.3,1051.3 702.1,1050.9 707.9,1048.9 713.7,1041.2 719.5,1037.4 725.3,1039.7 731.1,1043.2 736.9,1058.6 742.7,1099.3 748.5,1115.7 754.3,1115.6 760.1,1118.2 765.9,1092.4 771.7,1081.8 777.5,1070.4 783.3,1067.3 789.1,1059.2 794.9,1059.5 800.7,1056.2 806.5,1063.3 812.3,1063.7 818.1,1068.7 823.9,1080.2 829.7,1063.6 835.5,1070.7 841.3,1066.0 847.1,1073.0 852.9,1085.0 858.7,1095.9 864.5,1091.8 870.3,1106.0 876.1,1129.1 881.9,1121.5 887.7,1128.6 893.5,1147.6 899.3,1136.1 905.1,1143.9 910.9,1136.5 916.7,1140.8 922.5,1138.9 928.3,1137.1 934.1,1133.1 939.9,1134.3 945.7,1140.0 951.5,1139.0 957.3,1154.9 963.1,1164.0 968.9,1176.0 974.7,1177.6 980.5,1173.6" fill="none" stroke="#f00000" stroke-width="3.7" stroke-linejoin="round"/>
<polyline points="110.4,1035.7 116.2,1040.4 122.0,1042.5 127.8,1022.4 133.6,1000.3 139.4,991.5 145.2,988.4 151.0,996.3 156.8,992.2 162.6,1003.4 168.4,998.0 174.2,1007.9 180.0,1015.5 185.8,1033.7 191.6,1017.0 197.4,999.9 203.2,997.0 209.0,992.3 214.8,1008.2 220.6,1037.6 226.4,1053.8 232.2,1068.3 238.0,1091.2 243.8,1108.8 249.6,1122.5 255.4,1110.7 261.2,1091.1 267.0,1055.8 272.8,1039.5 278.6,1019.6 284.4,1022.7 290.2,1017.7 296.0,1016.9 301.8,1014.5 307.6,1019.5 313.4,1027.5 319.2,1023.2 325.0,1025.0 330.8,1023.3 336.6,1013.4 342.4,981.4 348.2,981.6 354.0,983.5 359.8,991.4 365.6,999.2 371.4,1030.0 377.2,1044.1 383.0,1035.1 388.8,1051.4 394.6,1043.7 400.4,1038.0 406.2,1020.9 412.0,1000.4 417.8,986.3 423.6,971.7 429.4,1000.2 435.2,1014.8 441.0,1027.8 446.8,1046.0 452.6,1042.4 458.4,1056.5 464.2,1060.2 470.0,1048.2 475.8,1044.5 481.6,1031.7 487.4,1031.0 493.2,1038.1 499.0,1052.5 504.8,1048.9 510.6,1025.3 516.4,1035.1 522.2,1022.3 528.0,1007.6 533.8,1005.8 539.6,995.4 545.5,998.0 551.3,997.9 557.1,1001.7 562.9,1004.7 568.7,1007.2 574.5,1013.4 580.3,1031.6 586.1,1017.1 591.9,1011.3 597.7,1000.7 603.5,982.0 609.3,962.9 615.1,963.8 620.9,962.6 626.7,967.3 632.5,987.6 638.3,1008.9 644.1,1015.2 649.9,1019.9 655.7,1011.3 661.5,1009.4 667.3,1031.1 673.1,1040.5 678.9,1050.8 684.7,1060.2 690.5,1042.4 696.3,1052.9 702.1,1048.3 707.9,1045.7 713.7,1068.5 719.5,1065.4 725.3,1076.4 731.1,1066.3 736.9,1056.5 742.7,1038.9 748.5,1048.1 754.3,1040.2 760.1,1034.3 765.9,1039.6 771.7,1041.2 777.5,1054.4 783.3,1066.0 789.1,1073.5 794.9,1086.2 800.7,1091.4 806.5,1106.4 812.3,1122.8 818.1,1115.1 823.9,1124.9 829.7,1142.2 835.5,1139.9 841.3,1154.3 847.1,1128.2 852.9,1118.0 858.7,1098.4 864.5,1075.2 870.3,1073.8 876.1,1076.1 881.9,1086.1 887.7,1101.9 893.5,1109.1 899.3,1112.0 905.1,1115.2 910.9,1112.2 916.7,1101.4 922.5,1111.2 928.3,1123.7 934.1,1122.4 939.9,1131.4 945.7,1135.4 951.5,1127.8 957.3,1128.2 963.1,1142.9 968.9,1152.7 974.7,1155.1 980.5,1155.5" fill="none" stroke="#f00000" stroke-width="3.7" stroke-linejoin="round"/>
</g>
<rect x="110.4" y="802.3" width="870.10" height="543.00" fill="none" stroke="#141414" stroke-width="2.5"/>
<path d="M255.42 1345.30V1335.80M255.42 802.30V811.80M400.43 1345.30V1335.80M400.43 802.30V811.80M545.45 1345.30V1335.80M545.45 802.30V811.80M690.47 1345.30V1335.80M690.47 802.30V811.80M835.48 1345.30V1335.80M835.48 802.30V811.80M110.40 1277.42H119.90M980.50 1277.42H971.00M110.40 1209.55H119.90M980.50 1209.55H971.00M110.40 1141.67H119.90M980.50 1141.67H971.00M110.40 1073.80H119.90M980.50 1073.80H971.00M110.40 1005.92H119.90M980.50 1005.92H971.00M110.40 938.05H119.90M980.50 938.05H971.00M110.40 870.17H119.90M980.50 870.17H971.00" stroke="#141414" stroke-width="2.5" fill="none"/>
<text x="110.40" y="1375.90" font-size="28.4" text-anchor="middle">1950</text>
<text x="255.42" y="1375.90" font-size="28.4" text-anchor="middle">1975</text>
<text x="400.43" y="1375.90" font-size="28.4" text-anchor="middle">2000</text>
<text x="545.45" y="1375.90" font-size="28.4" text-anchor="middle">2025</text>
<text x="690.47" y="1375.90" font-size="28.4" text-anchor="middle">2050</text>
<text x="835.48" y="1375.90" font-size="28.4" text-anchor="middle">2075</text>
<text x="980.50" y="1375.90" font-size="28.4" text-anchor="middle">2100</text>
<text x="101.20" y="1353.20" font-size="28.4" text-anchor="end">-2.5</text>
<text x="101.20" y="1285.33" font-size="28.4" text-anchor="end">-2</text>
<text x="101.20" y="1217.45" font-size="28.4" text-anchor="end">1.5</text>
<text x="101.20" y="1149.58" font-size="28.4" text-anchor="end">-1</text>
<text x="101.20" y="1081.70" font-size="28.4" text-anchor="end">0.5</text>
<text x="101.20" y="1013.82" font-size="28.4" text-anchor="end">0</text>
<text x="101.20" y="945.95" font-size="28.4" text-anchor="end">0.5</text>
<text x="101.20" y="878.07" font-size="28.4" text-anchor="end">1</text>
<text x="101.20" y="810.20" font-size="28.4" text-anchor="end">1.5</text>
<g clip-path="url(#clipd)">
<polyline points="1225.4,1177.5 1231.2,1179.1 1237.0,1184.6 1242.8,1194.6 1248.6,1206.5 1254.4,1218.1 1260.2,1228.8 1266.0,1238.5 1271.8,1247.4 1277.6,1255.0 1283.4,1260.5 1289.2,1265.5 1295.0,1270.0 1300.8,1271.8 1306.6,1268.4 1312.4,1259.6 1318.2,1248.0 1324.0,1237.1 1329.8,1229.2 1335.6,1223.8 1341.4,1218.4 1347.2,1210.4 1353.0,1199.6 1358.8,1188.5 1364.6,1181.6 1370.4,1182.1 1376.2,1190.3 1382.0,1203.3 1387.8,1215.9 1393.6,1223.4 1399.4,1224.6 1405.2,1221.8 1411.0,1218.6 1416.8,1216.5 1422.6,1214.1 1428.4,1209.1 1434.2,1200.9 1440.0,1191.8 1445.8,1185.1 1451.6,1183.0 1457.4,1185.1 1463.2,1189.7 1469.0,1194.8 1474.8,1198.4 1480.6,1199.0 1486.4,1194.8 1492.2,1184.0 1498.0,1165.9 1503.8,1142.6 1509.6,1117.3 1515.4,1093.4 1521.2,1073.8 1527.0,1065.0 1532.8,1072.6 1538.6,1088.1 1544.4,1101.7 1550.2,1109.3 1556.0,1111.4 1561.8,1112.4 1567.6,1118.0 1573.4,1128.9 1579.2,1140.0 1585.0,1144.9 1590.8,1142.0 1596.6,1135.4 1602.4,1131.1 1608.2,1132.6 1614.0,1138.4 1619.8,1144.7 1625.6,1147.8 1631.4,1146.3 1637.2,1140.6 1643.0,1133.0 1648.8,1126.5 1654.6,1123.3 1660.4,1124.6 1666.2,1129.9 1672.0,1136.6 1677.8,1140.6 1683.6,1138.9 1689.4,1130.7 1695.2,1118.3 1701.0,1105.4 1706.8,1095.6 1712.6,1091.1 1718.4,1092.3 1724.2,1097.7 1730.0,1104.6 1735.8,1110.5 1741.6,1114.5 1747.4,1116.7 1753.2,1117.5 1759.0,1115.9 1764.8,1109.8 1770.6,1098.5 1776.4,1084.4 1782.2,1071.9 1788.0,1064.6 1793.8,1063.6 1799.6,1067.1 1805.4,1071.7 1811.2,1074.6 1817.0,1074.4 1822.8,1071.5 1828.6,1067.5 1834.4,1064.0 1840.2,1062.1 1846.0,1061.5 1851.8,1061.7 1857.6,1061.8 1863.4,1060.4 1869.2,1055.4 1875.0,1045.4 1880.8,1029.4 1886.6,1008.8 1892.4,987.7 1898.2,972.2 1904.0,966.1 1909.8,969.6 1915.6,979.3 1921.4,991.0 1927.2,1001.8 1933.0,1010.8 1938.8,1018.0 1944.6,1022.5 1950.4,1022.5 1956.2,1016.4 1962.0,1004.2 1967.8,988.2 1973.6,971.8 1979.4,957.2 1985.2,944.8 1991.0,933.1 1996.8,920.9 2002.6,908.5 2008.4,897.3 2014.2,888.8 2020.0,883.6 2025.8,880.8 2031.6,878.6 2037.4,875.6 2043.2,871.4 2049.0,867.1 2054.8,864.0 2060.6,863.5 2066.4,865.2 2072.2,867.0 2078.0,865.7 2083.8,858.8 2089.6,846.8 2095.4,835.1" fill="none" stroke="#000" stroke-width="3.7" stroke-linejoin="round"/>
<polyline points="1225.4,1196.1 1231.2,1203.6 1237.0,1214.4 1242.8,1225.2 1248.6,1233.3 1254.4,1239.0 1260.2,1242.8 1266.0,1243.4 1271.8,1240.1 1277.6,1232.5 1283.4,1221.7 1289.2,1212.3 1295.0,1206.8 1300.8,1204.8 1306.6,1204.7 1312.4,1206.0 1318.2,1209.3 1324.0,1214.3 1329.8,1218.9 1335.6,1220.5 1341.4,1217.4 1347.2,1209.8 1353.0,1199.3 1358.8,1188.2 1364.6,1178.3 1370.4,1170.0 1376.2,1163.2 1382.0,1158.2 1387.8,1156.0 1393.6,1156.8 1399.4,1159.9 1405.2,1164.2 1411.0,1168.2 1416.8,1170.3 1422.6,1169.0 1428.4,1163.6 1434.2,1154.9 1440.0,1145.6 1445.8,1139.2 1451.6,1138.3 1457.4,1140.7 1463.2,1139.6 1469.0,1130.1 1474.8,1115.6 1480.6,1104.0 1486.4,1099.7 1492.2,1104.1 1498.0,1114.7 1503.8,1129.9 1509.6,1147.8 1515.4,1163.1 1521.2,1171.1 1527.0,1171.0 1532.8,1165.2 1538.6,1156.4 1544.4,1146.8 1550.2,1138.3 1556.0,1132.6 1561.8,1131.0 1567.6,1134.0 1573.4,1140.9 1579.2,1149.7 1585.0,1158.1 1590.8,1164.1 1596.6,1166.2 1602.4,1163.7 1608.2,1156.7 1614.0,1146.4 1619.8,1135.4 1625.6,1127.2 1631.4,1124.0 1637.2,1125.3 1643.0,1129.4 1648.8,1134.2 1654.6,1137.7 1660.4,1138.4 1666.2,1135.2 1672.0,1128.2 1677.8,1118.2 1683.6,1106.7 1689.4,1095.1 1695.2,1084.0 1701.0,1073.9 1706.8,1066.0 1712.6,1061.2 1718.4,1059.8 1724.2,1060.1 1730.0,1060.0 1735.8,1058.4 1741.6,1055.8 1747.4,1053.7 1753.2,1053.2 1759.0,1054.2 1764.8,1055.1 1770.6,1053.9 1776.4,1049.5 1782.2,1042.3 1788.0,1034.0 1793.8,1027.7 1799.6,1026.3 1805.4,1031.3 1811.2,1041.4 1817.0,1053.1 1822.8,1062.8 1828.6,1068.4 1834.4,1070.4 1840.2,1070.1 1846.0,1068.3 1851.8,1065.6 1857.6,1062.4 1863.4,1059.3 1869.2,1056.2 1875.0,1052.9 1880.8,1048.8 1886.6,1043.8 1892.4,1039.1 1898.2,1036.1 1904.0,1035.0 1909.8,1033.9 1915.6,1030.3 1921.4,1022.6 1927.2,1011.2 1933.0,998.7 1938.8,988.2 1944.6,982.2 1950.4,980.7 1956.2,981.8 1962.0,981.9 1967.8,977.3 1973.6,965.8 1979.4,948.5 1985.2,929.5 1991.0,914.1 1996.8,905.9 2002.6,904.2 2008.4,904.5 2014.2,901.8 2020.0,894.0 2025.8,883.3 2031.6,875.0 2037.4,873.6 2043.2,881.5 2049.0,896.5 2054.8,912.9 2060.6,924.0 2066.4,924.9 2072.2,915.3 2078.0,898.9 2083.8,881.6 2089.6,867.8 2095.4,859.9" fill="none" stroke="#000" stroke-width="3.7" stroke-linejoin="round"/>
<polyline points="1225.4,1168.7 1231.2,1165.1 1237.0,1163.1 1242.8,1166.1 1248.6,1174.3 1254.4,1185.1 1260.2,1196.5 1266.0,1206.8 1271.8,1214.5 1277.6,1217.9 1283.4,1216.3 1289.2,1212.3 1295.0,1207.8 1300.8,1203.0 1306.6,1197.7 1312.4,1193.0 1318.2,1190.7 1324.0,1192.3 1329.8,1197.4 1335.6,1204.2 1341.4,1210.2 1347.2,1213.4 1353.0,1213.1 1358.8,1210.4 1364.6,1207.7 1370.4,1207.2 1376.2,1208.9 1382.0,1211.0 1387.8,1210.6 1393.6,1205.2 1399.4,1193.7 1405.2,1178.1 1411.0,1162.2 1416.8,1150.4 1422.6,1145.8 1428.4,1149.2 1434.2,1158.4 1440.0,1169.5 1445.8,1178.4 1451.6,1182.7 1457.4,1182.5 1463.2,1180.4 1469.0,1179.4 1474.8,1180.5 1480.6,1182.4 1486.4,1183.7 1492.2,1183.7 1498.0,1183.6 1503.8,1184.7 1509.6,1186.7 1515.4,1187.8 1521.2,1185.9 1527.0,1180.9 1532.8,1174.4 1538.6,1168.8 1544.4,1165.6 1550.2,1164.2 1556.0,1163.3 1561.8,1161.5 1567.6,1158.4 1573.4,1155.5 1579.2,1155.9 1585.0,1162.3 1590.8,1174.8 1596.6,1189.3 1602.4,1198.8 1608.2,1197.4 1614.0,1183.7 1619.8,1161.7 1625.6,1138.1 1631.4,1118.0 1637.2,1103.5 1643.0,1094.4 1648.8,1089.9 1654.6,1088.7 1660.4,1089.6 1666.2,1091.5 1672.0,1093.4 1677.8,1094.9 1683.6,1096.3 1689.4,1098.4 1695.2,1101.0 1701.0,1103.5 1706.8,1105.4 1712.6,1107.6 1718.4,1110.6 1724.2,1114.0 1730.0,1115.4 1735.8,1112.4 1741.6,1103.7 1747.4,1090.1 1753.2,1074.3 1759.0,1059.9 1764.8,1050.1 1770.6,1047.1 1776.4,1051.2 1782.2,1061.1 1788.0,1073.7 1793.8,1085.4 1799.6,1093.2 1805.4,1095.1 1811.2,1089.9 1817.0,1077.4 1822.8,1059.2 1828.6,1039.0 1834.4,1022.5 1840.2,1016.0 1846.0,1022.0 1851.8,1032.2 1857.6,1039.5 1863.4,1041.5 1869.2,1038.2 1875.0,1032.2 1880.8,1027.4 1886.6,1026.0 1892.4,1028.0 1898.2,1030.9 1904.0,1031.2 1909.8,1026.4 1915.6,1016.4 1921.4,1003.3 1927.2,989.7 1933.0,977.4 1938.8,966.8 1944.6,957.3 1950.4,947.8 1956.2,937.4 1962.0,926.1 1967.8,914.8 1973.6,905.5 1979.4,899.2 1985.2,895.3 1991.0,892.0 1996.8,888.8 2002.6,886.8 2008.4,887.6 2014.2,891.6 2020.0,897.0 2025.8,901.3 2031.6,902.8 2037.4,901.0 2043.2,896.5 2049.0,889.6 2054.8,881.0 2060.6,871.9 2066.4,864.0 2072.2,859.3 2078.0,859.4 2083.8,865.4 2089.6,875.6 2095.4,884.8" fill="none" stroke="#000" stroke-width="3.7" stroke-linejoin="round"/>
<polyline points="1225.4,1190.6 1231.2,1194.1 1237.0,1199.4 1242.8,1205.6 1248.6,1211.7 1254.4,1217.8 1260.2,1224.4 1266.0,1230.9 1271.8,1236.8 1277.6,1239.9 1283.4,1237.2 1289.2,1229.7 1295.0,1220.1 1300.8,1211.3 1306.6,1205.6 1312.4,1203.8 1318.2,1205.1 1324.0,1207.8 1329.8,1210.8 1335.6,1213.5 1341.4,1214.6 1347.2,1212.1 1353.0,1203.7 1358.8,1189.7 1364.6,1173.7 1370.4,1161.3 1376.2,1156.7 1382.0,1161.3 1387.8,1172.0 1393.6,1182.9 1399.4,1188.2 1405.2,1184.9 1411.0,1174.3 1416.8,1160.6 1422.6,1150.1 1428.4,1148.0 1434.2,1155.7 1440.0,1170.2 1445.8,1185.3 1451.6,1195.2 1457.4,1197.0 1463.2,1191.7 1469.0,1183.3 1474.8,1176.2 1480.6,1172.4 1486.4,1171.1 1492.2,1169.2 1498.0,1164.3 1503.8,1157.3 1509.6,1151.6 1515.4,1150.1 1521.2,1154.0 1527.0,1161.9 1532.8,1171.2 1538.6,1178.5 1544.4,1181.1 1550.2,1178.4 1556.0,1172.1 1561.8,1165.5 1567.6,1161.5 1573.4,1160.8 1579.2,1161.1 1585.0,1158.4 1590.8,1149.5 1596.6,1134.6 1602.4,1116.7 1608.2,1100.0 1614.0,1088.4 1619.8,1084.1 1625.6,1087.5 1631.4,1097.0 1637.2,1108.9 1643.0,1119.4 1648.8,1125.9 1654.6,1127.6 1660.4,1125.7 1666.2,1122.7 1672.0,1121.2 1677.8,1122.7 1683.6,1127.7 1689.4,1134.9 1695.2,1141.8 1701.0,1146.2 1706.8,1146.8 1712.6,1144.2 1718.4,1140.2 1724.2,1136.8 1730.0,1135.2 1735.8,1134.9 1741.6,1134.0 1747.4,1130.0 1753.2,1121.0 1759.0,1107.1 1764.8,1090.2 1770.6,1074.5 1776.4,1064.9 1782.2,1064.4 1788.0,1072.6 1793.8,1085.9 1799.6,1099.4 1805.4,1108.6 1811.2,1111.3 1817.0,1107.3 1822.8,1098.7 1828.6,1088.1 1834.4,1078.0 1840.2,1069.3 1846.0,1062.1 1851.8,1057.0 1857.6,1054.8 1863.4,1055.7 1869.2,1058.8 1875.0,1062.6 1880.8,1064.4 1886.6,1061.0 1892.4,1050.5 1898.2,1033.6 1904.0,1013.9 1909.8,995.9 1915.6,983.3 1921.4,977.5 1927.2,977.6 1933.0,981.5 1938.8,986.6 1944.6,989.5 1950.4,987.5 1956.2,979.6 1962.0,967.6 1967.8,955.9 1973.6,947.5 1979.4,940.1 1985.2,928.8 1991.0,912.9 1996.8,897.5 2002.6,888.8 2008.4,888.0 2014.2,890.8 2020.0,893.3 2025.8,892.4 2031.6,889.3 2037.4,887.6 2043.2,889.0 2049.0,891.3 2054.8,891.0 2060.6,884.9 2066.4,871.8 2072.2,853.0 2078.0,832.2 2083.8,815.0 2089.6,805.6 2095.4,803.3" fill="none" stroke="#000" stroke-width="3.7" stroke-linejoin="round"/>
<polyline points="1225.4,1192.6 1231.2,1195.2 1237.0,1197.9 1242.8,1200.6 1248.6,1203.8 1254.4,1208.1 1260.2,1212.7 1266.0,1215.4 1271.8,1215.6 1277.6,1213.9 1283.4,1211.2 1289.2,1211.2 1295.0,1217.9 1300.8,1233.8 1306.6,1253.7 1312.4,1267.1 1318.2,1268.2 1324.0,1256.0 1329.8,1237.6 1335.6,1222.9 1341.4,1218.7 1347.2,1224.8 1353.0,1234.9 1358.8,1243.7 1364.6,1249.9 1370.4,1253.9 1376.2,1254.7 1382.0,1250.1 1387.8,1238.5 1393.6,1221.3 1399.4,1203.4 1405.2,1191.2 1411.0,1187.9 1416.8,1192.2 1422.6,1200.0 1428.4,1207.7 1434.2,1213.7 1440.0,1218.6 1445.8,1223.6 1451.6,1229.2 1457.4,1234.3 1463.2,1236.8 1469.0,1234.9 1474.8,1228.4 1480.6,1219.6 1486.4,1212.3 1492.2,1208.2 1498.0,1205.2 1503.8,1199.9 1509.6,1190.9 1515.4,1179.6 1521.2,1168.6 1527.0,1159.2 1532.8,1150.2 1538.6,1141.1 1544.4,1133.3 1550.2,1129.9 1556.0,1133.4 1561.8,1142.9 1567.6,1154.5 1573.4,1163.3 1579.2,1165.0 1585.0,1157.9 1590.8,1143.4 1596.6,1126.3 1602.4,1112.0 1608.2,1103.8 1614.0,1102.6 1619.8,1106.9 1625.6,1115.3 1631.4,1125.6 1637.2,1135.3 1643.0,1141.4 1648.8,1142.1 1654.6,1137.6 1660.4,1130.2 1666.2,1123.3 1672.0,1119.5 1677.8,1119.9 1683.6,1124.4 1689.4,1131.4 1695.2,1138.3 1701.0,1141.7 1706.8,1138.7 1712.6,1128.4 1718.4,1112.9 1724.2,1095.9 1730.0,1081.1 1735.8,1071.4 1741.6,1068.0 1747.4,1070.6 1753.2,1077.9 1759.0,1087.4 1764.8,1095.6 1770.6,1099.8 1776.4,1099.6 1782.2,1096.2 1788.0,1091.6 1793.8,1086.9 1799.6,1082.1 1805.4,1076.8 1811.2,1072.0 1817.0,1069.1 1822.8,1069.1 1828.6,1071.4 1834.4,1074.2 1840.2,1075.9 1846.0,1075.9 1851.8,1074.4 1857.6,1071.4 1863.4,1066.5 1869.2,1059.6 1875.0,1051.7 1880.8,1043.7 1886.6,1035.4 1892.4,1027.1 1898.2,1020.0 1904.0,1015.2 1909.8,1012.4 1915.6,1010.2 1921.4,1006.1 1927.2,998.8 1933.0,989.5 1938.8,980.5 1944.6,973.6 1950.4,969.7 1956.2,968.2 1962.0,967.2 1967.8,964.2 1973.6,957.3 1979.4,946.1 1985.2,932.9 1991.0,920.9 1996.8,913.1 2002.6,909.8 2008.4,909.1 2014.2,908.0 2020.0,905.3 2025.8,902.7 2031.6,903.3 2037.4,908.9 2043.2,918.7 2049.0,929.2 2054.8,936.4 2060.6,938.2 2066.4,935.2 2072.2,929.0 2078.0,921.9 2083.8,915.3 2089.6,909.8 2095.4,905.8" fill="none" stroke="#000" stroke-width="3.7" stroke-linejoin="round"/>
<polyline points="1225.4,1180.0 1231.2,1179.4 1237.0,1181.3 1242.8,1187.8 1248.6,1198.0 1254.4,1210.0 1260.2,1223.2 1266.0,1237.2 1271.8,1251.3 1277.6,1263.2 1283.4,1269.6 1289.2,1270.1 1295.0,1265.0 1300.8,1254.3 1306.6,1239.4 1312.4,1223.4 1318.2,1210.3 1324.0,1202.8 1329.8,1201.5 1335.6,1204.9 1341.4,1210.4 1347.2,1215.2 1353.0,1217.3 1358.8,1215.9 1364.6,1212.8 1370.4,1213.7 1376.2,1222.8 1382.0,1237.0 1387.8,1244.1 1393.6,1235.7 1399.4,1216.0 1405.2,1193.1 1411.0,1175.8 1416.8,1170.3 1422.6,1175.2 1428.4,1184.2 1434.2,1193.1 1440.0,1201.3 1445.8,1209.5 1451.6,1217.6 1457.4,1223.9 1463.2,1227.1 1469.0,1227.5 1474.8,1226.0 1480.6,1224.0 1486.4,1221.9 1492.2,1218.7 1498.0,1213.3 1503.8,1205.4 1509.6,1195.9 1515.4,1186.7 1521.2,1180.0 1527.0,1177.4 1532.8,1179.1 1538.6,1183.0 1544.4,1186.0 1550.2,1185.9 1556.0,1182.7 1561.8,1178.9 1567.6,1176.6 1573.4,1176.8 1579.2,1178.4 1585.0,1179.3 1590.8,1177.6 1596.6,1172.9 1602.4,1165.6 1608.2,1157.1 1614.0,1148.6 1619.8,1141.1 1625.6,1135.7 1631.4,1133.2 1637.2,1133.6 1643.0,1136.6 1648.8,1141.1 1654.6,1144.9 1660.4,1146.3 1666.2,1144.2 1672.0,1138.5 1677.8,1129.8 1683.6,1118.7 1689.4,1105.0 1695.2,1089.1 1701.0,1072.8 1706.8,1059.6 1712.6,1052.8 1718.4,1053.8 1724.2,1061.0 1730.0,1071.0 1735.8,1080.7 1741.6,1088.9 1747.4,1095.6 1753.2,1101.4 1759.0,1106.4 1764.8,1109.8 1770.6,1111.1 1776.4,1110.0 1782.2,1106.9 1788.0,1101.6 1793.8,1094.1 1799.6,1084.5 1805.4,1073.9 1811.2,1065.0 1817.0,1060.9 1822.8,1063.1 1828.6,1070.5 1834.4,1079.4 1840.2,1085.7 1846.0,1087.5 1851.8,1085.8 1857.6,1083.4 1863.4,1082.2 1869.2,1081.9 1875.0,1081.7 1880.8,1080.2 1886.6,1076.4 1892.4,1070.9 1898.2,1065.1 1904.0,1060.2 1909.8,1056.4 1915.6,1052.1 1921.4,1044.4 1927.2,1031.4 1933.0,1013.7 1938.8,994.9 1944.6,979.4 1950.4,970.7 1956.2,969.9 1962.0,975.5 1967.8,983.6 1973.6,989.8 1979.4,991.1 1985.2,987.4 1991.0,980.3 1996.8,971.6 2002.6,962.1 2008.4,950.8 2014.2,937.5 2020.0,923.4 2025.8,911.0 2031.6,902.4 2037.4,897.7 2043.2,895.4 2049.0,893.5 2054.8,890.8 2060.6,887.2 2066.4,883.0 2072.2,877.4 2078.0,870.2 2083.8,862.0 2089.6,854.4 2095.4,849.3" fill="none" stroke="#000" stroke-width="3.7" stroke-linejoin="round"/>
<polyline points="1225.4,1182.8 1231.2,1182.6 1237.0,1183.5 1242.8,1186.8 1248.6,1191.9 1254.4,1197.3 1260.2,1202.0 1266.0,1206.3 1271.8,1211.7 1277.6,1219.6 1283.4,1229.6 1289.2,1241.5 1295.0,1253.1 1300.8,1261.1 1306.6,1264.3 1312.4,1263.2 1318.2,1259.2 1324.0,1252.7 1329.8,1244.1 1335.6,1234.7 1341.4,1226.6 1347.2,1220.5 1353.0,1215.2 1358.8,1208.5 1364.6,1200.2 1370.4,1192.6 1376.2,1188.5 1382.0,1188.7 1387.8,1190.3 1393.6,1188.2 1399.4,1179.3 1405.2,1165.8 1411.0,1153.3 1416.8,1147.6 1422.6,1150.7 1428.4,1160.0 1434.2,1169.9 1440.0,1174.8 1445.8,1171.2 1451.6,1159.2 1457.4,1142.4 1463.2,1127.6 1469.0,1122.1 1474.8,1131.2 1480.6,1154.1 1486.4,1183.6 1492.2,1209.4 1498.0,1223.7 1503.8,1223.5 1509.6,1209.8 1515.4,1188.1 1521.2,1168.9 1527.0,1159.0 1532.8,1156.5 1538.6,1153.9 1544.4,1146.6 1550.2,1134.9 1556.0,1121.5 1561.8,1108.4 1567.6,1096.3 1573.4,1085.6 1579.2,1077.4 1585.0,1073.6 1590.8,1074.9 1596.6,1081.5 1602.4,1091.8 1608.2,1103.7 1614.0,1113.9 1619.8,1119.1 1625.6,1118.1 1631.4,1112.4 1637.2,1105.8 1643.0,1103.0 1648.8,1107.3 1654.6,1118.2 1660.4,1131.6 1666.2,1142.5 1672.0,1146.8 1677.8,1144.1 1683.6,1136.9 1689.4,1128.7 1695.2,1122.3 1701.0,1118.7 1706.8,1117.7 1712.6,1118.6 1718.4,1120.7 1724.2,1123.2 1730.0,1125.0 1735.8,1124.8 1741.6,1121.5 1747.4,1115.2 1753.2,1107.5 1759.0,1100.8 1764.8,1097.2 1770.6,1097.6 1776.4,1101.1 1782.2,1106.0 1788.0,1109.9 1793.8,1111.5 1799.6,1110.7 1805.4,1107.5 1811.2,1101.3 1817.0,1091.4 1822.8,1078.3 1828.6,1064.4 1834.4,1053.3 1840.2,1047.8 1846.0,1048.8 1851.8,1054.7 1857.6,1062.2 1863.4,1067.8 1869.2,1068.8 1875.0,1064.9 1880.8,1056.6 1886.6,1044.5 1892.4,1030.2 1898.2,1017.2 1904.0,1008.8 1909.8,1006.7 1915.6,1009.4 1921.4,1013.6 1927.2,1016.1 1933.0,1015.9 1938.8,1014.0 1944.6,1011.9 1950.4,1010.3 1956.2,1008.9 1962.0,1006.7 1967.8,1002.8 1973.6,996.5 1979.4,986.9 1985.2,973.7 1991.0,957.6 1996.8,941.1 2002.6,927.1 2008.4,917.2 2014.2,911.2 2020.0,907.8 2025.8,906.2 2031.6,906.0 2037.4,906.8 2043.2,908.1 2049.0,909.2 2054.8,909.1 2060.6,906.9 2066.4,901.9 2072.2,893.5 2078.0,881.4 2083.8,865.6 2089.6,847.8 2095.4,833.1" fill="none" stroke="#000" stroke-width="3.7" stroke-linejoin="round"/>
<polyline points="1225.4,1193.1 1231.2,1198.8 1237.0,1205.9 1242.8,1212.0 1248.6,1216.2 1254.4,1221.3 1260.2,1229.3 1266.0,1239.1 1271.8,1247.9 1277.6,1252.1 1283.4,1249.3 1289.2,1242.0 1295.0,1233.5 1300.8,1225.5 1306.6,1218.8 1312.4,1214.7 1318.2,1213.7 1324.0,1214.8 1329.8,1215.8 1335.6,1214.3 1341.4,1209.4 1347.2,1201.9 1353.0,1193.5 1358.8,1186.4 1364.6,1181.9 1370.4,1180.2 1376.2,1180.4 1382.0,1182.7 1387.8,1187.9 1393.6,1196.7 1399.4,1208.4 1405.2,1220.4 1411.0,1229.0 1416.8,1231.2 1422.6,1226.3 1428.4,1215.7 1434.2,1201.8 1440.0,1187.2 1445.8,1173.5 1451.6,1161.3 1457.4,1150.6 1463.2,1141.0 1469.0,1132.5 1474.8,1125.1 1480.6,1120.1 1486.4,1118.7 1492.2,1121.1 1498.0,1125.7 1503.8,1130.7 1509.6,1134.7 1515.4,1137.9 1521.2,1141.1 1527.0,1145.1 1532.8,1149.2 1538.6,1152.0 1544.4,1152.8 1550.2,1152.4 1556.0,1152.8 1561.8,1155.8 1567.6,1162.2 1573.4,1171.4 1579.2,1181.3 1585.0,1188.8 1590.8,1191.0 1596.6,1186.3 1602.4,1175.2 1608.2,1160.8 1614.0,1147.0 1619.8,1137.0 1625.6,1132.1 1631.4,1130.9 1637.2,1130.4 1643.0,1128.1 1648.8,1123.0 1654.6,1115.2 1660.4,1105.4 1666.2,1094.7 1672.0,1084.2 1677.8,1075.3 1683.6,1069.4 1689.4,1067.1 1695.2,1068.0 1701.0,1071.7 1706.8,1077.8 1712.6,1085.8 1718.4,1094.6 1724.2,1102.7 1730.0,1109.3 1735.8,1114.0 1741.6,1116.6 1747.4,1116.6 1753.2,1113.6 1759.0,1108.6 1764.8,1102.9 1770.6,1098.1 1776.4,1094.0 1782.2,1089.1 1788.0,1082.0 1793.8,1072.8 1799.6,1062.4 1805.4,1051.5 1811.2,1040.1 1817.0,1028.7 1822.8,1019.2 1828.6,1014.3 1834.4,1016.3 1840.2,1025.1 1846.0,1038.4 1851.8,1053.1 1857.6,1066.5 1863.4,1076.4 1869.2,1081.4 1875.0,1081.5 1880.8,1077.6 1886.6,1071.2 1892.4,1064.5 1898.2,1058.5 1904.0,1052.2 1909.8,1043.3 1915.6,1030.2 1921.4,1012.7 1927.2,992.8 1933.0,973.9 1938.8,959.5 1944.6,952.1 1950.4,952.3 1956.2,959.1 1962.0,969.9 1967.8,981.1 1973.6,989.7 1979.4,993.3 1985.2,990.1 1991.0,979.8 1996.8,963.8 2002.6,945.7 2008.4,929.5 2014.2,917.7 2020.0,910.9 2025.8,908.1 2031.6,908.0 2037.4,909.4 2043.2,910.9 2049.0,910.6 2054.8,906.9 2060.6,899.5 2066.4,889.6 2072.2,878.3 2078.0,867.0 2083.8,856.6 2089.6,848.3 2095.4,843.3" fill="none" stroke="#000" stroke-width="3.7" stroke-linejoin="round"/>
<polyline points="1225.4,1178.5 1231.2,1174.0 1237.0,1169.2 1242.8,1168.8 1248.6,1174.9 1254.4,1185.3 1260.2,1196.4 1266.0,1205.5 1271.8,1211.5 1277.6,1214.6 1283.4,1216.0 1289.2,1219.3 1295.0,1225.8 1300.8,1233.4 1306.6,1239.1 1312.4,1241.6 1318.2,1241.7 1324.0,1240.1 1329.8,1236.5 1335.6,1229.8 1341.4,1219.9 1347.2,1208.8 1353.0,1199.9 1358.8,1195.8 1364.6,1197.8 1370.4,1204.3 1376.2,1212.2 1382.0,1217.2 1387.8,1216.0 1393.6,1207.4 1399.4,1193.2 1405.2,1177.9 1411.0,1166.4 1416.8,1162.2 1422.6,1166.7 1428.4,1179.0 1434.2,1195.5 1440.0,1211.1 1445.8,1220.7 1451.6,1221.0 1457.4,1211.1 1463.2,1193.9 1469.0,1175.4 1474.8,1162.1 1480.6,1158.4 1486.4,1165.0 1492.2,1178.6 1498.0,1193.6 1503.8,1204.9 1509.6,1209.2 1515.4,1206.6 1521.2,1200.0 1527.0,1193.8 1532.8,1190.3 1538.6,1189.2 1544.4,1188.6 1550.2,1187.2 1556.0,1186.0 1561.8,1186.1 1567.6,1187.6 1573.4,1189.2 1579.2,1189.8 1585.0,1189.4 1590.8,1188.1 1596.6,1185.6 1602.4,1181.5 1608.2,1176.3 1614.0,1171.9 1619.8,1170.2 1625.6,1171.3 1631.4,1173.1 1637.2,1172.0 1643.0,1166.2 1648.8,1155.9 1654.6,1143.0 1660.4,1130.2 1666.2,1119.9 1672.0,1114.2 1677.8,1114.9 1683.6,1122.5 1689.4,1134.9 1695.2,1147.9 1701.0,1156.5 1706.8,1157.6 1712.6,1151.7 1718.4,1141.9 1724.2,1132.4 1730.0,1125.9 1735.8,1122.8 1741.6,1121.2 1747.4,1118.4 1753.2,1112.5 1759.0,1103.4 1764.8,1093.2 1770.6,1084.6 1776.4,1079.2 1782.2,1076.0 1788.0,1072.7 1793.8,1066.7 1799.6,1057.7 1805.4,1047.3 1811.2,1038.1 1817.0,1033.2 1822.8,1034.9 1828.6,1044.7 1834.4,1062.1 1840.2,1083.6 1846.0,1102.9 1851.8,1113.6 1857.6,1112.5 1863.4,1101.2 1869.2,1084.6 1875.0,1068.5 1880.8,1055.2 1886.6,1044.4 1892.4,1035.5 1898.2,1029.1 1904.0,1025.9 1909.8,1024.4 1915.6,1021.7 1921.4,1015.5 1927.2,1006.3 1933.0,996.7 1938.8,988.6 1944.6,981.6 1950.4,973.9 1956.2,965.3 1962.0,957.7 1967.8,954.1 1973.6,956.3 1979.4,963.7 1985.2,973.2 1991.0,981.0 1996.8,983.6 2002.6,979.6 2008.4,970.1 2014.2,958.4 2020.0,948.9 2025.8,945.0 2031.6,946.6 2037.4,950.8 2043.2,953.9 2049.0,954.2 2054.8,952.7 2060.6,951.2 2066.4,950.0 2072.2,947.1 2078.0,940.6 2083.8,930.7 2089.6,919.0 2095.4,909.6" fill="none" stroke="#000" stroke-width="3.7" stroke-linejoin="round"/>
<polyline points="1225.4,1179.5 1231.2,1176.5 1237.0,1172.2 1242.8,1169.3 1248.6,1170.1 1254.4,1174.0 1260.2,1179.3 1266.0,1183.8 1271.8,1186.7 1277.6,1187.1 1283.4,1185.1 1289.2,1183.0 1295.0,1182.2 1300.8,1181.7 1306.6,1180.8 1312.4,1180.0 1318.2,1180.7 1324.0,1184.8 1329.8,1192.8 1335.6,1203.5 1341.4,1214.0 1347.2,1221.2 1353.0,1223.8 1358.8,1222.6 1364.6,1220.7 1370.4,1220.7 1376.2,1223.4 1382.0,1227.3 1387.8,1229.9 1393.6,1228.4 1399.4,1221.5 1405.2,1210.0 1411.0,1196.6 1416.8,1184.4 1422.6,1175.8 1428.4,1171.0 1434.2,1168.7 1440.0,1166.7 1445.8,1164.1 1451.6,1161.3 1457.4,1159.6 1463.2,1160.3 1469.0,1163.5 1474.8,1167.3 1480.6,1169.6 1486.4,1169.5 1492.2,1167.2 1498.0,1164.4 1503.8,1162.7 1509.6,1163.4 1515.4,1167.1 1521.2,1173.3 1527.0,1181.3 1532.8,1189.9 1538.6,1198.0 1544.4,1204.5 1550.2,1208.2 1556.0,1208.5 1561.8,1204.9 1567.6,1197.5 1573.4,1186.5 1579.2,1172.9 1585.0,1158.6 1590.8,1146.3 1596.6,1138.6 1602.4,1136.4 1608.2,1138.1 1614.0,1141.2 1619.8,1143.5 1625.6,1144.6 1631.4,1144.8 1637.2,1144.3 1643.0,1143.9 1648.8,1144.4 1654.6,1146.3 1660.4,1149.2 1666.2,1151.7 1672.0,1151.9 1677.8,1148.3 1683.6,1140.6 1689.4,1130.0 1695.2,1119.0 1701.0,1109.8 1706.8,1103.7 1712.6,1100.1 1718.4,1097.1 1724.2,1092.5 1730.0,1085.7 1735.8,1078.1 1741.6,1072.4 1747.4,1070.7 1753.2,1073.4 1759.0,1078.5 1764.8,1083.3 1770.6,1085.6 1776.4,1085.4 1782.2,1083.2 1788.0,1080.0 1793.8,1076.4 1799.6,1072.9 1805.4,1070.2 1811.2,1068.8 1817.0,1068.7 1822.8,1068.8 1828.6,1067.5 1834.4,1063.4 1840.2,1057.0 1846.0,1049.8 1851.8,1043.7 1857.6,1040.1 1863.4,1038.9 1869.2,1039.7 1875.0,1041.8 1880.8,1044.3 1886.6,1046.0 1892.4,1046.1 1898.2,1044.5 1904.0,1041.7 1909.8,1038.6 1915.6,1035.7 1921.4,1033.2 1927.2,1031.1 1933.0,1029.0 1938.8,1027.0 1944.6,1025.5 1950.4,1024.6 1956.2,1023.8 1962.0,1021.6 1967.8,1016.2 1973.6,1006.9 1979.4,993.5 1985.2,977.0 1991.0,958.4 1996.8,939.6 2002.6,922.2 2008.4,908.1 2014.2,898.5 2020.0,894.0 2025.8,894.4 2031.6,897.9 2037.4,902.2 2043.2,904.8 2049.0,904.3 2054.8,900.8 2060.6,896.4 2066.4,893.9 2072.2,894.5 2078.0,897.2 2083.8,899.5 2089.6,899.2 2095.4,897.2" fill="none" stroke="#000" stroke-width="3.7" stroke-linejoin="round"/>
<polyline points="1225.4,1191.4 1231.2,1194.4 1237.0,1197.1 1242.8,1197.6 1248.6,1195.5 1254.4,1192.1 1260.2,1189.2 1266.0,1187.9 1271.8,1188.3 1277.6,1188.5 1283.4,1186.2 1289.2,1183.0 1295.0,1181.4 1300.8,1183.1 1306.6,1188.7 1312.4,1197.3 1318.2,1207.6 1324.0,1218.0 1329.8,1226.8 1335.6,1231.8 1341.4,1230.9 1347.2,1223.1 1353.0,1209.6 1358.8,1193.3 1364.6,1177.5 1370.4,1164.4 1376.2,1155.4 1382.0,1151.5 1387.8,1153.3 1393.6,1159.4 1399.4,1166.8 1405.2,1171.7 1411.0,1171.8 1416.8,1167.4 1422.6,1161.7 1428.4,1158.7 1434.2,1161.2 1440.0,1168.3 1445.8,1175.9 1451.6,1179.2 1457.4,1175.5 1463.2,1166.7 1469.0,1158.4 1474.8,1156.0 1480.6,1162.0 1486.4,1174.3 1492.2,1187.0 1498.0,1192.9 1503.8,1187.4 1509.6,1171.5 1515.4,1150.9 1521.2,1132.1 1527.0,1119.5 1532.8,1112.9 1538.6,1109.6 1544.4,1107.2 1550.2,1105.5 1556.0,1106.4 1561.8,1112.2 1567.6,1123.3 1573.4,1137.0 1579.2,1148.4 1585.0,1153.2 1590.8,1150.5 1596.6,1143.7 1602.4,1138.0 1608.2,1137.1 1614.0,1140.0 1619.8,1143.2 1625.6,1143.0 1631.4,1138.4 1637.2,1131.1 1643.0,1124.1 1648.8,1118.9 1654.6,1115.1 1660.4,1111.0 1666.2,1106.0 1672.0,1101.4 1677.8,1099.5 1683.6,1102.1 1689.4,1109.4 1695.2,1119.4 1701.0,1129.7 1706.8,1138.0 1712.6,1143.1 1718.4,1144.8 1724.2,1142.6 1730.0,1136.8 1735.8,1128.8 1741.6,1120.9 1747.4,1115.1 1753.2,1112.1 1759.0,1110.9 1764.8,1110.1 1770.6,1109.1 1776.4,1107.3 1782.2,1104.1 1788.0,1098.9 1793.8,1091.5 1799.6,1082.6 1805.4,1072.9 1811.2,1063.5 1817.0,1055.8 1822.8,1050.9 1828.6,1049.7 1834.4,1052.3 1840.2,1057.4 1846.0,1063.0 1851.8,1067.2 1857.6,1068.8 1863.4,1067.2 1869.2,1063.0 1875.0,1057.9 1880.8,1053.7 1886.6,1051.2 1892.4,1050.2 1898.2,1049.0 1904.0,1045.3 1909.8,1037.9 1915.6,1027.1 1921.4,1014.4 1927.2,1001.4 1933.0,989.2 1938.8,978.6 1944.6,970.8 1950.4,966.8 1956.2,966.7 1962.0,968.8 1967.8,969.4 1973.6,966.2 1979.4,959.2 1985.2,951.4 1991.0,946.6 1996.8,946.8 2002.6,950.1 2008.4,952.0 2014.2,947.8 2020.0,936.5 2025.8,921.1 2031.6,906.6 2037.4,895.9 2043.2,888.4 2049.0,880.3 2054.8,867.7 2060.6,849.7 2066.4,829.1 2072.2,811.1 2078.0,800.7 2083.8,800.1 2089.6,806.5 2095.4,813.5" fill="none" stroke="#000" stroke-width="3.7" stroke-linejoin="round"/>
<polyline points="1225.4,1194.8 1231.2,1200.8 1237.0,1209.9 1242.8,1220.7 1248.6,1232.5 1254.4,1245.6 1260.2,1258.5 1266.0,1267.8 1271.8,1271.4 1277.6,1268.9 1283.4,1261.4 1289.2,1251.9 1295.0,1241.8 1300.8,1230.5 1306.6,1218.4 1312.4,1207.5 1318.2,1200.8 1324.0,1199.4 1329.8,1202.5 1335.6,1208.2 1341.4,1214.7 1347.2,1221.0 1353.0,1226.7 1358.8,1232.4 1364.6,1238.5 1370.4,1244.4 1376.2,1248.2 1382.0,1248.6 1387.8,1245.4 1393.6,1239.4 1399.4,1231.3 1405.2,1221.6 1411.0,1210.5 1416.8,1198.5 1422.6,1187.1 1428.4,1177.5 1434.2,1170.1 1440.0,1164.6 1445.8,1160.2 1451.6,1156.7 1457.4,1154.1 1463.2,1152.9 1469.0,1153.7 1474.8,1155.6 1480.6,1157.7 1486.4,1159.2 1492.2,1159.7 1498.0,1159.1 1503.8,1157.5 1509.6,1155.2 1515.4,1153.4 1521.2,1154.2 1527.0,1158.8 1532.8,1166.5 1538.6,1174.9 1544.4,1180.8 1550.2,1182.5 1556.0,1180.0 1561.8,1173.5 1567.6,1163.6 1573.4,1151.6 1579.2,1141.0 1585.0,1136.3 1590.8,1140.7 1596.6,1153.7 1602.4,1170.7 1608.2,1185.4 1614.0,1192.2 1619.8,1188.1 1625.6,1174.6 1631.4,1155.7 1637.2,1137.1 1643.0,1123.7 1648.8,1117.6 1654.6,1117.9 1660.4,1121.3 1666.2,1124.5 1672.0,1124.9 1677.8,1121.4 1683.6,1113.7 1689.4,1103.2 1695.2,1091.8 1701.0,1081.8 1706.8,1075.1 1712.6,1073.7 1718.4,1079.2 1724.2,1091.6 1730.0,1109.0 1735.8,1127.5 1741.6,1142.5 1747.4,1150.0 1753.2,1148.8 1759.0,1140.4 1764.8,1128.1 1770.6,1115.5 1776.4,1105.2 1782.2,1098.0 1788.0,1093.1 1793.8,1089.5 1799.6,1086.5 1805.4,1084.2 1811.2,1082.5 1817.0,1080.9 1822.8,1078.3 1828.6,1074.4 1834.4,1069.9 1840.2,1065.9 1846.0,1062.7 1851.8,1059.8 1857.6,1055.8 1863.4,1049.4 1869.2,1040.7 1875.0,1032.2 1880.8,1026.0 1886.6,1022.3 1892.4,1019.5 1898.2,1015.5 1904.0,1009.1 1909.8,1000.6 1915.6,990.7 1921.4,979.9 1927.2,968.3 1933.0,956.7 1938.8,946.5 1944.6,939.5 1950.4,937.1 1956.2,939.4 1962.0,945.1 1967.8,951.4 1973.6,955.4 1979.4,954.9 1985.2,950.0 1991.0,943.0 1996.8,937.3 2002.6,935.7 2008.4,937.9 2014.2,941.2 2020.0,942.2 2025.8,939.5 2031.6,934.3 2037.4,929.3 2043.2,926.4 2049.0,925.6 2054.8,925.5 2060.6,924.9 2066.4,924.1 2072.2,923.6 2078.0,923.3 2083.8,921.3 2089.6,915.9 2095.4,909.3" fill="none" stroke="#000" stroke-width="3.7" stroke-linejoin="round"/>
<polyline points="1225.4,1171.8 1231.2,1171.5 1237.0,1176.5 1242.8,1187.9 1248.6,1201.4 1254.4,1213.1 1260.2,1223.0 1266.0,1232.0 1271.8,1239.7 1277.6,1243.4 1283.4,1240.0 1289.2,1231.7 1295.0,1223.1 1300.8,1218.5 1306.6,1220.5 1312.4,1228.5 1318.2,1239.9 1324.0,1251.3 1329.8,1259.8 1335.6,1263.3 1341.4,1260.3 1347.2,1251.0 1353.0,1237.2 1358.8,1222.6 1364.6,1211.0 1370.4,1204.9 1376.2,1203.7 1382.0,1204.8 1387.8,1204.7 1393.6,1200.7 1399.4,1192.4 1405.2,1181.5 1411.0,1170.0 1416.8,1158.8 1422.6,1148.0 1428.4,1138.4 1434.2,1132.1 1440.0,1131.0 1445.8,1135.9 1451.6,1145.5 1457.4,1156.3 1463.2,1165.1 1469.0,1170.6 1474.8,1173.1 1480.6,1174.1 1486.4,1174.7 1492.2,1174.6 1498.0,1173.3 1503.8,1171.3 1509.6,1170.3 1515.4,1171.3 1521.2,1174.1 1527.0,1178.0 1532.8,1182.3 1538.6,1186.3 1544.4,1188.5 1550.2,1186.0 1556.0,1176.2 1561.8,1159.4 1567.6,1139.2 1573.4,1121.7 1579.2,1112.0 1585.0,1111.2 1590.8,1117.2 1596.6,1126.3 1602.4,1135.5 1608.2,1142.8 1614.0,1146.9 1619.8,1146.6 1625.6,1142.5 1631.4,1136.2 1637.2,1130.3 1643.0,1127.0 1648.8,1126.8 1654.6,1129.0 1660.4,1132.5 1666.2,1136.6 1672.0,1140.8 1677.8,1143.6 1683.6,1143.0 1689.4,1138.4 1695.2,1132.0 1701.0,1127.6 1706.8,1127.9 1712.6,1132.4 1718.4,1137.4 1724.2,1137.8 1730.0,1131.5 1735.8,1120.3 1741.6,1108.6 1747.4,1099.8 1753.2,1094.3 1759.0,1090.2 1764.8,1085.4 1770.6,1079.9 1776.4,1074.9 1782.2,1071.5 1788.0,1068.7 1793.8,1064.4 1799.6,1057.5 1805.4,1048.8 1811.2,1041.2 1817.0,1038.3 1822.8,1042.5 1828.6,1052.6 1834.4,1064.8 1840.2,1073.9 1846.0,1076.8 1851.8,1073.6 1857.6,1067.0 1863.4,1059.4 1869.2,1052.3 1875.0,1046.5 1880.8,1042.5 1886.6,1039.8 1892.4,1037.9 1898.2,1036.2 1904.0,1034.1 1909.8,1031.4 1915.6,1028.7 1921.4,1026.6 1927.2,1024.9 1933.0,1021.9 1938.8,1015.7 1944.6,1005.5 1950.4,993.1 1956.2,981.7 1962.0,973.7 1967.8,968.9 1973.6,965.2 1979.4,960.0 1985.2,951.6 1991.0,939.5 1996.8,924.3 2002.6,907.2 2008.4,889.2 2014.2,872.5 2020.0,860.6 2025.8,857.8 2031.6,866.4 2037.4,885.2 2043.2,908.3 2049.0,927.3 2054.8,934.9 2060.6,928.9 2066.4,912.7 2072.2,892.3 2078.0,872.9 2083.8,857.4 2089.6,846.9 2095.4,841.5" fill="none" stroke="#000" stroke-width="3.7" stroke-linejoin="round"/>
<polyline points="1225.4,1180.1 1231.2,1178.4 1237.0,1176.1 1242.8,1174.4 1248.6,1174.6 1254.4,1177.7 1260.2,1184.8 1266.0,1196.5 1271.8,1212.6 1277.6,1230.7 1283.4,1246.7 1289.2,1258.8 1295.0,1265.9 1300.8,1266.9 1306.6,1262.3 1312.4,1254.0 1318.2,1244.3 1324.0,1234.3 1329.8,1223.9 1335.6,1213.3 1341.4,1203.7 1347.2,1197.7 1353.0,1197.1 1358.8,1201.4 1364.6,1207.4 1370.4,1210.9 1376.2,1209.0 1382.0,1202.1 1387.8,1193.8 1393.6,1188.3 1399.4,1188.0 1405.2,1192.7 1411.0,1199.7 1416.8,1205.8 1422.6,1209.3 1428.4,1210.1 1434.2,1208.8 1440.0,1206.6 1445.8,1204.4 1451.6,1202.8 1457.4,1201.6 1463.2,1200.0 1469.0,1197.0 1474.8,1192.0 1480.6,1185.2 1486.4,1177.1 1492.2,1167.4 1498.0,1155.7 1503.8,1142.5 1509.6,1129.5 1515.4,1119.3 1521.2,1114.5 1527.0,1116.3 1532.8,1124.0 1538.6,1135.9 1544.4,1149.7 1550.2,1164.1 1556.0,1178.2 1561.8,1191.6 1567.6,1203.1 1573.4,1211.4 1579.2,1214.9 1585.0,1212.7 1590.8,1205.0 1596.6,1193.0 1602.4,1178.5 1608.2,1163.7 1614.0,1150.2 1619.8,1139.1 1625.6,1130.7 1631.4,1124.6 1637.2,1120.1 1643.0,1117.5 1648.8,1117.5 1654.6,1121.1 1660.4,1127.8 1666.2,1135.7 1672.0,1141.8 1677.8,1143.5 1683.6,1140.1 1689.4,1132.5 1695.2,1122.7 1701.0,1113.6 1706.8,1107.9 1712.6,1107.3 1718.4,1111.7 1724.2,1118.2 1730.0,1123.1 1735.8,1123.6 1741.6,1119.2 1747.4,1111.9 1753.2,1104.0 1759.0,1097.3 1764.8,1092.0 1770.6,1087.9 1776.4,1084.0 1782.2,1079.1 1788.0,1072.2 1793.8,1063.7 1799.6,1054.9 1805.4,1047.8 1811.2,1044.0 1817.0,1044.2 1822.8,1048.2 1828.6,1055.2 1834.4,1064.7 1840.2,1075.9 1846.0,1087.4 1851.8,1096.1 1857.6,1098.8 1863.4,1093.8 1869.2,1083.1 1875.0,1071.6 1880.8,1063.5 1886.6,1058.8 1892.4,1055.1 1898.2,1049.8 1904.0,1042.2 1909.8,1033.3 1915.6,1024.4 1921.4,1015.7 1927.2,1006.5 1933.0,996.8 1938.8,987.4 1944.6,979.0 1950.4,971.3 1956.2,963.2 1962.0,954.0 1967.8,944.7 1973.6,937.5 1979.4,934.2 1985.2,934.4 1991.0,935.7 1996.8,935.5 2002.6,932.2 2008.4,926.5 2014.2,920.3 2020.0,915.6 2025.8,912.9 2031.6,910.9 2037.4,907.3 2043.2,900.4 2049.0,889.6 2054.8,875.7 2060.6,860.9 2066.4,848.2 2072.2,840.2 2078.0,838.5 2083.8,842.3 2089.6,849.1 2095.4,854.9" fill="none" stroke="#000" stroke-width="3.7" stroke-linejoin="round"/>
<polyline points="1225.4,1187.2 1231.2,1189.7 1237.0,1194.5 1242.8,1201.1 1248.6,1207.8 1254.4,1214.3 1260.2,1221.9 1266.0,1231.1 1271.8,1240.9 1277.6,1248.3 1283.4,1249.2 1289.2,1243.4 1295.0,1233.2 1300.8,1221.5 1306.6,1211.5 1312.4,1205.7 1318.2,1204.0 1324.0,1204.1 1329.8,1203.7 1335.6,1201.8 1341.4,1199.5 1347.2,1198.5 1353.0,1199.5 1358.8,1202.4 1364.6,1206.8 1370.4,1211.3 1376.2,1213.5 1382.0,1211.5 1387.8,1205.2 1393.6,1196.6 1399.4,1189.4 1405.2,1186.0 1411.0,1185.6 1416.8,1185.3 1422.6,1181.8 1428.4,1174.4 1434.2,1164.7 1440.0,1155.3 1445.8,1147.2 1451.6,1139.2 1457.4,1130.6 1463.2,1123.6 1469.0,1121.8 1474.8,1126.6 1480.6,1135.7 1486.4,1143.8 1492.2,1145.6 1498.0,1139.5 1503.8,1128.9 1509.6,1120.4 1515.4,1119.4 1521.2,1127.8 1527.0,1143.1 1532.8,1160.5 1538.6,1176.0 1544.4,1186.9 1550.2,1192.0 1556.0,1190.8 1561.8,1184.1 1567.6,1174.7 1573.4,1166.5 1579.2,1162.4 1585.0,1161.7 1590.8,1161.5 1596.6,1158.9 1602.4,1153.5 1608.2,1146.9 1614.0,1141.1 1619.8,1136.9 1625.6,1134.4 1631.4,1132.6 1637.2,1129.9 1643.0,1125.1 1648.8,1118.2 1654.6,1111.2 1660.4,1107.8 1666.2,1110.4 1672.0,1118.7 1677.8,1129.9 1683.6,1140.8 1689.4,1149.2 1695.2,1154.4 1701.0,1156.3 1706.8,1155.6 1712.6,1152.9 1718.4,1149.0 1724.2,1143.6 1730.0,1135.9 1735.8,1125.1 1741.6,1111.5 1747.4,1096.9 1753.2,1083.8 1759.0,1074.0 1764.8,1067.9 1770.6,1064.4 1776.4,1061.9 1782.2,1059.5 1788.0,1057.1 1793.8,1055.5 1799.6,1055.4 1805.4,1055.2 1811.2,1052.1 1817.0,1043.3 1822.8,1029.3 1828.6,1013.3 1834.4,1000.3 1840.2,994.0 1846.0,995.9 1851.8,1005.1 1857.6,1018.6 1863.4,1032.4 1869.2,1042.8 1875.0,1048.6 1880.8,1049.8 1886.6,1046.8 1892.4,1039.8 1898.2,1028.9 1904.0,1014.6 1909.8,998.1 1915.6,981.4 1921.4,967.1 1927.2,956.8 1933.0,951.3 1938.8,949.0 1944.6,947.0 1950.4,943.6 1956.2,939.2 1962.0,935.5 1967.8,933.7 1973.6,933.7 1979.4,934.6 1985.2,935.7 1991.0,936.6 1996.8,936.9 2002.6,935.8 2008.4,933.6 2014.2,931.7 2020.0,931.4 2025.8,932.6 2031.6,932.8 2037.4,928.9 2043.2,919.8 2049.0,906.6 2054.8,892.0 2060.6,879.0 2066.4,869.9 2072.2,865.0 2078.0,862.2 2083.8,859.3 2089.6,854.4 2095.4,849.3" fill="none" stroke="#000" stroke-width="3.7" stroke-linejoin="round"/>
<polyline points="1225.4,1187.2 1231.2,1189.4 1237.0,1191.8 1242.8,1194.3 1248.6,1198.6 1254.4,1207.2 1260.2,1220.6 1266.0,1235.5 1271.8,1247.7 1277.6,1253.4 1283.4,1251.5 1289.2,1246.2 1295.0,1242.2 1300.8,1241.7 1306.6,1244.2 1312.4,1247.8 1318.2,1249.8 1324.0,1248.0 1329.8,1241.3 1335.6,1230.9 1341.4,1218.5 1347.2,1205.4 1353.0,1192.5 1358.8,1180.7 1364.6,1171.1 1370.4,1164.2 1376.2,1159.4 1382.0,1156.3 1387.8,1154.4 1393.6,1154.0 1399.4,1154.6 1405.2,1155.5 1411.0,1155.8 1416.8,1155.8 1422.6,1156.4 1428.4,1158.3 1434.2,1160.3 1440.0,1159.8 1445.8,1154.9 1451.6,1145.7 1457.4,1134.7 1463.2,1125.8 1469.0,1121.3 1474.8,1120.4 1480.6,1121.1 1486.4,1121.6 1492.2,1121.6 1498.0,1123.0 1503.8,1128.2 1509.6,1138.1 1515.4,1151.6 1521.2,1165.7 1527.0,1176.9 1532.8,1182.3 1538.6,1180.3 1544.4,1171.9 1550.2,1159.9 1556.0,1147.9 1561.8,1139.0 1567.6,1135.0 1573.4,1136.5 1579.2,1142.7 1585.0,1150.9 1590.8,1157.9 1596.6,1161.5 1602.4,1161.8 1608.2,1161.0 1614.0,1161.0 1619.8,1162.4 1625.6,1163.7 1631.4,1162.1 1637.2,1154.7 1643.0,1141.1 1648.8,1123.8 1654.6,1107.5 1660.4,1097.0 1666.2,1094.7 1672.0,1100.3 1677.8,1111.0 1683.6,1123.2 1689.4,1133.4 1695.2,1138.6 1701.0,1137.5 1706.8,1130.8 1712.6,1121.1 1718.4,1111.7 1724.2,1105.1 1730.0,1102.6 1735.8,1103.9 1741.6,1107.7 1747.4,1111.4 1753.2,1112.2 1759.0,1107.8 1764.8,1098.2 1770.6,1085.8 1776.4,1075.0 1782.2,1069.2 1788.0,1069.3 1793.8,1074.6 1799.6,1083.2 1805.4,1092.4 1811.2,1098.9 1817.0,1099.1 1822.8,1091.1 1828.6,1076.0 1834.4,1057.6 1840.2,1040.6 1846.0,1028.2 1851.8,1021.6 1857.6,1020.0 1863.4,1021.1 1869.2,1022.4 1875.0,1023.5 1880.8,1025.3 1886.6,1028.9 1892.4,1035.1 1898.2,1043.5 1904.0,1052.0 1909.8,1057.5 1915.6,1057.0 1921.4,1049.2 1927.2,1035.3 1933.0,1019.2 1938.8,1005.8 1944.6,999.0 1950.4,999.5 1956.2,1004.6 1962.0,1009.7 1967.8,1010.6 1973.6,1006.2 1979.4,998.3 1985.2,989.9 1991.0,983.2 1996.8,978.5 2002.6,973.9 2008.4,967.1 2014.2,957.2 2020.0,945.1 2025.8,933.8 2031.6,925.4 2037.4,920.0 2043.2,915.4 2049.0,908.0 2054.8,895.0 2060.6,876.5 2066.4,855.8 2072.2,837.2 2078.0,824.7 2083.8,820.5 2089.6,823.8 2095.4,829.7" fill="none" stroke="#000" stroke-width="3.7" stroke-linejoin="round"/>
<polyline points="1225.4,1190.3 1231.2,1191.9 1237.0,1194.6 1242.8,1199.2 1248.6,1205.7 1254.4,1214.8 1260.2,1226.5 1266.0,1238.9 1271.8,1248.8 1277.6,1252.1 1283.4,1246.4 1289.2,1235.2 1295.0,1224.1 1300.8,1215.9 1306.6,1210.4 1312.4,1205.6 1318.2,1199.8 1324.0,1193.7 1329.8,1188.9 1335.6,1186.8 1341.4,1187.4 1347.2,1190.2 1353.0,1194.3 1358.8,1198.9 1364.6,1202.6 1370.4,1202.9 1376.2,1197.5 1382.0,1186.9 1387.8,1174.0 1393.6,1162.3 1399.4,1153.0 1405.2,1145.2 1411.0,1137.1 1416.8,1128.4 1422.6,1121.5 1428.4,1119.1 1434.2,1121.1 1440.0,1124.9 1445.8,1127.4 1451.6,1127.2 1457.4,1125.4 1463.2,1123.4 1469.0,1122.1 1474.8,1121.3 1480.6,1122.4 1486.4,1126.9 1492.2,1135.7 1498.0,1147.3 1503.8,1159.4 1509.6,1169.8 1515.4,1177.4 1521.2,1181.9 1527.0,1183.6 1532.8,1183.6 1538.6,1184.1 1544.4,1186.4 1550.2,1190.0 1556.0,1192.8 1561.8,1192.7 1567.6,1189.4 1573.4,1183.9 1579.2,1177.7 1585.0,1170.9 1590.8,1163.5 1596.6,1156.5 1602.4,1151.7 1608.2,1150.8 1614.0,1153.4 1619.8,1156.9 1625.6,1158.3 1631.4,1155.7 1637.2,1148.6 1643.0,1138.4 1648.8,1127.0 1654.6,1116.4 1660.4,1107.7 1666.2,1101.5 1672.0,1098.1 1677.8,1098.4 1683.6,1103.5 1689.4,1112.9 1695.2,1123.7 1701.0,1132.3 1706.8,1135.9 1712.6,1135.1 1718.4,1132.8 1724.2,1132.1 1730.0,1134.0 1735.8,1137.0 1741.6,1137.9 1747.4,1134.6 1753.2,1127.4 1759.0,1118.2 1764.8,1109.9 1770.6,1104.6 1776.4,1103.3 1782.2,1105.0 1788.0,1107.5 1793.8,1109.0 1799.6,1109.2 1805.4,1107.7 1811.2,1103.8 1817.0,1095.9 1822.8,1083.6 1828.6,1069.0 1834.4,1055.7 1840.2,1047.3 1846.0,1044.4 1851.8,1045.1 1857.6,1045.4 1863.4,1041.9 1869.2,1033.9 1875.0,1024.1 1880.8,1016.3 1886.6,1012.3 1892.4,1011.2 1898.2,1010.1 1904.0,1006.7 1909.8,1000.7 1915.6,994.3 1921.4,990.7 1927.2,991.3 1933.0,995.0 1938.8,998.1 1944.6,996.3 1950.4,987.1 1956.2,971.5 1962.0,953.0 1967.8,935.7 1973.6,922.1 1979.4,912.5 1985.2,905.8 1991.0,901.5 1996.8,900.6 2002.6,905.2 2008.4,915.4 2014.2,928.2 2020.0,938.9 2025.8,943.0 2031.6,938.9 2037.4,927.6 2043.2,912.3 2049.0,896.5 2054.8,883.5 2060.6,875.3 2066.4,873.0 2072.2,875.6 2078.0,881.3 2083.8,888.2 2089.6,894.4 2095.4,898.4" fill="none" stroke="#000" stroke-width="3.7" stroke-linejoin="round"/>
<polyline points="1225.4,1179.0 1231.2,1178.5 1237.0,1180.9 1242.8,1188.3 1248.6,1198.5 1254.4,1208.1 1260.2,1215.8 1266.0,1222.0 1271.8,1227.5 1277.6,1231.2 1283.4,1230.5 1289.2,1224.9 1295.0,1215.7 1300.8,1204.8 1306.6,1195.8 1312.4,1192.0 1318.2,1194.1 1324.0,1199.5 1329.8,1204.3 1335.6,1205.4 1341.4,1202.9 1347.2,1198.5 1353.0,1194.4 1358.8,1192.5 1364.6,1193.7 1370.4,1198.1 1376.2,1204.4 1382.0,1210.6 1387.8,1214.3 1393.6,1213.6 1399.4,1207.9 1405.2,1198.5 1411.0,1187.1 1416.8,1175.4 1422.6,1164.6 1428.4,1155.5 1434.2,1148.4 1440.0,1142.4 1445.8,1136.6 1451.6,1130.4 1457.4,1124.7 1463.2,1121.9 1469.0,1123.6 1474.8,1129.2 1480.6,1135.9 1486.4,1141.3 1492.2,1144.4 1498.0,1146.2 1503.8,1148.6 1509.6,1152.7 1515.4,1158.6 1521.2,1164.9 1527.0,1169.8 1532.8,1171.3 1538.6,1168.4 1544.4,1162.9 1550.2,1158.0 1556.0,1156.7 1561.8,1159.6 1567.6,1164.9 1573.4,1168.8 1579.2,1167.4 1585.0,1158.1 1590.8,1141.4 1596.6,1121.9 1602.4,1106.2 1608.2,1099.4 1614.0,1102.4 1619.8,1112.5 1625.6,1126.3 1631.4,1140.4 1637.2,1151.5 1643.0,1156.8 1648.8,1154.6 1654.6,1145.7 1660.4,1133.4 1666.2,1121.6 1672.0,1112.9 1677.8,1107.6 1683.6,1105.0 1689.4,1104.5 1695.2,1107.0 1701.0,1113.0 1706.8,1121.5 1712.6,1129.5 1718.4,1133.1 1724.2,1130.8 1730.0,1124.7 1735.8,1119.5 1741.6,1118.9 1747.4,1124.1 1753.2,1133.3 1759.0,1143.6 1764.8,1151.9 1770.6,1156.1 1776.4,1155.2 1782.2,1148.3 1788.0,1135.4 1793.8,1118.0 1799.6,1099.2 1805.4,1081.6 1811.2,1067.0 1817.0,1056.3 1822.8,1050.0 1828.6,1048.4 1834.4,1051.3 1840.2,1056.3 1846.0,1059.9 1851.8,1058.8 1857.6,1052.0 1863.4,1040.7 1869.2,1028.1 1875.0,1017.6 1880.8,1010.5 1886.6,1005.4 1892.4,1000.0 1898.2,992.7 1904.0,984.0 1909.8,975.4 1915.6,968.7 1921.4,964.5 1927.2,962.8 1933.0,963.3 1938.8,965.6 1944.6,968.1 1950.4,969.3 1956.2,968.4 1962.0,965.0 1967.8,958.7 1973.6,949.4 1979.4,938.6 1985.2,929.8 1991.0,926.6 1996.8,930.7 2002.6,940.7 2008.4,952.6 2014.2,962.9 2020.0,969.1 2025.8,970.3 2031.6,965.3 2037.4,953.4 2043.2,934.8 2049.0,911.5 2054.8,887.5 2060.6,867.5 2066.4,854.7 2072.2,850.2 2078.0,853.3 2083.8,861.9 2089.6,872.8 2095.4,881.1" fill="none" stroke="#000" stroke-width="3.7" stroke-linejoin="round"/>
<polyline points="1225.4,1190.5 1231.2,1191.4 1237.0,1192.7 1242.8,1194.7 1248.6,1196.8 1254.4,1198.4 1260.2,1199.8 1266.0,1201.9 1271.8,1206.0 1277.6,1211.9 1283.4,1218.3 1289.2,1225.6 1295.0,1232.8 1300.8,1237.1 1306.6,1236.5 1312.4,1230.9 1318.2,1222.4 1324.0,1214.3 1329.8,1208.8 1335.6,1206.3 1341.4,1204.9 1347.2,1201.7 1353.0,1194.8 1358.8,1185.4 1364.6,1177.7 1370.4,1175.7 1376.2,1180.8 1382.0,1191.4 1387.8,1204.4 1393.6,1216.0 1399.4,1223.2 1405.2,1224.3 1411.0,1219.7 1416.8,1212.0 1422.6,1204.1 1428.4,1197.4 1434.2,1190.8 1440.0,1182.4 1445.8,1171.7 1451.6,1160.4 1457.4,1151.6 1463.2,1148.3 1469.0,1151.0 1474.8,1157.7 1480.6,1165.3 1486.4,1171.7 1492.2,1175.2 1498.0,1176.0 1503.8,1174.6 1509.6,1172.6 1515.4,1170.5 1521.2,1168.0 1527.0,1164.3 1532.8,1158.8 1538.6,1153.1 1544.4,1149.5 1550.2,1149.6 1556.0,1152.4 1561.8,1155.0 1567.6,1155.2 1573.4,1153.0 1579.2,1150.2 1585.0,1148.3 1590.8,1147.6 1596.6,1147.4 1602.4,1147.4 1608.2,1147.8 1614.0,1148.8 1619.8,1151.3 1625.6,1156.4 1631.4,1164.3 1637.2,1173.6 1643.0,1181.6 1648.8,1186.6 1654.6,1188.6 1660.4,1188.9 1666.2,1188.4 1672.0,1186.7 1677.8,1182.6 1683.6,1176.0 1689.4,1167.9 1695.2,1160.0 1701.0,1153.7 1706.8,1149.2 1712.6,1145.4 1718.4,1141.2 1724.2,1135.8 1730.0,1130.2 1735.8,1126.7 1741.6,1127.3 1747.4,1132.1 1753.2,1138.8 1759.0,1144.0 1764.8,1143.9 1770.6,1136.7 1776.4,1123.1 1782.2,1105.5 1788.0,1087.6 1793.8,1072.9 1799.6,1063.7 1805.4,1060.4 1811.2,1061.4 1817.0,1063.7 1822.8,1064.7 1828.6,1063.4 1834.4,1061.3 1840.2,1060.9 1846.0,1064.1 1851.8,1070.6 1857.6,1077.6 1863.4,1081.2 1869.2,1078.4 1875.0,1068.4 1880.8,1052.4 1886.6,1032.9 1892.4,1013.9 1898.2,999.5 1904.0,992.6 1909.8,993.4 1915.6,999.4 1921.4,1006.0 1927.2,1009.5 1933.0,1009.2 1938.8,1007.5 1944.6,1008.0 1950.4,1012.4 1956.2,1018.9 1962.0,1023.7 1967.8,1023.0 1973.6,1015.5 1979.4,1002.3 1985.2,985.7 1991.0,968.2 1996.8,952.8 2002.6,941.3 2008.4,934.0 2014.2,929.1 2020.0,923.9 2025.8,916.7 2031.6,906.7 2037.4,894.7 2043.2,882.6 2049.0,873.3 2054.8,868.2 2060.6,866.6 2066.4,865.0 2072.2,859.4 2078.0,849.3 2083.8,837.8 2089.6,829.3 2095.4,825.6" fill="none" stroke="#000" stroke-width="3.7" stroke-linejoin="round"/>
<polyline points="1225.4,1185.9 1231.2,1183.3 1237.0,1178.5 1242.8,1173.9 1248.6,1172.1 1254.4,1173.9 1260.2,1178.6 1266.0,1184.7 1271.8,1191.1 1277.6,1196.5 1283.4,1199.8 1289.2,1202.2 1295.0,1203.4 1300.8,1201.4 1306.6,1195.4 1312.4,1187.2 1318.2,1180.6 1324.0,1178.5 1329.8,1181.8 1335.6,1188.9 1341.4,1196.5 1347.2,1201.0 1353.0,1199.7 1358.8,1192.9 1364.6,1183.2 1370.4,1174.4 1376.2,1169.4 1382.0,1169.2 1387.8,1172.5 1393.6,1176.1 1399.4,1176.9 1405.2,1173.6 1411.0,1166.6 1416.8,1157.0 1422.6,1146.1 1428.4,1134.6 1434.2,1123.4 1440.0,1114.9 1445.8,1111.6 1451.6,1114.7 1457.4,1122.9 1463.2,1133.2 1469.0,1143.2 1474.8,1152.0 1480.6,1160.9 1486.4,1172.1 1492.2,1186.3 1498.0,1202.1 1503.8,1216.4 1509.6,1226.3 1515.4,1229.7 1521.2,1226.3 1527.0,1217.7 1532.8,1205.9 1538.6,1193.1 1544.4,1181.6 1550.2,1172.9 1556.0,1167.3 1561.8,1164.6 1567.6,1163.5 1573.4,1162.9 1579.2,1162.5 1585.0,1162.7 1590.8,1163.4 1596.6,1163.9 1602.4,1162.5 1608.2,1158.1 1614.0,1149.9 1619.8,1138.7 1625.6,1125.6 1631.4,1112.0 1637.2,1099.0 1643.0,1087.8 1648.8,1080.0 1654.6,1076.6 1660.4,1077.7 1666.2,1081.5 1672.0,1085.3 1677.8,1086.7 1683.6,1084.8 1689.4,1080.4 1695.2,1074.9 1701.0,1070.0 1706.8,1067.2 1712.6,1066.9 1718.4,1068.5 1724.2,1071.1 1730.0,1074.6 1735.8,1080.0 1741.6,1087.9 1747.4,1098.4 1753.2,1109.5 1759.0,1118.0 1764.8,1121.0 1770.6,1117.6 1776.4,1109.7 1782.2,1100.0 1788.0,1090.7 1793.8,1082.1 1799.6,1073.9 1805.4,1066.1 1811.2,1059.5 1817.0,1054.9 1822.8,1052.3 1828.6,1051.4 1834.4,1051.5 1840.2,1052.4 1846.0,1053.4 1851.8,1053.7 1857.6,1052.5 1863.4,1048.8 1869.2,1042.0 1875.0,1032.4 1880.8,1020.9 1886.6,1008.9 1892.4,998.7 1898.2,992.4 1904.0,991.2 1909.8,995.0 1915.6,1002.3 1921.4,1010.9 1927.2,1017.7 1933.0,1020.6 1938.8,1019.0 1944.6,1013.4 1950.4,1005.4 1956.2,996.8 1962.0,988.8 1967.8,981.6 1973.6,974.6 1979.4,967.1 1985.2,959.0 1991.0,951.6 1996.8,946.6 2002.6,945.5 2008.4,947.0 2014.2,947.7 2020.0,943.2 2025.8,931.4 2031.6,913.8 2037.4,895.5 2043.2,882.9 2049.0,879.2 2054.8,883.1 2060.6,889.6 2066.4,893.4 2072.2,891.9 2078.0,886.1 2083.8,879.6 2089.6,875.2 2095.4,873.2" fill="none" stroke="#000" stroke-width="3.7" stroke-linejoin="round"/>
<polyline points="1225.4,1190.9 1231.2,1196.7 1237.0,1205.0 1242.8,1212.7 1248.6,1217.5 1254.4,1220.4 1260.2,1223.5 1266.0,1228.0 1271.8,1234.2 1277.6,1240.3 1283.4,1243.2 1289.2,1243.8 1295.0,1243.6 1300.8,1243.8 1306.6,1244.3 1312.4,1244.3 1318.2,1241.8 1324.0,1235.5 1329.8,1225.4 1335.6,1212.8 1341.4,1199.2 1347.2,1185.1 1353.0,1171.0 1358.8,1158.7 1364.6,1150.9 1370.4,1148.9 1376.2,1151.4 1382.0,1155.6 1387.8,1158.5 1393.6,1159.0 1399.4,1157.3 1405.2,1154.3 1411.0,1150.6 1416.8,1147.4 1422.6,1146.2 1428.4,1148.6 1434.2,1154.1 1440.0,1159.7 1445.8,1161.7 1451.6,1158.1 1457.4,1149.4 1463.2,1139.0 1469.0,1130.0 1474.8,1124.3 1480.6,1122.3 1486.4,1124.5 1492.2,1130.2 1498.0,1137.8 1503.8,1144.8 1509.6,1149.0 1515.4,1150.5 1521.2,1152.4 1527.0,1158.0 1532.8,1168.0 1538.6,1179.9 1544.4,1189.4 1550.2,1192.6 1556.0,1187.6 1561.8,1175.5 1567.6,1159.2 1573.4,1143.1 1579.2,1130.9 1585.0,1124.5 1590.8,1124.3 1596.6,1128.3 1602.4,1133.2 1608.2,1135.7 1614.0,1133.6 1619.8,1127.6 1625.6,1120.5 1631.4,1115.5 1637.2,1114.2 1643.0,1116.5 1648.8,1121.0 1654.6,1125.4 1660.4,1127.4 1666.2,1125.1 1672.0,1118.2 1677.8,1108.3 1683.6,1098.5 1689.4,1091.2 1695.2,1087.7 1701.0,1087.7 1706.8,1090.4 1712.6,1094.8 1718.4,1099.4 1724.2,1102.1 1730.0,1101.6 1735.8,1097.9 1741.6,1091.8 1747.4,1084.6 1753.2,1077.7 1759.0,1071.9 1764.8,1067.3 1770.6,1063.8 1776.4,1060.9 1782.2,1058.2 1788.0,1055.0 1793.8,1051.2 1799.6,1047.4 1805.4,1045.9 1811.2,1048.9 1817.0,1057.3 1822.8,1068.7 1828.6,1078.0 1834.4,1081.1 1840.2,1077.9 1846.0,1072.3 1851.8,1069.3 1857.6,1072.0 1863.4,1078.8 1869.2,1085.9 1875.0,1090.0 1880.8,1089.5 1886.6,1083.4 1892.4,1071.7 1898.2,1055.2 1904.0,1035.3 1909.8,1014.3 1915.6,994.3 1921.4,977.8 1927.2,967.4 1933.0,965.8 1938.8,974.0 1944.6,988.9 1950.4,1004.1 1956.2,1011.5 1962.0,1006.0 1967.8,987.4 1973.6,961.8 1979.4,937.7 1985.2,922.0 1991.0,916.1 1996.8,916.7 2002.6,918.3 2008.4,916.2 2014.2,909.1 2020.0,899.4 2025.8,891.0 2031.6,886.8 2037.4,887.1 2043.2,889.8 2049.0,891.8 2054.8,890.4 2060.6,884.2 2066.4,873.4 2072.2,858.3 2078.0,840.5 2083.8,823.2 2089.6,811.0 2095.4,805.6" fill="none" stroke="#000" stroke-width="3.7" stroke-linejoin="round"/>
<polyline points="1225.4,1197.9 1231.2,1199.9 1237.0,1199.9 1242.8,1197.3 1248.6,1193.4 1254.4,1190.2 1260.2,1188.6 1266.0,1188.9 1271.8,1191.7 1277.6,1196.4 1283.4,1200.1 1289.2,1201.4 1295.0,1198.9 1300.8,1192.7 1306.6,1185.4 1312.4,1180.7 1318.2,1179.8 1324.0,1181.1 1329.8,1182.1 1335.6,1182.6 1341.4,1184.9 1347.2,1190.8 1353.0,1200.3 1358.8,1211.0 1364.6,1220.0 1370.4,1224.5 1376.2,1222.7 1382.0,1214.9 1387.8,1203.5 1393.6,1191.7 1399.4,1181.8 1405.2,1174.3 1411.0,1168.4 1416.8,1163.2 1422.6,1159.3 1428.4,1159.3 1434.2,1166.4 1440.0,1181.8 1445.8,1202.8 1451.6,1222.8 1457.4,1235.1 1463.2,1236.6 1469.0,1228.2 1474.8,1213.0 1480.6,1194.5 1486.4,1175.9 1492.2,1160.0 1498.0,1148.3 1503.8,1140.9 1509.6,1136.6 1515.4,1134.6 1521.2,1135.7 1527.0,1141.1 1532.8,1150.2 1538.6,1159.6 1544.4,1164.9 1550.2,1163.2 1556.0,1155.4 1561.8,1145.1 1567.6,1136.1 1573.4,1130.3 1579.2,1126.9 1585.0,1123.9 1590.8,1120.3 1596.6,1117.4 1602.4,1117.7 1608.2,1122.8 1614.0,1132.0 1619.8,1142.1 1625.6,1148.5 1631.4,1147.6 1637.2,1138.9 1643.0,1125.3 1648.8,1112.2 1654.6,1104.0 1660.4,1103.2 1666.2,1109.3 1672.0,1119.4 1677.8,1129.9 1683.6,1137.8 1689.4,1142.0 1695.2,1142.5 1701.0,1139.6 1706.8,1133.4 1712.6,1124.2 1718.4,1112.7 1724.2,1099.0 1730.0,1083.5 1735.8,1067.1 1741.6,1052.0 1747.4,1041.6 1753.2,1038.1 1759.0,1041.0 1764.8,1047.2 1770.6,1053.3 1776.4,1057.1 1782.2,1058.4 1788.0,1058.8 1793.8,1060.4 1799.6,1064.1 1805.4,1068.1 1811.2,1068.9 1817.0,1063.3 1822.8,1051.4 1828.6,1036.4 1834.4,1022.9 1840.2,1014.2 1846.0,1011.8 1851.8,1015.5 1857.6,1023.8 1863.4,1033.4 1869.2,1040.6 1875.0,1043.1 1880.8,1040.7 1886.6,1034.9 1892.4,1028.3 1898.2,1023.1 1904.0,1020.0 1909.8,1017.6 1915.6,1014.2 1921.4,1008.0 1927.2,998.3 1933.0,986.2 1938.8,973.7 1944.6,963.9 1950.4,959.4 1956.2,961.2 1962.0,967.6 1967.8,974.5 1973.6,977.5 1979.4,974.3 1985.2,965.8 1991.0,954.6 1996.8,943.4 2002.6,933.2 2008.4,923.8 2014.2,914.8 2020.0,906.6 2025.8,900.1 2031.6,896.4 2037.4,895.0 2043.2,894.9 2049.0,893.9 2054.8,890.7 2060.6,885.2 2066.4,878.2 2072.2,869.9 2078.0,860.0 2083.8,848.8 2089.6,838.0 2095.4,830.7" fill="none" stroke="#000" stroke-width="3.7" stroke-linejoin="round"/>
<polyline points="1225.4,1190.4 1231.2,1190.6 1237.0,1190.8 1242.8,1193.1 1248.6,1199.6 1254.4,1210.9 1260.2,1225.4 1266.0,1239.7 1271.8,1250.4 1277.6,1254.8 1283.4,1252.9 1289.2,1248.0 1295.0,1242.2 1300.8,1235.3 1306.6,1227.0 1312.4,1219.2 1318.2,1214.1 1324.0,1211.3 1329.8,1208.0 1335.6,1201.0 1341.4,1188.6 1347.2,1172.2 1353.0,1155.9 1358.8,1144.9 1364.6,1143.4 1370.4,1151.4 1376.2,1164.2 1382.0,1176.0 1387.8,1183.2 1393.6,1184.6 1399.4,1181.4 1405.2,1174.2 1411.0,1163.6 1416.8,1150.5 1422.6,1137.3 1428.4,1126.5 1434.2,1119.6 1440.0,1116.4 1445.8,1116.6 1451.6,1119.3 1457.4,1123.7 1463.2,1128.5 1469.0,1131.8 1474.8,1131.4 1480.6,1126.9 1486.4,1120.1 1492.2,1114.2 1498.0,1112.6 1503.8,1117.0 1509.6,1126.8 1515.4,1139.6 1521.2,1152.5 1527.0,1162.8 1532.8,1168.7 1538.6,1169.2 1544.4,1164.6 1550.2,1156.0 1556.0,1145.3 1561.8,1135.5 1567.6,1129.6 1573.4,1129.9 1579.2,1136.9 1585.0,1148.7 1590.8,1162.7 1596.6,1176.4 1602.4,1187.4 1608.2,1192.6 1614.0,1188.7 1619.8,1175.6 1625.6,1157.5 1631.4,1141.4 1637.2,1132.9 1643.0,1132.5 1648.8,1136.3 1654.6,1138.5 1660.4,1135.0 1666.2,1126.0 1672.0,1114.7 1677.8,1105.3 1683.6,1100.6 1689.4,1101.6 1695.2,1107.6 1701.0,1116.6 1706.8,1126.5 1712.6,1134.9 1718.4,1139.8 1724.2,1139.5 1730.0,1133.7 1735.8,1123.8 1741.6,1112.5 1747.4,1102.8 1753.2,1096.8 1759.0,1095.4 1764.8,1097.4 1770.6,1100.5 1776.4,1102.9 1782.2,1103.5 1788.0,1102.1 1793.8,1099.3 1799.6,1096.2 1805.4,1094.3 1811.2,1094.5 1817.0,1096.3 1822.8,1097.1 1828.6,1094.0 1834.4,1086.5 1840.2,1077.3 1846.0,1070.3 1851.8,1067.6 1857.6,1068.7 1863.4,1070.8 1869.2,1071.1 1875.0,1068.3 1880.8,1062.0 1886.6,1051.5 1892.4,1037.2 1898.2,1020.2 1904.0,1002.2 1909.8,985.7 1915.6,973.4 1921.4,967.3 1927.2,968.2 1933.0,975.8 1938.8,988.9 1944.6,1004.9 1950.4,1018.9 1956.2,1025.1 1962.0,1019.2 1967.8,1001.6 1973.6,978.2 1979.4,957.2 1985.2,944.6 1991.0,941.5 1996.8,945.3 2002.6,951.3 2008.4,955.7 2014.2,955.4 2020.0,949.2 2025.8,937.9 2031.6,924.6 2037.4,913.5 2043.2,907.2 2049.0,905.7 2054.8,906.0 2060.6,904.7 2066.4,899.1 2072.2,888.3 2078.0,873.0 2083.8,857.0 2089.6,844.9 2095.4,839.1" fill="none" stroke="#000" stroke-width="3.7" stroke-linejoin="round"/>
<polyline points="1225.4,1181.6 1231.2,1183.8 1237.0,1187.4 1242.8,1190.1 1248.6,1189.1 1254.4,1184.7 1260.2,1180.3 1266.0,1180.2 1271.8,1187.5 1277.6,1200.7 1283.4,1214.6 1289.2,1225.4 1295.0,1230.9 1300.8,1230.7 1306.6,1227.2 1312.4,1223.6 1318.2,1222.4 1324.0,1223.9 1329.8,1226.7 1335.6,1228.9 1341.4,1228.6 1347.2,1224.9 1353.0,1218.1 1358.8,1209.6 1364.6,1200.8 1370.4,1191.8 1376.2,1181.9 1382.0,1172.0 1387.8,1165.0 1393.6,1164.3 1399.4,1170.6 1405.2,1181.5 1411.0,1192.3 1416.8,1198.4 1422.6,1198.6 1428.4,1194.5 1434.2,1188.8 1440.0,1184.1 1445.8,1181.1 1451.6,1179.4 1457.4,1177.9 1463.2,1176.0 1469.0,1172.6 1474.8,1166.0 1480.6,1155.1 1486.4,1141.1 1492.2,1128.4 1498.0,1122.7 1503.8,1127.7 1509.6,1141.8 1515.4,1158.2 1521.2,1167.9 1527.0,1165.6 1532.8,1152.7 1538.6,1136.5 1544.4,1125.2 1550.2,1123.7 1556.0,1131.7 1561.8,1144.6 1567.6,1156.8 1573.4,1165.2 1579.2,1170.5 1585.0,1176.0 1590.8,1184.8 1596.6,1197.2 1602.4,1210.6 1608.2,1220.8 1614.0,1224.1 1619.8,1218.8 1625.6,1206.3 1631.4,1189.8 1637.2,1173.5 1643.0,1160.7 1648.8,1152.6 1654.6,1147.7 1660.4,1142.8 1666.2,1134.9 1672.0,1122.9 1677.8,1108.6 1683.6,1095.6 1689.4,1087.2 1695.2,1084.9 1701.0,1087.9 1706.8,1094.7 1712.6,1103.5 1718.4,1112.7 1724.2,1120.6 1730.0,1126.1 1735.8,1129.2 1741.6,1130.7 1747.4,1131.1 1753.2,1130.3 1759.0,1126.8 1764.8,1119.6 1770.6,1109.3 1776.4,1099.1 1782.2,1092.2 1788.0,1089.4 1793.8,1089.0 1799.6,1087.1 1805.4,1081.2 1811.2,1071.7 1817.0,1061.6 1822.8,1054.2 1828.6,1051.2 1834.4,1052.2 1840.2,1055.0 1846.0,1056.9 1851.8,1055.6 1857.6,1049.6 1863.4,1040.0 1869.2,1030.0 1875.0,1023.5 1880.8,1022.1 1886.6,1023.9 1892.4,1026.0 1898.2,1027.1 1904.0,1027.5 1909.8,1028.7 1915.6,1032.1 1921.4,1037.4 1927.2,1043.0 1933.0,1046.6 1938.8,1046.5 1944.6,1041.9 1950.4,1032.8 1956.2,1020.1 1962.0,1005.2 1967.8,989.8 1973.6,975.8 1979.4,964.2 1985.2,955.0 1991.0,947.5 1996.8,939.9 2002.6,931.0 2008.4,920.2 2014.2,908.8 2020.0,899.0 2025.8,892.7 2031.6,890.0 2037.4,889.6 2043.2,890.3 2049.0,891.7 2054.8,893.5 2060.6,894.8 2066.4,894.2 2072.2,891.2 2078.0,886.6 2083.8,881.7 2089.6,877.3 2095.4,874.0" fill="none" stroke="#000" stroke-width="3.7" stroke-linejoin="round"/>
<polyline points="1225.4,1186.5 1231.2,1186.0 1237.0,1184.4 1242.8,1182.5 1248.6,1182.7 1254.4,1187.2 1260.2,1197.1 1266.0,1210.9 1271.8,1225.4 1277.6,1236.1 1283.4,1239.2 1289.2,1236.2 1295.0,1229.3 1300.8,1219.8 1306.6,1208.7 1312.4,1198.1 1318.2,1190.5 1324.0,1188.0 1329.8,1191.2 1335.6,1198.9 1341.4,1208.4 1347.2,1216.5 1353.0,1220.2 1358.8,1218.7 1364.6,1213.2 1370.4,1206.1 1376.2,1199.7 1382.0,1195.8 1387.8,1194.8 1393.6,1196.0 1399.4,1197.6 1405.2,1198.4 1411.0,1197.7 1416.8,1195.5 1422.6,1191.8 1428.4,1187.4 1434.2,1183.7 1440.0,1183.0 1445.8,1186.9 1451.6,1194.9 1457.4,1203.5 1463.2,1208.4 1469.0,1207.6 1474.8,1201.5 1480.6,1193.3 1486.4,1186.1 1492.2,1180.6 1498.0,1175.7 1503.8,1170.3 1509.6,1164.0 1515.4,1158.2 1521.2,1155.2 1527.0,1156.5 1532.8,1161.3 1538.6,1166.7 1544.4,1168.5 1550.2,1163.6 1556.0,1151.4 1561.8,1134.4 1567.6,1117.0 1573.4,1104.6 1579.2,1100.7 1585.0,1104.8 1590.8,1113.3 1596.6,1122.5 1602.4,1130.6 1608.2,1137.9 1614.0,1144.1 1619.8,1147.3 1625.6,1145.3 1631.4,1136.8 1637.2,1123.1 1643.0,1107.3 1648.8,1093.6 1654.6,1084.3 1660.4,1079.8 1666.2,1078.6 1672.0,1078.1 1677.8,1076.5 1683.6,1073.0 1689.4,1067.6 1695.2,1060.5 1701.0,1052.5 1706.8,1045.8 1712.6,1043.5 1718.4,1048.0 1724.2,1058.7 1730.0,1072.6 1735.8,1086.0 1741.6,1097.4 1747.4,1107.0 1753.2,1116.1 1759.0,1124.4 1764.8,1129.9 1770.6,1130.0 1776.4,1123.7 1782.2,1112.3 1788.0,1098.6 1793.8,1086.0 1799.6,1076.6 1805.4,1071.2 1811.2,1069.3 1817.0,1069.0 1822.8,1068.4 1828.6,1066.6 1834.4,1063.9 1840.2,1061.9 1846.0,1062.1 1851.8,1064.2 1857.6,1066.2 1863.4,1065.8 1869.2,1062.2 1875.0,1057.4 1880.8,1054.3 1886.6,1054.1 1892.4,1056.1 1898.2,1058.0 1904.0,1056.8 1909.8,1050.7 1915.6,1039.4 1921.4,1024.0 1927.2,1005.9 1933.0,986.5 1938.8,967.8 1944.6,952.4 1950.4,943.0 1956.2,941.1 1962.0,946.1 1967.8,955.4 1973.6,965.7 1979.4,974.4 1985.2,979.8 1991.0,981.2 1996.8,978.5 2002.6,971.4 2008.4,959.6 2014.2,943.4 2020.0,924.7 2025.8,906.5 2031.6,892.5 2037.4,884.8 2043.2,883.4 2049.0,886.9 2054.8,892.8 2060.6,898.5 2066.4,902.0 2072.2,901.3 2078.0,896.5 2083.8,889.0 2089.6,880.9 2095.4,874.7" fill="none" stroke="#000" stroke-width="3.7" stroke-linejoin="round"/>
<polyline points="1225.4,1196.9 1231.2,1201.5 1237.0,1205.5 1242.8,1206.3 1248.6,1204.2 1254.4,1201.9 1260.2,1201.4 1266.0,1202.5 1271.8,1204.6 1277.6,1206.8 1283.4,1209.0 1289.2,1213.6 1295.0,1221.0 1300.8,1228.6 1306.6,1234.1 1312.4,1237.3 1318.2,1239.6 1324.0,1242.3 1329.8,1245.1 1335.6,1246.3 1341.4,1244.4 1347.2,1238.4 1353.0,1229.5 1358.8,1220.7 1364.6,1215.1 1370.4,1214.5 1376.2,1217.7 1382.0,1222.4 1387.8,1226.2 1393.6,1227.3 1399.4,1224.6 1405.2,1218.1 1411.0,1208.5 1416.8,1197.0 1422.6,1184.5 1428.4,1172.0 1434.2,1159.9 1440.0,1148.7 1445.8,1138.7 1451.6,1130.8 1457.4,1126.1 1463.2,1126.0 1469.0,1130.8 1474.8,1138.4 1480.6,1145.9 1486.4,1152.1 1492.2,1157.6 1498.0,1164.9 1503.8,1175.3 1509.6,1188.4 1515.4,1201.4 1521.2,1211.1 1527.0,1215.3 1532.8,1214.0 1538.6,1208.9 1544.4,1202.0 1550.2,1194.9 1556.0,1188.4 1561.8,1182.7 1567.6,1178.0 1573.4,1174.4 1579.2,1170.6 1585.0,1164.9 1590.8,1156.3 1596.6,1145.1 1602.4,1133.3 1608.2,1123.3 1614.0,1117.0 1619.8,1115.1 1625.6,1118.1 1631.4,1125.2 1637.2,1134.7 1643.0,1143.9 1648.8,1150.1 1654.6,1151.8 1660.4,1149.4 1666.2,1145.2 1672.0,1141.7 1677.8,1140.0 1683.6,1139.6 1689.4,1139.1 1695.2,1137.6 1701.0,1134.7 1706.8,1130.9 1712.6,1126.3 1718.4,1121.0 1724.2,1115.1 1730.0,1109.6 1735.8,1105.3 1741.6,1102.9 1747.4,1101.9 1753.2,1101.1 1759.0,1099.2 1764.8,1094.6 1770.6,1086.3 1776.4,1074.3 1782.2,1060.5 1788.0,1047.2 1793.8,1037.2 1799.6,1032.2 1805.4,1032.6 1811.2,1037.5 1817.0,1044.9 1822.8,1052.2 1828.6,1056.5 1834.4,1056.5 1840.2,1052.1 1846.0,1044.8 1851.8,1036.5 1857.6,1028.9 1863.4,1021.9 1869.2,1015.2 1875.0,1009.8 1880.8,1007.2 1886.6,1008.9 1892.4,1014.7 1898.2,1022.5 1904.0,1028.7 1909.8,1030.7 1915.6,1027.8 1921.4,1021.1 1927.2,1012.6 1933.0,1003.8 1938.8,995.0 1944.6,985.5 1950.4,974.4 1956.2,962.4 1962.0,951.6 1967.8,944.3 1973.6,941.1 1979.4,940.5 1985.2,939.4 1991.0,936.2 1996.8,931.6 2002.6,928.2 2008.4,927.9 2014.2,930.5 2020.0,934.2 2025.8,937.2 2031.6,939.5 2037.4,941.7 2043.2,944.1 2049.0,946.0 2054.8,945.3 2060.6,940.7 2066.4,931.3 2072.2,917.4 2078.0,900.7 2083.8,884.6 2089.6,872.9 2095.4,867.0" fill="none" stroke="#000" stroke-width="3.7" stroke-linejoin="round"/>
<polyline points="1225.4,1191.3 1231.2,1194.6 1237.0,1198.9 1242.8,1202.8 1248.6,1204.9 1254.4,1206.2 1260.2,1209.1 1266.0,1215.7 1271.8,1226.6 1277.6,1239.4 1283.4,1249.6 1289.2,1255.6 1295.0,1257.4 1300.8,1255.4 1306.6,1250.4 1312.4,1243.4 1318.2,1235.5 1324.0,1227.7 1329.8,1221.0 1335.6,1216.1 1341.4,1213.1 1347.2,1211.1 1353.0,1209.4 1358.8,1207.1 1364.6,1202.8 1370.4,1194.6 1376.2,1180.3 1382.0,1160.5 1387.8,1138.7 1393.6,1120.3 1399.4,1110.0 1405.2,1109.9 1411.0,1118.9 1416.8,1133.3 1422.6,1149.4 1428.4,1164.0 1434.2,1175.2 1440.0,1182.2 1445.8,1185.6 1451.6,1187.0 1457.4,1188.4 1463.2,1190.6 1469.0,1192.8 1474.8,1192.5 1480.6,1188.8 1486.4,1183.0 1492.2,1177.0 1498.0,1171.7 1503.8,1166.9 1509.6,1161.7 1515.4,1155.8 1521.2,1149.3 1527.0,1143.3 1532.8,1137.9 1538.6,1133.0 1544.4,1128.1 1550.2,1123.9 1556.0,1122.1 1561.8,1124.5 1567.6,1131.2 1573.4,1140.4 1579.2,1149.3 1585.0,1155.1 1590.8,1156.6 1596.6,1154.1 1602.4,1149.3 1608.2,1143.7 1614.0,1138.9 1619.8,1136.2 1625.6,1136.8 1631.4,1140.1 1637.2,1143.2 1643.0,1143.2 1648.8,1138.6 1654.6,1130.8 1660.4,1123.0 1666.2,1118.0 1672.0,1117.0 1677.8,1118.9 1683.6,1121.6 1689.4,1122.8 1695.2,1120.2 1701.0,1112.4 1706.8,1099.2 1712.6,1082.8 1718.4,1067.4 1724.2,1057.2 1730.0,1054.6 1735.8,1059.1 1741.6,1067.7 1747.4,1076.9 1753.2,1083.6 1759.0,1085.9 1764.8,1083.2 1770.6,1076.8 1776.4,1069.5 1782.2,1064.0 1788.0,1061.9 1793.8,1063.0 1799.6,1066.5 1805.4,1071.0 1811.2,1075.8 1817.0,1080.2 1822.8,1083.3 1828.6,1084.0 1834.4,1081.3 1840.2,1074.3 1846.0,1062.8 1851.8,1048.1 1857.6,1032.1 1863.4,1016.7 1869.2,1002.5 1875.0,990.5 1880.8,981.7 1886.6,976.6 1892.4,975.5 1898.2,977.4 1904.0,980.4 1909.8,983.0 1915.6,985.0 1921.4,987.3 1927.2,990.4 1933.0,994.7 1938.8,999.0 1944.6,1001.1 1950.4,999.0 1956.2,991.4 1962.0,979.2 1967.8,964.1 1973.6,948.7 1979.4,934.7 1985.2,922.5 1991.0,912.1 1996.8,903.3 2002.6,896.3 2008.4,891.0 2014.2,887.0 2020.0,884.0 2025.8,881.5 2031.6,879.2 2037.4,876.6 2043.2,874.4 2049.0,873.8 2054.8,875.7 2060.6,879.9 2066.4,885.5 2072.2,891.0 2078.0,895.0 2083.8,897.1 2089.6,897.4 2095.4,896.5" fill="none" stroke="#000" stroke-width="3.7" stroke-linejoin="round"/>
<polyline points="1225.4,1177.0 1231.2,1177.8 1237.0,1181.9 1242.8,1188.9 1248.6,1195.3 1254.4,1199.0 1260.2,1201.5 1266.0,1205.5 1271.8,1212.5 1277.6,1221.3 1283.4,1228.4 1289.2,1233.3 1295.0,1235.5 1300.8,1234.7 1306.6,1231.8 1312.4,1229.6 1318.2,1230.7 1324.0,1235.5 1329.8,1240.7 1335.6,1241.3 1341.4,1234.0 1347.2,1218.8 1353.0,1200.3 1358.8,1184.8 1364.6,1178.2 1370.4,1182.3 1376.2,1193.4 1382.0,1204.9 1387.8,1210.6 1393.6,1207.1 1399.4,1194.6 1405.2,1176.6 1411.0,1158.5 1416.8,1145.2 1422.6,1140.5 1428.4,1144.9 1434.2,1156.3 1440.0,1171.6 1445.8,1188.4 1451.6,1204.6 1457.4,1217.8 1463.2,1225.3 1469.0,1225.8 1474.8,1220.2 1480.6,1210.9 1486.4,1200.2 1492.2,1188.7 1498.0,1177.1 1503.8,1167.4 1509.6,1162.5 1515.4,1164.3 1521.2,1171.8 1527.0,1180.7 1532.8,1185.7 1538.6,1182.5 1544.4,1169.6 1550.2,1148.8 1556.0,1125.0 1561.8,1104.8 1567.6,1094.4 1573.4,1096.6 1579.2,1109.4 1585.0,1127.0 1590.8,1143.2 1596.6,1154.2 1602.4,1159.6 1608.2,1160.9 1614.0,1159.4 1619.8,1156.7 1625.6,1154.3 1631.4,1153.0 1637.2,1152.5 1643.0,1151.8 1648.8,1150.6 1654.6,1149.9 1660.4,1150.9 1666.2,1153.8 1672.0,1156.1 1677.8,1154.2 1683.6,1145.5 1689.4,1130.3 1695.2,1111.8 1701.0,1094.6 1706.8,1082.5 1712.6,1076.6 1718.4,1075.6 1724.2,1076.4 1730.0,1077.0 1735.8,1077.6 1741.6,1080.2 1747.4,1086.2 1753.2,1095.6 1759.0,1106.0 1764.8,1113.9 1770.6,1117.3 1776.4,1116.2 1782.2,1111.7 1788.0,1105.1 1793.8,1096.7 1799.6,1086.8 1805.4,1075.7 1811.2,1065.1 1817.0,1056.7 1822.8,1052.4 1828.6,1052.7 1834.4,1056.5 1840.2,1061.1 1846.0,1063.1 1851.8,1059.8 1857.6,1050.1 1863.4,1035.7 1869.2,1020.5 1875.0,1009.8 1880.8,1006.9 1886.6,1010.3 1892.4,1015.6 1898.2,1017.1 1904.0,1011.6 1909.8,999.3 1915.6,983.6 1921.4,968.5 1927.2,956.9 1933.0,949.2 1938.8,944.8 1944.6,942.8 1950.4,943.4 1956.2,946.6 1962.0,951.5 1967.8,955.3 1973.6,955.1 1979.4,949.9 1985.2,941.5 1991.0,933.4 1996.8,928.5 2002.6,927.5 2008.4,928.2 2014.2,927.2 2020.0,922.5 2025.8,915.9 2031.6,911.4 2037.4,912.2 2043.2,918.3 2049.0,926.0 2054.8,931.1 2060.6,931.8 2066.4,928.6 2072.2,922.5 2078.0,914.2 2083.8,904.8 2089.6,896.0 2095.4,890.1" fill="none" stroke="#000" stroke-width="3.7" stroke-linejoin="round"/>
<polyline points="1225.4,1179.7 1231.2,1177.4 1237.0,1175.3 1242.8,1176.0 1248.6,1180.4 1254.4,1187.0 1260.2,1194.3 1266.0,1202.4 1271.8,1212.4 1277.6,1223.4 1283.4,1232.3 1289.2,1237.3 1295.0,1237.4 1300.8,1233.0 1306.6,1226.5 1312.4,1221.1 1318.2,1218.3 1324.0,1217.4 1329.8,1216.7 1335.6,1214.8 1341.4,1211.2 1347.2,1206.1 1353.0,1199.5 1358.8,1192.0 1364.6,1184.3 1370.4,1177.6 1376.2,1172.7 1382.0,1171.4 1387.8,1175.4 1393.6,1184.5 1399.4,1196.1 1405.2,1206.9 1411.0,1214.0 1416.8,1216.3 1422.6,1214.0 1428.4,1208.0 1434.2,1199.2 1440.0,1189.4 1445.8,1180.9 1451.6,1176.6 1457.4,1178.5 1463.2,1187.0 1469.0,1199.6 1474.8,1211.8 1480.6,1219.1 1486.4,1219.0 1492.2,1211.4 1498.0,1198.7 1503.8,1185.0 1509.6,1174.6 1515.4,1170.4 1521.2,1172.6 1527.0,1178.5 1532.8,1184.1 1538.6,1186.0 1544.4,1182.6 1550.2,1174.0 1556.0,1160.9 1561.8,1144.9 1567.6,1127.9 1573.4,1112.6 1579.2,1101.3 1585.0,1094.7 1590.8,1092.0 1596.6,1091.9 1602.4,1094.6 1608.2,1101.7 1614.0,1113.9 1619.8,1129.2 1625.6,1142.0 1631.4,1146.5 1637.2,1139.8 1643.0,1124.6 1648.8,1106.3 1654.6,1089.4 1660.4,1076.0 1666.2,1066.0 1672.0,1059.1 1677.8,1055.7 1683.6,1056.8 1689.4,1063.2 1695.2,1074.4 1701.0,1089.1 1706.8,1105.4 1712.6,1121.1 1718.4,1134.0 1724.2,1141.2 1730.0,1140.9 1735.8,1132.9 1741.6,1119.4 1747.4,1103.9 1753.2,1089.9 1759.0,1079.6 1764.8,1073.5 1770.6,1071.3 1776.4,1072.1 1782.2,1074.7 1788.0,1078.1 1793.8,1082.6 1799.6,1088.5 1805.4,1094.7 1811.2,1097.9 1817.0,1094.8 1822.8,1085.0 1828.6,1072.0 1834.4,1060.4 1840.2,1053.1 1846.0,1049.6 1851.8,1047.9 1857.6,1046.7 1863.4,1045.9 1869.2,1045.2 1875.0,1044.4 1880.8,1042.0 1886.6,1036.9 1892.4,1029.7 1898.2,1022.5 1904.0,1017.9 1909.8,1017.1 1915.6,1019.2 1921.4,1021.1 1927.2,1019.3 1933.0,1012.1 1938.8,1000.5 1944.6,987.1 1950.4,975.4 1956.2,968.4 1962.0,967.3 1967.8,971.6 1973.6,978.7 1979.4,984.8 1985.2,986.6 1991.0,982.0 1996.8,971.0 2002.6,954.8 2008.4,935.7 2014.2,916.6 2020.0,900.4 2025.8,889.2 2031.6,883.2 2037.4,880.9 2043.2,879.9 2049.0,877.9 2054.8,874.4 2060.6,871.2 2066.4,871.0 2072.2,875.4 2078.0,883.1 2083.8,891.3 2089.6,897.2 2095.4,899.7" fill="none" stroke="#000" stroke-width="3.7" stroke-linejoin="round"/>
<polyline points="1225.4,1194.4 1231.2,1203.5 1237.0,1216.5 1242.8,1227.3 1248.6,1230.9 1254.4,1228.8 1260.2,1224.7 1266.0,1220.5 1271.8,1217.7 1277.6,1216.4 1283.4,1216.0 1289.2,1217.9 1295.0,1221.4 1300.8,1223.5 1306.6,1221.7 1312.4,1216.1 1318.2,1209.0 1324.0,1203.3 1329.8,1201.5 1335.6,1204.2 1341.4,1209.8 1347.2,1215.0 1353.0,1216.9 1358.8,1215.1 1364.6,1211.9 1370.4,1209.7 1376.2,1208.5 1382.0,1206.9 1387.8,1204.1 1393.6,1201.1 1399.4,1199.5 1405.2,1200.1 1411.0,1202.3 1416.8,1205.2 1422.6,1208.7 1428.4,1212.8 1434.2,1216.4 1440.0,1216.8 1445.8,1211.2 1451.6,1198.7 1457.4,1181.0 1463.2,1162.6 1469.0,1147.7 1474.8,1138.2 1480.6,1133.6 1486.4,1132.7 1492.2,1134.8 1498.0,1139.1 1503.8,1144.7 1509.6,1149.4 1515.4,1150.8 1521.2,1148.2 1527.0,1142.5 1532.8,1135.4 1538.6,1128.9 1544.4,1123.7 1550.2,1119.6 1556.0,1115.1 1561.8,1108.2 1567.6,1097.5 1573.4,1084.0 1579.2,1071.4 1585.0,1064.7 1590.8,1068.0 1596.6,1081.6 1602.4,1101.2 1608.2,1120.7 1614.0,1134.8 1619.8,1141.9 1625.6,1143.6 1631.4,1142.0 1637.2,1137.7 1643.0,1130.9 1648.8,1122.0 1654.6,1112.2 1660.4,1102.6 1666.2,1094.5 1672.0,1088.3 1677.8,1084.3 1683.6,1083.2 1689.4,1085.5 1695.2,1089.8 1701.0,1093.0 1706.8,1091.5 1712.6,1083.7 1718.4,1071.7 1724.2,1059.8 1730.0,1052.6 1735.8,1053.4 1741.6,1061.9 1747.4,1074.5 1753.2,1086.0 1759.0,1092.6 1764.8,1092.7 1770.6,1088.1 1776.4,1082.4 1782.2,1078.8 1788.0,1078.9 1793.8,1081.9 1799.6,1085.7 1805.4,1088.5 1811.2,1089.6 1817.0,1089.2 1822.8,1087.0 1828.6,1082.0 1834.4,1072.7 1840.2,1059.2 1846.0,1044.1 1851.8,1031.3 1857.6,1023.8 1863.4,1021.1 1869.2,1020.2 1875.0,1018.5 1880.8,1015.1 1886.6,1011.0 1892.4,1008.0 1898.2,1006.9 1904.0,1007.7 1909.8,1008.9 1915.6,1009.3 1921.4,1007.9 1927.2,1004.5 1933.0,999.5 1938.8,994.1 1944.6,989.3 1950.4,985.8 1956.2,983.5 1962.0,981.5 1967.8,978.5 1973.6,973.9 1979.4,968.6 1985.2,964.0 1991.0,961.7 1996.8,962.5 2002.6,965.7 2008.4,969.4 2014.2,971.0 2020.0,967.7 2025.8,958.3 2031.6,943.8 2037.4,927.5 2043.2,913.3 2049.0,903.6 2054.8,897.9 2060.6,893.8 2066.4,888.8 2072.2,881.9 2078.0,873.6 2083.8,866.0 2089.6,861.2 2095.4,859.6" fill="none" stroke="#000" stroke-width="3.7" stroke-linejoin="round"/>
<polyline points="1225.4,1191.7 1231.2,1193.1 1237.0,1195.4 1242.8,1199.6 1248.6,1205.5 1254.4,1212.6 1260.2,1219.9 1266.0,1226.0 1271.8,1230.1 1277.6,1230.8 1283.4,1226.6 1289.2,1219.2 1295.0,1210.1 1300.8,1199.6 1306.6,1188.2 1312.4,1177.7 1318.2,1170.4 1324.0,1169.2 1329.8,1175.7 1335.6,1190.0 1341.4,1209.4 1347.2,1228.7 1353.0,1241.6 1358.8,1244.3 1364.6,1237.5 1370.4,1225.5 1376.2,1213.2 1382.0,1203.5 1387.8,1197.0 1393.6,1192.5 1399.4,1189.1 1405.2,1186.1 1411.0,1181.3 1416.8,1171.1 1422.6,1153.6 1428.4,1130.7 1434.2,1107.4 1440.0,1090.8 1445.8,1087.9 1451.6,1100.1 1457.4,1122.2 1463.2,1146.6 1469.0,1164.6 1474.8,1170.8 1480.6,1165.8 1486.4,1154.7 1492.2,1142.5 1498.0,1132.2 1503.8,1124.3 1509.6,1117.2 1515.4,1109.2 1521.2,1100.4 1527.0,1093.3 1532.8,1091.2 1538.6,1095.2 1544.4,1103.5 1550.2,1113.1 1556.0,1121.6 1561.8,1128.1 1567.6,1133.2 1573.4,1136.8 1579.2,1137.7 1585.0,1134.7 1590.8,1128.4 1596.6,1121.9 1602.4,1119.0 1608.2,1122.0 1614.0,1130.7 1619.8,1142.4 1625.6,1153.6 1631.4,1160.3 1637.2,1160.5 1643.0,1155.5 1648.8,1149.1 1654.6,1145.1 1660.4,1143.8 1666.2,1142.9 1672.0,1139.3 1677.8,1131.8 1683.6,1121.2 1689.4,1109.7 1695.2,1098.5 1701.0,1088.4 1706.8,1079.6 1712.6,1073.2 1718.4,1070.8 1724.2,1073.9 1730.0,1083.1 1735.8,1097.3 1741.6,1113.3 1747.4,1126.9 1753.2,1134.5 1759.0,1134.7 1764.8,1128.5 1770.6,1119.0 1776.4,1109.4 1782.2,1101.4 1788.0,1095.0 1793.8,1090.0 1799.6,1086.6 1805.4,1085.1 1811.2,1085.2 1817.0,1086.0 1822.8,1086.3 1828.6,1085.7 1834.4,1083.8 1840.2,1080.3 1846.0,1074.6 1851.8,1066.4 1857.6,1055.9 1863.4,1043.9 1869.2,1031.4 1875.0,1020.5 1880.8,1012.3 1886.6,1007.1 1892.4,1004.6 1898.2,1004.1 1904.0,1004.6 1909.8,1005.0 1915.6,1004.5 1921.4,1002.6 1927.2,999.6 1933.0,996.7 1938.8,994.4 1944.6,992.8 1950.4,990.9 1956.2,987.6 1962.0,982.0 1967.8,973.5 1973.6,962.9 1979.4,952.3 1985.2,943.8 1991.0,938.9 1996.8,938.0 2002.6,940.4 2008.4,944.2 2014.2,948.0 2020.0,950.8 2025.8,951.7 2031.6,949.1 2037.4,940.8 2043.2,926.1 2049.0,908.2 2054.8,893.2 2060.6,887.2 2066.4,892.3 2072.2,905.6 2078.0,920.7 2083.8,932.0 2089.6,936.3 2095.4,935.5" fill="none" stroke="#f00000" stroke-width="3.7" stroke-linejoin="round"/>
<polyline points="1225.4,1196.2 1231.2,1199.8 1237.0,1202.5 1242.8,1202.7 1248.6,1201.8 1254.4,1203.6 1260.2,1210.4 1266.0,1222.2 1271.8,1237.2 1277.6,1251.3 1283.4,1259.6 1289.2,1260.7 1295.0,1255.0 1300.8,1244.0 1306.6,1230.2 1312.4,1216.5 1318.2,1204.9 1324.0,1196.4 1329.8,1190.6 1335.6,1187.0 1341.4,1184.7 1347.2,1182.9 1353.0,1181.2 1358.8,1179.4 1364.6,1177.7 1370.4,1175.3 1376.2,1171.7 1382.0,1167.7 1387.8,1165.7 1393.6,1167.8 1399.4,1173.9 1405.2,1182.1 1411.0,1189.6 1416.8,1193.8 1422.6,1193.8 1428.4,1190.1 1434.2,1183.7 1440.0,1175.9 1445.8,1167.1 1451.6,1157.7 1457.4,1148.7 1463.2,1142.0 1469.0,1139.4 1474.8,1141.8 1480.6,1149.6 1486.4,1163.0 1492.2,1181.3 1498.0,1202.7 1503.8,1224.1 1509.6,1242.0 1515.4,1252.8 1521.2,1254.0 1527.0,1244.8 1532.8,1226.4 1538.6,1202.5 1544.4,1178.1 1550.2,1157.4 1556.0,1143.2 1561.8,1136.0 1567.6,1134.8 1573.4,1137.9 1579.2,1143.3 1585.0,1149.5 1590.8,1154.7 1596.6,1157.5 1602.4,1157.4 1608.2,1154.6 1614.0,1150.2 1619.8,1145.8 1625.6,1143.0 1631.4,1142.2 1637.2,1142.1 1643.0,1140.3 1648.8,1134.3 1654.6,1123.8 1660.4,1110.8 1666.2,1099.3 1672.0,1093.6 1677.8,1095.4 1683.6,1103.7 1689.4,1115.0 1695.2,1125.7 1701.0,1133.4 1706.8,1136.4 1712.6,1134.1 1718.4,1126.3 1724.2,1114.3 1730.0,1100.4 1735.8,1088.4 1741.6,1081.3 1747.4,1080.9 1753.2,1087.2 1759.0,1099.8 1764.8,1116.1 1770.6,1131.4 1776.4,1140.9 1782.2,1142.2 1788.0,1133.9 1793.8,1118.1 1799.6,1098.6 1805.4,1080.6 1811.2,1066.5 1817.0,1055.0 1822.8,1044.3 1828.6,1035.0 1834.4,1028.8 1840.2,1026.3 1846.0,1027.5 1851.8,1031.2 1857.6,1035.8 1863.4,1039.4 1869.2,1040.6 1875.0,1039.1 1880.8,1035.3 1886.6,1030.0 1892.4,1023.8 1898.2,1017.2 1904.0,1010.0 1909.8,1002.1 1915.6,994.3 1921.4,987.6 1927.2,983.2 1933.0,982.4 1938.8,985.4 1944.6,990.8 1950.4,996.1 1956.2,998.7 1962.0,997.0 1967.8,991.6 1973.6,984.8 1979.4,978.6 1985.2,973.8 1991.0,969.3 1996.8,963.5 2002.6,956.2 2008.4,949.0 2014.2,944.3 2020.0,943.7 2025.8,946.6 2031.6,951.5 2037.4,956.6 2043.2,960.4 2049.0,961.3 2054.8,957.8 2060.6,949.3 2066.4,937.0 2072.2,922.9 2078.0,909.4 2083.8,898.5 2089.6,891.5 2095.4,888.2" fill="none" stroke="#f00000" stroke-width="3.7" stroke-linejoin="round"/>
<polyline points="1225.4,1194.2 1231.2,1200.8 1237.0,1211.8 1242.8,1224.3 1248.6,1233.3 1254.4,1238.1 1260.2,1240.8 1266.0,1243.8 1271.8,1249.8 1277.6,1258.6 1283.4,1267.1 1289.2,1272.5 1295.0,1271.2 1300.8,1260.2 1306.6,1240.7 1312.4,1218.1 1318.2,1199.6 1324.0,1189.7 1329.8,1187.5 1335.6,1189.1 1341.4,1190.2 1347.2,1189.1 1353.0,1186.1 1358.8,1182.6 1364.6,1180.1 1370.4,1179.4 1376.2,1180.8 1382.0,1184.4 1387.8,1188.9 1393.6,1191.1 1399.4,1187.6 1405.2,1177.7 1411.0,1164.5 1416.8,1152.5 1422.6,1144.9 1428.4,1141.6 1434.2,1141.7 1440.0,1145.2 1445.8,1153.5 1451.6,1166.2 1457.4,1180.7 1463.2,1192.6 1469.0,1200.1 1474.8,1203.7 1480.6,1206.8 1486.4,1211.5 1492.2,1216.5 1498.0,1217.8 1503.8,1212.3 1509.6,1200.4 1515.4,1186.3 1521.2,1174.8 1527.0,1168.3 1532.8,1166.3 1538.6,1167.2 1544.4,1169.3 1550.2,1171.3 1556.0,1172.9 1561.8,1173.5 1567.6,1173.1 1573.4,1171.9 1579.2,1169.5 1585.0,1164.4 1590.8,1156.3 1596.6,1147.2 1602.4,1140.7 1608.2,1139.8 1614.0,1143.9 1619.8,1150.7 1625.6,1158.2 1631.4,1165.1 1637.2,1169.7 1643.0,1169.9 1648.8,1165.0 1654.6,1156.3 1660.4,1146.3 1666.2,1136.6 1672.0,1127.2 1677.8,1117.6 1683.6,1108.6 1689.4,1101.9 1695.2,1099.4 1701.0,1101.2 1706.8,1105.7 1712.6,1110.3 1718.4,1111.6 1724.2,1107.0 1730.0,1097.2 1735.8,1086.9 1741.6,1083.2 1747.4,1090.4 1753.2,1106.4 1759.0,1123.5 1764.8,1131.7 1770.6,1125.2 1776.4,1105.6 1782.2,1079.9 1788.0,1056.4 1793.8,1040.7 1799.6,1033.7 1805.4,1032.5 1811.2,1033.8 1817.0,1035.8 1822.8,1039.2 1828.6,1045.6 1834.4,1056.0 1840.2,1069.1 1846.0,1081.1 1851.8,1087.5 1857.6,1085.2 1863.4,1073.8 1869.2,1056.1 1875.0,1037.5 1880.8,1022.5 1886.6,1013.2 1892.4,1009.8 1898.2,1010.7 1904.0,1012.8 1909.8,1011.6 1915.6,1003.6 1921.4,989.3 1927.2,972.7 1933.0,958.7 1938.8,952.7 1944.6,956.9 1950.4,965.2 1956.2,971.2 1962.0,972.0 1967.8,968.2 1973.6,962.7 1979.4,957.4 1985.2,950.6 1991.0,939.8 1996.8,924.5 2002.6,907.7 2008.4,895.0 2014.2,890.8 2020.0,896.2 2025.8,907.7 2031.6,919.3 2037.4,925.5 2043.2,922.9 2049.0,911.4 2054.8,894.5 2060.6,877.8 2066.4,867.6 2072.2,866.7 2078.0,872.6 2083.8,878.2 2089.6,877.0 2095.4,870.8" fill="none" stroke="#f00000" stroke-width="3.7" stroke-linejoin="round"/>
<polyline points="1225.4,1182.9 1231.2,1181.0 1237.0,1177.1 1242.8,1172.1 1248.6,1168.1 1254.4,1166.5 1260.2,1168.9 1266.0,1176.1 1271.8,1188.2 1277.6,1203.3 1283.4,1218.5 1289.2,1233.3 1295.0,1246.9 1300.8,1257.3 1306.6,1262.9 1312.4,1263.9 1318.2,1262.2 1324.0,1259.9 1329.8,1258.4 1335.6,1257.5 1341.4,1256.5 1347.2,1254.2 1353.0,1250.6 1358.8,1246.7 1364.6,1244.1 1370.4,1242.8 1376.2,1240.1 1382.0,1232.6 1387.8,1218.6 1393.6,1199.8 1399.4,1181.6 1405.2,1169.4 1411.0,1166.2 1416.8,1170.8 1422.6,1179.2 1428.4,1185.6 1434.2,1186.0 1440.0,1179.3 1445.8,1166.8 1451.6,1151.7 1457.4,1139.4 1463.2,1134.7 1469.0,1135.6 1474.8,1138.0 1480.6,1138.5 1486.4,1135.2 1492.2,1131.3 1498.0,1132.5 1503.8,1140.8 1509.6,1149.9 1515.4,1153.9 1521.2,1152.2 1527.0,1148.2 1532.8,1146.4 1538.6,1148.9 1544.4,1155.5 1550.2,1164.2 1556.0,1172.2 1561.8,1176.3 1567.6,1174.5 1573.4,1166.7 1579.2,1155.0 1585.0,1142.4 1590.8,1131.8 1596.6,1125.4 1602.4,1124.2 1608.2,1127.5 1614.0,1132.8 1619.8,1137.1 1625.6,1138.6 1631.4,1137.7 1637.2,1136.2 1643.0,1136.5 1648.8,1139.9 1654.6,1146.2 1660.4,1153.8 1666.2,1160.3 1672.0,1163.5 1677.8,1162.6 1683.6,1158.4 1689.4,1152.1 1695.2,1145.0 1701.0,1137.4 1706.8,1129.2 1712.6,1120.7 1718.4,1112.5 1724.2,1105.5 1730.0,1101.0 1735.8,1099.9 1741.6,1101.7 1747.4,1104.1 1753.2,1104.3 1759.0,1100.7 1764.8,1093.9 1770.6,1085.5 1776.4,1077.0 1782.2,1068.5 1788.0,1059.5 1793.8,1050.0 1799.6,1041.1 1805.4,1035.0 1811.2,1033.1 1817.0,1035.7 1822.8,1040.8 1828.6,1045.7 1834.4,1048.4 1840.2,1049.2 1846.0,1050.3 1851.8,1053.7 1857.6,1060.0 1863.4,1067.1 1869.2,1072.1 1875.0,1072.8 1880.8,1068.4 1886.6,1059.2 1892.4,1046.7 1898.2,1032.5 1904.0,1018.2 1909.8,1005.3 1915.6,995.9 1921.4,991.3 1927.2,991.8 1933.0,995.8 1938.8,1000.6 1944.6,1003.0 1950.4,1001.1 1956.2,995.4 1962.0,988.1 1967.8,981.5 1973.6,977.6 1979.4,976.6 1985.2,977.2 1991.0,977.0 1996.8,974.4 2002.6,969.0 2008.4,961.8 2014.2,954.4 2020.0,947.3 2025.8,940.4 2031.6,933.4 2037.4,926.2 2043.2,919.9 2049.0,915.2 2054.8,912.3 2060.6,911.2 2066.4,912.1 2072.2,914.7 2078.0,917.5 2083.8,918.8 2089.6,917.5 2095.4,914.9" fill="none" stroke="#f00000" stroke-width="3.7" stroke-linejoin="round"/>
<polyline points="1225.4,1185.3 1231.2,1185.3 1237.0,1183.1 1242.8,1179.3 1248.6,1176.3 1254.4,1176.4 1260.2,1180.3 1266.0,1187.1 1271.8,1195.6 1277.6,1203.6 1283.4,1208.9 1289.2,1212.8 1295.0,1216.8 1300.8,1220.6 1306.6,1223.6 1312.4,1225.3 1318.2,1225.1 1324.0,1222.6 1329.8,1217.8 1335.6,1211.9 1341.4,1207.3 1347.2,1205.8 1353.0,1208.7 1358.8,1215.9 1364.6,1226.3 1370.4,1237.3 1376.2,1244.9 1382.0,1245.9 1387.8,1239.9 1393.6,1229.0 1399.4,1216.0 1405.2,1203.1 1411.0,1191.1 1416.8,1180.7 1422.6,1173.9 1428.4,1172.3 1434.2,1175.2 1440.0,1179.0 1445.8,1179.5 1451.6,1175.3 1457.4,1168.7 1463.2,1163.9 1469.0,1164.1 1474.8,1169.1 1480.6,1176.8 1486.4,1184.6 1492.2,1190.8 1498.0,1194.2 1503.8,1194.4 1509.6,1191.8 1515.4,1187.0 1521.2,1181.0 1527.0,1175.2 1532.8,1172.3 1538.6,1175.9 1544.4,1186.0 1550.2,1197.2 1556.0,1201.9 1561.8,1196.5 1567.6,1187.1 1573.4,1179.0 1579.2,1173.4 1585.0,1170.1 1590.8,1168.0 1596.6,1166.5 1602.4,1164.9 1608.2,1162.6 1614.0,1159.8 1619.8,1157.7 1625.6,1157.7 1631.4,1160.1 1637.2,1163.4 1643.0,1165.9 1648.8,1166.1 1654.6,1164.0 1660.4,1159.6 1666.2,1153.0 1672.0,1144.4 1677.8,1134.6 1683.6,1124.5 1689.4,1114.4 1695.2,1103.4 1701.0,1091.3 1706.8,1079.8 1712.6,1071.8 1718.4,1070.1 1724.2,1074.8 1730.0,1084.3 1735.8,1095.8 1741.6,1106.3 1747.4,1113.6 1753.2,1116.7 1759.0,1115.4 1764.8,1111.0 1770.6,1105.5 1776.4,1100.9 1782.2,1097.9 1788.0,1094.8 1793.8,1090.2 1799.6,1083.0 1805.4,1073.8 1811.2,1064.1 1817.0,1055.7 1822.8,1050.9 1828.6,1051.0 1834.4,1055.9 1840.2,1062.7 1846.0,1066.9 1851.8,1064.2 1857.6,1053.1 1863.4,1035.7 1869.2,1016.3 1875.0,1000.0 1880.8,990.4 1886.6,988.4 1892.4,993.4 1898.2,1002.3 1904.0,1010.9 1909.8,1015.7 1915.6,1015.3 1921.4,1011.1 1927.2,1005.0 1933.0,998.2 1938.8,990.8 1944.6,982.9 1950.4,975.8 1956.2,972.0 1962.0,973.0 1967.8,978.4 1973.6,986.2 1979.4,993.5 1985.2,997.9 1991.0,999.3 1996.8,998.8 2002.6,998.4 2008.4,998.7 2014.2,998.4 2020.0,995.5 2025.8,988.7 2031.6,978.7 2037.4,968.1 2043.2,959.7 2049.0,953.9 2054.8,948.6 2060.6,940.5 2066.4,928.5 2072.2,913.7 2078.0,898.4 2083.8,883.6 2089.6,869.5 2095.4,858.6" fill="none" stroke="#f00000" stroke-width="3.7" stroke-linejoin="round"/>
<polyline points="1225.4,1195.0 1231.2,1195.6 1237.0,1193.8 1242.8,1190.1 1248.6,1188.1 1254.4,1192.2 1260.2,1203.7 1266.0,1220.1 1271.8,1236.5 1277.6,1247.0 1283.4,1248.0 1289.2,1242.2 1295.0,1234.0 1300.8,1226.0 1306.6,1219.3 1312.4,1214.8 1318.2,1213.1 1324.0,1214.4 1329.8,1217.7 1335.6,1221.2 1341.4,1223.9 1347.2,1225.6 1353.0,1227.2 1358.8,1229.9 1364.6,1233.9 1370.4,1237.2 1376.2,1237.2 1382.0,1232.2 1387.8,1223.3 1393.6,1212.7 1399.4,1202.9 1405.2,1194.9 1411.0,1188.4 1416.8,1182.3 1422.6,1176.4 1428.4,1170.8 1434.2,1165.4 1440.0,1159.4 1445.8,1151.2 1451.6,1140.1 1457.4,1127.2 1463.2,1115.9 1469.0,1110.2 1474.8,1112.0 1480.6,1119.7 1486.4,1130.1 1492.2,1140.2 1498.0,1149.5 1503.8,1159.6 1509.6,1172.2 1515.4,1186.8 1521.2,1201.3 1527.0,1212.7 1532.8,1218.8 1538.6,1218.6 1544.4,1212.6 1550.2,1202.6 1556.0,1191.4 1561.8,1180.9 1567.6,1172.1 1573.4,1164.9 1579.2,1159.1 1585.0,1154.1 1590.8,1149.0 1596.6,1142.5 1602.4,1133.8 1608.2,1123.9 1614.0,1115.3 1619.8,1111.0 1625.6,1113.1 1631.4,1120.9 1637.2,1130.9 1643.0,1138.6 1648.8,1140.3 1654.6,1133.6 1660.4,1118.0 1666.2,1096.1 1672.0,1075.3 1677.8,1063.1 1683.6,1057.9 1689.4,1055.9 1695.2,1057.9 1701.0,1066.0 1706.8,1077.1 1712.6,1087.1 1718.4,1093.4 1724.2,1095.6 1730.0,1095.2 1735.8,1093.6 1741.6,1091.0 1747.4,1087.9 1753.2,1085.5 1759.0,1084.3 1764.8,1084.0 1770.6,1083.4 1776.4,1081.6 1782.2,1077.8 1788.0,1071.6 1793.8,1063.3 1799.6,1054.1 1805.4,1046.6 1811.2,1043.9 1817.0,1048.1 1822.8,1058.8 1828.6,1073.2 1834.4,1086.9 1840.2,1095.7 1846.0,1097.3 1851.8,1091.5 1857.6,1080.0 1863.4,1065.3 1869.2,1050.1 1875.0,1037.5 1880.8,1028.6 1886.6,1022.2 1892.4,1016.6 1898.2,1009.9 1904.0,1001.5 1909.8,991.8 1915.6,981.6 1921.4,972.0 1927.2,963.6 1933.0,958.0 1938.8,957.0 1944.6,961.6 1950.4,970.7 1956.2,981.4 1962.0,990.0 1967.8,994.3 1973.6,995.2 1979.4,995.2 1985.2,996.0 1991.0,997.6 1996.8,998.4 2002.6,996.7 2008.4,991.3 2014.2,982.5 2020.0,972.0 2025.8,962.3 2031.6,955.0 2037.4,949.8 2043.2,945.0 2049.0,939.0 2054.8,931.6 2060.6,924.0 2066.4,917.7 2072.2,912.9 2078.0,908.7 2083.8,903.6 2089.6,897.1 2095.4,890.9" fill="none" stroke="#f00000" stroke-width="3.7" stroke-linejoin="round"/>
<polyline points="1225.4,1190.4 1231.2,1193.0 1237.0,1196.7 1242.8,1202.0 1248.6,1210.0 1254.4,1220.9 1260.2,1233.0 1266.0,1242.4 1271.8,1245.4 1277.6,1239.5 1283.4,1224.5 1289.2,1206.1 1295.0,1190.0 1300.8,1179.3 1306.6,1174.0 1312.4,1172.7 1318.2,1172.7 1324.0,1172.4 1329.8,1171.1 1335.6,1169.8 1341.4,1170.1 1347.2,1173.0 1353.0,1177.8 1358.8,1183.0 1364.6,1186.5 1370.4,1187.6 1376.2,1187.5 1382.0,1188.7 1387.8,1192.7 1393.6,1198.3 1399.4,1201.9 1405.2,1200.5 1411.0,1193.8 1416.8,1183.7 1422.6,1173.2 1428.4,1164.8 1434.2,1159.4 1440.0,1156.3 1445.8,1154.7 1451.6,1153.9 1457.4,1154.6 1463.2,1158.7 1469.0,1167.1 1474.8,1178.2 1480.6,1188.1 1486.4,1193.2 1492.2,1192.5 1498.0,1188.1 1503.8,1183.4 1509.6,1180.9 1515.4,1180.7 1521.2,1180.9 1527.0,1179.8 1532.8,1176.2 1538.6,1170.2 1544.4,1162.8 1550.2,1156.0 1556.0,1151.7 1561.8,1150.7 1567.6,1153.0 1573.4,1157.2 1579.2,1161.5 1585.0,1163.4 1590.8,1161.9 1596.6,1157.5 1602.4,1152.0 1608.2,1146.6 1614.0,1141.5 1619.8,1136.7 1625.6,1133.4 1631.4,1132.3 1637.2,1132.5 1643.0,1132.2 1648.8,1129.9 1654.6,1126.3 1660.4,1123.3 1666.2,1122.7 1672.0,1125.1 1677.8,1129.7 1683.6,1135.2 1689.4,1139.8 1695.2,1141.3 1701.0,1138.0 1706.8,1129.9 1712.6,1119.6 1718.4,1110.2 1724.2,1103.8 1730.0,1100.6 1735.8,1099.8 1741.6,1100.7 1747.4,1103.5 1753.2,1108.5 1759.0,1115.3 1764.8,1121.8 1770.6,1126.0 1776.4,1127.2 1782.2,1126.4 1788.0,1125.5 1793.8,1125.5 1799.6,1125.5 1805.4,1123.3 1811.2,1116.9 1817.0,1106.0 1822.8,1091.8 1828.6,1077.1 1834.4,1065.1 1840.2,1058.0 1846.0,1056.3 1851.8,1057.9 1857.6,1059.0 1863.4,1056.5 1869.2,1049.5 1875.0,1040.5 1880.8,1032.1 1886.6,1025.4 1892.4,1019.5 1898.2,1012.4 1904.0,1002.6 1909.8,990.7 1915.6,979.6 1921.4,972.7 1927.2,971.6 1933.0,975.7 1938.8,982.8 1944.6,991.6 1950.4,1001.9 1956.2,1014.3 1962.0,1027.1 1967.8,1035.8 1973.6,1035.5 1979.4,1023.9 1985.2,1003.8 1991.0,981.5 1996.8,963.2 2002.6,951.1 2008.4,942.6 2014.2,932.7 2020.0,918.1 2025.8,899.4 2031.6,881.1 2037.4,868.7 2043.2,865.6 2049.0,871.7 2054.8,883.5 2060.6,897.2 2066.4,909.9 2072.2,919.3 2078.0,923.1 2083.8,919.7 2089.6,909.9 2095.4,899.4" fill="none" stroke="#f00000" stroke-width="3.7" stroke-linejoin="round"/>
<polyline points="1225.4,1205.9 1231.2,1212.2 1237.0,1220.3 1242.8,1227.9 1248.6,1233.4 1254.4,1237.9 1260.2,1242.5 1266.0,1247.1 1271.8,1251.4 1277.6,1253.5 1283.4,1251.0 1289.2,1244.5 1295.0,1235.0 1300.8,1223.0 1306.6,1210.0 1312.4,1198.3 1318.2,1190.0 1324.0,1186.0 1329.8,1185.6 1335.6,1188.0 1341.4,1192.3 1347.2,1197.6 1353.0,1203.1 1358.8,1208.7 1364.6,1215.5 1370.4,1224.5 1376.2,1234.6 1382.0,1243.5 1387.8,1247.7 1393.6,1244.4 1399.4,1233.1 1405.2,1215.6 1411.0,1196.0 1416.8,1178.2 1422.6,1165.6 1428.4,1159.8 1434.2,1159.8 1440.0,1163.3 1445.8,1167.2 1451.6,1169.5 1457.4,1170.0 1463.2,1171.0 1469.0,1175.3 1474.8,1183.3 1480.6,1192.5 1486.4,1198.6 1492.2,1198.6 1498.0,1192.5 1503.8,1183.2 1509.6,1174.0 1515.4,1166.7 1521.2,1161.2 1527.0,1156.3 1532.8,1151.4 1538.6,1147.6 1544.4,1147.3 1550.2,1151.1 1556.0,1156.9 1561.8,1160.7 1567.6,1159.1 1573.4,1152.7 1579.2,1144.5 1585.0,1137.8 1590.8,1133.6 1596.6,1131.7 1602.4,1130.8 1608.2,1130.2 1614.0,1129.4 1619.8,1128.6 1625.6,1128.8 1631.4,1130.3 1637.2,1132.1 1643.0,1132.0 1648.8,1127.9 1654.6,1119.7 1660.4,1109.7 1666.2,1101.4 1672.0,1096.7 1677.8,1094.5 1683.6,1091.2 1689.4,1083.6 1695.2,1071.3 1701.0,1057.8 1706.8,1047.8 1712.6,1045.2 1718.4,1050.5 1724.2,1061.0 1730.0,1072.8 1735.8,1082.5 1741.6,1089.0 1747.4,1093.4 1753.2,1098.0 1759.0,1104.5 1764.8,1112.1 1770.6,1117.6 1776.4,1117.2 1782.2,1108.2 1788.0,1091.4 1793.8,1071.1 1799.6,1053.1 1805.4,1041.8 1811.2,1039.1 1817.0,1043.4 1822.8,1051.1 1828.6,1058.1 1834.4,1061.7 1840.2,1061.2 1846.0,1057.4 1851.8,1051.7 1857.6,1045.3 1863.4,1039.3 1869.2,1034.3 1875.0,1030.9 1880.8,1028.7 1886.6,1026.7 1892.4,1024.5 1898.2,1023.2 1904.0,1023.4 1909.8,1025.1 1915.6,1027.5 1921.4,1029.1 1927.2,1028.7 1933.0,1025.6 1938.8,1020.0 1944.6,1012.2 1950.4,1002.7 1956.2,992.2 1962.0,981.6 1967.8,972.4 1973.6,966.3 1979.4,963.8 1985.2,963.4 1991.0,962.7 1996.8,959.3 2002.6,952.2 2008.4,941.9 2014.2,930.0 2020.0,918.5 2025.8,909.6 2031.6,903.8 2037.4,899.8 2043.2,895.0 2049.0,887.2 2054.8,876.2 2060.6,864.5 2066.4,856.5 2072.2,855.5 2078.0,862.0 2083.8,873.3 2089.6,884.8 2095.4,892.0" fill="none" stroke="#f00000" stroke-width="3.7" stroke-linejoin="round"/>
<polyline points="1225.4,1177.8 1231.2,1177.7 1237.0,1181.8 1242.8,1192.5 1248.6,1208.1 1254.4,1224.9 1260.2,1240.2 1266.0,1252.4 1271.8,1261.2 1277.6,1266.8 1283.4,1268.9 1289.2,1269.3 1295.0,1268.3 1300.8,1264.2 1306.6,1256.4 1312.4,1246.4 1318.2,1236.8 1324.0,1229.3 1329.8,1223.9 1335.6,1219.6 1341.4,1215.3 1347.2,1210.1 1353.0,1203.1 1358.8,1194.9 1364.6,1187.0 1370.4,1180.7 1376.2,1176.2 1382.0,1172.8 1387.8,1170.2 1393.6,1168.4 1399.4,1167.8 1405.2,1168.2 1411.0,1168.1 1416.8,1165.5 1422.6,1160.0 1428.4,1153.2 1434.2,1147.8 1440.0,1146.3 1445.8,1148.7 1451.6,1153.3 1457.4,1157.5 1463.2,1159.7 1469.0,1159.6 1474.8,1157.9 1480.6,1155.9 1486.4,1154.9 1492.2,1155.4 1498.0,1157.7 1503.8,1161.2 1509.6,1164.9 1515.4,1166.3 1521.2,1163.2 1527.0,1155.4 1532.8,1145.2 1538.6,1136.5 1544.4,1132.6 1550.2,1134.0 1556.0,1138.6 1561.8,1142.9 1567.6,1144.5 1573.4,1143.0 1579.2,1139.3 1585.0,1134.6 1590.8,1129.6 1596.6,1124.5 1602.4,1119.1 1608.2,1114.0 1614.0,1110.2 1619.8,1109.2 1625.6,1111.9 1631.4,1117.3 1637.2,1122.8 1643.0,1126.5 1648.8,1128.3 1654.6,1129.8 1660.4,1132.1 1666.2,1134.7 1672.0,1135.3 1677.8,1131.8 1683.6,1124.4 1689.4,1115.6 1695.2,1109.2 1701.0,1108.1 1706.8,1112.2 1712.6,1118.6 1718.4,1123.5 1724.2,1123.1 1730.0,1116.0 1735.8,1102.4 1741.6,1084.9 1747.4,1067.4 1753.2,1054.2 1759.0,1047.9 1764.8,1048.0 1770.6,1051.6 1776.4,1055.7 1782.2,1058.9 1788.0,1061.5 1793.8,1065.8 1799.6,1073.9 1805.4,1086.2 1811.2,1100.4 1817.0,1112.3 1822.8,1117.6 1828.6,1115.1 1834.4,1107.1 1840.2,1097.6 1846.0,1088.9 1851.8,1081.2 1857.6,1072.9 1863.4,1062.4 1869.2,1050.0 1875.0,1037.5 1880.8,1026.8 1886.6,1018.4 1892.4,1011.7 1898.2,1005.7 1904.0,999.6 1909.8,993.2 1915.6,986.6 1921.4,979.8 1927.2,972.8 1933.0,965.9 1938.8,960.1 1944.6,956.6 1950.4,955.9 1956.2,957.2 1962.0,958.9 1967.8,959.2 1973.6,958.2 1979.4,957.4 1985.2,958.7 1991.0,962.8 1996.8,968.3 2002.6,972.5 2008.4,973.3 2014.2,970.0 2020.0,964.2 2025.8,958.5 2031.6,955.3 2037.4,954.7 2043.2,955.3 2049.0,954.1 2054.8,947.4 2060.6,933.3 2066.4,912.9 2072.2,889.7 2078.0,868.8 2083.8,854.5 2089.6,847.9 2095.4,846.5" fill="none" stroke="#f00000" stroke-width="3.7" stroke-linejoin="round"/>
<polyline points="1225.4,1184.4 1231.2,1182.4 1237.0,1180.2 1242.8,1180.1 1248.6,1183.1 1254.4,1188.0 1260.2,1193.2 1266.0,1197.1 1271.8,1199.5 1277.6,1199.6 1283.4,1197.1 1289.2,1194.3 1295.0,1192.8 1300.8,1192.8 1306.6,1194.3 1312.4,1197.6 1318.2,1202.3 1324.0,1207.1 1329.8,1210.4 1335.6,1211.0 1341.4,1208.5 1347.2,1203.3 1353.0,1196.3 1358.8,1189.1 1364.6,1183.2 1370.4,1178.4 1376.2,1173.3 1382.0,1167.3 1387.8,1160.8 1393.6,1155.4 1399.4,1152.0 1405.2,1150.5 1411.0,1150.0 1416.8,1150.4 1422.6,1153.2 1428.4,1160.3 1434.2,1171.1 1440.0,1182.5 1445.8,1189.9 1451.6,1190.2 1457.4,1182.9 1463.2,1169.8 1469.0,1153.3 1474.8,1135.4 1480.6,1118.8 1486.4,1106.6 1492.2,1100.6 1498.0,1100.6 1503.8,1104.6 1509.6,1110.5 1515.4,1117.2 1521.2,1125.3 1527.0,1136.1 1532.8,1149.8 1538.6,1164.8 1544.4,1178.0 1550.2,1186.5 1556.0,1189.7 1561.8,1188.4 1567.6,1184.7 1573.4,1180.5 1579.2,1177.8 1585.0,1178.0 1590.8,1180.7 1596.6,1182.9 1602.4,1180.6 1608.2,1171.3 1614.0,1155.2 1619.8,1135.7 1625.6,1117.0 1631.4,1101.6 1637.2,1090.3 1643.0,1083.3 1648.8,1081.6 1654.6,1086.0 1660.4,1095.5 1666.2,1107.6 1672.0,1119.2 1677.8,1128.4 1683.6,1134.7 1689.4,1137.9 1695.2,1137.2 1701.0,1132.2 1706.8,1123.5 1712.6,1113.3 1718.4,1104.1 1724.2,1097.9 1730.0,1095.6 1735.8,1096.2 1741.6,1096.8 1747.4,1093.8 1753.2,1085.1 1759.0,1072.3 1764.8,1059.9 1770.6,1053.4 1776.4,1055.3 1782.2,1064.1 1788.0,1075.3 1793.8,1084.9 1799.6,1091.0 1805.4,1093.6 1811.2,1093.2 1817.0,1090.0 1822.8,1084.5 1828.6,1078.0 1834.4,1072.1 1840.2,1067.8 1846.0,1064.4 1851.8,1060.4 1857.6,1054.0 1863.4,1044.0 1869.2,1030.6 1875.0,1015.6 1880.8,1001.5 1886.6,990.0 1892.4,983.0 1898.2,981.3 1904.0,984.7 1909.8,991.6 1915.6,999.6 1921.4,1006.1 1927.2,1009.6 1933.0,1010.7 1938.8,1011.0 1944.6,1011.4 1950.4,1011.1 1956.2,1008.1 1962.0,1001.1 1967.8,990.6 1973.6,979.3 1979.4,969.5 1985.2,962.2 1991.0,957.4 1996.8,955.1 2002.6,955.1 2008.4,957.3 2014.2,960.3 2020.0,962.5 2025.8,962.5 2031.6,959.1 2037.4,952.0 2043.2,941.5 2049.0,929.2 2054.8,916.9 2060.6,906.3 2066.4,896.9 2072.2,886.8 2078.0,874.8 2083.8,861.4 2089.6,849.5 2095.4,841.9" fill="none" stroke="#f00000" stroke-width="3.7" stroke-linejoin="round"/>
</g>
<rect x="1225.4" y="802.2" width="870.00" height="543.10" fill="none" stroke="#141414" stroke-width="2.5"/>
<path d="M1370.40 1345.30V1335.80M1370.40 802.20V811.70M1515.40 1345.30V1335.80M1515.40 802.20V811.70M1660.40 1345.30V1335.80M1660.40 802.20V811.70M1805.40 1345.30V1335.80M1805.40 802.20V811.70M1950.40 1345.30V1335.80M1950.40 802.20V811.70M1225.40 1277.41H1234.90M2095.40 1277.41H2085.90M1225.40 1209.53H1234.90M2095.40 1209.53H2085.90M1225.40 1141.64H1234.90M2095.40 1141.64H2085.90M1225.40 1073.75H1234.90M2095.40 1073.75H2085.90M1225.40 1005.86H1234.90M2095.40 1005.86H2085.90M1225.40 937.97H1234.90M2095.40 937.97H2085.90M1225.40 870.09H1234.90M2095.40 870.09H2085.90" stroke="#141414" stroke-width="2.5" fill="none"/>
<text x="1225.40" y="1375.90" font-size="28.4" text-anchor="middle">1950</text>
<text x="1370.40" y="1375.90" font-size="28.4" text-anchor="middle">1975</text>
<text x="1515.40" y="1375.90" font-size="28.4" text-anchor="middle">2000</text>
<text x="1660.40" y="1375.90" font-size="28.4" text-anchor="middle">2025</text>
<text x="1805.40" y="1375.90" font-size="28.4" text-anchor="middle">2050</text>
<text x="1950.40" y="1375.90" font-size="28.4" text-anchor="middle">2075</text>
<text x="2095.40" y="1375.90" font-size="28.4" text-anchor="middle">2100</text>
<text x="1216.20" y="1353.20" font-size="28.4" text-anchor="end">-0.2</text>
<text x="1216.20" y="1285.31" font-size="28.4" text-anchor="end">-0.1</text>
<text x="1216.20" y="1217.43" font-size="28.4" text-anchor="end">0</text>
<text x="1216.20" y="1149.54" font-size="28.4" text-anchor="end">0.1</text>
<text x="1216.20" y="1081.65" font-size="28.4" text-anchor="end">0.2</text>
<text x="1216.20" y="1013.76" font-size="28.4" text-anchor="end">0.3</text>
<text x="1216.20" y="945.87" font-size="28.4" text-anchor="end">0.4</text>
<text x="1216.20" y="877.99" font-size="28.4" text-anchor="end">0.5</text>
<text x="1216.20" y="810.10" font-size="28.4" text-anchor="end">0.6</text>
<text x="172.20" y="35.40" font-size="36.40" font-weight="normal" textLength="733.12" lengthAdjust="spacingAndGlyphs">Global mean surface air temperature anomaly</text>
<text x="1335.79" y="35.20" font-size="36.40" font-weight="normal" textLength="725.93" lengthAdjust="spacingAndGlyphs">Hemispheric precipitation difference anomaly</text>
<text x="158.21" y="776.10" font-size="36.40" font-weight="normal" textLength="798.50" lengthAdjust="spacingAndGlyphs">Southern hemisphere yearly sea ice area anomaly</text>
<text x="1342.10" y="776.60" font-size="36.40" font-weight="normal" textLength="716.37" lengthAdjust="spacingAndGlyphs">Antarctic coastal temperature anomaly 400m</text>
<text x="24.78" y="43.90" font-size="56.50" font-weight="bold" textLength="30.02" lengthAdjust="spacingAndGlyphs">a</text>
<text x="1111.80" y="41.90" font-size="54.00" font-weight="bold" textLength="36.66" lengthAdjust="spacingAndGlyphs">b</text>
<text x="24.02" y="774.70" font-size="58.00" font-weight="bold" textLength="33.03" lengthAdjust="spacingAndGlyphs">c</text>
<text x="1112.31" y="772.00" font-size="54.00" font-weight="bold" textLength="38.00" lengthAdjust="spacingAndGlyphs">d</text>
<text x="481.34" y="689.20" font-size="47.50" font-weight="normal" textLength="87.25" lengthAdjust="spacingAndGlyphs" class="big">Year</text>
<text x="1598.33" y="689.00" font-size="47.50" font-weight="normal" textLength="87.56" lengthAdjust="spacingAndGlyphs" class="big">Year</text>
<text x="481.54" y="1435.80" font-size="47.50" font-weight="normal" textLength="86.85" lengthAdjust="spacingAndGlyphs" class="big">Year</text>
<text x="1618.44" y="1435.80" font-size="47.50" font-weight="normal" textLength="87.36" lengthAdjust="spacingAndGlyphs" class="big">Year</text>
<rect x="108.6" y="58.3" width="544.3" height="203.5" fill="#fff" stroke="#000" stroke-width="4"/>
<path d="M128 101.5H220" stroke="#000" stroke-width="10.6"/>
<path d="M128 185.3H220" stroke="#ff2200" stroke-width="10.6"/>
<text x="241.12" y="115.80" font-size="31.00" font-weight="normal" textLength="369.70" lengthAdjust="spacingAndGlyphs">ESM2M RCP8.5 ensemble</text>
<text x="241.10" y="192.00" font-size="31.00" font-weight="normal" textLength="300.92" lengthAdjust="spacingAndGlyphs">Freshwater ensemble</text>
<text x="241.69" y="229.60" font-size="31.00" font-weight="normal" textLength="210.59" lengthAdjust="spacingAndGlyphs">base members</text>
<text x="1226.72" y="56.50" font-size="28.40" font-weight="normal" textLength="18.19" lengthAdjust="spacingAndGlyphs">×</text>
<text x="1246.41" y="53.60" font-size="28.40" font-weight="normal" textLength="31.80" lengthAdjust="spacingAndGlyphs">10</text>
<text x="1278.95" y="39.60" font-size="20.00" font-weight="normal" textLength="18.78" lengthAdjust="spacingAndGlyphs">-6</text>
<text class="big" transform="translate(33.75,349.01) rotate(-90)" x="0" y="0" font-size="46.50" font-weight="normal" textLength="30.49" lengthAdjust="spacingAndGlyphs">C</text>
<text transform="translate(22.70,365.81) rotate(-90)" x="0" y="0" font-size="30.00" font-weight="normal" textLength="15.50" lengthAdjust="spacingAndGlyphs">o</text>
<text class="big" transform="translate(1147.55,1093.16) rotate(-90)" x="0" y="0" font-size="46.50" font-weight="normal" textLength="31.18" lengthAdjust="spacingAndGlyphs">C</text>
<text transform="translate(1137.10,1110.07) rotate(-90)" x="0" y="0" font-size="30.00" font-weight="normal" textLength="16.33" lengthAdjust="spacingAndGlyphs">o</text>
<text class="big" transform="translate(1177.12,422.88) rotate(-90)" x="0" y="0" font-size="45.50" font-weight="normal" textLength="161.56" lengthAdjust="spacingAndGlyphs">mm/day</text>
<text class="big" transform="translate(48.82,1193.29) rotate(-90)" x="0" y="0" font-size="44.00" font-weight="normal" textLength="199.71" lengthAdjust="spacingAndGlyphs">Million km</text>
<text transform="translate(39.00,995.03) rotate(-90)" x="0" y="0" font-size="33.00" font-weight="normal" textLength="18.14" lengthAdjust="spacingAndGlyphs">2</text>
</svg>
</body></html>
